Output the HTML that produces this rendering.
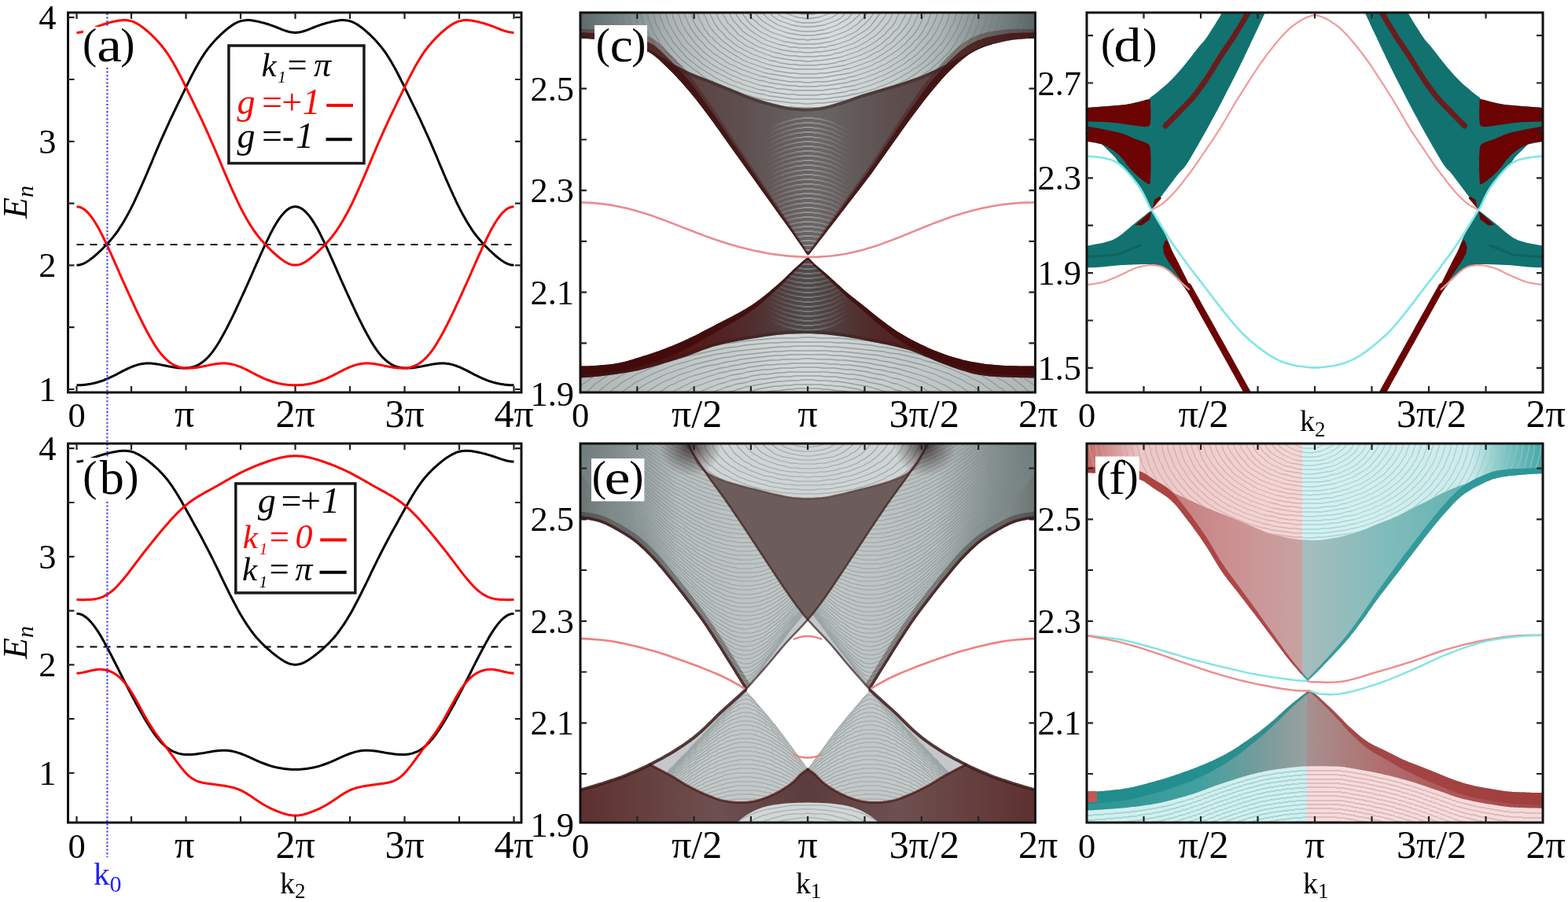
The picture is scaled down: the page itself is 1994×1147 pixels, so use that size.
<!DOCTYPE html>
<html><head><meta charset="utf-8"><title>Band structure figure</title>
<style>html,body{margin:0;padding:0;background:#fff;overflow:hidden}svg{display:block}text{font-family:'Liberation Serif','DejaVu Serif',serif}</style>
</head><body>
<svg width="1994" height="1147" viewBox="0 0 1994 1147"><clipPath id="clc"><rect x="738" y="16" width="578.5" height="483.3"/></clipPath>
<g clip-path="url(#clc)">
<linearGradient id="gcb" x1="738" x2="1316.5" y1="0" y2="0" gradientUnits="userSpaceOnUse"><stop offset="0" stop-color="#5e6a6a"/><stop offset="0.08" stop-color="#6e7878"/><stop offset="0.16" stop-color="#9aa2a2"/><stop offset="0.5" stop-color="#a8aeae"/><stop offset="0.84" stop-color="#9aa2a2"/><stop offset="0.93" stop-color="#707a7a"/><stop offset="1" stop-color="#566262"/></linearGradient>
<path d="M733 11l0 37.3 3 0.1 2.9 0.2 3 0.2 2.9 0.2 3 0.2 2.9 0.3 3 0.3 3 0.3 2.9 0.4 3 0.3 2.9 0.4 3 0.4 2.9 0.5 3 0.5 3 0.5 2.9 0.5 3 0.6 2.9 0.5 3 0.6 2.9 0.6 3 0.7 3 0.7 2.9 0.7 3 0.8 2.9 0.8 3 0.9 2.9 0.9 3 1 3 1 2.9 1.3 3 1.3 2.9 1.7 3 2 2.9 2.3 3 2.5 3 2.7 2.9 2.8 3 2.9 2.9 2.9 3 2.9 2.9 2.9 3 3 3 3.1 2.9 3.2 3 3.2 2.9 3.4 3 3.4 2.9 3.4 3 3.5 3 3.6 2.9 3.6 3 3.8 2.9 3.8 3 3.9 3 3.9 2.9 3.9 3 4 2.9 4 3 4 2.9 4.1 3 4.1 3 4.2 2.9 4.2 3 4.2 2.9 4.2 3 4.2 2.9 4.1 3 4.1 3 4.2 2.9 4.1 3 4.1 2.9 4.2 3 4.1 2.9 4.1 3 4.2 3 4.1 2.9 4.1 3 4.2 2.9 4.1 3 4.2 2.9 4.1 3 4.2 3 4.1 2.9 4.2 3 4.1 2.9 4.1 3 4.1 2.9 4.1 3 4.1 3 4.2 2.9 4.1 3 4.1 2.9 4.2 3 4.3 2.9 4.2 3 4.3 3 4.3 2.9 4.4 3 4.3 2.9 1 3-3.8 2.9-3.8 3-3.8 3-3.9 2.9-3.8 3-3.8 2.9-3.8 3-3.9 2.9-3.8 3-3.8 3-3.8 2.9-3.9 3-3.8 2.9-3.9 3-3.8 2.9-3.8 3-3.9 3-3.8 2.9-3.8 3-3.9 2.9-3.8 3-3.8 2.9-3.8 3-3.9 3-3.9 2.9-3.9 3-4 2.9-4.1 3-4.1 2.9-4.2 3-4.2 3-4.1 2.9-4.2 3-4.2 2.9-4.2 3-4.1 2.9-4.2 3-4.2 3-4.2 2.9-4.1 3-4.2 2.9-4.1 3-4.1 2.9-4 3-3.9 3-4 2.9-4 3-3.9 2.9-3.9 3-3.8 3-3.7 2.9-3.7 3-3.6 2.9-3.5 3-3.5 2.9-3.5 3-3.4 3-3.3 2.9-3.2 3-3.1 2.9-2.9 3-2.8 2.9-2.7 3-2.7 3-2.6 2.9-2.5 3-2.4 2.9-2.2 3-2.1 2.9-1.9 3-1.6 3-1.5 2.9-1.4 3-1.3 2.9-1.2 3-1.1 2.9-1 3-0.9 3-0.8 2.9-0.7 3-0.7 2.9-0.7 3-0.7 2.9-0.6 3-0.7 3-0.5 2.9-0.5 3-0.4 2.9-0.3 3-0.3 2.9-0.2 3-0.3 3-0.2 2.9-0.2 3-0.1 2.9-0.1 3-0.1 2.9 0 3 0.1 0-37.9z" fill="url(#gcb)" />
<linearGradient id="gcw" x1="812" x2="1262" y1="0" y2="0" gradientUnits="userSpaceOnUse"><stop offset="0" stop-color="#5a3434"/><stop offset="0.3" stop-color="#5e5050"/><stop offset="0.5" stop-color="#6a6666"/><stop offset="0.7" stop-color="#5e5050"/><stop offset="1" stop-color="#5a3434"/></linearGradient>
<path d="M812 61.1l2.8 0.9 2.9 1 2.8 1.1 2.8 1.3 2.9 1.4 2.8 1.8 2.8 2 2.8 2.3 2.9 2.4 2.8 2.7 2.8 2.7 2.9 2.8 2.8 2.8 2.8 2.7 2.9 2.8 2.8 2.9 2.8 2.9 2.8 3.1 2.9 3.1 2.8 3.2 2.8 3.2 2.9 3.3 2.8 3.3 2.8 3.4 2.9 3.5 2.8 3.5 2.8 3.7 2.8 3.6 2.9 3.8 2.8 3.8 2.8 3.7 2.9 3.9 2.8 3.8 2.8 3.8 2.9 4 2.8 3.9 2.8 4 2.8 4 2.9 4 2.8 4.1 2.8 4 2.9 3.9 2.8 4 2.8 3.9 2.9 4 2.8 4 2.8 3.9 2.8 4 2.9 3.9 2.8 4 2.8 3.9 2.9 4 2.8 3.9 2.8 4 2.9 4 2.8 4 2.8 3.9 2.9 4 2.8 4 2.8 3.9 2.8 4 2.9 3.9 2.8 4 2.8 3.9 2.9 3.9 2.8 3.9 2.8 4 2.9 4 2.8 4 2.8 4 2.8 4.1 2.9 4.1 2.8 4.1 2.8 4.1 2.9 4.2 2.8 4.2 2.8-2.5 2.9-3.7 2.8-3.6 2.8-3.7 2.8-3.6 2.9-3.7 2.8-3.7 2.8-3.6 2.9-3.7 2.8-3.6 2.8-3.7 2.9-3.7 2.8-3.7 2.8-3.6 2.8-3.7 2.9-3.7 2.8-3.7 2.8-3.6 2.9-3.7 2.8-3.7 2.8-3.6 2.9-3.7 2.8-3.6 2.8-3.7 2.8-3.6 2.9-3.7 2.8-3.8 2.8-3.8 2.9-3.8 2.8-3.9 2.8-4 2.9-4 2.8-4 2.8-4 2.9-4 2.8-4 2.8-4 2.8-4 2.9-4 2.8-4 2.8-4 2.9-3.9 2.8-4 2.8-4 2.9-3.9 2.8-3.9 2.8-3.8 2.8-3.8 2.9-3.8 2.8-3.7 2.8-3.8 2.9-3.7 2.8-3.6 2.8-3.6 2.9-3.5 2.8-3.4 2.8-3.4 2.8-3.3 2.9-3.4 2.8-3.2 2.8-3.2 2.9-3.1 2.8-3 2.8-2.8 2.9-2.8 2.8-2.6 2.8-2.6 2.8-2.5 2.9-2.4 2.8-2.4 2.8-2.2 2.9-2.1 2.8-1.9 2.8-1.7 2.9-1.6 2.8-1.4 2.8-1.3 2.8-1.2 2.9-1.2 2.8-1 2.8-0.9 2.9-0.9 2.8-0.8 0-2.2-2.8 1-2.9 1.1-2.8 1.2-2.8 1.1-2.9 1.2-2.8 1.3-2.8 1.3-2.8 1.4-2.9 1.4-2.8 1.5-2.8 1.5-2.9 1.4-2.8 1.5-2.8 1.4-2.9 1.4-2.8 1.5-2.8 1.4-2.8 1.4-2.9 1.4-2.8 1.4-2.8 1.4-2.9 1.4-2.8 1.3-2.8 1.4-2.9 1.3-2.8 1.3-2.8 1.4-2.8 1.3-2.9 1.2-2.8 1.3-2.8 1.1-2.9 1.2-2.8 1.1-2.8 1-2.9 1.1-2.8 1-2.8 1-2.8 0.9-2.9 1-2.8 0.9-2.8 0.9-2.9 0.9-2.8 0.9-2.8 0.9-2.9 0.8-2.8 0.8-2.8 0.9-2.8 0.8-2.9 0.8-2.8 0.8-2.8 0.9-2.9 0.8-2.8 0.8-2.8 0.9-2.9 0.8-2.8 0.8-2.8 0.9-2.9 0.8-2.8 0.9-2.8 0.9-2.8 1-2.9 1-2.8 1-2.8 1-2.9 1-2.8 1-2.8 1-2.9 0.9-2.8 0.9-2.8 0.8-2.8 0.9-2.9 0.8-2.8 0.8-2.8 0.8-2.9 0.7-2.8 0.6-2.8 0.5-2.9 0.4-2.8 0.3-2.8 0.3-2.8 0.2-2.9 0.1-2.8 0.1-2.8 0-2.9-0.1-2.8-0.1-2.8-0.2-2.9-0.1-2.8-0.2-2.8-0.3-2.8-0.3-2.9-0.5-2.8-0.5-2.8-0.6-2.9-0.6-2.8-0.7-2.8-0.7-2.9-0.7-2.8-0.7-2.8-0.7-2.8-0.8-2.9-0.8-2.8-0.8-2.8-0.9-2.9-0.9-2.8-0.9-2.8-0.9-2.9-1-2.8-1-2.8-1.1-2.9-1.1-2.8-1.2-2.8-1.1-2.8-1.2-2.9-1.2-2.8-1.2-2.8-1.1-2.9-1.2-2.8-1.1-2.8-1.2-2.9-1.1-2.8-1.1-2.8-1.2-2.8-1.1-2.9-1.1-2.8-1.2-2.8-1.1-2.9-1.1-2.8-1.1-2.8-1.1-2.9-1.1-2.8-1.1-2.8-1.1-2.8-1.1-2.9-1.2-2.8-1.3-2.8-1.3-2.9-1.3-2.8-1.4-2.8-1.4-2.9-1.5-2.8-1.4-2.8-1.5-2.8-1.5-2.9-1.6-2.8-1.5-2.8-1.7-2.9-1.7-2.8-1.7-2.8-1.7-2.9-1.7-2.8-1.7-2.8-1.7-2.8-1.6-2.9-1.6-2.8-1.6-2.8-1.6-2.9-1.5-2.8-1.5z" fill="url(#gcw)" />
<linearGradient id="gcwm" x1="975" x2="1080" y1="0" y2="0" gradientUnits="userSpaceOnUse"><stop offset="0" stop-color="#d8dede" stop-opacity="0"/><stop offset="0.5" stop-color="#d8dede" stop-opacity="0.8"/><stop offset="1" stop-color="#d8dede" stop-opacity="0"/></linearGradient>
<clipPath id="h1"><path d="M812 61.1l2.8 0.9 2.9 1 2.8 1.1 2.8 1.3 2.9 1.4 2.8 1.8 2.8 2 2.8 2.3 2.9 2.4 2.8 2.7 2.8 2.7 2.9 2.8 2.8 2.8 2.8 2.7 2.9 2.8 2.8 2.9 2.8 2.9 2.8 3.1 2.9 3.1 2.8 3.2 2.8 3.2 2.9 3.3 2.8 3.3 2.8 3.4 2.9 3.5 2.8 3.5 2.8 3.7 2.8 3.6 2.9 3.8 2.8 3.8 2.8 3.7 2.9 3.9 2.8 3.8 2.8 3.8 2.9 4 2.8 3.9 2.8 4 2.8 4 2.9 4 2.8 4.1 2.8 4 2.9 3.9 2.8 4 2.8 3.9 2.9 4 2.8 4 2.8 3.9 2.8 4 2.9 3.9 2.8 4 2.8 3.9 2.9 4 2.8 3.9 2.8 4 2.9 4 2.8 4 2.8 3.9 2.9 4 2.8 4 2.8 3.9 2.8 4 2.9 3.9 2.8 4 2.8 3.9 2.9 3.9 2.8 3.9 2.8 4 2.9 4 2.8 4 2.8 4 2.8 4.1 2.9 4.1 2.8 4.1 2.8 4.1 2.9 4.2 2.8 4.2 2.8-2.5 2.9-3.7 2.8-3.6 2.8-3.7 2.8-3.6 2.9-3.7 2.8-3.7 2.8-3.6 2.9-3.7 2.8-3.6 2.8-3.7 2.9-3.7 2.8-3.7 2.8-3.6 2.8-3.7 2.9-3.7 2.8-3.7 2.8-3.6 2.9-3.7 2.8-3.7 2.8-3.6 2.9-3.7 2.8-3.6 2.8-3.7 2.8-3.6 2.9-3.7 2.8-3.8 2.8-3.8 2.9-3.8 2.8-3.9 2.8-4 2.9-4 2.8-4 2.8-4 2.9-4 2.8-4 2.8-4 2.8-4 2.9-4 2.8-4 2.8-4 2.9-3.9 2.8-4 2.8-4 2.9-3.9 2.8-3.9 2.8-3.8 2.8-3.8 2.9-3.8 2.8-3.7 2.8-3.8 2.9-3.7 2.8-3.6 2.8-3.6 2.9-3.5 2.8-3.4 2.8-3.4 2.8-3.3 2.9-3.4 2.8-3.2 2.8-3.2 2.9-3.1 2.8-3 2.8-2.8 2.9-2.8 2.8-2.6 2.8-2.6 2.8-2.5 2.9-2.4 2.8-2.4 2.8-2.2 2.9-2.1 2.8-1.9 2.8-1.7 2.9-1.6 2.8-1.4 2.8-1.3 2.8-1.2 2.9-1.2 2.8-1 2.8-0.9 2.9-0.9 2.8-0.8 0-2.2-2.8 1-2.9 1.1-2.8 1.2-2.8 1.1-2.9 1.2-2.8 1.3-2.8 1.3-2.8 1.4-2.9 1.4-2.8 1.5-2.8 1.5-2.9 1.4-2.8 1.5-2.8 1.4-2.9 1.4-2.8 1.5-2.8 1.4-2.8 1.4-2.9 1.4-2.8 1.4-2.8 1.4-2.9 1.4-2.8 1.3-2.8 1.4-2.9 1.3-2.8 1.3-2.8 1.4-2.8 1.3-2.9 1.2-2.8 1.3-2.8 1.1-2.9 1.2-2.8 1.1-2.8 1-2.9 1.1-2.8 1-2.8 1-2.8 0.9-2.9 1-2.8 0.9-2.8 0.9-2.9 0.9-2.8 0.9-2.8 0.9-2.9 0.8-2.8 0.8-2.8 0.9-2.8 0.8-2.9 0.8-2.8 0.8-2.8 0.9-2.9 0.8-2.8 0.8-2.8 0.9-2.9 0.8-2.8 0.8-2.8 0.9-2.9 0.8-2.8 0.9-2.8 0.9-2.8 1-2.9 1-2.8 1-2.8 1-2.9 1-2.8 1-2.8 1-2.9 0.9-2.8 0.9-2.8 0.8-2.8 0.9-2.9 0.8-2.8 0.8-2.8 0.8-2.9 0.7-2.8 0.6-2.8 0.5-2.9 0.4-2.8 0.3-2.8 0.3-2.8 0.2-2.9 0.1-2.8 0.1-2.8 0-2.9-0.1-2.8-0.1-2.8-0.2-2.9-0.1-2.8-0.2-2.8-0.3-2.8-0.3-2.9-0.5-2.8-0.5-2.8-0.6-2.9-0.6-2.8-0.7-2.8-0.7-2.9-0.7-2.8-0.7-2.8-0.7-2.8-0.8-2.9-0.8-2.8-0.8-2.8-0.9-2.9-0.9-2.8-0.9-2.8-0.9-2.9-1-2.8-1-2.8-1.1-2.9-1.1-2.8-1.2-2.8-1.1-2.8-1.2-2.9-1.2-2.8-1.2-2.8-1.1-2.9-1.2-2.8-1.1-2.8-1.2-2.9-1.1-2.8-1.1-2.8-1.2-2.8-1.1-2.9-1.1-2.8-1.2-2.8-1.1-2.9-1.1-2.8-1.1-2.8-1.1-2.9-1.1-2.8-1.1-2.8-1.1-2.8-1.1-2.9-1.2-2.8-1.3-2.8-1.3-2.9-1.3-2.8-1.4-2.8-1.4-2.9-1.5-2.8-1.4-2.8-1.5-2.8-1.5-2.9-1.6-2.8-1.5-2.8-1.7-2.9-1.7-2.8-1.7-2.8-1.7-2.9-1.7-2.8-1.7-2.8-1.7-2.8-1.6-2.9-1.6-2.8-1.6-2.8-1.6-2.9-1.5-2.8-1.5z"/></clipPath>
<path d="M970 170l4-3 4-2 4-3 4-2 4-2 4-1 4-2 4-1 4-1 4-1 4-1 4 0 4-1 4 0 3 0 4 0 4 1 4 0 4 1 4 1 4 1 4 1 4 2 4 2 4 2 4 2 4 2 4 2 4 3M970 176l4-3 4-2 4-3 4-2 4-2 4-1 4-2 4-1 4-1 4-1 4-1 4 0 4-1 4 0 3 0 4 0 4 1 4 0 4 1 4 1 4 1 4 1 4 2 4 2 4 2 4 2 4 2 4 2 4 3M970 182l4-3 4-2 4-3 4-2 4-2 4-1 4-2 4-1 4-1 4-1 4-1 4 0 4-1 4 0 3 0 4 0 4 1 4 0 4 1 4 1 4 1 4 1 4 2 4 2 4 2 4 2 4 2 4 2 4 3M970 188l4-3 4-2 4-3 4-2 4-2 4-1 4-2 4-1 4-1 4-1 4-1 4 0 4-1 4 0 3 0 4 0 4 1 4 0 4 1 4 1 4 1 4 1 4 2 4 2 4 2 4 2 4 2 4 2 4 3M970 194l4-3 4-2 4-3 4-2 4-2 4-1 4-2 4-1 4-1 4-1 4-1 4 0 4-1 4 0 3 0 4 0 4 1 4 0 4 1 4 1 4 1 4 1 4 2 4 2 4 2 4 2 4 2 4 2 4 3M970 200l4-3 4-2 4-3 4-2 4-2 4-1 4-2 4-1 4-1 4-1 4-1 4 0 4-1 4 0 3 0 4 0 4 1 4 0 4 1 4 1 4 1 4 1 4 2 4 2 4 2 4 2 4 2 4 2 4 3M970 206l4-3 4-2 4-3 4-2 4-2 4-1 4-2 4-1 4-1 4-1 4-1 4 0 4-1 4 0 3 0 4 0 4 1 4 0 4 1 4 1 4 1 4 1 4 2 4 2 4 2 4 2 4 2 4 2 4 3M970 212l4-3 4-2 4-3 4-2 4-2 4-1 4-2 4-1 4-1 4-1 4-1 4 0 4-1 4 0 3 0 4 0 4 1 4 0 4 1 4 1 4 1 4 1 4 2 4 2 4 2 4 2 4 2 4 2 4 3M970 218l4-3 4-2 4-3 4-2 4-2 4-1 4-2 4-1 4-1 4-1 4-1 4 0 4-1 4 0 3 0 4 0 4 1 4 0 4 1 4 1 4 1 4 1 4 2 4 2 4 2 4 2 4 2 4 2 4 3M970 224l4-3 4-2 4-3 4-2 4-2 4-1 4-2 4-1 4-1 4-1 4-1 4 0 4-1 4 0 3 0 4 0 4 1 4 0 4 1 4 1 4 1 4 1 4 2 4 2 4 2 4 2 4 2 4 2 4 3M970 230l4-3 4-2 4-3 4-2 4-2 4-1 4-2 4-1 4-1 4-1 4-1 4 0 4-1 4 0 3 0 4 0 4 1 4 0 4 1 4 1 4 1 4 1 4 2 4 2 4 2 4 2 4 2 4 2 4 3M970 236l4-3 4-2 4-3 4-2 4-2 4-1 4-2 4-1 4-1 4-1 4-1 4 0 4-1 4 0 3 0 4 0 4 1 4 0 4 1 4 1 4 1 4 1 4 2 4 2 4 2 4 2 4 2 4 2 4 3M970 242l4-3 4-2 4-3 4-2 4-2 4-1 4-2 4-1 4-1 4-1 4-1 4 0 4-1 4 0 3 0 4 0 4 1 4 0 4 1 4 1 4 1 4 1 4 2 4 2 4 2 4 2 4 2 4 2 4 3M970 248l4-3 4-2 4-3 4-2 4-2 4-1 4-2 4-1 4-1 4-1 4-1 4 0 4-1 4 0 3 0 4 0 4 1 4 0 4 1 4 1 4 1 4 1 4 2 4 2 4 2 4 2 4 2 4 2 4 3M970 254l4-3 4-2 4-3 4-2 4-2 4-1 4-2 4-1 4-1 4-1 4-1 4 0 4-1 4 0 3 0 4 0 4 1 4 0 4 1 4 1 4 1 4 1 4 2 4 2 4 2 4 2 4 2 4 2 4 3M970 260l4-3 4-2 4-3 4-2 4-2 4-1 4-2 4-1 4-1 4-1 4-1 4 0 4-1 4 0 3 0 4 0 4 1 4 0 4 1 4 1 4 1 4 1 4 2 4 2 4 2 4 2 4 2 4 2 4 3M970 266l4-3 4-2 4-3 4-2 4-2 4-1 4-2 4-1 4-1 4-1 4-1 4 0 4-1 4 0 3 0 4 0 4 1 4 0 4 1 4 1 4 1 4 1 4 2 4 2 4 2 4 2 4 2 4 2 4 3M970 272l4-3 4-2 4-3 4-2 4-2 4-1 4-2 4-1 4-1 4-1 4-1 4 0 4-1 4 0 3 0 4 0 4 1 4 0 4 1 4 1 4 1 4 1 4 2 4 2 4 2 4 2 4 2 4 2 4 3M970 278l4-3 4-2 4-3 4-2 4-2 4-1 4-2 4-1 4-1 4-1 4-1 4 0 4-1 4 0 3 0 4 0 4 1 4 0 4 1 4 1 4 1 4 1 4 2 4 2 4 2 4 2 4 2 4 2 4 3M970 284l4-3 4-2 4-3 4-2 4-2 4-1 4-2 4-1 4-1 4-1 4-1 4 0 4-1 4 0 3 0 4 0 4 1 4 0 4 1 4 1 4 1 4 1 4 2 4 2 4 2 4 2 4 2 4 2 4 3M970 290l4-3 4-2 4-3 4-2 4-2 4-1 4-2 4-1 4-1 4-1 4-1 4 0 4-1 4 0 3 0 4 0 4 1 4 0 4 1 4 1 4 1 4 1 4 2 4 2 4 2 4 2 4 2 4 2 4 3M970 296l4-3 4-2 4-3 4-2 4-2 4-1 4-2 4-1 4-1 4-1 4-1 4 0 4-1 4 0 3 0 4 0 4 1 4 0 4 1 4 1 4 1 4 1 4 2 4 2 4 2 4 2 4 2 4 2 4 3M970 302l4-3 4-2 4-3 4-2 4-2 4-1 4-2 4-1 4-1 4-1 4-1 4 0 4-1 4 0 3 0 4 0 4 1 4 0 4 1 4 1 4 1 4 1 4 2 4 2 4 2 4 2 4 2 4 2 4 3M970 308l4-3 4-2 4-3 4-2 4-2 4-1 4-2 4-1 4-1 4-1 4-1 4 0 4-1 4 0 3 0 4 0 4 1 4 0 4 1 4 1 4 1 4 1 4 2 4 2 4 2 4 2 4 2 4 2 4 3M970 314l4-3 4-2 4-3 4-2 4-2 4-1 4-2 4-1 4-1 4-1 4-1 4 0 4-1 4 0 3 0 4 0 4 1 4 0 4 1 4 1 4 1 4 1 4 2 4 2 4 2 4 2 4 2 4 2 4 3M970 320l4-3 4-2 4-3 4-2 4-2 4-1 4-2 4-1 4-1 4-1 4-1 4 0 4-1 4 0 3 0 4 0 4 1 4 0 4 1 4 1 4 1 4 1 4 2 4 2 4 2 4 2 4 2 4 2 4 3M970 326l4-3 4-2 4-3 4-2 4-2 4-1 4-2 4-1 4-1 4-1 4-1 4 0 4-1 4 0 3 0 4 0 4 1 4 0 4 1 4 1 4 1 4 1 4 2 4 2 4 2 4 2 4 2 4 2 4 3M970 332l4-3 4-2 4-3 4-2 4-2 4-1 4-2 4-1 4-1 4-1 4-1 4 0 4-1 4 0 3 0 4 0 4 1 4 0 4 1 4 1 4 1 4 1 4 2 4 2 4 2 4 2 4 2 4 2 4 3M970 338l4-3 4-2 4-3 4-2 4-2 4-1 4-2 4-1 4-1 4-1 4-1 4 0 4-1 4 0 3 0 4 0 4 1 4 0 4 1 4 1 4 1 4 1 4 2 4 2 4 2 4 2 4 2 4 2 4 3" clip-path="url(#h1)" fill="none" stroke="url(#gcwm)" stroke-width="2.0" opacity="0.5" />
<linearGradient id="gcc" x1="738" x2="1316.5" y1="0" y2="0" gradientUnits="userSpaceOnUse"><stop offset="0" stop-color="#5e6a6a"/><stop offset="0.1" stop-color="#7c8888"/><stop offset="0.2" stop-color="#aeb4b4"/><stop offset="0.3" stop-color="#c4caca"/><stop offset="0.45" stop-color="#d6dada"/><stop offset="0.55" stop-color="#d8dcdc"/><stop offset="0.7" stop-color="#c4caca"/><stop offset="0.8" stop-color="#aab2b2"/><stop offset="0.9" stop-color="#7e8888"/><stop offset="1" stop-color="#5a6666"/></linearGradient>
<path d="M733 11l0 29.8 2 0 1.9 0.1 2 0.2 2 0.1 1.9 0.1 2 0.2 2 0.1 1.9 0.1 2 0.1 2 0.1 2 0.1 1.9 0 2 0.1 2 0.2 1.9 0.1 2 0.1 2 0.2 1.9 0.1 2 0.2 2 0.2 1.9 0.2 2 0.2 2 0.3 1.9 0.2 2 0.2 2 0.3 1.9 0.3 2 0.2 2 0.3 1.9 0.3 2 0.3 2 0.3 2 0.3 1.9 0.4 2 0.4 2 0.4 1.9 0.4 2 0.4 2 0.5 1.9 0.5 2 0.5 2 0.5 1.9 0.6 2 0.6 2 0.7 1.9 0.8 2 0.9 2 1 1.9 1.2 2 1.3 2 1.4 1.9 1.5 2 1.6 2 1.8 2 1.9 1.9 1.9 2 1.9 2 1.9 1.9 2 2 1.9 2 1.9 1.9 2 2 2 2 1.4 1.9 1 2 1 2 1 1.9 1 2 1 2 1 1.9 0.9 2 0.9 2 0.9 1.9 0.9 2 0.9 2 0.8 2 0.8 1.9 0.8 2 0.8 2 0.7 1.9 0.8 2 0.8 2 0.7 1.9 0.8 2 0.7 2 0.8 1.9 0.8 2 0.7 2 0.8 1.9 0.8 2 0.8 2 0.8 1.9 0.8 2 0.8 2 0.8 1.9 0.8 2 0.8 2 0.8 2 0.8 1.9 0.7 2 0.8 2 0.8 1.9 0.9 2 0.8 2 0.8 1.9 0.8 2 0.9 2 0.8 1.9 0.8 2 0.8 2 0.7 1.9 0.8 2 0.7 2 0.7 1.9 0.6 2 0.7 2 0.6 2 0.7 1.9 0.6 2 0.6 2 0.6 1.9 0.6 2 0.5 2 0.6 1.9 0.5 2 0.5 2 0.5 1.9 0.5 2 0.5 2 0.4 1.9 0.5 2 0.5 2 0.5 1.9 0.4 2 0.4 2 0.4 1.9 0.3 2 0.3 2 0.3 2 0.2 1.9 0.1 2 0.1 2 0.2 1.9 0.1 2 0.1 2 0.1 1.9 0 2 0.1 2 0 1.9 0 2-0.1 2-0.1 1.9-0.1 2-0.2 2-0.2 1.9-0.2 2-0.2 2-0.3 1.9-0.3 2-0.4 2-0.4 2-0.5 1.9-0.5 2-0.6 2-0.6 1.9-0.5 2-0.6 2-0.6 1.9-0.6 2-0.6 2-0.6 1.9-0.6 2-0.7 2-0.6 1.9-0.7 2-0.8 2-0.7 1.9-0.7 2-0.7 2-0.7 1.9-0.7 2-0.7 2-0.6 2-0.7 1.9-0.6 2-0.6 2-0.6 1.9-0.5 2-0.6 2-0.6 1.9-0.6 2-0.5 2-0.6 1.9-0.6 2-0.6 2-0.6 1.9-0.5 2-0.6 2-0.6 1.9-0.6 2-0.5 2-0.6 2-0.6 1.9-0.6 2-0.6 2-0.5 1.9-0.6 2-0.7 2-0.6 1.9-0.6 2-0.6 2-0.7 1.9-0.6 2-0.7 2-0.7 1.9-0.6 2-0.7 2-0.7 1.9-0.7 2-0.7 2-0.8 1.9-0.7 2-0.8 2-0.8 2-0.8 1.9-0.9 2-0.8 2-0.9 1.9-0.9 2-0.9 2-0.9 1.9-0.9 2-1 2-0.9 1.9-0.9 2-1 2-0.9 1.9-0.9 2-1.2 2-2.1 1.9-2 2-1.9 2-1.9 1.9-1.8 2-1.8 2-1.8 2-1.6 1.9-1.6 2-1.6 2-1.5 1.9-1.4 2-1.4 2-1.3 1.9-1.2 2-1.2 2-1 1.9-1 2-0.9 2-0.8 1.9-0.8 2-0.8 2-0.7 1.9-0.6 2-0.6 2-0.6 1.9-0.5 2-0.5 2-0.4 2-0.4 1.9-0.4 2-0.4 2-0.3 1.9-0.4 2-0.3 2-0.3 1.9-0.3 2-0.3 2-0.3 1.9-0.3 2-0.2 2-0.2 1.9-0.2 2-0.1 2 0 1.9-0.1 2-0.1 2 0 1.9-0.1 2 0 2 0 2 0 1.9-0.1 2 0 2-0.1 1.9-0.1 2 0 2 0 1.9 0 2 0.1 0-30.4z" fill="url(#gcc)" />
<clipPath id="h2"><path d="M733 11l0 29.8 2 0 1.9 0.1 2 0.2 2 0.1 1.9 0.1 2 0.2 2 0.1 1.9 0.1 2 0.1 2 0.1 2 0.1 1.9 0 2 0.1 2 0.2 1.9 0.1 2 0.1 2 0.2 1.9 0.1 2 0.2 2 0.2 1.9 0.2 2 0.2 2 0.3 1.9 0.2 2 0.2 2 0.3 1.9 0.3 2 0.2 2 0.3 1.9 0.3 2 0.3 2 0.3 2 0.3 1.9 0.4 2 0.4 2 0.4 1.9 0.4 2 0.4 2 0.5 1.9 0.5 2 0.5 2 0.5 1.9 0.6 2 0.6 2 0.7 1.9 0.8 2 0.9 2 1 1.9 1.2 2 1.3 2 1.4 1.9 1.5 2 1.6 2 1.8 2 1.9 1.9 1.9 2 1.9 2 1.9 1.9 2 2 1.9 2 1.9 1.9 2 2 2 2 1.4 1.9 1 2 1 2 1 1.9 1 2 1 2 1 1.9 0.9 2 0.9 2 0.9 1.9 0.9 2 0.9 2 0.8 2 0.8 1.9 0.8 2 0.8 2 0.7 1.9 0.8 2 0.8 2 0.7 1.9 0.8 2 0.7 2 0.8 1.9 0.8 2 0.7 2 0.8 1.9 0.8 2 0.8 2 0.8 1.9 0.8 2 0.8 2 0.8 1.9 0.8 2 0.8 2 0.8 2 0.8 1.9 0.7 2 0.8 2 0.8 1.9 0.9 2 0.8 2 0.8 1.9 0.8 2 0.9 2 0.8 1.9 0.8 2 0.8 2 0.7 1.9 0.8 2 0.7 2 0.7 1.9 0.6 2 0.7 2 0.6 2 0.7 1.9 0.6 2 0.6 2 0.6 1.9 0.6 2 0.5 2 0.6 1.9 0.5 2 0.5 2 0.5 1.9 0.5 2 0.5 2 0.4 1.9 0.5 2 0.5 2 0.5 1.9 0.4 2 0.4 2 0.4 1.9 0.3 2 0.3 2 0.3 2 0.2 1.9 0.1 2 0.1 2 0.2 1.9 0.1 2 0.1 2 0.1 1.9 0 2 0.1 2 0 1.9 0 2-0.1 2-0.1 1.9-0.1 2-0.2 2-0.2 1.9-0.2 2-0.2 2-0.3 1.9-0.3 2-0.4 2-0.4 2-0.5 1.9-0.5 2-0.6 2-0.6 1.9-0.5 2-0.6 2-0.6 1.9-0.6 2-0.6 2-0.6 1.9-0.6 2-0.7 2-0.6 1.9-0.7 2-0.8 2-0.7 1.9-0.7 2-0.7 2-0.7 1.9-0.7 2-0.7 2-0.6 2-0.7 1.9-0.6 2-0.6 2-0.6 1.9-0.5 2-0.6 2-0.6 1.9-0.6 2-0.5 2-0.6 1.9-0.6 2-0.6 2-0.6 1.9-0.5 2-0.6 2-0.6 1.9-0.6 2-0.5 2-0.6 2-0.6 1.9-0.6 2-0.6 2-0.5 1.9-0.6 2-0.7 2-0.6 1.9-0.6 2-0.6 2-0.7 1.9-0.6 2-0.7 2-0.7 1.9-0.6 2-0.7 2-0.7 1.9-0.7 2-0.7 2-0.8 1.9-0.7 2-0.8 2-0.8 2-0.8 1.9-0.9 2-0.8 2-0.9 1.9-0.9 2-0.9 2-0.9 1.9-0.9 2-1 2-0.9 1.9-0.9 2-1 2-0.9 1.9-0.9 2-1.2 2-2.1 1.9-2 2-1.9 2-1.9 1.9-1.8 2-1.8 2-1.8 2-1.6 1.9-1.6 2-1.6 2-1.5 1.9-1.4 2-1.4 2-1.3 1.9-1.2 2-1.2 2-1 1.9-1 2-0.9 2-0.8 1.9-0.8 2-0.8 2-0.7 1.9-0.6 2-0.6 2-0.6 1.9-0.5 2-0.5 2-0.4 2-0.4 1.9-0.4 2-0.4 2-0.3 1.9-0.4 2-0.3 2-0.3 1.9-0.3 2-0.3 2-0.3 1.9-0.3 2-0.2 2-0.2 1.9-0.2 2-0.1 2 0 1.9-0.1 2-0.1 2 0 1.9-0.1 2 0 2 0 2 0 1.9-0.1 2 0 2-0.1 1.9-0.1 2 0 2 0 1.9 0 2 0.1 0-30.4z"/></clipPath>
<path d="M1016-6l0 3 2 2 3 2 4 1 4 0 4-1 3-2 2-2 1-3M1008-6l1 5 3 4 6 3 6 1 7 0 6-1 5-3 4-4 1-5M1000-6l1 5 3 4 4 4 6 3 6 2 7 1 7-1 7-2 6-3 4-4 3-4 1-5M992-6l1 5 2 4 3 4 4 4 6 3 6 2 6 2 7 0 7 0 7-2 6-2 5-3 4-4 4-4 2-4 0-5M984-6l1 5 1 4 3 4 4 4 4 4 5 3 6 2 6 2 7 1 6 1 7-1 7-1 6-2 5-2 6-3 4-4 3-4 3-4 2-4 0-5M976-6l1 5 1 4 2 4 3 4 4 4 4 4 5 3 6 2 6 2 6 2 7 1 6 0 7 0 6-1 7-2 6-2 5-2 5-3 5-4 3-3 3-5 2-4 2-4 0-5M969-6l0 5 1 4 2 4 2 5 4 3 3 4 5 4 5 3 5 2 6 2 6 2 6 1 7 1 6 0 7 0 6-1 7-1 6-2 5-2 6-2 5-3 4-4 4-4 3-3 3-5 1-4 1-4 1-5M961-6l0 4 1 5 2 4 2 5 3 4 3 3 4 4 4 3 5 3 5 3 6 2 6 2 6 2 6 1 7 1 6 0 7 0 6-1 7-1 6-2 6-2 5-2 5-3 5-3 5-3 3-4 4-3 3-4 2-5 1-4 1-5 1-4M953-6l0 4 1 5 2 4 1 5 3 4 3 4 3 3 4 4 5 3 5 3 5 3 5 2 6 2 6 2 6 1 6 1 7 1 6 0 7 0 6-1 6-1 7-1 6-2 5-2 6-2 5-3 5-3 4-3 4-4 4-3 3-4 2-4 2-5 1-4 1-5 0-4M945-6l0 4 1 5 1 4 2 4 2 5 3 4 3 4 4 3 4 4 4 3 5 3 5 3 5 2 6 2 6 2 6 2 6 1 6 1 7 0 6 1 7-1 6 0 6-1 7-1 6-2 6-2 5-2 5-2 6-3 4-3 5-3 4-4 3-3 3-4 3-4 2-5 2-4 1-4 1-5 0-4M937-6l1 5 0 4 2 4 1 5 2 4 3 4 3 4 3 4 4 4 4 3 5 4 5 3 5 2 5 3 6 2 6 2 6 2 7 1 6 1 6 1 7 0 7 0 6 0 7-1 6-1 6-1 6-2 6-2 6-2 6-3 5-2 5-3 4-4 4-3 4-4 4-4 3-4 2-4 2-4 2-5 1-4 1-4 0-5M930-6l0 5 0 4 1 4 2 5 2 4 2 4 3 4 3 4 4 4 4 4 4 3 4 3 5 3 5 3 6 3 5 2 6 2 6 2 6 1 7 2 6 0 6 1 7 0 7 0 6 0 7-1 6 0 6-2 6-1 6-2 6-2 6-2 5-3 5-3 5-3 5-3 4-3 4-4 3-4 3-4 3-4 3-4 2-4 1-5 1-4 1-4 0-5M922-6l0 4 0 5 1 4 2 5 2 4 2 4 2 4 3 4 4 4 3 4 4 4 4 3 5 3 5 3 5 3 5 3 5 2 6 2 6 2 6 2 6 1 7 1 6 1 7 0 6 1 7 0 6-1 6 0 7-1 6-1 6-1 6-2 6-2 6-2 6-2 5-3 5-3 5-3 4-3 4-3 4-4 4-4 3-4 3-4 3-4 2-4 2-4 1-5 1-4 1-5 0-4M914-6l0 4 1 5 1 4 1 5 1 4 2 4 3 4 2 5 4 3 3 4 4 4 3 4 5 3 4 3 5 3 5 3 5 3 6 2 5 2 6 2 6 2 6 1 6 2 7 1 6 0 7 1 6 0 6 0 7 0 6-1 7 0 6-1 6-2 6-1 6-2 6-2 6-2 5-2 5-3 6-3 4-3 5-3 4-3 4-4 4-4 3-4 3-3 3-5 2-4 2-4 2-4 1-5 1-4 0-5 1-4M906-6l0 4 1 5 1 4 1 5 1 4 2 4 2 4 3 5 3 4 3 3 3 4 4 4 4 3 4 4 5 3 4 3 5 3 6 2 5 3 6 2 5 2 6 2 6 2 6 1 6 1 7 1 6 1 7 0 6 1 6 0 7-1 6 0 7-1 6-1 6-1 6-1 6-2 6-2 6-2 6-2 5-3 5-2 5-3 5-3 4-3 5-4 4-3 3-4 4-4 3-3 3-4 2-5 2-4 2-4 2-4 1-5 1-4 0-5 0-4M898-6l0 4 1 5 1 4 1 5 1 4 2 4 2 4 2 5 3 4 3 4 3 3 4 4 3 4 4 3 5 4 4 3 5 3 5 3 5 2 5 3 6 2 5 2 6 2 6 2 6 1 6 2 7 1 6 1 6 0 7 1 6 0 6 0 7 0 6-1 7 0 6-1 6-1 6-2 6-1 6-2 6-2 6-2 5-2 6-3 5-2 5-3 4-3 5-3 4-4 4-3 4-4 3-4 4-3 3-4 2-4 3-5 2-4 1-4 2-4 1-5 1-4 0-5 0-4M890-6l1 4 0 5 1 4 1 5 1 4 2 4 2 4 2 5 2 4 3 4 3 4 3 3 4 4 4 4 4 3 4 3 5 4 4 3 5 2 5 3 6 3 5 2 6 2 5 2 6 2 6 2 6 1 6 1 7 1 6 1 6 1 7 0 6 0 6 0 7 0 6 0 7-1 6-1 6-1 6-1 6-1 6-2 6-2 6-2 6-2 5-2 5-3 5-3 5-2 5-3 4-4 5-3 4-3 3-4 4-4 3-3 3-4 3-4 3-4 2-5 2-4 1-4 2-4 1-5 1-4 0-5 0-4M883-6l0 4 0 5 1 4 1 5 1 4 2 4 1 4 3 5 2 4 2 4 3 4 3 4 4 3 3 4 4 3 4 4 5 3 4 3 5 3 5 3 5 3 5 3 5 2 6 2 5 2 6 2 6 2 6 1 6 2 6 1 7 1 6 1 6 0 7 1 6 0 6 0 7 0 6-1 7 0 6-1 6-1 6-1 6-2 6-1 6-2 6-2 6-2 5-2 6-2 5-3 5-3 5-3 4-3 5-3 4-3 4-4 4-3 4-4 3-3 3-4 3-4 3-4 2-4 2-5 2-4 1-4 2-4 1-5 0-4 1-5 0-4M875-6l0 4 0 5 1 4 1 5 1 4 2 4 1 4 2 5 2 4 3 4 3 4 3 4 3 3 3 4 4 4 4 3 4 4 4 3 5 3 4 3 5 3 5 3 5 2 6 3 5 2 6 2 5 2 6 2 6 2 6 1 6 1 6 1 7 1 6 1 6 1 7 0 6 0 6 0 7 0 6 0 7-1 6-1 6-1 6-1 6-1 6-1 6-2 6-2 6-2 6-2 5-2 5-3 5-2 5-3 5-3 5-3 4-3 5-3 4-4 4-3 3-4 4-4 3-3 3-4 3-4 2-4 2-4 2-5 2-4 1-4 2-4 1-5 0-4 1-5 0-4M867-6l0 4 0 5 1 4 1 5 1 4 1 4 2 4 2 5 2 4 2 4 3 4 3 4 3 4 3 3 4 4 3 4 4 3 4 4 5 3 4 3 5 3 4 3 5 3 6 2 5 3 5 2 6 2 5 2 6 2 6 2 6 1 6 2 6 1 6 1 7 1 6 1 6 0 7 0 6 1 6 0 7-1 6 0 6 0 7-1 6-1 6-1 6-1 6-2 6-1 6-2 6-2 6-2 5-2 6-2 5-3 5-2 5-3 5-3 5-3 4-3 4-3 4-4 4-3 4-4 3-4 4-3 3-4 3-4 2-4 2-4 3-4 1-5 2-4 1-4 2-4 0-5 1-4 0-5 1-4M859-6l0 5 1 4 0 5 1 4 1 5 2 4 2 5 1 4 3 5 2 4 3 4 3 4 3 4 3 4 4 4 4 4 4 4 4 3 5 4 5 3 4 3 5 3 6 3 5 3 6 2 5 3 6 2 6 2 6 2 6 2 6 1 7 2 6 1 7 1 6 1 7 1 7 0 6 1 7 0 7 0 6 0 7-1 7 0 6-1 7-1 6-1 7-1 6-2 6-1 6-2 7-2 5-2 6-2 6-3 5-2 6-3 5-3 5-3 5-3 5-3 4-4 4-3 5-4 3-4 4-4 3-4 4-4 3-4 2-4 3-4 2-5 2-4 2-5 1-4 1-5 1-4 1-5 0-4 0-5M851-6l0 5 1 5 0 4 1 5 2 5 1 5 2 4 2 5 2 5 3 4 3 4 3 5 3 4 4 4 4 4 4 4 4 4 4 4 5 3 5 4 5 3 5 3 6 3 5 3 6 3 6 2 6 3 7 2 6 2 6 2 7 2 7 1 6 1 7 2 7 0 7 1 7 1 7 0 7 0 7 0 7 0 7 0 7-1 7-1 6 0 7-2 7-1 7-1 6-2 7-2 6-2 6-2 6-3 6-2 6-3 6-3 5-3 5-3 5-3 5-4 5-3 5-4 4-4 4-4 4-4 3-4 4-4 3-5 3-4 2-4 2-5 3-5 1-4 2-5 1-5 1-5 1-4 0-5 0-5M843-6l1 5 0 5 1 5 1 5 1 5 2 5 1 5 3 5 2 4 3 5 3 5 3 4 3 5 4 4 4 4 4 4 5 4 5 4 4 4 6 4 5 3 5 3 6 3 6 3 6 3 6 3 7 2 6 3 7 2 6 2 7 2 7 1 7 2 7 1 8 1 7 1 7 0 7 1 8 0 7 0 7 0 7-1 8 0 7-1 7-1 7-1 7-2 7-1 7-2 7-2 6-2 7-3 6-2 6-3 7-3 5-3 6-3 6-3 5-3 5-4 5-4 5-4 4-4 4-4 4-4 4-4 4-5 3-4 3-5 2-5 3-4 2-5 2-5 1-5 2-5 1-5 1-5 0-5 0-5M836-6l0 5 0 6 1 5 1 5 1 5 2 5 2 5 2 5 3 5 3 5 3 5 3 5 4 4 4 5 4 4 4 5 5 4 5 4 5 4 5 3 6 4 5 3 6 4 6 3 7 3 6 3 7 2 7 3 7 2 7 2 7 2 7 1 7 2 8 1 7 1 8 1 7 1 8 0 7 0 8 0 8 0 7 0 8-1 7-1 8-1 7-1 8-2 7-1 7-2 7-2 7-2 7-3 6-2 7-3 6-3 6-3 6-4 6-3 5-4 6-3 5-4 5-4 4-4 5-5 4-4 4-5 4-4 3-5 3-5 3-5 2-5 3-5 2-5 1-5 2-5 1-5 0-5 1-6 0-5M828-6l0 5 0 6 1 5 1 6 2 5 1 6 2 5 3 5 2 5 3 5 4 5 3 5 4 5 4 5 4 4 5 5 5 4 5 4 5 4 6 4 5 4 6 4 7 3 6 3 6 3 7 3 7 3 7 2 7 3 8 2 7 2 8 2 7 1 8 1 8 1 8 1 7 1 8 0 8 1 8 0 8-1 8 0 8-1 8-1 8-1 7-1 8-1 7-2 8-2 7-2 7-3 7-2 7-3 7-3 7-3 6-3 6-3 6-4 6-4 5-4 6-4 5-4 5-4 4-5 5-4 4-5 3-5 4-5 3-5 3-5 3-5 2-5 2-5 2-6 1-5 1-6 1-5 1-6 0-5M820-6l0 6 1 5 0 6 2 6 1 5 2 6 2 5 2 6 3 5 3 5 3 6 4 5 4 5 4 5 5 4 4 5 6 4 5 5 5 4 6 4 6 4 6 4 7 3 6 4 7 3 7 3 7 3 8 2 7 3 8 2 7 2 8 2 8 1 8 2 8 1 8 1 9 0 8 1 8 0 8 0 9 0 8-1 8 0 8-1 8-1 8-2 8-1 8-2 8-2 7-2 8-3 7-2 7-3 7-3 7-3 7-4 6-3 6-4 6-4 6-4 6-4 5-5 5-4 5-5 4-4 5-5 3-5 4-5 3-6 3-5 3-5 3-6 2-5 2-6 1-5 1-6 1-6 0-5 1-6M812-6l0 6 1 6 1 6 1 6 1 5 2 6 2 6 3 5 3 6 3 5 3 6 4 5 4 5 5 5 4 5 5 5 5 5 6 4 6 5 6 4 6 4 6 4 7 4 7 3 7 3 7 4 8 2 7 3 8 3 8 2 8 2 8 2 8 1 9 2 8 1 8 1 9 1 8 0 9 0 9 0 8 0 9 0 8-1 9-1 8-1 8-2 8-1 9-2 8-2 8-2 7-3 8-3 7-2 8-4 7-3 7-3 6-4 7-4 6-4 6-4 6-5 5-4 5-5 5-5 5-5 4-5 4-5 4-5 4-6 3-5 3-6 2-5 2-6 2-6 2-5 1-6 1-6 0-6 0-6M804-6l0 6 1 6 1 6 1 6 2 6 2 6 2 6 2 6 3 6 4 6 3 5 4 6 4 5 5 5 5 5 5 5 5 5 6 5 6 4 6 5 7 4 6 4 7 4 7 3 8 4 7 3 8 3 8 3 8 3 8 2 8 2 9 2 8 2 9 1 9 1 8 1 9 1 9 1 9 0 9 0 9 0 8-1 9-1 9-1 9-1 8-1 9-2 8-2 9-2 8-2 8-3 8-3 7-3 8-3 7-4 7-3 7-4 7-4 6-4 7-5 6-4 5-5 6-5 5-5 5-5 4-5 4-5 4-6 4-5 3-6 3-6 3-6 2-6 2-6 1-6 2-6 1-6 0-6 0-6M796-6l1 6 0 7 1 6 1 6 2 6 2 7 2 6 3 6 3 6 3 6 4 5 4 6 5 6 4 5 5 5 6 6 5 5 6 4 6 5 7 5 6 4 7 4 7 4 8 4 7 3 8 4 8 3 8 3 9 3 8 2 9 2 8 2 9 2 9 1 9 2 9 1 9 0 9 1 10 0 9 0 9 0 9-1 9 0 9-1 9-2 9-1 9-2 9-2 8-2 9-2 8-3 8-3 8-3 8-4 8-3 7-4 7-4 7-4 7-4 6-5 6-5 6-4 6-5 5-6 5-5 5-5 4-6 4-6 4-5 3-6 4-6 2-6 3-6 2-7 1-6 1-6 1-6 1-7 0-6M789-6l0 7 0 6 1 7 2 6 1 7 2 6 3 6 3 6 3 7 3 6 4 6 4 6 5 5 5 6 5 5 5 6 6 5 6 5 7 5 6 5 7 4 7 4 8 4 7 4 8 4 8 3 8 4 9 3 8 2 9 3 9 2 9 2 9 2 9 2 10 1 9 1 10 1 9 0 10 1 9 0 9-1 10 0 9-1 10-1 9-1 9-2 9-2 9-2 9-2 9-3 9-2 8-3 8-4 8-3 8-4 8-4 7-4 7-4 7-4 7-5 6-5 6-5 6-5 6-6 5-5 5-6 4-5 4-6 4-6 4-6 3-7 3-6 2-6 2-6 2-7 1-6 1-7 1-6 0-7M781-6l0 7 1 7 1 6 1 7 2 7 2 6 2 7 3 6 3 7 4 6 4 6 4 6 5 6 5 6 5 5 6 6 6 5 6 6 7 5 7 4 7 5 7 4 8 5 8 4 8 4 8 3 9 3 8 4 9 2 9 3 10 2 9 2 9 2 10 2 9 1 10 1 10 1 10 1 9 0 10 0 10 0 10-1 9-1 10-1 10-1 9-2 10-2 9-2 9-2 9-3 9-2 9-4 8-3 9-3 8-4 8-4 7-5 8-4 7-5 7-4 6-5 7-6 6-5 5-6 6-5 5-6 4-6 5-6 4-6 3-6 3-7 3-6 3-7 2-6 2-7 1-7 1-6 1-7 0-7M773-6l0 7 1 7 1 7 1 7 2 7 2 6 3 7 3 7 3 6 4 7 4 6 4 7 5 6 5 6 6 6 6 5 6 6 6 5 7 5 7 5 8 5 7 5 8 4 8 4 9 4 8 4 9 3 9 3 9 3 9 3 10 2 10 3 9 2 10 1 10 2 10 1 10 1 10 0 10 0 10 0 10 0 10 0 11-1 10-1 9-2 10-1 10-2 10-3 9-2 9-3 10-3 9-3 8-3 9-4 8-4 8-4 8-4 8-5 7-5 7-5 7-5 7-5 6-6 6-5 5-6 5-6 5-6 5-7 4-6 3-7 4-6 3-7 2-7 3-6 1-7 2-7 1-7 0-7 1-7M765-6l0 7 1 7 1 8 1 7 2 7 3 7 2 7 3 7 4 6 4 7 4 7 4 6 5 6 6 7 5 6 6 5 7 6 6 6 7 5 8 5 7 5 8 5 8 4 9 5 8 4 9 3 9 4 9 3 10 3 10 3 9 3 10 2 10 2 10 1 11 2 10 1 10 1 11 0 10 1 10 0 11-1 10 0 11-1 10-1 10-2 10-1 10-2 10-2 10-3 10-3 9-3 9-3 9-4 9-3 9-4 8-5 8-4 8-5 8-5 7-5 7-5 7-6 6-6 6-5 6-6 5-7 5-6 5-6 4-7 4-7 3-6 3-7 3-7 2-7 2-7 2-7 1-8 0-7 0-7M760 20l2 7 2 7 2 7 3 7 3 7 4 6 3 7 5 6 4 7 5 6 6 6 5 6 6 6 6 5 7 6 7 5 7 5 7 5 8 5 8 4 8 4 8 4 9 4 9 4 9 3 9 3 9 3 10 3 9 2 10 2 10 2 10 2 10 1 10 1 10 1 11 1 10 0 10 0 10 0 11-1 10 0 10-1 10-2 10-1 10-2 10-2 9-2 10-3 9-3 9-3 10-3 8-4 9-4 9-4 8-4 8-4 7-5 8-5 7-5 7-5 7-5 6-6 6-6 6-6 5-6 5-6 5-6 4-6 4-7 4-7 3-6 3-7 2-7 2-7 2-7 1-7 1-7 1-7 0-7M760 46l3 7 3 6 3 6 4 6 4 6 4 5 4 6 5 6 5 5 5 6 6 5 6 5 6 5 6 5 7 4 6 5 7 4 8 4 7 4 7 4 8 4 8 3 8 4 9 3 8 3 8 2 9 3 9 2 9 2 9 2 9 2 9 1 9 2 10 1 9 0 9 1 10 0 9 1 9 0 10-1 9 0 10-1 9-1 9-1 9-1 9-2 9-2 9-2 9-2 9-2 9-3 8-3 8-3 9-3 8-3 7-4 8-4 8-4 7-4 7-4 7-4 6-5 7-5 6-5 6-5 6-5 5-5 5-6 5-5 5-6 4-6 4-5 4-6 3-6 3-7 3-6 3-6 2-6 2-7M760 64l3 5 4 6 4 6 4 5 4 6 5 5 4 5 5 5 6 5 5 5 6 5 6 4 6 5 6 4 7 5 7 4 6 4 8 3 7 4 7 4 8 3 7 3 8 3 8 3 8 2 9 3 8 2 8 2 9 2 8 2 9 1 9 2 9 1 9 1 8 1 9 0 9 1 9 0 9 0 9 0 9-1 9 0 9-1 9-1 9-1 8-1 9-2 9-2 8-1 9-3 8-2 8-2 8-3 8-3 8-3 8-3 7-3 8-4 7-3 7-4 7-4 7-4 6-4 7-5 6-4 6-5 6-4 5-5 5-5 6-5 4-6 5-5 4-5 4-6 4-5 4-6 3-6 3-6 3-5M760 78l4 5 4 5 4 6 4 5 5 5 5 5 5 5 5 5 5 4 6 5 6 4 6 4 6 5 6 4 7 4 7 3 7 4 7 4 7 3 7 3 8 3 7 3 8 3 8 3 8 2 8 2 8 2 8 2 8 2 9 2 8 1 9 1 8 2 9 0 8 1 9 1 9 0 8 0 9 0 9 0 8 0 9-1 9 0 8-1 9-1 8-1 9-2 8-1 8-2 9-2 8-2 8-2 8-2 8-3 7-3 8-3 8-3 7-3 7-3 7-4 7-3 7-4 7-4 6-4 6-4 6-4 6-5 6-4 6-5 5-4 5-5 5-5 5-5 4-5 4-6 4-5 4-5 4-6 3-5M760 90l4 5 4 5 5 5 4 5 5 5 5 5 5 4 6 5 5 4 6 4 6 5 6 4 6 4 7 3 6 4 7 4 7 3 7 3 7 3 7 3 8 3 7 3 8 3 8 2 7 2 8 3 8 2 8 1 8 2 9 2 8 1 8 1 9 1 8 1 8 1 9 0 8 1 9 0 8 0 9 0 8-1 9 0 8-1 8 0 9-1 8-1 8-2 9-1 8-2 8-1 8-2 8-2 8-3 7-2 8-2 8-3 7-3 7-3 8-3 7-3 7-4 6-3 7-4 7-3 6-4 6-4 6-4 6-5 6-4 5-4 6-5 5-5 5-4 4-5 5-5 4-5 4-5 4-5 4-6M760 101l4 5 5 5 4 5 5 4 5 5 5 4 6 5 5 4 6 4 6 4 6 4 6 4 6 4 7 3 6 4 7 3 7 4 7 3 7 3 7 2 8 3 7 3 8 2 7 2 8 3 8 2 8 2 8 1 8 2 8 1 8 2 8 1 8 1 8 0 9 1 8 1 8 0 8 0 9 0 8 0 8 0 9-1 8 0 8-1 8-1 9-1 8-1 8-1 8-2 8-1 8-2 8-2 7-2 8-2 8-3 7-2 7-3 8-3 7-2 7-3 7-4 7-3 6-3 7-4 6-4 7-3 6-4 6-4 6-4 5-4 6-5 5-4 5-5 5-4 5-5 4-5 5-5 4-5 4-5M760 112l4 4 5 5 5 4 5 5 5 4 5 5 6 4 6 4 5 4 6 4 6 3 7 4 6 4 7 3 6 3 7 4 7 3 7 3 7 3 7 2 7 3 8 2 7 3 8 2 7 2 8 2 8 1 8 2 7 2 8 1 8 1 8 1 8 1 9 1 8 1 8 0 8 0 8 1 8 0 9 0 8-1 8 0 8-1 8 0 8-1 8-1 8-1 8-1 8-2 8-1 8-2 8-2 7-2 8-2 8-2 7-2 7-3 8-3 7-2 7-3 7-3 7-3 6-3 7-4 6-3 7-4 6-4 6-3 6-4 5-4 6-4 6-5 5-4 5-4 5-5 5-4 4-5 5-5 4-5M760 121l5 5 5 4 4 5 6 4 5 4 5 4 6 4 6 4 6 4 6 4 6 3 6 4 6 3 7 4 7 3 6 3 7 3 7 2 7 3 7 3 8 2 7 3 7 2 8 2 7 2 8 2 8 1 7 2 8 1 8 2 8 1 8 1 8 1 8 0 8 1 8 0 8 1 8 0 8 0 8 0 8 0 8-1 8 0 8-1 8-1 8 0 8-2 8-1 8-1 8-1 8-2 7-2 8-2 7-2 8-2 7-2 8-2 7-3 7-2 7-3 7-3 7-3 6-3 7-3 7-4 6-3 6-3 6-4 6-4 6-4 6-4 5-4 6-4 5-4 5-4 5-5 5-4 5-5 4-4M760 131l5 4 5 4 5 4 5 5 6 4 5 4 6 3 6 4 6 4 6 3 6 4 6 3 7 4 6 3 7 3 7 3 6 2 7 3 7 3 8 2 7 3 7 2 7 2 8 2 7 2 8 1 8 2 7 2 8 1 8 1 8 1 7 1 8 1 8 1 8 0 8 1 8 0 8 0 8 0 8 0 8 0 8 0 8-1 8 0 8-1 8-1 7-1 8-1 8-1 8-2 7-1 8-2 8-2 7-1 7-2 8-3 7-2 7-2 7-3 7-2 7-3 7-3 7-3 7-3 6-3 6-3 7-4 6-3 6-4 6-3 6-4 5-4 6-4 5-4 6-4 5-5 5-4 4-4 5-5" clip-path="url(#h2)" fill="none" stroke="#6f7f7f" stroke-width="1.3" opacity="0.6" />
<clipPath id="h3"><path d="M733,11 L733,48.3 L736,48.4 L738.9,48.6 L741.9,48.8 L744.8,49 L747.8,49.2 L750.7,49.5 L753.7,49.8 L756.7,50.1 L759.6,50.5 L762.6,50.8 L765.5,51.2 L768.5,51.6 L771.4,52.1 L774.4,52.6 L777.4,53.1 L780.3,53.6 L783.3,54.2 L786.2,54.7 L789.2,55.3 L792.1,55.9 L795.1,56.6 L798.1,57.3 L801,58 L804,58.8 L806.9,59.6 L809.9,60.5 L812.8,61.4 L815.8,62.4 L818.8,63.4 L821.7,64.7 L824.7,66 L827.6,67.7 L830.6,69.7 L833.5,72 L836.5,74.5 L839.5,77.2 L842.4,80 L845.4,82.9 L848.3,85.8 L851.3,88.7 L854.2,91.6 L857.2,94.6 L860.2,97.7 L863.1,100.9 L866.1,104.1 L869,107.5 L872,110.9 L874.9,114.3 L877.9,117.8 L880.9,121.4 L883.8,125 L886.8,128.8 L889.7,132.6 L892.7,136.5 L895.7,140.4 L898.6,144.3 L901.6,148.3 L904.5,152.3 L907.5,156.3 L910.4,160.4 L913.4,164.5 L916.4,168.7 L919.3,172.9 L922.3,177.1 L925.2,181.3 L928.2,185.5 L931.1,189.6 L934.1,193.7 L937.1,197.9 L940,202 L943,206.1 L945.9,210.3 L948.9,214.4 L951.8,218.5 L954.8,222.7 L957.8,226.8 L960.7,230.9 L963.7,235.1 L966.6,239.2 L969.6,243.4 L972.5,247.5 L975.5,251.7 L978.5,255.8 L981.4,260 L984.4,264.1 L987.3,268.2 L990.3,272.3 L993.2,276.4 L996.2,280.5 L999.2,284.7 L1002.1,288.8 L1005.1,292.9 L1008,297.1 L1011,301.4 L1013.9,305.6 L1016.9,309.9 L1019.9,314.2 L1022.8,318.6 L1025.8,322.9 L1028.7,323.9 L1031.7,320.1 L1034.6,316.3 L1037.6,312.5 L1040.6,308.6 L1043.5,304.8 L1046.5,301 L1049.4,297.2 L1052.4,293.3 L1055.3,289.5 L1058.3,285.7 L1061.3,281.9 L1064.2,278 L1067.2,274.2 L1070.1,270.3 L1073.1,266.5 L1076,262.7 L1079,258.8 L1082,255 L1084.9,251.2 L1087.9,247.3 L1090.8,243.5 L1093.8,239.7 L1096.7,235.9 L1099.7,232 L1102.7,228.1 L1105.6,224.2 L1108.6,220.2 L1111.5,216.1 L1114.5,212 L1117.4,207.8 L1120.4,203.6 L1123.4,199.5 L1126.3,195.3 L1129.3,191.1 L1132.2,186.9 L1135.2,182.8 L1138.1,178.6 L1141.1,174.4 L1144.1,170.2 L1147,166.1 L1150,161.9 L1152.9,157.8 L1155.9,153.7 L1158.8,149.7 L1161.8,145.8 L1164.8,141.8 L1167.7,137.8 L1170.7,133.9 L1173.6,130 L1176.6,126.2 L1179.6,122.5 L1182.5,118.8 L1185.5,115.2 L1188.4,111.7 L1191.4,108.2 L1194.3,104.7 L1197.3,101.3 L1200.3,98 L1203.2,94.8 L1206.2,91.7 L1209.1,88.8 L1212.1,86 L1215,83.3 L1218,80.6 L1221,78 L1223.9,75.5 L1226.9,73.1 L1229.8,70.9 L1232.8,68.8 L1235.7,66.9 L1238.7,65.3 L1241.7,63.8 L1244.6,62.4 L1247.6,61.1 L1250.5,59.9 L1253.5,58.8 L1256.4,57.8 L1259.4,56.9 L1262.4,56.1 L1265.3,55.4 L1268.3,54.7 L1271.2,54 L1274.2,53.3 L1277.1,52.7 L1280.1,52 L1283.1,51.5 L1286,51 L1289,50.6 L1291.9,50.3 L1294.9,50 L1297.8,49.8 L1300.8,49.5 L1303.8,49.3 L1306.7,49.1 L1309.7,49 L1312.6,48.9 L1315.6,48.8 L1318.5,48.8 L1321.5,48.9 L1321.5,11Z"/></clipPath>
<g clip-path="url(#h3)">
<path d="M733 49.3l2.5 0.1 2.4 0.1 2.5 0.2 2.4 0.1 2.5 0.2 2.5 0.2 2.4 0.3 2.5 0.2 2.5 0.3 2.4 0.2 2.5 0.3 2.4 0.3 2.5 0.3 2.5 0.4 2.4 0.4 2.5 0.3 2.5 0.5 2.4 0.4 2.5 0.4 2.4 0.5 2.5 0.4 2.5 0.5 2.4 0.5 2.5 0.5 2.5 0.6 2.4 0.5 2.5 0.6 2.4 0.6 2.5 0.7 2.5 0.7 2.4 0.7 2.5 0.8 2.5 0.7 2.4 0.9 2.5 0.9 2.4 1 2.5 1.2 2.5 1.3 2.4 1.5 2.5 1.8 2.5 1.9 2.4 2.1 2.5 2.2 2.4 2.3 2.5 2.4 2.5 2.5 2.4 2.4 2.5 2.4 2.5 2.4 2.4 2.5 2.5 2.5 2.4 2.6 2.5 2.7 2.5 2.7 2.4 2.8 2.5 2.8 2.5 2.8 2.4 2.9 2.5 3 2.4 2.9 2.5 3.1 2.5 3 2.4 3.2 2.5 3.2 2.5 3.2 2.4 3.3 2.5 3.3 2.4 3.3 2.5 3.3 2.5 3.3 2.4 3.4 2.5 3.4 2.5 3.4 2.4 3.5 2.5 3.5 2.4 3.5 2.5 3.5 2.5 3.5 2.4 3.4 2.5 3.5 2.4 3.4 2.5 3.5 2.5 3.4 2.4 3.5 2.5 3.4 2.5 3.4 2.4 3.5 2.5 3.4 2.4 3.5 2.5 3.4 2.5 3.4 2.4 3.5 2.5 3.4 2.5 3.5 2.4 3.5 2.5 3.4 2.4 3.5 2.5 3.4 2.5 3.5 2.4 3.4 2.5 3.5 2.5 3.4 2.4 3.5 2.5 3.4 2.4 3.4 2.5 3.4 2.5 3.4 2.4 3.4 2.5 3.5 2.5 3.4 2.4 3.5 2.5 3.5 2.4 3.5 2.5 3.6 2.5 3.5 2.4 3.6 2.5 3.6 2.5 3.7 2.4 3.6 2.5 0.9 2.4-3.1 2.5-3.2 2.5-3.2 2.4-3.2 2.5-3.2 2.5-3.1 2.4-3.2 2.5-3.2 2.4-3.2 2.5-3.2 2.5-3.2 2.4-3.2 2.5-3.2 2.5-3.1 2.4-3.2 2.5-3.2 2.4-3.2 2.5-3.2 2.5-3.2 2.4-3.2 2.5-3.2 2.5-3.2 2.4-3.2 2.5-3.2 2.4-3.1 2.5-3.2 2.5-3.2 2.4-3.2 2.5-3.2 2.5-3.3 2.4-3.2 2.5-3.4 2.4-3.3 2.5-3.4 2.5-3.5 2.4-3.4 2.5-3.5 2.5-3.5 2.4-3.5 2.5-3.5 2.4-3.5 2.5-3.4 2.5-3.5 2.4-3.4 2.5-3.5 2.4-3.5 2.5-3.5 2.5-3.4 2.4-3.5 2.5-3.4 2.5-3.4 2.4-3.4 2.5-3.3 2.4-3.4 2.5-3.3 2.5-3.3 2.4-3.2 2.5-3.3 2.5-3.2 2.4-3.2 2.5-3.1 2.4-3.1 2.5-3 2.5-3 2.4-2.9 2.5-2.9 2.5-2.9 2.4-2.9 2.5-2.8 2.4-2.7 2.5-2.7 2.5-2.6 2.4-2.5 2.5-2.3 2.5-2.3 2.4-2.3 2.5-2.2 2.4-2.2 2.5-2.1 2.5-2 2.4-1.9 2.5-1.8 2.5-1.7 2.4-1.6 2.5-1.4 2.4-1.3 2.5-1.2 2.5-1.2 2.4-1 2.5-1 2.5-1 2.4-0.8 2.5-0.8 2.4-0.7 2.5-0.7 2.5-0.6 2.4-0.6 2.5-0.6 2.5-0.5 2.4-0.6 2.5-0.5 2.4-0.6 2.5-0.4 2.5-0.5 2.4-0.3 2.5-0.3 2.5-0.3 2.4-0.2 2.5-0.3 2.4-0.2 2.5-0.2 2.5-0.1 2.4-0.2 2.5-0.1 2.5-0.1 2.4-0.1 2.5 0 2.4 0 2.5 0.1 0-8.5-2.5-0.1-2.4 0-2.5 0-2.4 0.1-2.5 0.1-2.5 0.1-2.4 0-2.5 0-2.5 0-2.4 0.1-2.5 0.1-2.4 0.1-2.5 0.1-2.5 0.1-2.4 0.2-2.5 0.3-2.5 0.3-2.4 0.4-2.5 0.4-2.4 0.4-2.5 0.4-2.5 0.4-2.4 0.5-2.5 0.5-2.5 0.5-2.4 0.6-2.5 0.6-2.4 0.7-2.5 0.8-2.5 0.8-2.4 0.9-2.5 1-2.5 1.1-2.4 1.1-2.5 1.3-2.4 1.4-2.5 1.6-2.5 1.6-2.4 1.8-2.5 1.9-2.5 2-2.4 2-2.5 2.1-2.4 2.3-2.5 2.3-2.5 2.3-2.4 2.5-2.5 2.6-2.5 2.7-2.4 2.7-2.5 2.8-2.4 2.9-2.5 2.9-2.5 2.9-2.4 2.9-2.5 3-2.5 3-2.4 3.1-2.5 3.2-2.4 3.3-2.5 3.4-2.5 3.4-2.4 3.5-2.5 3.4-2.5 3.5-2.4 3.5-2.5 3.5-2.4 3.5-2.5 3.6-2.5 3.6-2.4 3.6-2.5 3.6-2.5 3.7-2.4 3.6-2.5 3.7-2.4 3.6-2.5 3.6-2.5 3.6-2.4 3.7-2.5 3.6-2.4 3.7-2.5 3.7-2.5 3.6-2.4 3.6-2.5 3.6-2.5 3.6-2.4 3.5-2.5 3.5-2.4 3.4-2.5 3.4-2.5 3.4-2.4 3.4-2.5 3.3-2.5 3.4-2.4 3.3-2.5 3.3-2.4 3.4-2.5 3.3-2.5 3.4-2.4 3.4-2.5 3.3-2.5 3.4-2.4 3.4-2.5 3.3-2.4 3.4-2.5 3.3-2.5 3.4-2.4 3.3-2.5 3.4-2.5 3.3-2.4 3.4-2.5 3.3-2.4 3.4-2.5 3.3-2.5 3.4-2.4 3.3-2.5 3.4-2.5 3.3-2.4 3.4-2.5-1-2.4-3.8-2.5-3.8-2.5-3.7-2.4-3.8-2.5-3.7-2.5-3.7-2.4-3.7-2.5-3.7-2.4-3.6-2.5-3.6-2.5-3.6-2.4-3.6-2.5-3.6-2.5-3.6-2.4-3.6-2.5-3.6-2.4-3.6-2.5-3.6-2.5-3.6-2.4-3.6-2.5-3.6-2.5-3.6-2.4-3.7-2.5-3.6-2.4-3.6-2.5-3.6-2.5-3.6-2.4-3.6-2.5-3.6-2.5-3.7-2.4-3.6-2.5-3.6-2.4-3.6-2.5-3.6-2.5-3.6-2.4-3.6-2.5-3.6-2.5-3.6-2.4-3.6-2.5-3.6-2.4-3.7-2.5-3.6-2.5-3.7-2.4-3.6-2.5-3.7-2.4-3.6-2.5-3.6-2.5-3.6-2.4-3.5-2.5-3.5-2.5-3.5-2.4-3.4-2.5-3.5-2.4-3.4-2.5-3.4-2.5-3.4-2.4-3.3-2.5-3.3-2.5-3.1-2.4-3.2-2.5-3-2.4-2.9-2.5-2.8-2.5-2.8-2.4-2.8-2.5-2.7-2.5-2.7-2.4-2.6-2.5-2.5-2.4-2.5-2.5-2.4-2.5-2.4-2.4-2.4-2.5-2.5-2.5-2.4-2.4-2.3-2.5-2.1-2.4-2-2.5-1.8-2.5-1.6-2.4-1.4-2.5-1.1-2.5-1-2.4-0.9-2.5-0.8-2.4-0.7-2.5-0.6-2.5-0.6-2.4-0.6-2.5-0.5-2.5-0.5-2.4-0.5-2.5-0.4-2.4-0.4-2.5-0.4-2.5-0.4-2.4-0.3-2.5-0.3-2.5-0.4-2.4-0.3-2.5-0.3-2.4-0.2-2.5-0.3-2.5-0.2-2.4-0.3-2.5-0.2-2.5-0.1-2.4-0.2-2.5-0.1-2.4-0.1-2.5-0.1-2.5-0.1-2.4-0.1-2.5-0.2-2.5-0.2-2.4-0.1-2.5-0.2-2.4-0.1-2.5-0.1z" fill="#3e0a0a" opacity="0.8"/>
<path d="M733 41.3l2.5 0.1 2.4 0.1 2.5 0.2 2.4 0.1 2.5 0.2 2.5 0.2 2.4 0.1 2.5 0.1 2.5 0.1 2.4 0.1 2.5 0.1 2.4 0.2 2.5 0.1 2.5 0.2 2.4 0.3 2.5 0.2 2.5 0.3 2.4 0.2 2.5 0.3 2.4 0.3 2.5 0.4 2.5 0.3 2.4 0.3 2.5 0.4 2.5 0.4 2.4 0.4 2.5 0.4 2.4 0.5 2.5 0.5 2.5 0.5 2.4 0.6 2.5 0.6 2.5 0.6 2.4 0.7 2.5 0.8 2.4 0.9 2.5 1 2.5 1.1 2.4 1.4 2.5 1.6 2.5 1.8 2.4 2 2.5 2.1 2.4 2.3 2.5 2.4 2.5 2.5 2.4 2.4 2.5 2.4 2.5 2.4 2.4 2.5 2.5 2.5 2.4 2.6 2.5 2.7 2.5 2.7 2.4 2.8 2.5 2.8 2.5 2.8 2.4 2.9 2.5 3 2.4 3.2 2.5 3.1 2.5 3.3 2.4 3.3 2.5 3.4 2.5 3.4 2.4 3.4 2.5 3.5 2.4 3.4 2.5 3.5 2.5 3.5 2.4 3.5 2.5 3.6 2.5 3.6 2.4 3.6 2.5 3.7 2.4 3.6 2.5 3.7 2.5 3.6 2.4 3.7 2.5 3.6 2.4 3.6 2.5 3.6 2.5 3.6 2.4 3.6 2.5 3.6 2.5 3.6 2.4 3.6 2.5 3.6 2.4 3.6 2.5 3.7 2.5 3.6 2.4 3.6 2.5 3.6 2.5 3.6 2.4 3.6 2.5 3.6 2.4 3.7 2.5 3.6 2.5 3.6 2.4 3.6 2.5 3.6 2.5 3.6 2.4 3.6 2.5 3.6 2.4 3.6 2.5 3.6 2.5 3.6 2.4 3.6 2.5 3.6 2.5 3.6 2.4 3.6 2.5 3.7 2.4 3.7 2.5 3.7 2.5 3.7 2.4 3.8 2.5 3.7 2.5 3.8 2.4 3.8 2.5 1 2.4-3.4 2.5-3.3 2.5-3.4 2.4-3.3 2.5-3.4 2.5-3.3 2.4-3.4 2.5-3.3 2.4-3.4 2.5-3.3 2.5-3.4 2.4-3.3 2.5-3.4 2.5-3.3 2.4-3.4 2.5-3.3 2.4-3.4 2.5-3.4 2.5-3.3 2.4-3.4 2.5-3.4 2.5-3.3 2.4-3.4 2.5-3.3 2.4-3.3 2.5-3.4 2.5-3.3 2.4-3.4 2.5-3.4 2.5-3.4 2.4-3.4 2.5-3.5 2.4-3.5 2.5-3.6 2.5-3.6 2.4-3.6 2.5-3.6 2.5-3.7 2.4-3.7 2.5-3.6 2.4-3.7 2.5-3.6 2.5-3.6 2.4-3.6 2.5-3.7 2.4-3.6 2.5-3.7 2.5-3.6 2.4-3.6 2.5-3.6 2.5-3.6 2.4-3.5 2.5-3.5 2.4-3.5 2.5-3.5 2.5-3.4 2.4-3.5 2.5-3.4 2.5-3.4 2.4-3.3 2.5-3.2 2.4-3.1 2.5-3 2.5-3 2.4-2.9 2.5-2.9 2.5-2.9 2.4-2.9 2.5-2.8 2.4-2.7 2.5-2.7 2.5-2.6 2.4-2.5 2.5-2.3 2.5-2.3 2.4-2.3 2.5-2.1 2.4-2 2.5-2 2.5-1.9 2.4-1.8 2.5-1.6 2.5-1.6 2.4-1.4 2.5-1.3 2.4-1.1 2.5-1.1 2.5-1 2.4-0.9 2.5-0.8 2.5-0.8 2.4-0.7 2.5-0.6 2.4-0.6 2.5-0.5 2.5-0.5 2.4-0.5 2.5-0.4 2.5-0.4 2.4-0.4 2.5-0.4 2.4-0.4 2.5-0.3 2.5-0.3 2.4-0.2 2.5-0.1 2.5-0.1 2.4-0.1 2.5-0.1 2.4-0.1 2.5 0 2.5 0 2.4 0 2.5-0.1 2.5-0.1 2.4-0.1 2.5 0 2.4 0 2.5 0.1 0-5-2.5-0.1-2.4 0-2.5 0-2.4 0.1-2.5 0.1-2.5 0-2.4 0-2.5-0.1-2.5 0-2.4-0.1-2.5 0-2.4 0-2.5 0-2.5 0.1-2.4 0.1-2.5 0.2-2.5 0.2-2.4 0.3-2.5 0.3-2.4 0.3-2.5 0.3-2.5 0.4-2.4 0.3-2.5 0.4-2.5 0.5-2.4 0.4-2.5 0.6-2.4 0.6-2.5 0.7-2.5 0.7-2.4 0.8-2.5 0.9-2.5 1-2.4 1.1-2.5 1.2-2.4 1.3-2.5 1.4-2.5 1.6-2.4 1.7-2.5 1.8-2.5 1.9-2.4 1.9-2.5 2.1-2.4 2.3-2.5 2.3-2.5 2.3-2.4 2.5-2.5 2.6-2.5 2.7-2.4 2.7-2.5 2.8-2.4 2.9-2.5 2.9-2.5 2.9-2.4 2.9-2.5 3-2.5 3-2.4 3.1-2.5 3.2-2.4 3.5-2.5 3.4-2.5 3.5-2.4 3.6-2.5 3.6-2.5 3.5-2.4 3.6-2.5 3.6-2.4 3.6-2.5 3.7-2.5 3.7-2.4 3.7-2.5 3.7-2.5 3.8-2.4 3.7-2.5 3.8-2.4 3.7-2.5 3.7-2.5 3.7-2.4 3.8-2.5 3.7-2.4 3.8-2.5 3.8-2.5 3.7-2.4 3.7-2.5 3.7-2.5 3.7-2.4 3.6-2.5 3.6-2.4 3.5-2.5 3.5-2.5 3.5-2.4 3.5-2.5 3.4-2.5 3.5-2.4 3.4-2.5 3.4-2.4 3.5-2.5 3.4-2.5 3.5-2.4 3.5-2.5 3.4-2.5 3.5-2.4 3.4-2.5 3.5-2.4 3.4-2.5 3.5-2.5 3.5-2.4 3.4-2.5 3.5-2.5 3.4-2.4 3.5-2.5 3.4-2.4 3.5-2.5 3.4-2.5 3.4-2.4 3.5-2.5 3.4-2.5 3.5-2.4 3.4-2.5-0.9-2.4-3.9-2.5-3.9-2.5-3.9-2.4-3.8-2.5-3.9-2.5-3.8-2.4-3.8-2.5-3.7-2.4-3.8-2.5-3.7-2.5-3.7-2.4-3.7-2.5-3.6-2.5-3.7-2.4-3.7-2.5-3.7-2.4-3.7-2.5-3.7-2.5-3.7-2.4-3.7-2.5-3.7-2.5-3.7-2.4-3.8-2.5-3.7-2.4-3.7-2.5-3.7-2.5-3.7-2.4-3.7-2.5-3.8-2.5-3.7-2.4-3.7-2.5-3.7-2.4-3.7-2.5-3.7-2.5-3.7-2.4-3.7-2.5-3.7-2.5-3.7-2.4-3.7-2.5-3.7-2.4-3.7-2.5-3.8-2.5-3.8-2.4-3.7-2.5-3.8-2.4-3.7-2.5-3.7-2.5-3.6-2.4-3.7-2.5-3.6-2.5-3.5-2.4-3.6-2.5-3.6-2.4-3.5-2.5-3.5-2.5-3.4-2.4-3.5-2.5-3.3-2.5-3.3-2.4-3.2-2.5-3.1-2.4-2.9-2.5-2.8-2.5-2.8-2.4-2.8-2.5-2.7-2.5-2.7-2.4-2.6-2.5-2.5-2.4-2.5-2.5-2.4-2.5-2.4-2.4-2.4-2.5-2.5-2.5-2.4-2.4-2.3-2.5-2.1-2.4-1.9-2.5-1.7-2.5-1.5-2.4-1.3-2.5-1.1-2.5-0.9-2.4-0.7-2.5-0.7-2.4-0.6-2.5-0.6-2.5-0.5-2.4-0.5-2.5-0.4-2.5-0.4-2.4-0.4-2.5-0.3-2.4-0.4-2.5-0.3-2.5-0.2-2.4-0.3-2.5-0.2-2.5-0.2-2.4-0.3-2.5-0.2-2.4-0.1-2.5-0.2-2.5-0.2-2.4-0.1-2.5-0.1-2.5-0.1-2.4 0-2.5-0.1-2.4 0-2.5 0-2.5 0-2.4 0-2.5-0.2-2.5-0.2-2.4-0.1-2.5-0.2-2.4-0.1-2.5-0.1z" fill="#3e1414" opacity="0.35"/>
</g>
<clipPath id="h4"><path d="M812,61.1 L814.8,62 L817.7,63 L820.5,64.1 L823.3,65.4 L826.2,66.8 L829,68.6 L831.8,70.6 L834.6,72.9 L837.5,75.3 L840.3,78 L843.1,80.7 L846,83.5 L848.8,86.3 L851.6,89 L854.5,91.8 L857.3,94.7 L860.1,97.6 L862.9,100.7 L865.8,103.8 L868.6,107 L871.4,110.2 L874.3,113.5 L877.1,116.8 L879.9,120.2 L882.8,123.7 L885.6,127.2 L888.4,130.9 L891.2,134.5 L894.1,138.3 L896.9,142.1 L899.7,145.8 L902.6,149.7 L905.4,153.5 L908.2,157.3 L911.1,161.3 L913.9,165.2 L916.7,169.2 L919.5,173.2 L922.4,177.2 L925.2,181.3 L928,185.3 L930.9,189.2 L933.7,193.2 L936.5,197.1 L939.4,201.1 L942.2,205.1 L945,209 L947.8,213 L950.7,216.9 L953.5,220.9 L956.3,224.8 L959.2,228.8 L962,232.7 L964.8,236.7 L967.7,240.7 L970.5,244.7 L973.3,248.6 L976.2,252.6 L979,256.6 L981.8,260.5 L984.6,264.5 L987.5,268.4 L990.3,272.4 L993.1,276.3 L996,280.2 L998.8,284.1 L1001.6,288.1 L1004.5,292.1 L1007.3,296.1 L1010.1,300.1 L1012.9,304.2 L1015.8,308.3 L1018.6,312.4 L1021.4,316.5 L1024.3,320.7 L1027.1,324.9 L1029.9,322.4 L1032.8,318.7 L1035.6,315.1 L1038.4,311.4 L1041.2,307.8 L1044.1,304.1 L1046.9,300.4 L1049.7,296.8 L1052.6,293.1 L1055.4,289.5 L1058.2,285.8 L1061.1,282.1 L1063.9,278.4 L1066.7,274.8 L1069.5,271.1 L1072.4,267.4 L1075.2,263.7 L1078,260.1 L1080.9,256.4 L1083.7,252.7 L1086.5,249.1 L1089.4,245.4 L1092.2,241.8 L1095,238.1 L1097.8,234.5 L1100.7,230.8 L1103.5,227 L1106.3,223.2 L1109.2,219.4 L1112,215.5 L1114.8,211.5 L1117.7,207.5 L1120.5,203.5 L1123.3,199.5 L1126.2,195.5 L1129,191.5 L1131.8,187.5 L1134.6,183.5 L1137.5,179.5 L1140.3,175.5 L1143.1,171.5 L1146,167.6 L1148.8,163.6 L1151.6,159.6 L1154.5,155.7 L1157.3,151.8 L1160.1,148 L1162.9,144.2 L1165.8,140.4 L1168.6,136.7 L1171.4,132.9 L1174.3,129.2 L1177.1,125.6 L1179.9,122 L1182.8,118.5 L1185.6,115.1 L1188.4,111.7 L1191.2,108.4 L1194.1,105 L1196.9,101.8 L1199.7,98.6 L1202.6,95.5 L1205.4,92.5 L1208.2,89.7 L1211.1,86.9 L1213.9,84.3 L1216.7,81.7 L1219.5,79.2 L1222.4,76.8 L1225.2,74.4 L1228,72.2 L1230.9,70.1 L1233.7,68.2 L1236.5,66.5 L1239.4,64.9 L1242.2,63.5 L1245,62.2 L1247.8,61 L1250.7,59.8 L1253.5,58.8 L1256.3,57.9 L1259.2,57 L1262,56.2 L1262,54 L1259.2,55 L1256.3,56.1 L1253.5,57.3 L1250.7,58.4 L1247.8,59.6 L1245,60.9 L1242.2,62.2 L1239.4,63.6 L1236.5,65 L1233.7,66.5 L1230.9,68 L1228,69.4 L1225.2,70.9 L1222.4,72.3 L1219.5,73.7 L1216.7,75.2 L1213.9,76.6 L1211.1,78 L1208.2,79.4 L1205.4,80.8 L1202.6,82.2 L1199.7,83.6 L1196.9,84.9 L1194.1,86.3 L1191.2,87.6 L1188.4,88.9 L1185.6,90.3 L1182.8,91.6 L1179.9,92.8 L1177.1,94.1 L1174.3,95.2 L1171.4,96.4 L1168.6,97.5 L1165.8,98.5 L1162.9,99.6 L1160.1,100.6 L1157.3,101.6 L1154.5,102.5 L1151.6,103.5 L1148.8,104.4 L1146,105.3 L1143.1,106.2 L1140.3,107.1 L1137.5,108 L1134.6,108.8 L1131.8,109.6 L1129,110.5 L1126.2,111.3 L1123.3,112.1 L1120.5,112.9 L1117.7,113.8 L1114.8,114.6 L1112,115.4 L1109.2,116.3 L1106.3,117.1 L1103.5,117.9 L1100.7,118.8 L1097.8,119.6 L1095,120.5 L1092.2,121.4 L1089.4,122.4 L1086.5,123.4 L1083.7,124.4 L1080.9,125.4 L1078,126.4 L1075.2,127.4 L1072.4,128.4 L1069.5,129.3 L1066.7,130.2 L1063.9,131 L1061.1,131.9 L1058.2,132.7 L1055.4,133.5 L1052.6,134.3 L1049.7,135 L1046.9,135.6 L1044.1,136.1 L1041.2,136.5 L1038.4,136.8 L1035.6,137.1 L1032.8,137.3 L1029.9,137.4 L1027.1,137.5 L1024.3,137.5 L1021.4,137.4 L1018.6,137.3 L1015.8,137.1 L1012.9,137 L1010.1,136.8 L1007.3,136.5 L1004.5,136.2 L1001.6,135.7 L998.8,135.2 L996,134.6 L993.1,134 L990.3,133.3 L987.5,132.6 L984.6,131.9 L981.8,131.2 L979,130.5 L976.2,129.7 L973.3,128.9 L970.5,128.1 L967.7,127.2 L964.8,126.3 L962,125.4 L959.2,124.5 L956.3,123.5 L953.5,122.5 L950.7,121.4 L947.8,120.3 L945,119.1 L942.2,118 L939.4,116.8 L936.5,115.6 L933.7,114.4 L930.9,113.3 L928,112.1 L925.2,111 L922.4,109.8 L919.5,108.7 L916.7,107.6 L913.9,106.4 L911.1,105.3 L908.2,104.2 L905.4,103 L902.6,101.9 L899.7,100.8 L896.9,99.7 L894.1,98.6 L891.2,97.5 L888.4,96.4 L885.6,95.3 L882.8,94.2 L879.9,93 L877.1,91.7 L874.3,90.4 L871.4,89.1 L868.6,87.7 L865.8,86.3 L862.9,84.8 L860.1,83.4 L857.3,81.9 L854.5,80.4 L851.6,78.8 L848.8,77.3 L846,75.6 L843.1,73.9 L840.3,72.2 L837.5,70.5 L834.6,68.8 L831.8,67.1 L829,65.4 L826.2,63.8 L823.3,62.2 L820.5,60.6 L817.7,59 L814.8,57.5 L812,56Z"/></clipPath>
<g clip-path="url(#h4)">
<path d="M812 56l3 1.6 3 1.7 3.1 1.6 3 1.7 3 1.7 3 1.8 3 1.8 3.1 1.8 3 1.9 3 1.8 3 1.8 3 1.7 3.1 1.7 3 1.7 3 1.6 3 1.6 3 1.5 3.1 1.6 3 1.5 3 1.4 3 1.5 3 1.3 3.1 1.3 3 1.3 3 1.2 3 1.2 3 1.1 3.1 1.2 3 1.1 3 1.2 3 1.2 3 1.2 3.1 1.2 3 1.2 3 1.3 3 1.2 3 1.2 3.1 1.2 3 1.2 3 1.3 3 1.2 3 1.3 3.1 1.2 3 1.3 3 1.2 3 1.2 3 1.2 3.1 1 3 1 3 1 3 1 3 1 3.1 0.9 3 0.8 3 0.9 3 0.7 3 0.8 3.1 0.7 3 0.8 3 0.7 3 0.7 3 0.6 3.1 0.6 3 0.4 3 0.3 3 0.2 3 0.2 3.1 0.2 3 0.2 3 0.1 3 0 3 0 3.1-0.2 3-0.2 3-0.3 3-0.3 3.1-0.5 3-0.5 3-0.7 3-0.8 3-0.8 3.1-0.9 3-0.9 3-0.9 3-0.9 3-1 3.1-1 3-1.1 3-1.1 3-1.1 3-1.1 3.1-1 3-1 3-1 3-0.9 3-0.9 3.1-0.9 3-0.9 3-0.9 3-0.9 3-0.8 3.1-0.9 3-0.9 3-0.9 3-0.9 3-0.9 3.1-0.9 3-0.9 3-0.9 3-0.9 3-1 3.1-1 3-1 3-1 3-1 3-1.1 3.1-1.1 3-1.1 3-1.2 3-1.2 3-1.3 3.1-1.3 3-1.4 3-1.4 3-1.4 3-1.4 3.1-1.4 3-1.5 3-1.4 3-1.5 3-1.5 3.1-1.5 3-1.5 3-1.5 3-1.5 3-1.6 3.1-1.5 3-1.5 3-1.6 3-1.6 3-1.6 3.1-1.5 3-1.4 3-1.3 3-1.3 3-1.3 3.1-1.2 3-1.2 3-1.1" fill="none" stroke="#3a2020" stroke-width="8" stroke-linejoin="round" stroke-linecap="round" opacity="0.5"/>
</g>
<linearGradient id="gcl" x1="738" x2="1316.5" y1="0" y2="0" gradientUnits="userSpaceOnUse"><stop offset="0" stop-color="#520c0c"/><stop offset="0.2" stop-color="#541212"/><stop offset="0.36" stop-color="#522a2a"/><stop offset="0.5" stop-color="#4e4c4c"/><stop offset="0.64" stop-color="#522a2a"/><stop offset="0.8" stop-color="#541212"/><stop offset="1" stop-color="#520c0c"/></linearGradient>
<path d="M733 465.5l3 0.1 2.9 0 3 0 2.9-0.1 3-0.1 2.9-0.1 3-0.2 3-0.2 2.9-0.2 3-0.2 2.9-0.2 3-0.3 2.9-0.2 3-0.3 3-0.3 2.9-0.4 3-0.5 2.9-0.5 3-0.7 2.9-0.7 3-0.7 3-0.8 2.9-0.9 3-0.8 2.9-0.9 3-1 2.9-0.9 3-0.9 3-0.9 2.9-0.9 3-0.9 2.9-1 3-1 2.9-1 3-1 3-1.1 2.9-1.1 3-1.2 2.9-1.1 3-1.2 2.9-1.2 3-1.2 3-1.2 2.9-1.3 3-1.2 2.9-1.3 3-1.4 2.9-1.3 3-1.4 3-1.5 2.9-1.4 3-1.5 2.9-1.5 3-1.6 3-1.5 2.9-1.6 3-1.5 2.9-1.6 3-1.5 2.9-1.6 3-1.5 3-1.6 2.9-1.5 3-1.5 2.9-1.5 3-1.5 2.9-1.5 3-1.6 3-1.6 2.9-1.6 3-1.6 2.9-1.7 3-1.7 2.9-1.8 3-1.9 3-1.9 2.9-2.1 3-2.1 2.9-2.2 3-2.3 2.9-2.3 3-2.5 3-2.4 2.9-2.6 3-2.5 2.9-2.6 3-2.5 2.9-2.7 3-2.7 3-2.9 2.9-2.9 3-2.8 2.9-2.9 3-2.7 2.9-2.7 3-2.6 3-2.7 2.9-2.6 3-2.5 2.9 0.1 3 3.2 2.9 2.9 3 2.7 3 2.6 2.9 2.5 3 2.5 2.9 2.5 3 2.6 2.9 2.6 3 2.7 3 2.7 2.9 2.8 3 2.7 2.9 2.6 3 2.7 2.9 2.5 3 2.5 3 2.5 2.9 2.3 3 2.4 2.9 2.3 3 2.4 2.9 2.3 3 2.3 3 2.4 2.9 2.4 3 2.5 2.9 2.4 3 2.4 2.9 2.3 3 2.3 3 2.2 2.9 2.2 3 2.2 2.9 2.1 3 2.1 2.9 2.1 3 1.9 3 1.9 2.9 1.8 3 1.7 2.9 1.7 3 1.7 2.9 1.5 3 1.6 3 1.5 2.9 1.5 3 1.4 2.9 1.4 3 1.4 3 1.4 2.9 1.3 3 1.2 2.9 1.3 3 1.1 2.9 1.2 3 1.1 3 1.1 2.9 1 3 1.1 2.9 0.9 3 0.9 2.9 0.9 3 0.8 3 0.8 2.9 0.8 3 0.8 2.9 0.6 3 0.7 2.9 0.6 3 0.5 3 0.5 2.9 0.5 3 0.5 2.9 0.4 3 0.4 2.9 0.3 3 0.3 3 0.3 2.9 0.3 3 0.2 2.9 0.2 3 0.2 2.9 0.2 3 0.1 3 0.1 2.9 0 3 0.1 2.9 0.1 3 0.1 2.9 0 3 0.1 3 0 2.9 0 3 0.1 2.9 0 3 0 2.9 0 3 0 0 38.7-588.5 0z" fill="url(#gcl)" />
<clipPath id="h5"><path d="M900 418.3l2.1-1.1 2.1-1.1 2.1-1.1 2.1-1.1 2.1-1.1 2.1-1.1 2.1-1.1 2.1-1.1 2.1-1.1 2.1-1 2.1-1.1 2.1-1.1 2.1-1.1 2.1-1 2.1-1.1 2.1-1.1 2.1-1.1 2.1-1.2 2.1-1.1 2.1-1.2 2.1-1.2 2.1-1.2 2.1-1.2 2.1-1.3 2.1-1.3 2.1-1.3 2.1-1.3 2.1-1.5 2.1-1.4 2.1-1.5 2.1-1.6 2.1-1.6 2.1-1.6 2.1-1.7 2.1-1.7 2.1-1.7 2.1-1.7 2.1-1.8 2.1-1.8 2.1-1.8 2.1-1.8 2.1-1.9 2.1-1.8 2.1-1.9 2.1-1.9 2.1-2 2.1-2 2.1-2 2.1-2.1 2.1-2 2.1-2 2.1-2 2.1-1.9 2.1-1.9 2.1-1.9 2.1-1.9 2.1-1.9 2.1-1.8 2.1-1.8 2.2-1.9 2.1-0.3 2.1 2.4 2.1 2.1 2.1 2.1 2.1 2 2.1 1.9 2.1 1.8 2.1 1.8 2.1 1.8 2.1 1.7 2.1 1.8 2.1 1.8 2.1 1.8 2.1 1.9 2.1 1.9 2.1 2 2.1 1.9 2.1 1.9 2.1 2 2.1 1.9 2.1 1.9 2.1 1.9 2.1 1.8 2.1 1.8 2.1 1.8 2.1 1.7 2.1 1.7 2.1 1.7 2.1 1.7 2.1 1.6 2.1 1.7 2.1 1.6 2.1 1.7 2.1 1.7 2.1 1.6 2.1 1.7 2.1 1.7 2.1 1.8 2.1 1.7 2.1 1.7 2.1 1.7 2.1 1.7 2.1 1.7 2.1 1.6 2.1 1.6 2.1 1.6 2.1 1.6 2.1 1.5 2.1 1.6 2.1 1.5 2.1 1.5 2.1 1.5 2.1 1.4 2.1 1.5 2.1 1.3 2.1 1.4 2.1 1.3 2.1 1.2 2.1 1.3 0 16.6-2.1-0.6-2.1-0.5-2.1-0.5-2.1-0.5-2.1-0.5-2.1-0.5-2.1-0.5-2.1-0.4-2.1-0.5-2.1-0.4-2.1-0.5-2.1-0.4-2.1-0.4-2.1-0.4-2.1-0.4-2.1-0.4-2.1-0.4-2.1-0.4-2.1-0.4-2.1-0.4-2.1-0.5-2.1-0.4-2.1-0.4-2.1-0.5-2.1-0.4-2.1-0.4-2.1-0.4-2.1-0.4-2.1-0.4-2.1-0.4-2.1-0.3-2.1-0.4-2.1-0.4-2.1-0.3-2.1-0.3-2.1-0.4-2.1-0.3-2.1-0.3-2.1-0.3-2.1-0.2-2.1-0.3-2.1-0.2-2.1-0.3-2.1-0.2-2.1-0.2-2.1-0.2-2.1-0.2-2.1-0.2-2.1-0.2-2.1-0.1-2.1-0.2-2.1-0.1-2.1-0.2-2.1-0.1-2.1-0.2-2.1-0.1-2.1 0-2.1-0.1-2.1 0-2.2 0-2.1 0-2.1 0.1-2.1 0-2.1 0.1-2.1 0.1-2.1 0.1-2.1 0.1-2.1 0.1-2.1 0.1-2.1 0.1-2.1 0.1-2.1 0.1-2.1 0.1-2.1 0.2-2.1 0.2-2.1 0.2-2.1 0.2-2.1 0.3-2.1 0.2-2.1 0.3-2.1 0.3-2.1 0.3-2.1 0.3-2.1 0.3-2.1 0.3-2.1 0.3-2.1 0.4-2.1 0.3-2.1 0.3-2.1 0.4-2.1 0.3-2.1 0.3-2.1 0.3-2.1 0.4-2.1 0.3-2.1 0.4-2.1 0.3-2.1 0.4-2.1 0.4-2.1 0.3-2.1 0.4-2.1 0.4-2.1 0.4-2.1 0.5-2.1 0.4-2.1 0.4-2.1 0.5-2.1 0.4-2.1 0.5-2.1 0.5-2.1 0.5-2.1 0.5-2.1 0.5-2.1 0.5-2.1 0.6-2.1 0.6-2.1 0.7-2.1 0.7-2.1 0.7z"/></clipPath>
<path d="M970 316l4 3 4 2 4 3 4 2 4 2 4 1 4 2 4 1 4 1 4 1 4 1 4 0 4 1 4 0 3 0 4 0 4-1 4 0 4-1 4-1 4-1 4-1 4-2 4-2 4-2 4-2 4-2 4-2 4-3M970 322l4 3 4 2 4 3 4 2 4 2 4 1 4 2 4 1 4 1 4 1 4 1 4 0 4 1 4 0 3 0 4 0 4-1 4 0 4-1 4-1 4-1 4-1 4-2 4-2 4-2 4-2 4-2 4-2 4-3M970 328l4 3 4 2 4 3 4 2 4 2 4 1 4 2 4 1 4 1 4 1 4 1 4 0 4 1 4 0 3 0 4 0 4-1 4 0 4-1 4-1 4-1 4-1 4-2 4-2 4-2 4-2 4-2 4-2 4-3M970 334l4 3 4 2 4 3 4 2 4 2 4 1 4 2 4 1 4 1 4 1 4 1 4 0 4 1 4 0 3 0 4 0 4-1 4 0 4-1 4-1 4-1 4-1 4-2 4-2 4-2 4-2 4-2 4-2 4-3M970 340l4 3 4 2 4 3 4 2 4 2 4 1 4 2 4 1 4 1 4 1 4 1 4 0 4 1 4 0 3 0 4 0 4-1 4 0 4-1 4-1 4-1 4-1 4-2 4-2 4-2 4-2 4-2 4-2 4-3M970 346l4 3 4 2 4 3 4 2 4 2 4 1 4 2 4 1 4 1 4 1 4 1 4 0 4 1 4 0 3 0 4 0 4-1 4 0 4-1 4-1 4-1 4-1 4-2 4-2 4-2 4-2 4-2 4-2 4-3M970 352l4 3 4 2 4 3 4 2 4 2 4 1 4 2 4 1 4 1 4 1 4 1 4 0 4 1 4 0 3 0 4 0 4-1 4 0 4-1 4-1 4-1 4-1 4-2 4-2 4-2 4-2 4-2 4-2 4-3M970 358l4 3 4 2 4 3 4 2 4 2 4 1 4 2 4 1 4 1 4 1 4 1 4 0 4 1 4 0 3 0 4 0 4-1 4 0 4-1 4-1 4-1 4-1 4-2 4-2 4-2 4-2 4-2 4-2 4-3M970 364l4 3 4 2 4 3 4 2 4 2 4 1 4 2 4 1 4 1 4 1 4 1 4 0 4 1 4 0 3 0 4 0 4-1 4 0 4-1 4-1 4-1 4-1 4-2 4-2 4-2 4-2 4-2 4-2 4-3M970 370l4 3 4 2 4 3 4 2 4 2 4 1 4 2 4 1 4 1 4 1 4 1 4 0 4 1 4 0 3 0 4 0 4-1 4 0 4-1 4-1 4-1 4-1 4-2 4-2 4-2 4-2 4-2 4-2 4-3M970 376l4 3 4 2 4 3 4 2 4 2 4 1 4 2 4 1 4 1 4 1 4 1 4 0 4 1 4 0 3 0 4 0 4-1 4 0 4-1 4-1 4-1 4-1 4-2 4-2 4-2 4-2 4-2 4-2 4-3M970 382l4 3 4 2 4 3 4 2 4 2 4 1 4 2 4 1 4 1 4 1 4 1 4 0 4 1 4 0 3 0 4 0 4-1 4 0 4-1 4-1 4-1 4-1 4-2 4-2 4-2 4-2 4-2 4-2 4-3M970 388l4 3 4 2 4 3 4 2 4 2 4 1 4 2 4 1 4 1 4 1 4 1 4 0 4 1 4 0 3 0 4 0 4-1 4 0 4-1 4-1 4-1 4-1 4-2 4-2 4-2 4-2 4-2 4-2 4-3M970 394l4 3 4 2 4 3 4 2 4 2 4 1 4 2 4 1 4 1 4 1 4 1 4 0 4 1 4 0 3 0 4 0 4-1 4 0 4-1 4-1 4-1 4-1 4-2 4-2 4-2 4-2 4-2 4-2 4-3M970 400l4 3 4 2 4 3 4 2 4 2 4 1 4 2 4 1 4 1 4 1 4 1 4 0 4 1 4 0 3 0 4 0 4-1 4 0 4-1 4-1 4-1 4-1 4-2 4-2 4-2 4-2 4-2 4-2 4-3" clip-path="url(#h5)" fill="none" stroke="url(#gcwm)" stroke-width="2.0" opacity="0.4" />
<linearGradient id="gcbc" x1="738" x2="1316.5" y1="0" y2="0" gradientUnits="userSpaceOnUse"><stop offset="0" stop-color="#b0b6b6"/><stop offset="0.3" stop-color="#c6cbcb"/><stop offset="0.5" stop-color="#d4d8d8"/><stop offset="0.7" stop-color="#c6cbcb"/><stop offset="1" stop-color="#b0b6b6"/></linearGradient>
<path d="M733 480.6l3.9-0.2 4-0.1 3.9-0.3 4-0.2 3.9-0.3 4-0.4 3.9-0.4 4-0.4 3.9-0.5 4-0.5 3.9-0.5 4-0.5 3.9-0.6 4-0.6 3.9-0.6 4-0.6 3.9-0.7 4-0.7 3.9-0.7 4-0.9 3.9-0.9 4-1 3.9-1 4-1.1 3.9-1.1 4-1.1 3.9-1.2 4-1.2 3.9-1.2 4-1.2 3.9-1.2 4-1.3 3.9-1.2 4-1.2 3.9-1.3 4-1.4 3.9-1.5 4-1.5 3.9-1.5 4-1.5 3.9-1.5 4-1.4 3.9-1.4 4-1.2 3.9-1.1 4-1 3.9-1 4-0.9 3.9-0.8 4-0.8 3.9-0.8 4-0.8 3.9-0.7 4-0.7 3.9-0.7 4-0.6 3.9-0.6 4-0.6 3.9-0.6 4-0.7 3.9-0.6 4-0.5 3.9-0.6 4-0.5 3.9-0.4 4-0.4 3.9-0.3 4-0.3 3.9-0.2 4-0.1 3.9-0.2 4-0.1 3.9-0.1 4-0.1 3.9 0 4 0.2 3.9 0.2 4 0.3 3.9 0.3 4 0.3 3.9 0.3 4 0.4 3.9 0.5 4 0.4 3.9 0.5 4 0.6 3.9 0.6 4 0.6 3.9 0.7 4 0.7 3.9 0.7 4 0.8 3.9 0.8 4 0.8 3.9 0.8 4 0.8 3.9 0.8 4 0.7 3.9 0.8 4 0.7 3.9 0.9 4 0.8 3.9 0.9 4 1 3.9 1 4 1 3.9 1.2 4 1.3 3.9 1.5 4 1.6 3.9 1.7 4 1.7 3.9 1.6 4 1.6 3.9 1.7 4 1.6 3.9 1.6 4 1.5 3.9 1.5 4 1.5 3.9 1.4 4 1.4 3.9 1.4 4 1.2 3.9 1.2 4 1.2 3.9 1.1 4 1 3.9 0.9 4 0.7 3.9 0.5 4 0.5 3.9 0.4 4 0.4 3.9 0.2 4 0.2 3.9 0.2 4 0.2 3.9 0.1 4 0.1 3.9 0.2 4 0.1 3.9 0.1 4 0.1 3.9 0 4 0.1 3.9 0 4 0 3.9 0 0 23.9-588.5 0z" fill="url(#gcbc)" />
<clipPath id="h6"><path d="M733 480.6l3.9-0.2 4-0.1 3.9-0.3 4-0.2 3.9-0.3 4-0.4 3.9-0.4 4-0.4 3.9-0.5 4-0.5 3.9-0.5 4-0.5 3.9-0.6 4-0.6 3.9-0.6 4-0.6 3.9-0.7 4-0.7 3.9-0.7 4-0.9 3.9-0.9 4-1 3.9-1 4-1.1 3.9-1.1 4-1.1 3.9-1.2 4-1.2 3.9-1.2 4-1.2 3.9-1.2 4-1.3 3.9-1.2 4-1.2 3.9-1.3 4-1.4 3.9-1.5 4-1.5 3.9-1.5 4-1.5 3.9-1.5 4-1.4 3.9-1.4 4-1.2 3.9-1.1 4-1 3.9-1 4-0.9 3.9-0.8 4-0.8 3.9-0.8 4-0.8 3.9-0.7 4-0.7 3.9-0.7 4-0.6 3.9-0.6 4-0.6 3.9-0.6 4-0.7 3.9-0.6 4-0.5 3.9-0.6 4-0.5 3.9-0.4 4-0.4 3.9-0.3 4-0.3 3.9-0.2 4-0.1 3.9-0.2 4-0.1 3.9-0.1 4-0.1 3.9 0 4 0.2 3.9 0.2 4 0.3 3.9 0.3 4 0.3 3.9 0.3 4 0.4 3.9 0.5 4 0.4 3.9 0.5 4 0.6 3.9 0.6 4 0.6 3.9 0.7 4 0.7 3.9 0.7 4 0.8 3.9 0.8 4 0.8 3.9 0.8 4 0.8 3.9 0.8 4 0.7 3.9 0.8 4 0.7 3.9 0.9 4 0.8 3.9 0.9 4 1 3.9 1 4 1 3.9 1.2 4 1.3 3.9 1.5 4 1.6 3.9 1.7 4 1.7 3.9 1.6 4 1.6 3.9 1.7 4 1.6 3.9 1.6 4 1.5 3.9 1.5 4 1.5 3.9 1.4 4 1.4 3.9 1.4 4 1.2 3.9 1.2 4 1.2 3.9 1.1 4 1 3.9 0.9 4 0.7 3.9 0.5 4 0.5 3.9 0.4 4 0.4 3.9 0.2 4 0.2 3.9 0.2 4 0.2 3.9 0.1 4 0.1 3.9 0.2 4 0.1 3.9 0.1 4 0.1 3.9 0 4 0.1 3.9 0 4 0 3.9 0 0 23.9-588.5 0z"/></clipPath>
<path d="M1006 540l2-3 3-2 6-2 7-1 7 0 7 1 5 2 4 2 1 3M992 540l1-3 2-2 3-2 5-2 5-2 6-1 6-1 7 0 7 0 7 1 6 1 5 2 4 2 3 2 2 2 1 3M978 540l1-3 1-2 2-2 3-3 4-2 5-2 5-1 6-2 6-1 6 0 7-1 7 0 6 1 7 0 6 1 5 2 6 1 4 2 4 2 3 3 2 2 2 2 0 3M964 540l1-3 1-2 1-2 3-3 3-2 3-2 4-2 5-2 5-2 6-1 6-1 6-1 6-1 7 0 6 0 7 0 6 0 7 1 6 1 6 1 5 1 5 2 5 2 4 2 4 2 3 2 2 3 2 2 1 2 0 3M950 540l1-3 0-2 2-2 2-3 2-2 3-2 3-3 4-2 5-1 4-2 5-2 6-1 6-1 6-1 6-1 6-1 6 0 7-1 7 0 6 1 6 0 7 1 6 1 6 1 6 1 5 1 5 2 5 2 4 1 4 2 3 3 3 2 3 2 2 3 1 2 1 2 0 3M936 540l0-2 1-3 1-2 2-3 2-2 2-3 3-2 4-2 3-2 4-2 5-2 5-1 5-2 5-1 6-2 5-1 6-1 7-1 6 0 6-1 7 0 6 0 7 0 6 0 7 1 6 0 6 1 6 1 6 1 5 2 6 1 5 2 5 1 4 2 4 2 4 2 3 2 3 2 3 3 2 2 1 3 1 2 1 3 0 2M922 540l0-2 1-3 1-2 1-3 2-2 2-3 3-2 3-2 3-2 4-2 3-2 5-2 4-2 5-2 5-1 5-2 6-1 5-1 6-1 6-1 7-1 6 0 6-1 7 0 6 0 6 0 7 0 6 0 7 1 6 0 6 1 6 1 6 1 6 1 5 1 6 2 5 1 4 2 5 2 4 2 4 2 4 2 3 2 3 2 2 2 2 3 2 2 2 3 0 2 1 3 0 2M908 540l0-2 1-3 1-2 1-3 2-2 1-3 3-2 2-2 3-2 3-3 4-2 3-2 4-2 5-1 4-2 5-2 5-1 5-2 6-1 5-1 6-2 6-1 6 0 6-1 7-1 6 0 6-1 7 0 6 0 7 0 6 0 7 1 6 0 6 1 6 1 6 0 6 1 6 2 6 1 5 1 5 2 5 1 5 2 5 2 4 1 4 2 4 2 3 2 3 3 3 2 3 2 2 2 2 3 2 2 1 3 1 2 0 3 0 2M894 540l0-2 1-3 1-2 1-3 1-2 2-3 2-2 2-2 3-3 2-2 4-2 3-2 4-2 3-2 5-2 4-2 5-1 4-2 5-2 6-1 5-1 6-2 5-1 6-1 6-1 6-1 6 0 7-1 6 0 6-1 7 0 6 0 6 0 7 0 6 0 7 1 6 0 6 1 6 0 6 1 6 1 6 1 6 1 5 2 6 1 5 1 5 2 5 2 5 1 4 2 4 2 4 2 4 2 3 2 3 2 3 2 3 3 2 2 2 2 2 3 1 2 1 3 1 2 0 3 0 2M880 540l0-2 1-3 0-2 1-3 2-2 1-3 2-2 2-2 2-3 3-2 3-2 3-2 3-2 4-2 4-2 4-2 4-2 4-2 5-2 5-1 5-2 5-1 5-2 6-1 5-1 6-1 6-1 6-1 6-1 6-1 6 0 7-1 6 0 6 0 7-1 6 0 7 0 6 1 6 0 7 0 6 1 6 0 7 1 6 1 6 1 5 1 6 1 6 1 5 1 6 2 5 1 5 2 5 1 4 2 5 2 4 2 4 2 4 2 3 2 4 2 3 2 3 2 2 2 3 3 2 2 1 2 2 3 1 2 1 3 1 2 0 3 0 2M866 540l0-2 1-3 0-2 1-3 1-2 2-3 1-2 2-2 2-3 3-2 2-2 3-2 3-3 3-2 4-2 4-2 4-2 4-2 4-2 4-1 5-2 5-2 5-1 5-2 5-1 6-1 5-1 6-2 6-1 6-1 6 0 6-1 6-1 6-1 7 0 6 0 6-1 7 0 6 0 6 0 7 0 6 0 7 1 6 0 6 0 6 1 7 1 6 1 6 0 6 1 5 1 6 2 6 1 5 1 5 1 6 2 5 1 4 2 5 2 5 1 4 2 4 2 4 2 4 2 3 2 3 2 3 3 3 2 3 2 2 2 2 3 2 2 2 2 1 3 1 2 1 3 1 2 0 3 0 2M852 540l0-3 1-2 0-3 1-3 1-2 2-3 2-3 2-2 2-3 3-2 3-3 3-2 3-2 3-3 4-2 4-2 5-2 4-2 5-2 5-2 5-2 5-2 5-1 6-2 6-2 6-1 6-1 6-1 6-2 7-1 6-1 7 0 6-1 7-1 7 0 7-1 7 0 7 0 7 0 7 0 7 0 7 0 7 0 6 1 7 0 7 1 7 1 6 0 7 1 6 1 7 2 6 1 6 1 6 1 6 2 5 2 6 1 5 2 5 2 5 2 4 2 5 2 4 2 4 2 4 2 4 3 3 2 3 2 3 3 2 2 3 3 2 2 2 3 1 3 1 2 1 3 1 3 0 2 0 3M838 540l0-3 1-3 0-3 1-3 2-2 1-3 2-3 2-3 3-3 3-2 3-3 3-2 4-3 4-2 4-3 4-2 5-3 4-2 5-2 6-2 5-2 6-2 6-2 6-1 6-2 6-2 7-1 7-1 6-2 7-1 7-1 8-1 7 0 7-1 8-1 7 0 7 0 8-1 7 0 8 0 8 0 7 1 8 0 7 0 7 1 8 1 7 0 7 1 7 1 7 1 7 2 7 1 6 1 6 2 7 2 6 1 6 2 5 2 6 2 5 2 5 2 5 2 4 3 5 2 4 3 4 2 3 3 4 2 3 3 3 2 2 3 2 3 2 3 2 3 1 2 1 3 1 3 0 3 1 3M824 540l0-3 1-3 0-3 1-3 2-3 2-3 2-3 2-3 3-3 3-3 3-3 4-3 3-3 5-2 4-3 5-2 5-3 5-2 5-3 6-2 6-2 6-2 6-2 7-2 6-2 7-1 7-2 7-1 8-1 7-2 8-1 8-1 7-1 8 0 8-1 8 0 8-1 8 0 8 0 8 0 8 0 8 0 8 1 8 0 8 1 8 0 8 1 8 1 7 1 8 2 7 1 7 1 7 2 7 1 7 2 6 2 7 2 6 2 6 2 5 2 6 3 5 2 5 3 4 2 5 3 4 2 4 3 3 3 4 3 3 3 2 3 3 3 2 3 2 3 1 3 1 3 1 3 0 3 1 3M810 540l0-3 1-4 0-3 2-3 1-4 2-3 2-3 3-3 3-3 3-3 3-3 4-3 4-3 5-3 4-3 5-3 6-2 5-3 6-2 6-3 6-2 7-2 7-2 7-2 7-2 7-2 8-1 7-2 8-1 8-2 8-1 8-1 9-1 8-1 9 0 8-1 9 0 8 0 9-1 9 0 8 1 9 0 8 0 9 1 8 0 9 1 8 1 8 1 8 1 8 2 8 1 8 2 7 1 8 2 7 2 7 2 7 2 6 2 6 2 6 3 6 2 6 3 5 2 5 3 5 3 4 3 4 3 4 3 4 3 3 3 3 3 2 3 2 3 2 3 2 4 1 3 1 3 0 4 1 3M796 540l0-4 1-3 0-4 2-3 1-4 2-3 3-3 2-4 4-3 3-3 4-4 4-3 4-3 5-3 5-3 5-3 6-3 6-2 6-3 6-3 7-2 7-2 7-3 7-2 8-2 8-1 8-2 8-2 8-1 9-2 9-1 8-1 9-1 9-1 9-1 9 0 9-1 9 0 10 0 9 0 9 0 9 0 9 1 9 0 9 1 9 1 9 1 9 1 9 1 8 2 8 1 9 2 8 2 7 1 8 2 7 2 8 3 7 2 6 2 7 3 6 3 6 2 5 3 6 3 5 3 4 3 5 3 4 3 4 4 3 3 3 3 3 4 2 3 2 3 2 4 1 3 1 4 0 3 1 4M782 540l0-4 1-4 1-3 1-4 2-4 2-3 2-4 3-4 3-3 4-4 4-3 4-3 5-4 5-3 5-3 6-3 6-3 6-3 7-3 6-2 8-3 7-2 8-3 7-2 8-2 9-2 8-2 9-2 9-1 9-2 9-1 9-1 10-1 9-1 10-1 9 0 10-1 10 0 9 0 10 0 10 0 10 0 9 1 10 0 10 1 9 1 9 1 10 1 9 1 9 2 9 1 8 2 9 2 8 2 8 2 8 2 8 3 7 2 7 3 7 2 6 3 7 3 6 3 5 3 6 3 5 3 4 4 5 3 4 3 3 4 3 3 3 4 3 4 2 3 2 4 1 4 1 3 0 4 1 4M768 540l0-4 1-4 1-4 1-4 2-4 2-4 3-3 3-4 3-4 4-4 4-3 5-4 5-3 5-4 6-3 6-3 6-3 6-3 7-3 8-3 7-3 8-3 8-2 8-2 9-3 9-2 9-2 9-2 9-1 10-2 9-1 10-1 10-1 10-1 10-1 10-1 10 0 11-1 10 0 10 0 11 0 10 1 10 0 10 1 11 1 10 1 9 1 10 1 10 1 9 2 10 1 9 2 9 2 9 2 8 3 9 2 8 2 7 3 8 3 7 3 7 3 7 3 6 3 6 3 6 3 5 4 5 3 4 4 4 3 4 4 4 4 3 4 2 3 3 4 1 4 2 4 1 4 1 4 0 4M754 540l0-4 1-4 1-5 1-4 2-4 2-4 3-4 3-4 4-4 4-4 4-4 5-3 5-4 6-4 6-3 6-4 7-3 7-3 7-3 8-3 8-3 8-3 8-2 9-3 9-2 9-2 10-2 9-2 10-2 10-2 11-1 10-2 10-1 11-1 11-1 10 0 11-1 11 0 11 0 11 0 11 0 10 0 11 1 11 0 11 1 10 1 11 1 10 2 10 1 10 2 10 2 10 2 9 2 9 2 9 2 9 3 9 2 8 3 8 3 7 3 8 3 7 3 6 3 7 4 5 3 6 4 5 4 5 3 4 4 4 4 4 4 3 4 3 4 2 4 2 4 2 4 1 5 1 4 0 4M740 540l0-4 1-5 1-4 1-5 2-4 3-4 3-4 3-5 4-4 4-4 5-4 5-4 5-4 6-3 6-4 7-4 7-3 7-4 8-3 8-3 8-3 9-3 9-3 9-2 9-3 10-2 10-2 10-2 11-2 10-2 11-1 11-2 11-1 11-1 11-1 11-1 12 0 11 0 12-1 11 0 11 1 12 0 11 0 11 1 12 1 11 1 11 1 11 2 10 1 11 2 10 2 10 2 10 2 10 2 9 3 10 2 9 3 8 3 9 3 8 3 7 3 8 4 7 3 6 4 6 4 6 3 6 4 5 4 4 4 5 4 3 4 4 5 3 4 2 4 2 4 2 5 1 4 1 5 0 4M733 515l2-4 3-4 3-4 4-4 4-3 4-4 4-4 5-3 5-4 5-3 6-3 6-3 6-4 6-3 7-3 7-3 8-2 7-3 8-3 8-2 8-3 8-2 9-2 9-2 9-2 9-2 9-2 10-1 9-2 10-1 10-1 10-1 10-1 10-1 10-1 10 0 11-1 10 0 10 0 10 0 11 0 10 0 10 1 10 0 11 1 10 1 10 1 10 1 9 1 10 1 10 2 9 1 9 2 10 2 9 2 8 2 9 2 8 2 9 3 8 2 7 3 8 3 7 2 7 3 7 3 7 3 6 4 6 3 5 3 6 3 5 4 4 3 5 4 4 4 4 3 3 4 3 4 3 4 3 4M733 496l4-3 3-4 5-3 4-3 5-4 5-3 5-3 5-3 6-3 6-3 6-3 6-2 7-3 6-3 7-2 7-3 8-2 7-2 8-3 8-2 8-2 8-2 9-1 8-2 9-2 8-1 9-2 9-1 9-1 9-1 10-1 9-1 9-1 10-1 9 0 10-1 9 0 10 0 9 0 10 0 10 0 9 0 10 0 9 1 10 0 9 1 10 1 9 1 9 1 9 1 9 1 9 1 9 2 9 1 9 2 8 2 8 1 9 2 8 2 7 2 8 3 8 2 7 2 7 3 7 2 7 3 6 3 7 2 6 3 6 3 5 3 6 3 5 3 5 3 4 4 5 3 4 3 4 4 4 3M733 483l4-3 5-3 4-3 5-3 6-3 5-3 5-3 6-3 6-3 6-2 7-3 6-2 7-3 7-2 7-2 7-2 7-3 8-2 8-2 7-1 8-2 8-2 9-2 8-1 8-2 9-1 9-1 8-1 9-1 9-1 9-1 9-1 9-1 9 0 9-1 9 0 9 0 9-1 10 0 9 0 9 0 9 1 9 0 10 0 9 1 9 0 9 1 9 1 9 1 9 1 8 1 9 1 9 1 8 1 9 2 8 1 8 2 8 2 8 2 8 1 7 2 8 2 7 3 8 2 7 2 7 2 6 3 7 2 6 3 6 2 6 3 6 3 6 3 5 3 5 3 5 3 5 3 4 3 5 3M733 472l5-3 5-3 5-3 5-3 6-2 5-3 6-3 6-2 6-3 7-2 6-2 7-3 7-2 7-2 7-2 7-2 7-2 8-2 8-2 7-2 8-1 8-2 8-1 8-2 9-1 8-1 8-1 9-1 9-1 8-1 9-1 9-1 8 0 9-1 9 0 9-1 9 0 9 0 9 0 9 0 9 0 9 0 9 0 8 1 9 0 9 1 9 0 9 1 8 1 9 1 9 1 8 1 9 1 8 1 8 1 8 2 8 1 8 2 8 1 8 2 8 2 7 2 8 2 7 2 7 2 7 2 7 2 6 3 7 2 6 2 6 3 6 2 6 3 6 3 5 2 6 3 5 3 5 3 5 3M733 462l5-3 5-3 6-2 5-3 6-2 6-3 6-2 6-3 7-2 6-2 7-3 6-2 7-2 7-2 8-2 7-2 7-1 8-2 7-2 8-1 8-2 8-1 8-2 8-1 8-1 8-1 9-1 8-1 8-1 9-1 8-1 9 0 9-1 8 0 9-1 9 0 8 0 9-1 9 0 9 0 8 0 9 1 9 0 9 0 8 1 9 0 8 1 9 0 9 1 8 1 9 1 8 1 8 1 8 1 9 1 8 1 8 2 8 1 7 2 8 1 8 2 7 2 8 1 7 2 7 2 7 2 7 2 7 2 6 3 7 2 6 2 7 3 6 2 5 3 6 2 6 3 5 2 5 3 6 3M733 453l5-3 6-3 5-2 6-2 6-3 6-2 6-3 7-2 6-2 7-2 7-2 6-2 7-2 8-2 7-2 7-1 7-2 8-2 8-1 7-2 8-1 8-1 8-2 8-1 8-1 8-1 8-1 9-1 8-1 8-1 9 0 8-1 9 0 8-1 9 0 8-1 9 0 8 0 9 0 9 0 8 0 9 0 8 0 9 1 8 0 9 1 8 0 9 1 8 0 9 1 8 1 8 1 8 1 9 1 8 1 8 1 8 2 7 1 8 1 8 2 8 1 7 2 7 2 8 1 7 2 7 2 7 2 7 2 7 2 6 2 7 2 6 2 6 3 6 2 6 3 6 2 6 2 5 3 6 3M733 444l6-2 5-3 6-2 6-3 6-2 6-2 7-2 6-2 7-2 6-2 7-2 7-2 7-2 7-2 8-1 7-2 7-2 8-1 7-2 8-1 8-1 8-2 7-1 8-1 8-1 9-1 8-1 8-1 8 0 8-1 9-1 8 0 8-1 9 0 8-1 9 0 8 0 9 0 8 0 8 0 9 0 8 0 9 0 8 0 9 1 8 0 9 1 8 0 8 1 8 1 9 0 8 1 8 1 8 1 8 1 8 1 8 1 8 2 7 1 8 1 8 2 7 1 8 2 7 2 7 1 7 2 7 2 7 2 7 2 7 2 6 2 7 2 6 2 6 2 6 2 6 3 6 2 6 3 6 2M733 436l6-2 6-3 6-2 6-2 6-2 6-3 7-2 6-2 7-1 7-2 7-2 7-2 7-2 7-1 7-2 7-2 8-1 7-1 8-2 8-1 7-1 8-2 8-1 8-1 8-1 8-1 8-1 8 0 8-1 8-1 8 0 9-1 8 0 8-1 9 0 8 0 8-1 9 0 8 0 8 0 9 0 8 0 9 1 8 0 8 0 8 1 9 0 8 1 8 0 8 1 9 1 8 0 8 1 8 1 8 1 8 1 7 1 8 2 8 1 8 1 7 2 8 1 7 1 7 2 8 2 7 1 7 2 7 2 7 2 7 2 6 1 7 2 6 2 7 3 6 2 6 2 6 2 6 3 6 2M733 428l6-2 6-2 6-3 6-2 7-2 6-2 7-2 6-2 7-1 7-2 7-2 7-2 7-1 7-2 7-1 8-2 7-1 8-2 7-1 8-1 7-1 8-2 8-1 8-1 8-1 8 0 8-1 8-1 8-1 8 0 8-1 8 0 9-1 8 0 8-1 8 0 9 0 8 0 8 0 8 0 9 0 8 0 8 0 8 0 9 1 8 0 8 1 8 0 8 1 9 0 8 1 8 1 8 1 8 0 8 1 8 1 7 1 8 2 8 1 7 1 8 1 7 2 8 1 7 2 7 1 8 2 7 1 7 2 7 2 7 2 6 1 7 2 6 2 7 2 6 2 6 2 7 3 6 2 6 2M733 420l6-2 6-2 6-2 7-2 6-2 7-2 6-2 7-1 7-2 7-2 7-2 7-1 7-2 7-1 7-2 8-1 7-1 8-2 7-1 8-1 7-1 8-1 8-1 8-1 8-1 8-1 8-1 8-1 8 0 8-1 8 0 8-1 8 0 8-1 8 0 9 0 8 0 8-1 8 0 8 0 9 0 8 1 8 0 8 0 8 0 9 1 8 0 8 1 8 0 8 1 8 0 8 1 8 1 8 1 8 1 8 1 7 1 8 1 8 1 7 1 8 1 7 2 8 1 7 1 7 2 8 1 7 2 7 1 7 2 7 2 7 2 6 1 7 2 6 2 7 2 6 2 6 2 6 2 7 2M733 413l6-2 6-2 7-2 6-2 7-2 6-2 7-1 7-2 7-2 6-1 7-2 8-2 7-1 7-2 7-1 8-1 7-2 8-1 7-1 8-1 7-1 8-1 8-1 8-1 7-1 8-1 8-1 8 0 8-1 8 0 8-1 8 0 8-1 8 0 9 0 8-1 8 0 8 0 8 0 8 0 8 0 9 0 8 0 8 1 8 0 8 0 8 1 8 0 8 1 8 0 8 1 8 0 8 1 8 1 8 1 8 1 7 1 8 1 8 1 7 1 8 1 7 1 8 2 7 1 8 1 7 2 7 1 7 2 7 2 7 1 7 2 7 2 6 1 7 2 6 2 7 2 6 2 6 2 7 2M733 406l6-2 7-2 6-2 6-2 7-2 7-1 6-2 7-2 7-1 7-2 7-1 7-2 8-1 7-2 7-1 7-1 8-2 7-1 8-1 7-1 8-1 8-1 8-1 7-1 8-1 8 0 8-1 8-1 8 0 8-1 8 0 8-1 8 0 8-1 8 0 8 0 8 0 8 0 8 0 8 0 8 0 8 0 9 0 8 0 8 0 8 1 8 0 8 1 8 0 8 1 8 0 8 1 8 1 7 0 8 1 8 1 8 1 7 1 8 1 8 1 7 1 8 1 7 2 7 1 8 1 7 2 7 1 7 2 7 1 7 2 7 1 7 2 7 2 6 1 7 2 7 2 6 2 6 2 7 2M733 399l6-2 7-2 6-2 7-1 6-2 7-2 7-2 7-1 7-2 7-1 7-2 7-1 7-2 7-1 8-1 7-1 8-2 7-1 8-1 7-1 8-1 7-1 8-1 8 0 8-1 8-1 7-1 8 0 8-1 8 0 8-1 8 0 8-1 8 0 8 0 8 0 8-1 8 0 8 0 8 0 8 0 8 0 8 1 8 0 8 0 8 0 8 1 8 0 8 1 8 0 8 1 8 0 8 1 8 1 8 1 7 0 8 1 8 1 7 1 8 1 7 1 8 1 7 2 8 1 7 1 7 1 8 2 7 1 7 2 7 1 7 2 7 1 6 2 7 2 7 2 6 1 7 2 6 2 7 2M733 392l6-2 7-2 6-1 7-2 7-2 7-1 6-2 7-1 7-2 7-1 7-2 8-1 7-2 7-1 7-1 8-1 7-1 8-2 7-1 8-1 7-1 8 0 8-1 7-1 8-1 8-1 8 0 8-1 8 0 7-1 8 0 8-1 8 0 8 0 8-1 8 0 8 0 8 0 8 0 8 0 8 0 8 0 8 0 8 0 8 1 8 0 8 0 8 1 8 0 8 1 8 0 8 1 7 0 8 1 8 1 8 1 7 1 8 0 8 1 7 1 8 1 7 2 8 1 7 1 7 1 8 1 7 2 7 1 7 2 7 1 7 2 7 1 7 2 7 1 6 2 7 2 7 1 6 2 7 2M733 385l6-1 7-2 7-2 6-2 7-1 7-2 7-1 7-2 7-1 7-2 7-1 7-1 7-2 8-1 7-1 7-1 8-1 7-1 8-1 7-1 8-1 8-1 7-1 8-1 8 0 7-1 8-1 8 0 8-1 8 0 8-1 8 0 8-1 7 0 8 0 8 0 8 0 8-1 8 0 8 0 8 0 8 1 8 0 8 0 8 0 8 0 8 1 8 0 8 1 8 0 7 1 8 0 8 1 8 1 8 0 7 1 8 1 8 1 7 1 8 1 7 1 8 1 7 1 8 1 7 1 7 1 7 2 8 1 7 1 7 2 7 1 7 2 7 1 6 2 7 1 7 2 6 2 7 2 7 1M733 379l7-2 6-2 7-1 7-2 6-2 7-1 7-2 7-1 7-1 7-2 7-1 8-1 7-2 7-1 7-1 8-1 7-1 8-1 7-1 8-1 7-1 8-1 8-1 7 0 8-1 8-1 8 0 7-1 8 0 8-1 8 0 8-1 8 0 8 0 8-1 7 0 8 0 8 0 8 0 8 0 8 0 8 0 8 0 8 0 8 1 8 0 8 0 8 1 7 0 8 1 8 0 8 1 8 0 7 1 8 1 8 0 7 1 8 1 8 1 7 1 8 1 7 1 8 1 7 1 7 1 8 1 7 2 7 1 7 1 7 2 7 1 7 1 7 2 7 1 7 2 7 2 6 1 7 2 7 2" clip-path="url(#h6)" fill="none" stroke="#6f7f7f" stroke-width="1.3" opacity="0.6" />
<clipPath id="h7"><path d="M733,465.5 L736,465.6 L738.9,465.6 L741.9,465.6 L744.8,465.5 L747.8,465.4 L750.7,465.3 L753.7,465.1 L756.7,464.9 L759.6,464.7 L762.6,464.5 L765.5,464.3 L768.5,464 L771.4,463.8 L774.4,463.5 L777.4,463.2 L780.3,462.8 L783.3,462.3 L786.2,461.8 L789.2,461.1 L792.1,460.4 L795.1,459.7 L798.1,458.9 L801,458 L804,457.2 L806.9,456.3 L809.9,455.3 L812.8,454.4 L815.8,453.5 L818.8,452.6 L821.7,451.7 L824.7,450.8 L827.6,449.8 L830.6,448.8 L833.5,447.8 L836.5,446.8 L839.5,445.7 L842.4,444.6 L845.4,443.4 L848.3,442.3 L851.3,441.1 L854.2,439.9 L857.2,438.7 L860.2,437.5 L863.1,436.2 L866.1,435 L869,433.7 L872,432.3 L874.9,431 L877.9,429.6 L880.9,428.1 L883.8,426.7 L886.8,425.2 L889.7,423.7 L892.7,422.1 L895.7,420.6 L898.6,419 L901.6,417.5 L904.5,415.9 L907.5,414.4 L910.4,412.8 L913.4,411.3 L916.4,409.7 L919.3,408.2 L922.3,406.7 L925.2,405.2 L928.2,403.7 L931.1,402.2 L934.1,400.6 L937.1,399 L940,397.4 L943,395.8 L945.9,394.1 L948.9,392.4 L951.8,390.6 L954.8,388.7 L957.8,386.8 L960.7,384.7 L963.7,382.6 L966.6,380.4 L969.6,378.1 L972.5,375.8 L975.5,373.3 L978.5,370.9 L981.4,368.3 L984.4,365.8 L987.3,363.2 L990.3,360.7 L993.2,358 L996.2,355.3 L999.2,352.4 L1002.1,349.5 L1005.1,346.7 L1008,343.8 L1011,341.1 L1013.9,338.4 L1016.9,335.8 L1019.9,333.1 L1022.8,330.5 L1025.8,328 L1028.7,328.1 L1031.7,331.3 L1034.6,334.2 L1037.6,336.9 L1040.6,339.5 L1043.5,342 L1046.5,344.5 L1049.4,347 L1052.4,349.6 L1055.3,352.2 L1058.3,354.9 L1061.3,357.6 L1064.2,360.4 L1067.2,363.1 L1070.1,365.7 L1073.1,368.4 L1076,370.9 L1079,373.4 L1082,375.9 L1084.9,378.2 L1087.9,380.6 L1090.8,382.9 L1093.8,385.3 L1096.7,387.6 L1099.7,389.9 L1102.7,392.3 L1105.6,394.7 L1108.6,397.2 L1111.5,399.6 L1114.5,402 L1117.4,404.3 L1120.4,406.6 L1123.4,408.8 L1126.3,411 L1129.3,413.2 L1132.2,415.3 L1135.2,417.4 L1138.1,419.5 L1141.1,421.4 L1144.1,423.3 L1147,425.1 L1150,426.8 L1152.9,428.5 L1155.9,430.2 L1158.8,431.7 L1161.8,433.3 L1164.8,434.8 L1167.7,436.3 L1170.7,437.7 L1173.6,439.1 L1176.6,440.5 L1179.6,441.9 L1182.5,443.2 L1185.5,444.4 L1188.4,445.7 L1191.4,446.8 L1194.3,448 L1197.3,449.1 L1200.3,450.2 L1203.2,451.2 L1206.2,452.3 L1209.1,453.2 L1212.1,454.1 L1215,455 L1218,455.8 L1221,456.6 L1223.9,457.4 L1226.9,458.2 L1229.8,458.8 L1232.8,459.5 L1235.7,460.1 L1238.7,460.6 L1241.7,461.1 L1244.6,461.6 L1247.6,462.1 L1250.5,462.5 L1253.5,462.9 L1256.4,463.2 L1259.4,463.5 L1262.4,463.8 L1265.3,464.1 L1268.3,464.3 L1271.2,464.5 L1274.2,464.7 L1277.1,464.9 L1280.1,465 L1283.1,465.1 L1286,465.1 L1289,465.2 L1291.9,465.3 L1294.9,465.4 L1297.8,465.4 L1300.8,465.5 L1303.8,465.5 L1306.7,465.5 L1309.7,465.6 L1312.6,465.6 L1315.6,465.6 L1318.5,465.6 L1321.5,465.6 L1321.5,504.3 L733,504.3Z"/></clipPath>
<g clip-path="url(#h7)">
<path d="M733 464.5l2.5 0.1 2.4 0 2.5 0 2.4-0.1 2.5 0 2.5-0.1 2.4-0.1 2.5-0.1 2.5-0.2 2.4-0.1 2.5-0.2 2.4-0.2 2.5-0.2 2.5-0.2 2.4-0.2 2.5-0.2 2.5-0.2 2.4-0.3 2.5-0.3 2.4-0.4 2.5-0.4 2.5-0.5 2.4-0.6 2.5-0.6 2.5-0.6 2.4-0.6 2.5-0.7 2.4-0.7 2.5-0.8 2.5-0.7 2.4-0.8 2.5-0.8 2.5-0.7 2.4-0.8 2.5-0.7 2.4-0.8 2.5-0.8 2.5-0.7 2.4-0.8 2.5-0.9 2.5-0.8 2.4-0.9 2.5-0.9 2.4-0.9 2.5-1 2.5-0.9 2.4-1 2.5-0.9 2.5-1 2.4-1 2.5-1.1 2.4-1 2.5-1 2.5-1.1 2.4-1.1 2.5-1.1 2.5-1.1 2.4-1.1 2.5-1.2 2.4-1.2 2.5-1.2 2.5-1.3 2.4-1.2 2.5-1.3 2.5-1.3 2.4-1.2 2.5-1.3 2.4-1.3 2.5-1.3 2.5-1.3 2.4-1.3 2.5-1.3 2.5-1.3 2.4-1.3 2.5-1.2 2.4-1.3 2.5-1.3 2.5-1.2 2.4-1.3 2.5-1.2 2.4-1.3 2.5-1.3 2.5-1.3 2.4-1.4 2.5-1.3 2.5-1.4 2.4-1.5 2.5-1.4 2.4-1.5 2.5-1.6 2.5-1.6 2.4-1.6 2.5-1.8 2.5-1.8 2.4-1.8 2.5-1.9 2.4-2 2.5-2 2.5-2 2.4-2.1 2.5-2.1 2.5-2.1 2.4-2.2 2.5-2.1 2.4-2.2 2.5-2.2 2.5-2.3 2.4-2.4 2.5-2.4 2.5-2.4 2.4-2.3 2.5-2.4 2.4-2.2 2.5-2.3 2.5-2.2 2.4-2.2 2.5-2.1 2.5-2.2 2.4-2.1 2.5 0 2.4 2.7 2.5 2.5 2.5 2.4 2.4 2.2 2.5 2.1 2.5 2.1 2.4 2.1 2.5 2.1 2.4 2 2.5 2.2 2.5 2.2 2.4 2.3 2.5 2.2 2.5 2.3 2.4 2.3 2.5 2.2 2.4 2.2 2.5 2.2 2.5 2.2 2.4 2.1 2.5 2 2.5 2 2.4 2 2.5 2 2.4 1.9 2.5 1.9 2.5 2 2.4 1.9 2.5 2 2.5 2 2.4 2 2.5 2 2.4 2 2.5 2 2.5 2 2.4 2 2.5 1.9 2.5 1.8 2.4 1.9 2.5 1.8 2.4 1.8 2.5 1.8 2.5 1.7 2.4 1.8 2.5 1.6 2.4 1.6 2.5 1.6 2.5 1.5 2.4 1.5 2.5 1.4 2.5 1.3 2.4 1.4 2.5 1.3 2.4 1.3 2.5 1.3 2.5 1.2 2.4 1.2 2.5 1.2 2.5 1.2 2.4 1.1 2.5 1.2 2.4 1.1 2.5 1.1 2.5 1 2.4 1 2.5 1 2.5 1 2.4 0.9 2.5 0.9 2.4 0.9 2.5 0.9 2.5 0.8 2.4 0.8 2.5 0.8 2.5 0.7 2.4 0.7 2.5 0.7 2.4 0.7 2.5 0.7 2.5 0.6 2.4 0.6 2.5 0.6 2.5 0.5 2.4 0.5 2.5 0.4 2.4 0.5 2.5 0.4 2.5 0.4 2.4 0.4 2.5 0.4 2.5 0.3 2.4 0.3 2.5 0.2 2.4 0.3 2.5 0.2 2.5 0.2 2.4 0.2 2.5 0.2 2.5 0.2 2.4 0.1 2.5 0.2 2.4 0.1 2.5 0 2.5 0.1 2.4 0.1 2.5 0 2.5 0.1 2.4 0 2.5 0.1 2.4 0 2.5 0.1 2.5 0 2.4 0 2.5 0.1 2.5 0 2.4 0 2.5 0 2.4 0 2.5 0 0 13-2.5 0-2.4 0-2.5 0-2.4 0-2.5 0-2.5-0.1-2.4 0-2.5 0-2.5-0.1-2.4 0-2.5-0.1-2.4 0-2.5-0.1-2.5 0-2.4-0.1-2.5-0.1-2.5 0-2.4-0.1-2.5-0.2-2.4-0.1-2.5-0.2-2.5-0.2-2.4-0.2-2.5-0.2-2.5-0.2-2.4-0.3-2.5-0.2-2.4-0.3-2.5-0.3-2.5-0.4-2.4-0.4-2.5-0.4-2.5-0.4-2.4-0.5-2.5-0.4-2.4-0.5-2.5-0.5-2.5-0.6-2.4-0.6-2.5-0.6-2.5-0.7-2.4-0.7-2.5-0.7-2.4-0.7-2.5-0.7-2.5-0.8-2.4-0.8-2.5-0.8-2.5-0.9-2.4-0.9-2.5-0.9-2.4-0.9-2.5-1-2.5-1-2.4-1.1-2.5-1.2-2.5-1.2-2.4-1.2-2.5-1.3-2.4-1.3-2.5-1.3-2.5-1.3-2.4-1.4-2.5-1.4-2.5-1.4-2.4-1.4-2.5-1.4-2.4-1.5-2.5-1.5-2.5-1.6-2.4-1.6-2.5-1.6-2.5-1.7-2.4-1.8-2.5-1.8-2.4-1.8-2.5-1.9-2.5-1.9-2.4-2-2.5-2-2.4-1.9-2.5-2-2.5-2.1-2.4-2.1-2.5-2.1-2.5-2.1-2.4-2.2-2.5-2.1-2.4-2.2-2.5-2.1-2.5-2.1-2.4-2.1-2.5-2.1-2.5-2.1-2.4-2-2.5-2.1-2.4-2.2-2.5-2.1-2.5-2.2-2.4-2.2-2.5-2.3-2.5-2.3-2.4-2.4-2.5-2.4-2.4-2.4-2.5-2.4-2.5-2.4-2.4-2.4-2.5-2.3-2.5-2.3-2.4-2.3-2.5-2.2-2.4-2.2-2.5-2.2-2.5-2.3-2.4-2.4-2.5-2.5-2.5-2.6-2.4-2.9-2.5 0-2.4 2.3-2.5 2.3-2.5 2.3-2.4 2.3-2.5 2.4-2.5 2.4-2.4 2.4-2.5 2.4-2.4 2.5-2.5 2.6-2.5 2.5-2.4 2.5-2.5 2.5-2.5 2.4-2.4 2.2-2.5 2.3-2.4 2.3-2.5 2.3-2.5 2.2-2.4 2.2-2.5 2.2-2.5 2.1-2.4 2.1-2.5 2.1-2.4 2-2.5 1.9-2.5 1.9-2.4 1.8-2.5 1.7-2.5 1.7-2.4 1.6-2.5 1.6-2.4 1.6-2.5 1.5-2.5 1.5-2.4 1.5-2.5 1.5-2.5 1.4-2.4 1.4-2.5 1.4-2.4 1.4-2.5 1.4-2.5 1.4-2.4 1.4-2.5 1.4-2.4 1.4-2.5 1.5-2.5 1.4-2.4 1.4-2.5 1.5-2.5 1.4-2.4 1.4-2.5 1.5-2.4 1.4-2.5 1.4-2.5 1.4-2.4 1.4-2.5 1.4-2.5 1.3-2.4 1.4-2.5 1.3-2.4 1.3-2.5 1.2-2.5 1.3-2.4 1.1-2.5 1.1-2.5 1-2.4 1-2.5 1.1-2.4 1-2.5 1-2.5 0.9-2.4 1-2.5 0.9-2.5 1-2.4 0.9-2.5 0.9-2.4 0.9-2.5 0.8-2.5 0.9-2.4 0.8-2.5 0.7-2.5 0.8-2.4 0.8-2.5 0.7-2.4 0.8-2.5 0.7-2.5 0.8-2.4 0.8-2.5 0.7-2.5 0.8-2.4 0.7-2.5 0.7-2.4 0.6-2.5 0.6-2.5 0.6-2.4 0.6-2.5 0.5-2.5 0.4-2.4 0.4-2.5 0.3-2.4 0.3-2.5 0.2-2.5 0.2-2.4 0.2-2.5 0.2-2.5 0.2-2.4 0.2-2.5 0.2-2.4 0.1-2.5 0.2-2.5 0.1-2.4 0.1-2.5 0.1-2.5 0-2.4 0.1-2.5 0-2.4 0-2.5-0.1z" fill="#3e0a0a" opacity="0.8"/>
</g>
<clipPath id="h8"><path d="M733,465.5 L736,465.6 L738.9,465.6 L741.9,465.6 L744.8,465.5 L747.8,465.4 L750.7,465.3 L753.7,465.1 L756.7,464.9 L759.6,464.7 L762.6,464.5 L765.5,464.3 L768.5,464 L771.4,463.8 L774.4,463.5 L777.4,463.2 L780.3,462.8 L783.3,462.3 L786.2,461.8 L789.2,461.1 L792.1,460.4 L795.1,459.7 L798.1,458.9 L801,458 L804,457.2 L806.9,456.3 L809.9,455.3 L812.8,454.4 L815.8,453.5 L818.8,452.6 L821.7,451.7 L824.7,450.8 L827.6,449.8 L830.6,448.8 L833.5,447.8 L836.5,446.8 L839.5,445.7 L842.4,444.6 L845.4,443.4 L848.3,442.3 L851.3,441.1 L854.2,439.9 L857.2,438.7 L860.2,437.5 L863.1,436.2 L866.1,435 L869,433.7 L872,432.3 L874.9,431 L877.9,429.6 L880.9,428.1 L883.8,426.7 L886.8,425.2 L889.7,423.7 L892.7,422.1 L895.7,420.6 L898.6,419 L901.6,417.5 L904.5,415.9 L907.5,414.4 L910.4,412.8 L913.4,411.3 L916.4,409.7 L919.3,408.2 L922.3,406.7 L925.2,405.2 L928.2,403.7 L931.1,402.2 L934.1,400.6 L937.1,399 L940,397.4 L943,395.8 L945.9,394.1 L948.9,392.4 L951.8,390.6 L954.8,388.7 L957.8,386.8 L960.7,384.7 L963.7,382.6 L966.6,380.4 L969.6,378.1 L972.5,375.8 L975.5,373.3 L978.5,370.9 L981.4,368.3 L984.4,365.8 L987.3,363.2 L990.3,360.7 L993.2,358 L996.2,355.3 L999.2,352.4 L1002.1,349.5 L1005.1,346.7 L1008,343.8 L1011,341.1 L1013.9,338.4 L1016.9,335.8 L1019.9,333.1 L1022.8,330.5 L1025.8,328 L1028.7,328.1 L1031.7,331.3 L1034.6,334.2 L1037.6,336.9 L1040.6,339.5 L1043.5,342 L1046.5,344.5 L1049.4,347 L1052.4,349.6 L1055.3,352.2 L1058.3,354.9 L1061.3,357.6 L1064.2,360.4 L1067.2,363.1 L1070.1,365.7 L1073.1,368.4 L1076,370.9 L1079,373.4 L1082,375.9 L1084.9,378.2 L1087.9,380.6 L1090.8,382.9 L1093.8,385.3 L1096.7,387.6 L1099.7,389.9 L1102.7,392.3 L1105.6,394.7 L1108.6,397.2 L1111.5,399.6 L1114.5,402 L1117.4,404.3 L1120.4,406.6 L1123.4,408.8 L1126.3,411 L1129.3,413.2 L1132.2,415.3 L1135.2,417.4 L1138.1,419.5 L1141.1,421.4 L1144.1,423.3 L1147,425.1 L1150,426.8 L1152.9,428.5 L1155.9,430.2 L1158.8,431.7 L1161.8,433.3 L1164.8,434.8 L1167.7,436.3 L1170.7,437.7 L1173.6,439.1 L1176.6,440.5 L1179.6,441.9 L1182.5,443.2 L1185.5,444.4 L1188.4,445.7 L1191.4,446.8 L1194.3,448 L1197.3,449.1 L1200.3,450.2 L1203.2,451.2 L1206.2,452.3 L1209.1,453.2 L1212.1,454.1 L1215,455 L1218,455.8 L1221,456.6 L1223.9,457.4 L1226.9,458.2 L1229.8,458.8 L1232.8,459.5 L1235.7,460.1 L1238.7,460.6 L1241.7,461.1 L1244.6,461.6 L1247.6,462.1 L1250.5,462.5 L1253.5,462.9 L1256.4,463.2 L1259.4,463.5 L1262.4,463.8 L1265.3,464.1 L1268.3,464.3 L1271.2,464.5 L1274.2,464.7 L1277.1,464.9 L1280.1,465 L1283.1,465.1 L1286,465.1 L1289,465.2 L1291.9,465.3 L1294.9,465.4 L1297.8,465.4 L1300.8,465.5 L1303.8,465.5 L1306.7,465.5 L1309.7,465.6 L1312.6,465.6 L1315.6,465.6 L1318.5,465.6 L1321.5,465.6 L1321.5,480.4 L1318.5,480.4 L1315.6,480.4 L1312.6,480.4 L1309.7,480.4 L1306.7,480.3 L1303.8,480.3 L1300.8,480.2 L1297.8,480.2 L1294.9,480.1 L1291.9,480 L1289,479.9 L1286,479.8 L1283.1,479.7 L1280.1,479.6 L1277.1,479.5 L1274.2,479.4 L1271.2,479.3 L1268.3,479.1 L1265.3,479 L1262.4,478.8 L1259.4,478.5 L1256.4,478.2 L1253.5,477.9 L1250.5,477.5 L1247.6,477.1 L1244.6,476.7 L1241.7,476.1 L1238.7,475.4 L1235.7,474.7 L1232.8,473.9 L1229.8,473 L1226.9,472.1 L1223.9,471.3 L1221,470.4 L1218,469.4 L1215,468.4 L1212.1,467.4 L1209.1,466.3 L1206.2,465.2 L1203.2,464.1 L1200.3,463 L1197.3,461.8 L1194.3,460.7 L1191.4,459.5 L1188.4,458.3 L1185.5,457.1 L1182.5,455.8 L1179.6,454.6 L1176.6,453.4 L1173.6,452.2 L1170.7,450.9 L1167.7,449.6 L1164.8,448.4 L1161.8,447.2 L1158.8,446.1 L1155.9,445.2 L1152.9,444.3 L1150,443.5 L1147,442.7 L1144.1,441.9 L1141.1,441.2 L1138.1,440.6 L1135.2,439.9 L1132.2,439.2 L1129.3,438.6 L1126.3,438 L1123.4,437.4 L1120.4,436.9 L1117.4,436.3 L1114.5,435.7 L1111.5,435.2 L1108.6,434.6 L1105.6,434 L1102.7,433.4 L1099.7,432.8 L1096.7,432.2 L1093.8,431.6 L1090.8,431 L1087.9,430.5 L1084.9,430 L1082,429.5 L1079,429 L1076,428.5 L1073.1,428 L1070.1,427.6 L1067.2,427.2 L1064.2,426.9 L1061.3,426.5 L1058.3,426.2 L1055.3,425.9 L1052.4,425.6 L1049.4,425.3 L1046.5,425.1 L1043.5,424.9 L1040.6,424.7 L1037.6,424.4 L1034.6,424.3 L1031.7,424.1 L1028.7,424 L1025.8,424 L1022.8,424 L1019.9,424.1 L1016.9,424.2 L1013.9,424.3 L1011,424.4 L1008,424.5 L1005.1,424.7 L1002.1,424.8 L999.2,425 L996.2,425.2 L993.2,425.4 L990.3,425.7 L987.3,426 L984.4,426.4 L981.4,426.8 L978.5,427.2 L975.5,427.6 L972.5,428 L969.6,428.5 L966.6,429 L963.7,429.4 L960.7,429.9 L957.8,430.4 L954.8,430.8 L951.8,431.3 L948.9,431.8 L945.9,432.3 L943,432.8 L940,433.3 L937.1,433.9 L934.1,434.4 L931.1,435 L928.2,435.6 L925.2,436.3 L922.3,436.9 L919.3,437.6 L916.4,438.3 L913.4,439 L910.4,439.7 L907.5,440.6 L904.5,441.5 L901.6,442.4 L898.6,443.5 L895.7,444.5 L892.7,445.6 L889.7,446.8 L886.8,447.9 L883.8,449 L880.9,450.2 L877.9,451.3 L874.9,452.4 L872,453.4 L869,454.4 L866.1,455.4 L863.1,456.3 L860.2,457.2 L857.2,458.1 L854.2,459 L851.3,460 L848.3,460.9 L845.4,461.8 L842.4,462.7 L839.5,463.6 L836.5,464.5 L833.5,465.3 L830.6,466.2 L827.6,467 L824.7,467.8 L821.7,468.6 L818.8,469.3 L815.8,470 L812.8,470.7 L809.9,471.4 L806.9,472 L804,472.6 L801,473.1 L798.1,473.6 L795.1,474.1 L792.1,474.5 L789.2,475 L786.2,475.4 L783.3,475.8 L780.3,476.3 L777.4,476.7 L774.4,477.1 L771.4,477.5 L768.5,477.8 L765.5,478.2 L762.6,478.5 L759.6,478.8 L756.7,479.1 L753.7,479.4 L750.7,479.6 L747.8,479.8 L744.8,480 L741.9,480.2 L738.9,480.4 L736,480.5 L733,480.6Z"/></clipPath>
<g clip-path="url(#h8)">
<path d="M733 480.6l3-0.1 3-0.1 3.1-0.2 3-0.2 3-0.2 3-0.2 3-0.3 3-0.2 3.1-0.3 3-0.4 3-0.3 3-0.4 3-0.3 3.1-0.4 3-0.5 3-0.4 3-0.4 3-0.5 3-0.4 3.1-0.5 3-0.4 3-0.5 3-0.5 3-0.6 3-0.6 3.1-0.7 3-0.7 3-0.7 3-0.7 3-0.8 3.1-0.8 3-0.9 3-0.8 3-0.9 3-0.9 3-0.9 3.1-0.9 3-0.9 3-1 3-0.9 3-0.9 3.1-1 3-0.9 3-0.9 3-1 3-1 3-1.1 3.1-1.1 3-1.1 3-1.2 3-1.2 3-1.1 3.1-1.2 3-1.1 3-1.1 3-1 3-1 3-0.9 3.1-0.8 3-0.8 3-0.7 3-0.7 3-0.7 3-0.6 3.1-0.7 3-0.6 3-0.6 3-0.5 3-0.6 3.1-0.5 3-0.6 3-0.5 3-0.5 3-0.4 3-0.5 3.1-0.5 3-0.4 3-0.5 3-0.5 3-0.4 3.1-0.5 3-0.4 3-0.4 3-0.4 3-0.3 3-0.3 3.1-0.3 3-0.2 3-0.2 3-0.1 3-0.2 3.1-0.1 3-0.1 3-0.1 3-0.1 3-0.1 3 0 3.1 0 3 0.1 3 0.2 3 0.2 3 0.2 3 0.2 3.1 0.2 3 0.3 3 0.2 3 0.3 3 0.4 3.1 0.3 3 0.3 3 0.4 3 0.4 3 0.5 3 0.5 3.1 0.4 3 0.6 3 0.5 3 0.5 3 0.6 3.1 0.5 3 0.6 3 0.7 3 0.6 3 0.6 3 0.6 3.1 0.6 3 0.6 3 0.6 3 0.5 3 0.6 3.1 0.6 3 0.7 3 0.6 3 0.7 3 0.7 3 0.7 3.1 0.7 3 0.8 3 0.9 3 0.9 3 0.9 3 1.1 3.1 1.2 3 1.3 3 1.3 3 1.3 3 1.3 3.1 1.2 3 1.2 3 1.2 3 1.3 3 1.2 3 1.2 3.1 1.2 3 1.2 3 1.1 3 1.1 3 1.1 3.1 1.1 3 1.1 3 1 3 1 3 0.9 3 0.9 3.1 0.8 3 0.9 3 0.8 3 0.7 3 0.7 3.1 0.5 3 0.4 3 0.4 3 0.4 3 0.3 3 0.3 3.1 0.2 3 0.2 3 0.1 3 0.2 3 0.1 3 0.1 3.1 0.1 3 0.1 3 0.1 3 0.1 3 0.1 3.1 0.1 3 0 3 0.1 3 0 3 0.1 3 0 3.1 0 3 0 3 0" fill="none" stroke="#3a1a1a" stroke-width="8" stroke-linejoin="round" stroke-linecap="round" opacity="0.5"/>
</g>
<path d="M738 257.5l3 0 3.1 0.1 3 0.1 3 0.2 3 0.2 3.1 0.2 3 0.3 3 0.3 3.1 0.3 3 0.4 3 0.4 3 0.4 3.1 0.5 3 0.5 3 0.6 3.1 0.6 3 0.6 3 0.7 3 0.7 3.1 0.7 3 0.8 3 0.8 3.1 0.8 3 0.9 3 0.9 3 0.9 3.1 0.9 3 1 3 1 3.1 1 3 1.1 3 1.1 3.1 1.1 3 1.1 3 1.1 3 1.1 3.1 1.2 3 1.1 3 1.2 3.1 1.2 3 1.2 3 1.1 3 1.2 3.1 1.2 3 1.2 3 1.2 3.1 1.1 3 1.2 3 1.2 3 1.1 3.1 1.2 3 1.1 3 1.1 3.1 1.1 3 1.1 3 1 3 1.1 3.1 1 3 1 3 1 3.1 1 3 0.9 3 0.9 3 0.9 3.1 0.9 3 0.8 3 0.8 3.1 0.8 3 0.8 3 0.8 3 0.7 3.1 0.7 3 0.7 3 0.6 3.1 0.6 3 0.6 3 0.6 3 0.6 3.1 0.5 3 0.5 3 0.4 3.1 0.5 3 0.4 3 0.4 3 0.3 3.1 0.4 3 0.3 3 0.3 3.1 0.2 3 0.2 3 0.2 3 0.2 3.1 0.1 3 0.1 3 0.1 3.1 0 3 0 3 0 3.1-0.1 3-0.1 3-0.2 3-0.1 3.1-0.3 3-0.2 3-0.3 3.1-0.3 3-0.4 3-0.4 3-0.4 3.1-0.5 3-0.5 3-0.6 3.1-0.6 3-0.7 3-0.6 3-0.7 3.1-0.8 3-0.8 3-0.8 3.1-0.9 3-0.9 3-0.9 3-0.9 3.1-1 3-1 3-1.1 3.1-1.1 3-1.1 3-1.1 3-1.1 3.1-1.2 3-1.1 3-1.2 3.1-1.2 3-1.2 3-1.3 3-1.2 3.1-1.2 3-1.3 3-1.2 3.1-1.3 3-1.2 3-1.2 3-1.3 3.1-1.2 3-1.2 3-1.2 3.1-1.2 3-1.1 3-1.2 3-1.1 3.1-1.1 3-1.1 3-1.1 3.1-1.1 3-1 3-1 3-1 3.1-0.9 3-1 3-0.9 3.1-0.8 3-0.9 3-0.8 3.1-0.8 3-0.8 3-0.7 3-0.7 3.1-0.7 3-0.6 3-0.6 3.1-0.6 3-0.6 3-0.5 3-0.5 3.1-0.5 3-0.4 3-0.4 3.1-0.4 3-0.3 3-0.3 3-0.3 3.1-0.3 3-0.2 3-0.2 3.1-0.1 3-0.2 3 0 3-0.1 3.1 0 3 0" fill="none" stroke="#ec8a8e" stroke-width="2.6" stroke-linejoin="round" stroke-linecap="round" />
</g>
<clipPath id="cld"><rect x="1382" y="15.5" width="580" height="483.5"/></clipPath>
<g clip-path="url(#cld)">
<path d="M1378 137.3l52-4.1 17.4-3.5 14-3.4 0.9-1.8 1.2-0.9 1.5-1.1 1.9-1.4 2.1-1.6 2.2-1.7 2.4-2 2.5-2.2 2.8-2.4 3-2.5 3.1-2.8 3-2.8 3-3 2.9-3.1 3-3.3 3-3.4 2.9-3.4 2.9-3.5 2.8-3.4 2.8-3.4 2.8-3.5 2.7-3.5 2.6-3.5 2.5-3.2 2.3-2.9 2-2.4 1.7-1.9 1.5-1.7 1.6-1.8 1.8-2.2 2.1-2.9 2.7-4 3.1-5 3.4-5.3 3.2-5.3 2.9-4.7 2.1-3.6 1.3-2.5 0.8-1.7 0.3-1.1 0.1-0.8 0.1-0.6 0.1-0.5 55 0-0.1 0.4 0 0.3-0.1 0.4-0.2 0.8-0.6 1.4-0.9 2.2-1.4 3-1.7 3.8-2 4.3-2.3 4.8-2.3 5-2.5 5.2-2.6 5.5-2.8 6-3 6.3-3 6.4-3 6.4-3 6.1-2.9 5.9-2.9 5.9-2.9 5.8-3 5.8-2.9 5.7-2.9 5.7-2.9 5.6-2.9 5.7-2.9 5.5-2.9 5.5-2.9 5.5-2.9 5.4-2.9 5.3-2.9 5.3-2.9 5.3-2.9 5.2-2.9 5.1-2.9 5.1-3 5.3-3.1 5.4-3.1 5.4-3 5.1-2.8 4.6-2.5 3.9-2.1 2.9-1.6 2-1.5 1.5-1.5 1.4-1.6 1.6-1.9 2.3-2.4 3-2.6 3.5-2.8 3.8-2.8 3.8-2.7 3.5-2.4 3.2-2.1 2.7-1.9 2.6-1.8 2.3-1.7 2.1-1.6 2-1.4 2-1.3 1.9-1.3 1.8-1.1 1.7-1 1.6-0.9 1.3-0.7 1.1-0.5 0.8-0.4 0.5-0.2 0.3-0.2 0.2-0.1 0.2-0.1 0.1-0.2-0.3-0.2-0.2-0.3-0.3-0.4-0.6-0.7-1.1-0.9-1.7-1.2-2.5-1.5-3.3-1.7-3.7-1.9-3.9-2-3.9-2.1-3.7-2.4-3.6-2.6-3.7-2.8-3.7-2.8-3.5-2.7-3.3-2.4-3-2.3-2.6-2.3-2.5-2.2-2.2-2-1.9-1.7-1.6-1.2-1.2-6-9-16.6-16.6-23.4-4.3z" fill="#117270" />
<path d="M1378 137.3l14.8-1.1 20.5-1.5 16.7-1.5 8.5-1.2 4.6-1.2 4.3-1.1 5.4-1.5 5-1.4 3.6-0.5 1.5 0.6 0.1 1.6 0 3.5 0.3 7 0.1 9-0.4 7-0.6 3.5-1.1 1.7-2.3 0.8-3.5 0.2-4.6-0.5-6.6-0.9-9.4-1.3-11.4-1.7-11.5-1.3-12.5-0.6-12.6-0.3-8.9-0.1z" fill="#6b0303" />
<path d="M1378 159.8l12.5 2.2 17.5 3.2 14.9 3.2 9.2 3 6.5 3 5.7 2.6 5.5 1.8 4.6 1.4 3.6 1.8 2.5 1.3 1.5 1.7 1 5 0.5 11.6 0 15-0.5 11.4-0.4 5-0.8 1.4-2.5-0.9-5.4-3.5-7.1-5.9-6.8-6.4-5.7-6.8-5.5-7.3-5.9-6.6-6.8-5.4-7.2-4.6-7.5-3.6-8.5-2.3-8.8-1.2-6.1-0.8z" fill="#6b0303" />
<path d="M1378 313.2l6.4-1 9-1.6 8.4-1.7 6.4-1.6 5.7-1.8 6.1-3 7-5 7.2-6.1 6.7-5.6 5.9-4.8 5.3-4.3 4.5-3.5 3.3-2.7 2.5-1.8 2.1-0.7 1.7 0.6 1.3 1.7 1.7 2.9 2.5 4.5 3 5.7 2.8 5.6 2.6 5.2 2.5 5.2 2.3 5.2 2.1 5.2 2 5.3 2 4.9 2 4 2 3.6 2.7 5.2 3.9 7.7 4.6 9.3 4.6 9.2 4.7 9.5 4.8 9.4 3.6 7.3 2.2 4.4 1.2 2.2-0.3 0.2-2.2-2.2-3.5-4.1-4-4.9-4-5.3-4.4-6.1-4.6-6-4.9-6.1-5.1-6.1-5.3-5.2-5.7-3.9-6-2.9-5.7-2-4.6-1-4.4-0.2-6.3 0.1-10 0.2-12 0.4-10.7 0.5-8 0.7-6.8 0.8-7 0.7-8.7 0.5-8.9 0.4-6.2 0.2z" fill="#117270" />
<path d="M1378 327l42-3 30-12" fill="none" stroke="#0f5a57" stroke-width="3" stroke-linejoin="round" stroke-linecap="round" opacity="0.6"/>
<path d="M1464.5 268l-2.5 11-10 7.5-8-0.5 8-7z" fill="#6b0303" />
<path d="M1466 265l2-11 7-4.5 2 2.5-6 7z" fill="#6b0303" />
<path d="M1479 314l0.9-3.1 1.4-4.2 1.7-1.7 2.1 2.6 2.4 5.1 2.5 5.3 2.3 4.4 2.4 4.6 3 5.8 4.1 8.2 4.8 9.5 4.2 8.5 3.6 7.4 3.1 6.5 1.5 4.1-0.7 1.3-2.2-1.1-3.1-3.2-4.1-6-5-8.2-4.9-7.8-4.7-6.9-4.5-6.5-3.8-5.6-2.7-4.7-2-3.7-1.3-2.6z" fill="#6b0303" />
<path d="M1482 160l1.9-2 2.7-2.6 3.2-3.2 3.4-3.5 3.4-3.5 3.1-3.2 2.9-3 3-2.9 2.9-3 2.9-3 3-3.2 2.9-3.4 2.9-3.6 3-3.9 2.9-4 2.9-4.1 3-4.2 2.9-4.3 2.9-4.5 2.9-4.6 2.9-4.7 2.9-4.8 2.9-4.7 2.9-4.6 2.9-4.5 3-4.3 2.9-4.4 2.9-4.3 2.9-4.3 2.8-4.3 2.8-4.6 3-4.8 2.9-4.8 2.7-4.5 2.3-4.1 2-3.4 1.5-2.6 1-2.1 0.8-1.5 0.5-1.2 0.4-1 0.4-0.8" fill="none" stroke="#6a1c1c" stroke-width="7" stroke-linejoin="round" stroke-linecap="round" />
<path d="M1511 364l2.3 4.2 3.3 5.8 3.8 6.8 4.2 7.5 4.1 7.4 3.9 6.9 3.6 6.5 3.7 6.5 3.6 6.6 3.6 6.5 3.7 6.6 3.6 6.5 3.7 6.7 3.9 6.9 3.8 6.9 3.7 6.7 3.5 6.3 3.2 5.7 2.9 5.3 2.8 5 2.6 4.7 2.2 4 1.9 3.4 1.4 2.6" fill="none" stroke="#6b0303" stroke-width="8.5" stroke-linejoin="round" stroke-linecap="round" />
<path d="M1378 362.5l2.6-0.3 3.6-0.4 4.3-0.5 4.6-0.6 4.6-0.8 4.1-0.9 3.7-1.1 3.7-1.4 3.6-1.5 3.6-1.5 3.6-1.6 3.6-1.6 3.7-1.6 3.6-1.8 3.7-1.8 3.7-1.8 3.6-1.5 3.5-1.3 3.4-1 3.4-0.9 3.3-0.6 3.2-0.5 3.2-0.3 3.1 0 3 0.1 2.9 0.3 2.9 0.5 2.8 0.8 2.9 1.1 3 1.6 3.2 2.2 3.5 2.9 3.5 3.3 3.4 3.3 3.2 3.1 2.7 2.6 2.3 2.1 2.1 1.9 1.8 1.6 1.6 1.4 1.2 1.1 1 0.9" fill="none" stroke="#f29a9a" stroke-width="2.2" stroke-linejoin="round" stroke-linecap="round" />
<path d="M1466 266l1.3-0.7 1.7-0.8 2.1-1.1 2.2-1.2 2.2-1.3 2-1.3 1.8-1.4 1.8-1.4 1.7-1.6 1.7-1.6 1.8-1.7 1.7-1.7 1.8-1.8 1.7-1.8 1.7-1.9 1.8-1.9 1.8-2 1.7-2.1 1.8-2.2 1.8-2.3 1.8-2.3 1.8-2.4 1.7-2.3 1.6-2.1 1.4-1.8 1.2-1.5 1.2-1.5 1.2-1.6 1.5-2 1.9-2.7 2.4-3.4 2.8-4 3-4.5 3.1-4.6 3.2-4.6 3-4.5 2.9-4.3 2.9-4.3 2.9-4.2 2.9-4.4 2.9-4.4 2.9-4.6 2.9-4.8 2.9-4.9 2.9-5 2.9-5 2.9-5 2.9-4.9 2.9-4.8 2.9-4.7 3-4.7 2.9-4.6 2.9-4.6 2.9-4.5 2.9-4.5 2.9-4.5 2.9-4.4 2.9-4.4 2.9-4.3 2.9-4.1 2.9-4 2.9-4 2.9-3.8 2.9-3.7 2.9-3.7 2.9-3.5 2.9-3.5 2.9-3.4 2.9-3.3 3-3.2 2.9-3 2.9-2.7 2.9-2.5 3-2.3 2.9-2.1 3-2 2.8-1.7 2.8-1.6 2.9-1.4 2.9-1.3 3-1 2.6-0.9 2.3-0.7 1.6-0.6" fill="none" stroke="#f29a9a" stroke-width="2.2" stroke-linejoin="round" stroke-linecap="round" />
<path d="M1378 198.2l2.6 0.2 3.6 0.3 4.3 0.3 4.6 0.5 4.4 0.5 3.9 0.6 3.4 0.7 3.3 0.6 3.1 0.8 3 0.9 2.9 1.2 2.9 1.5 2.8 1.9 2.6 2.1 2.6 2.4 2.6 2.6 2.5 2.8 2.6 2.9 2.7 3.1 2.7 3.4 2.8 3.5 2.7 3.6 2.5 3.7 2.3 3.5 2.1 3.7 2 3.9 1.9 3.9 1.7 3.7 1.5 3.3 1.2 2.5 0.9 1.7 0.7 1.1 0.4 0.6 0.3 0.3 0.2 0.2 0.2 0.3" fill="none" stroke="#7fe6e6" stroke-width="2.6" stroke-linejoin="round" stroke-linecap="round" />
<path d="M1464.5 267l1.2 2 1.7 2.9 2 3.3 2.2 3.6 2.3 3.7 2.1 3.5 2 3.2 1.9 3.2 2 3.2 2.1 3.4 2.3 3.7 2.7 4 3.1 4.5 3.5 5 3.8 5.3 3.8 5.3 3.9 5.3 3.7 5.1 3.6 4.8 3.7 4.8 3.6 4.7 3.6 4.6 3.7 4.7 3.6 4.7 3.6 4.8 3.7 4.7 3.6 4.8 3.6 4.8 3.7 4.7 3.6 4.6 3.6 4.6 3.7 4.5 3.6 4.5 3.6 4.4 3.7 4.1 3.6 4 3.6 3.7 3.7 3.5 3.6 3.3 3.6 3.2 3.7 3 3.6 3 3.6 2.9 3.7 2.8 3.6 2.6 3.6 2.6 3.7 2.3 3.6 2.1 3.6 1.9 3.7 1.7 3.6 1.4 3.6 1.4 3.7 1.1 3.6 1.1 3.8 0.9 3.9 0.7 4 0.6 3.8 0.5 3.4 0.4 2.9 0.3 2.3 0.2 1.9 0.2 1.6 0 1.2 0 1 0 0.8 0" fill="none" stroke="#7fe6e6" stroke-width="2.6" stroke-linejoin="round" stroke-linecap="round" />
<path d="M1966.5 137.3l-52-4.1-17.4-3.5-14-3.4-0.9-1.8-1.2-0.9-1.5-1.1-1.9-1.4-2.1-1.6-2.2-1.7-2.4-2-2.5-2.2-2.8-2.4-3-2.5-3.1-2.8-3-2.8-3-3-2.9-3.1-3-3.3-3-3.4-2.9-3.4-2.9-3.5-2.8-3.4-2.8-3.4-2.8-3.5-2.7-3.5-2.6-3.5-2.5-3.2-2.3-2.9-2-2.4-1.7-1.9-1.5-1.7-1.6-1.8-1.8-2.2-2.1-2.9-2.7-4-3.1-5-3.4-5.3-3.2-5.3-2.9-4.7-2.1-3.6-1.3-2.5-0.8-1.7-0.3-1.1-0.1-0.8-0.1-0.6-0.1-0.5-55 0 0.1 0.4 0 0.3 0.1 0.4 0.2 0.8 0.6 1.4 0.9 2.2 1.4 3 1.7 3.8 2 4.3 2.3 4.8 2.3 5 2.5 5.2 2.6 5.5 2.8 6 3 6.3 3 6.4 3 6.4 3 6.1 2.9 5.9 2.9 5.9 2.9 5.8 3 5.8 2.9 5.7 2.9 5.7 2.9 5.6 2.9 5.7 2.9 5.5 2.9 5.5 2.9 5.5 2.9 5.4 2.9 5.3 2.9 5.3 2.9 5.3 2.9 5.2 2.9 5.1 2.9 5.1 3 5.3 3.1 5.4 3.1 5.4 3 5.1 2.8 4.6 2.5 3.9 2.1 2.9 1.6 2 1.5 1.5 1.5 1.4 1.6 1.6 1.9 2.3 2.4 3 2.6 3.5 2.8 3.8 2.8 3.8 2.7 3.5 2.4 3.2 2.1 2.7 1.9 2.6 1.8 2.3 1.7 2.1 1.6 2 1.4 2 1.3 1.9 1.3 1.8 1.1 1.7 1 1.6 0.9 1.3 0.7 1.1 0.5 0.8 0.4 0.5 0.2 0.3 0.2 0.2 0.1 0.2 0.1 0.1 0.2-0.3 0.2-0.2 0.3-0.3 0.4-0.6 0.7-1.1 0.9-1.7 1.2-2.5 1.5-3.3 1.7-3.7 1.9-3.9 2-3.9 2.1-3.7 2.4-3.6 2.6-3.7 2.8-3.7 2.8-3.5 2.7-3.3 2.4-3 2.3-2.6 2.3-2.5 2.2-2.2 2-1.9 1.7-1.6 1.2-1.2 6-9 16.6-16.6 23.4-4.3z" fill="#117270" />
<path d="M1966.5 137.3l-14.8-1.1-20.5-1.5-16.7-1.5-8.5-1.2-4.6-1.2-4.3-1.1-5.4-1.5-5-1.4-3.6-0.5-1.5 0.6-0.1 1.6 0 3.5-0.3 7-0.1 9 0.4 7 0.6 3.5 1.1 1.7 2.3 0.8 3.5 0.2 4.6-0.5 6.6-0.9 9.4-1.3 11.4-1.7 11.5-1.3 12.5-0.6 12.6-0.3 8.9-0.1z" fill="#6b0303" />
<path d="M1966.5 159.8l-12.5 2.2-17.5 3.2-14.9 3.2-9.2 3-6.5 3-5.7 2.6-5.5 1.8-4.6 1.4-3.6 1.8-2.5 1.3-1.5 1.7-1 5-0.5 11.6 0 15 0.5 11.4 0.4 5 0.8 1.4 2.5-0.9 5.4-3.5 7.1-5.9 6.8-6.4 5.7-6.8 5.5-7.3 5.9-6.6 6.8-5.4 7.2-4.6 7.5-3.6 8.5-2.3 8.8-1.2 6.1-0.8z" fill="#6b0303" />
<path d="M1966.5 313.2l-6.4-1-9-1.6-8.4-1.7-6.4-1.6-5.7-1.8-6.1-3-7-5-7.2-6.1-6.7-5.6-5.9-4.8-5.3-4.3-4.5-3.5-3.3-2.7-2.5-1.8-2.1-0.7-1.7 0.6-1.3 1.7-1.7 2.9-2.5 4.5-3 5.7-2.8 5.6-2.6 5.2-2.5 5.2-2.3 5.2-2.1 5.2-2 5.3-2 4.9-2 4-2 3.6-2.7 5.2-3.9 7.7-4.6 9.3-4.6 9.2-4.7 9.5-4.8 9.4-3.6 7.3-2.2 4.4-1.2 2.2 0.3 0.2 2.2-2.2 3.5-4.1 4-4.9 4-5.3 4.4-6.1 4.6-6 4.9-6.1 5.1-6.1 5.3-5.2 5.7-3.9 6-2.9 5.7-2 4.6-1 4.4-0.2 6.3 0.1 10 0.2 12 0.4 10.7 0.5 8 0.7 6.8 0.8 7 0.7 8.7 0.5 8.9 0.4 6.2 0.2z" fill="#117270" />
<path d="M1966.5 327l-42-3-30-12" fill="none" stroke="#0f5a57" stroke-width="3" stroke-linejoin="round" stroke-linecap="round" opacity="0.6"/>
<path d="M1880 268l2.5 11 10 7.5 8-0.5-8-7z" fill="#6b0303" />
<path d="M1878.5 265l-2-11-7-4.5-2 2.5 6 7z" fill="#6b0303" />
<path d="M1865.5 314l-0.9-3.1-1.4-4.2-1.7-1.7-2.1 2.6-2.4 5.1-2.5 5.3-2.3 4.4-2.4 4.6-3 5.8-4.1 8.2-4.8 9.5-4.2 8.5-3.6 7.4-3.1 6.5-1.5 4.1 0.7 1.3 2.2-1.1 3.1-3.2 4.1-6 5-8.2 4.9-7.8 4.7-6.9 4.5-6.5 3.8-5.6 2.7-4.7 2-3.7 1.3-2.6z" fill="#6b0303" />
<path d="M1862.5 160l-1.9-2-2.7-2.6-3.1-3.2-3.5-3.5-3.4-3.5-3.1-3.2-2.9-3-3-2.9-2.9-3-2.9-3-3-3.2-2.9-3.4-2.9-3.6-3-3.9-2.9-4-2.9-4.1-3-4.2-2.9-4.3-2.9-4.5-2.9-4.6-2.9-4.7-2.9-4.8-2.9-4.7-2.9-4.6-2.9-4.5-3-4.3-2.9-4.4-2.9-4.3-2.9-4.3-2.8-4.3-2.8-4.6-3-4.8-2.8-4.8-2.8-4.5-2.3-4.1-2-3.4-1.5-2.6-1-2.1-0.8-1.5-0.5-1.2-0.4-1-0.4-0.8" fill="none" stroke="#6a1c1c" stroke-width="7" stroke-linejoin="round" stroke-linecap="round" />
<path d="M1833.5 364l-2.3 4.2-3.3 5.8-3.8 6.8-4.2 7.5-4.1 7.4-3.9 6.9-3.6 6.5-3.7 6.5-3.6 6.6-3.6 6.5-3.7 6.6-3.6 6.5-3.7 6.7-3.9 6.9-3.8 6.9-3.7 6.7-3.5 6.3-3.2 5.7-2.9 5.3-2.8 5-2.6 4.7-2.2 4-1.9 3.4-1.4 2.6" fill="none" stroke="#6b0303" stroke-width="8.5" stroke-linejoin="round" stroke-linecap="round" />
<path d="M1966.5 362.5l-2.6-0.3-3.6-0.4-4.3-0.5-4.6-0.6-4.6-0.8-4.1-0.9-3.7-1.1-3.7-1.4-3.6-1.5-3.6-1.5-3.6-1.6-3.6-1.6-3.7-1.6-3.6-1.8-3.7-1.8-3.7-1.8-3.6-1.5-3.5-1.3-3.4-1-3.4-0.9-3.3-0.6-3.2-0.5-3.2-0.3-3.1 0-3 0.1-2.9 0.3-2.9 0.5-2.8 0.8-2.9 1.1-3 1.6-3.2 2.2-3.5 2.9-3.5 3.3-3.4 3.3-3.2 3.1-2.7 2.6-2.3 2.1-2.1 1.9-1.8 1.6-1.6 1.4-1.2 1.1-1 0.9" fill="none" stroke="#f29a9a" stroke-width="2.2" stroke-linejoin="round" stroke-linecap="round" />
<path d="M1878.5 266l-1.3-0.7-1.7-0.8-2.1-1.1-2.2-1.2-2.2-1.3-2-1.3-1.8-1.4-1.8-1.4-1.7-1.6-1.7-1.6-1.8-1.7-1.7-1.7-1.7-1.8-1.8-1.8-1.8-1.9-1.7-1.9-1.7-2-1.8-2.1-1.8-2.2-1.8-2.3-1.8-2.3-1.8-2.4-1.7-2.3-1.6-2.1-1.4-1.8-1.2-1.5-1.2-1.5-1.2-1.6-1.5-2-1.9-2.7-2.4-3.4-2.8-4-3-4.5-3.1-4.6-3.2-4.6-3-4.5-2.9-4.3-2.9-4.3-2.9-4.2-2.9-4.4-2.9-4.4-2.9-4.6-2.9-4.8-2.9-4.9-2.9-5-2.9-5-2.9-5-2.9-4.9-2.9-4.8-2.9-4.7-3-4.7-2.9-4.6-2.9-4.6-2.9-4.5-2.9-4.5-2.9-4.5-2.9-4.4-2.9-4.4-2.9-4.3-2.9-4.1-2.9-4-2.9-4-2.9-3.8-2.9-3.7-2.9-3.7-2.9-3.5-2.9-3.5-2.9-3.4-2.9-3.3-3-3.2-2.9-3-2.9-2.7-2.9-2.5-3-2.3-2.9-2.1-3-2-2.8-1.7-2.8-1.6-2.9-1.4-2.9-1.3-3-1-2.6-0.9-2.3-0.7-1.7-0.6" fill="none" stroke="#f29a9a" stroke-width="2.2" stroke-linejoin="round" stroke-linecap="round" />
<path d="M1966.5 198.2l-2.6 0.2-3.6 0.3-4.3 0.3-4.6 0.5-4.4 0.5-3.9 0.6-3.4 0.7-3.3 0.6-3.1 0.8-3 0.9-2.9 1.2-2.9 1.5-2.8 1.9-2.6 2.1-2.6 2.4-2.6 2.6-2.5 2.8-2.6 2.9-2.7 3.1-2.7 3.4-2.8 3.5-2.7 3.6-2.5 3.7-2.3 3.5-2.1 3.7-2 3.9-1.9 3.9-1.7 3.7-1.5 3.3-1.2 2.5-0.9 1.7-0.7 1.1-0.4 0.6-0.3 0.3-0.2 0.2-0.2 0.3" fill="none" stroke="#7fe6e6" stroke-width="2.6" stroke-linejoin="round" stroke-linecap="round" />
<path d="M1880 267l-1.2 2-1.7 2.9-2 3.3-2.2 3.6-2.3 3.7-2.1 3.5-2 3.2-1.9 3.2-2 3.2-2.1 3.4-2.3 3.7-2.7 4-3.1 4.5-3.5 5-3.7 5.3-3.9 5.3-3.9 5.3-3.7 5.1-3.6 4.8-3.7 4.8-3.6 4.7-3.6 4.6-3.7 4.7-3.6 4.7-3.6 4.8-3.7 4.7-3.6 4.8-3.6 4.8-3.7 4.7-3.6 4.6-3.6 4.6-3.7 4.5-3.6 4.5-3.6 4.4-3.7 4.1-3.6 4-3.6 3.7-3.7 3.5-3.6 3.3-3.6 3.2-3.7 3-3.6 3-3.6 2.9-3.7 2.8-3.6 2.6-3.6 2.6-3.7 2.3-3.6 2.1-3.6 1.9-3.7 1.7-3.6 1.4-3.6 1.4-3.7 1.1-3.6 1.1-3.8 0.9-3.9 0.7-4 0.6-3.8 0.5-3.4 0.4-2.9 0.3-2.3 0.2-1.9 0.2-1.6 0-1.2 0-1 0-0.9 0" fill="none" stroke="#7fe6e6" stroke-width="2.6" stroke-linejoin="round" stroke-linecap="round" />
</g>
<clipPath id="cle"><rect x="738" y="564" width="578.5" height="482"/></clipPath>
<g clip-path="url(#cle)">
<linearGradient id="geu" x1="738" x2="1316.5" y1="0" y2="0" gradientUnits="userSpaceOnUse"><stop offset="0" stop-color="#6c7474"/><stop offset="0.1" stop-color="#8c9494"/><stop offset="0.22" stop-color="#b8bebe"/><stop offset="0.5" stop-color="#c4c8c8"/><stop offset="0.78" stop-color="#b8bebe"/><stop offset="0.9" stop-color="#8c9494"/><stop offset="1" stop-color="#6c7474"/></linearGradient>
<path d="M736 560l0 99 2.9 0.5 4 0.6 4.7 0.7 5 0.9 4.9 1.1 4.5 1.2 4 1.4 3.9 1.7 3.8 1.8 3.7 1.9 3.8 2.1 3.8 2.1 3.8 2.2 3.9 2.3 3.9 2.4 3.8 2.5 3.8 2.7 3.8 2.9 3.7 3.1 3.7 3.3 3.7 3.4 3.6 3.6 3.6 3.7 3.7 3.9 3.7 4 3.6 4.2 3.7 4.4 3.7 4.4 3.6 4.5 3.7 4.5 3.7 4.5 3.6 4.6 3.7 4.7 3.7 4.6 3.6 4.8 3.7 4.8 3.6 4.8 3.6 4.7 3.6 4.8 3.6 5 3.8 5.2 3.8 5.5 4 5.9 4 6.3 4.2 6.5 4.2 6.6 4.3 6.8 4.3 6.9 4.7 7.5 5.2 8.3 5.2 8.4 4.8 7.9 4.1 6.6 3 4.8 3-3.5 4.3-4.8 5-5.7 5.4-6.1 5.2-6 4.7-5.4 4.1-4.8 3.9-4.7 3.8-4.6 3.8-4.5 3.9-4.7 4.1-4.7 4.7-5.2 5.4-5.8 5.4-5.8 5.1-5.3 4.3-4.6 3.1-3.3 3.2 3.3 4.3 4.6 5.1 5.3 5.4 5.8 5.4 5.8 4.7 5.2 4.1 4.7 3.9 4.7 3.8 4.5 3.8 4.6 3.9 4.7 4.1 4.8 4.7 5.4 5.2 6 5.4 6.1 5 5.7 4.3 4.8 3 3.5 3-4.8 4.1-6.6 4.8-7.9 5.2-8.4 5.2-8.3 4.7-7.5 4.3-6.9 4.3-6.8 4.2-6.6 4.2-6.5 4-6.3 4-5.9 3.8-5.5 3.8-5.2 3.6-5 3.6-4.8 3.6-4.7 3.6-4.8 3.7-4.8 3.6-4.8 3.7-4.6 3.7-4.7 3.6-4.6 3.7-4.5 3.7-4.5 3.6-4.5 3.7-4.4 3.7-4.4 3.6-4.2 3.7-4 3.7-3.9 3.6-3.7 3.6-3.6 3.7-3.4 3.7-3.3 3.7-3.1 3.8-2.9 3.8-2.7 3.8-2.5 3.9-2.4 3.9-2.3 3.8-2.2 3.8-2.1 3.8-2.1 3.7-1.9 3.8-1.8 3.9-1.7 4-1.4 4.5-1.2 4.9-1.1 5-0.9 4.7-0.7 4-0.6 2.9-0.5 0.5-99z" fill="url(#geu)" />
<clipPath id="h9"><path d="M736 556l0 103 2.9 0.5 4 0.6 4.7 0.7 5 0.9 4.9 1.1 4.5 1.2 4 1.4 3.9 1.7 3.8 1.8 3.7 1.9 3.8 2.1 3.8 2.1 3.8 2.2 3.9 2.3 3.9 2.4 3.8 2.5 3.8 2.7 3.8 2.9 3.7 3.1 3.7 3.3 3.7 3.4 3.6 3.6 3.6 3.7 3.7 3.9 3.7 4 3.6 4.2 3.7 4.4 3.7 4.4 3.6 4.5 3.7 4.5 3.7 4.5 3.6 4.6 3.7 4.7 3.7 4.6 3.6 4.8 3.7 4.8 3.6 4.8 3.6 4.7 3.6 4.8 3.6 5 3.8 5.2 3.8 5.5 4 5.9 4 6.3 4.2 6.5 4.2 6.6 4.3 6.8 4.3 6.9 4.7 7.5 5.2 8.3 5.2 8.4 4.8 7.9 4.1 6.6 3 4.8 3-3.5 4.3-4.8 5-5.7 5.4-6.1 5.2-6 4.7-5.4 4.1-4.8 3.9-4.7 3.8-4.6 3.8-4.5 3.9-4.7 4.1-4.7 4.5-4.9 4.8-5.1 5-5.2 4.9-5.1 4.6-5 4.2-4.7 3.8-4.4 3.3-4 3.1-4 3-3.9 3.1-4.2 3.3-4.5 3.5-4.9 3.6-5.2 3.7-5.4 3.6-5.5 3.7-5.5 3.7-5.5 3.6-5.4 3.7-5.5 3.6-5.5 3.6-5.6 3.7-5.5 3.6-5.5 3.6-5.5 3.7-5.5 3.6-5.6 3.6-5.5 3.7-5.5 3.6-5.4 3.6-5.4 3.7-5.4 3.6-5.4 3.6-5.3 3.7-5.3 3.6-5.2 3.7-5.1 3.6-5 3.7-5 3.7-5 3.6-4.9 3.5-5 3.5-5.2 3.6-5.4 3.5-5.3 3.4-5.2 3-4.8 2.6-4.1 2.2-3.5 1.8-3.2 1.5-2.7 1.3-2.3 1-1.8 0.8-1.5 6-2z"/></clipPath>
<path d="M736 598l5 6 5 7 5 7 5 7 6 6 5 7 5 7 5 6 5 7 5 7 5 7 5 6 5 7 5 7 6 7 5 6 5 7 5 7 5 6 5 7 5 7 5 7 5 6 5 7 6 7 5 7 5 6 5 7 5 7 5 6 5 7 5 7 5 7 5 6 6 7 5 7 5 6 5 7 5 6 5 6 5 5 5 1 5-5 5-6 6-6 5-7 5-7 5-6 5-7 5-7 5-6 5-7 5-7 5-6 6-7 5-7 5-7 5-6 5-7 5-7 5-7 5-6 5-7 5-7 6-6 5-7 5-7 5-7 5-6 5-7 5-7 5-7 5-6 5-7 6-7 5-6 5-7 5-7 5-7 5-6 5-7 5-7 5-7 5-6 6-7 5-7 5-7 5-6 5-7M736 597l5 7 5 7 5 7 5 6 6 7 5 7 5 7 5 6 5 7 5 7 5 6 5 7 5 7 5 7 6 6 5 7 5 7 5 6 5 7 5 7 5 7 5 6 5 7 5 7 6 6 5 7 5 7 5 6 5 7 5 7 5 6 5 7 5 7 5 6 6 7 5 6 5 7 5 6 5 6 5 5 5 3 5 1 5-4 5-5 6-5 5-7 5-6 5-6 5-7 5-6 5-7 5-7 5-6 5-7 6-7 5-6 5-7 5-7 5-6 5-7 5-7 5-7 5-6 5-7 6-7 5-6 5-7 5-7 5-7 5-6 5-7 5-7 5-7 5-6 6-7 5-7 5-6 5-7 5-7 5-7 5-6 5-7 5-7 5-7 6-6 5-7 5-7 5-6 5-7M736 597l5 7 5 7 5 6 5 7 6 7 5 6 5 7 5 7 5 7 5 6 5 7 5 7 5 6 5 7 6 7 5 7 5 6 5 7 5 7 5 6 5 7 5 7 5 6 5 7 6 7 5 6 5 7 5 7 5 6 5 7 5 6 5 7 5 6 5 7 6 6 5 6 5 6 5 6 5 5 5 5 5 2 5 0 5-2 5-4 6-5 5-6 5-6 5-6 5-6 5-7 5-6 5-7 5-6 5-7 6-7 5-6 5-7 5-6 5-7 5-7 5-7 5-6 5-7 5-7 6-6 5-7 5-7 5-6 5-7 5-7 5-6 5-7 5-7 5-7 6-6 5-7 5-7 5-6 5-7 5-7 5-7 5-6 5-7 5-7 6-6 5-7 5-7 5-7 5-6M736 597l5 6 5 7 5 7 5 7 6 6 5 7 5 7 5 6 5 7 5 7 5 7 5 6 5 7 5 7 6 6 5 7 5 7 5 6 5 7 5 7 5 6 5 7 5 7 5 6 6 7 5 6 5 7 5 6 5 7 5 6 5 7 5 6 5 7 5 6 6 6 5 6 5 5 5 6 5 4 5 4 5 2 5 0 5-2 5-3 6-5 5-5 5-5 5-6 5-6 5-7 5-6 5-6 5-7 5-6 6-7 5-6 5-7 5-6 5-7 5-7 5-6 5-7 5-7 5-6 6-7 5-7 5-6 5-7 5-7 5-6 5-7 5-7 5-6 5-7 6-7 5-6 5-7 5-7 5-7 5-6 5-7 5-7 5-6 5-7 6-7 5-7 5-6 5-7 5-7M736 596l5 7 5 7 5 6 5 7 6 7 5 6 5 7 5 7 5 6 5 7 5 7 5 7 5 6 5 7 6 6 5 7 5 7 5 6 5 7 5 7 5 6 5 7 5 6 5 7 6 7 5 6 5 7 5 6 5 6 5 7 5 6 5 6 5 6 5 6 6 6 5 6 5 5 5 5 5 4 5 3 5 1 5 0 5-1 5-3 6-4 5-4 5-6 5-5 5-6 5-6 5-6 5-6 5-6 5-7 6-6 5-7 5-6 5-7 5-6 5-7 5-6 5-7 5-7 5-6 6-7 5-6 5-7 5-7 5-6 5-7 5-7 5-6 5-7 5-7 6-6 5-7 5-7 5-6 5-7 5-7 5-7 5-6 5-7 5-7 6-6 5-7 5-7 5-6 5-7M736 596l5 6 5 7 5 7 5 6 6 7 5 7 5 6 5 7 5 7 5 6 5 7 5 7 5 6 5 7 6 7 5 6 5 7 5 6 5 7 5 7 5 6 5 7 5 6 5 7 6 6 5 7 5 6 5 6 5 7 5 6 5 6 5 6 5 6 5 6 6 5 5 5 5 5 5 4 5 4 5 2 5 2 5 0 5-1 5-3 6-3 5-4 5-5 5-5 5-6 5-5 5-6 5-6 5-7 5-6 6-6 5-6 5-7 5-6 5-7 5-6 5-7 5-6 5-7 5-6 6-7 5-6 5-7 5-7 5-6 5-7 5-7 5-6 5-7 5-6 6-7 5-7 5-6 5-7 5-7 5-6 5-7 5-7 5-7 5-6 6-7 5-7 5-6 5-7 5-7M736 595l5 7 5 6 5 7 5 7 6 6 5 7 5 7 5 6 5 7 5 6 5 7 5 7 5 6 5 7 6 6 5 7 5 7 5 6 5 7 5 6 5 7 5 6 5 7 5 6 6 6 5 7 5 6 5 6 5 6 5 6 5 6 5 6 5 6 5 5 6 6 5 4 5 5 5 4 5 3 5 2 5 1 5 0 5-1 5-2 6-3 5-4 5-4 5-5 5-5 5-5 5-6 5-6 5-6 5-6 6-6 5-6 5-7 5-6 5-6 5-7 5-6 5-7 5-6 5-7 6-6 5-7 5-6 5-7 5-6 5-7 5-7 5-6 5-7 5-6 6-7 5-7 5-6 5-7 5-7 5-6 5-7 5-7 5-6 5-7 6-7 5-6 5-7 5-7 5-6M736 594l5 7 5 6 5 7 5 7 6 6 5 7 5 7 5 6 5 7 5 6 5 7 5 7 5 6 5 7 6 6 5 7 5 6 5 7 5 6 5 7 5 6 5 6 5 7 5 6 6 6 5 7 5 6 5 6 5 6 5 6 5 6 5 5 5 6 5 5 6 5 5 4 5 4 5 4 5 3 5 2 5 1 5 0 5-1 5-2 6-3 5-3 5-4 5-5 5-5 5-5 5-5 5-6 5-5 5-6 6-6 5-6 5-7 5-6 5-6 5-6 5-7 5-6 5-7 5-6 6-6 5-7 5-6 5-7 5-7 5-6 5-7 5-6 5-7 5-6 6-7 5-7 5-6 5-7 5-7 5-6 5-7 5-6 5-7 5-7 6-6 5-7 5-7 5-6 5-7M736 593l5 7 5 6 5 7 5 7 6 6 5 7 5 6 5 7 5 7 5 6 5 7 5 6 5 7 5 6 6 7 5 6 5 7 5 6 5 7 5 6 5 6 5 7 5 6 5 6 6 6 5 6 5 6 5 6 5 6 5 6 5 6 5 5 5 5 5 5 6 5 5 4 5 4 5 3 5 3 5 1 5 1 5 0 5 0 5-2 6-3 5-3 5-3 5-5 5-4 5-5 5-5 5-6 5-5 5-6 6-6 5-6 5-6 5-6 5-6 5-6 5-7 5-6 5-6 5-7 6-6 5-6 5-7 5-6 5-7 5-6 5-7 5-6 5-7 5-7 6-6 5-7 5-6 5-7 5-7 5-6 5-7 5-6 5-7 5-7 6-6 5-7 5-7 5-6 5-7M736 592l5 7 5 6 5 7 5 7 6 6 5 7 5 6 5 7 5 6 5 7 5 6 5 7 5 6 5 7 6 6 5 7 5 6 5 6 5 7 5 6 5 6 5 7 5 6 5 6 6 6 5 6 5 6 5 6 5 5 5 6 5 5 5 6 5 4 5 5 6 5 5 4 5 3 5 3 5 2 5 2 5 1 5 0 5-1 5-1 6-3 5-3 5-3 5-4 5-4 5-5 5-5 5-5 5-5 5-6 6-6 5-5 5-6 5-6 5-6 5-7 5-6 5-6 5-6 5-6 6-7 5-6 5-7 5-6 5-6 5-7 5-6 5-7 5-6 5-7 6-6 5-7 5-7 5-6 5-7 5-6 5-7 5-6 5-7 5-7 6-6 5-7 5-6 5-7 5-7M736 591l5 7 5 6 5 7 5 6 6 7 5 6 5 7 5 6 5 7 5 6 5 7 5 6 5 7 5 6 6 7 5 6 5 6 5 7 5 6 5 6 5 6 5 6 5 6 5 6 6 6 5 6 5 6 5 6 5 5 5 6 5 5 5 5 5 5 5 4 6 4 5 4 5 3 5 3 5 2 5 2 5 0 5 0 5 0 5-2 6-2 5-2 5-4 5-3 5-4 5-5 5-5 5-5 5-5 5-5 6-6 5-5 5-6 5-6 5-6 5-6 5-6 5-6 5-6 5-6 6-7 5-6 5-6 5-7 5-6 5-6 5-7 5-6 5-7 5-6 6-7 5-6 5-7 5-6 5-7 5-6 5-7 5-7 5-6 5-7 6-6 5-7 5-6 5-7 5-7M736 590l5 6 5 7 5 6 5 7 6 7 5 6 5 6 5 7 5 6 5 7 5 6 5 7 5 6 5 6 6 7 5 6 5 6 5 6 5 7 5 6 5 6 5 6 5 6 5 6 6 6 5 5 5 6 5 6 5 5 5 5 5 5 5 5 5 4 5 5 6 4 5 3 5 3 5 3 5 2 5 1 5 1 5 0 5-1 5-1 6-2 5-2 5-3 5-4 5-4 5-4 5-4 5-5 5-5 5-5 6-6 5-5 5-6 5-6 5-5 5-6 5-6 5-6 5-6 5-7 6-6 5-6 5-6 5-7 5-6 5-6 5-7 5-6 5-6 5-7 6-6 5-7 5-6 5-7 5-6 5-7 5-6 5-7 5-6 5-7 6-6 5-7 5-7 5-6 5-7M736 589l5 6 5 7 5 6 5 7 6 6 5 6 5 7 5 6 5 7 5 6 5 6 5 7 5 6 5 6 6 7 5 6 5 6 5 6 5 6 5 6 5 6 5 6 5 6 5 6 6 6 5 5 5 6 5 5 5 5 5 5 5 5 5 5 5 4 5 4 6 4 5 3 5 3 5 3 5 1 5 2 5 0 5 0 5 0 5-1 6-2 5-2 5-3 5-4 5-3 5-4 5-5 5-4 5-5 5-5 6-5 5-5 5-6 5-6 5-5 5-6 5-6 5-6 5-6 5-6 6-6 5-6 5-6 5-7 5-6 5-6 5-6 5-7 5-6 5-6 6-7 5-6 5-7 5-6 5-7 5-6 5-7 5-6 5-7 5-6 6-7 5-6 5-7 5-6 5-7M736 587l5 7 5 6 5 7 5 6 6 6 5 7 5 6 5 7 5 6 5 6 5 7 5 6 5 6 5 6 6 7 5 6 5 6 5 6 5 6 5 6 5 6 5 6 5 5 5 6 6 6 5 5 5 6 5 5 5 5 5 5 5 4 5 5 5 4 5 4 6 3 5 3 5 3 5 2 5 2 5 1 5 1 5 0 5-1 5-1 6-1 5-3 5-2 5-3 5-4 5-4 5-4 5-4 5-5 5-5 6-5 5-5 5-5 5-6 5-5 5-6 5-6 5-5 5-6 5-6 6-6 5-6 5-7 5-6 5-6 5-6 5-6 5-7 5-6 5-6 6-7 5-6 5-6 5-7 5-6 5-7 5-6 5-7 5-6 5-7 6-6 5-7 5-6 5-7 5-6M736 586l5 6 5 6 5 7 5 6 6 7 5 6 5 6 5 7 5 6 5 6 5 7 5 6 5 6 5 6 6 6 5 6 5 6 5 6 5 6 5 6 5 6 5 6 5 5 5 6 6 5 5 6 5 5 5 5 5 5 5 5 5 4 5 4 5 4 5 4 6 3 5 3 5 3 5 2 5 2 5 1 5 0 5 0 5 0 5-1 6-2 5-2 5-2 5-3 5-3 5-4 5-4 5-4 5-5 5-4 6-5 5-5 5-6 5-5 5-5 5-6 5-5 5-6 5-6 5-6 6-6 5-6 5-6 5-6 5-6 5-6 5-6 5-7 5-6 5-6 6-6 5-7 5-6 5-7 5-6 5-6 5-7 5-6 5-7 5-6 6-7 5-6 5-7 5-6 5-7M736 584l5 6 5 7 5 6 5 7 6 6 5 6 5 7 5 6 5 6 5 6 5 7 5 6 5 6 5 6 6 6 5 6 5 6 5 6 5 6 5 5 5 6 5 6 5 5 5 6 6 5 5 5 5 5 5 5 5 5 5 5 5 4 5 4 5 4 5 3 6 4 5 2 5 3 5 2 5 1 5 1 5 1 5 0 5-1 5-1 6-1 5-2 5-2 5-3 5-3 5-4 5-3 5-5 5-4 5-4 6-5 5-5 5-5 5-5 5-6 5-5 5-6 5-5 5-6 5-6 6-5 5-6 5-6 5-6 5-6 5-6 5-7 5-6 5-6 5-6 6-6 5-7 5-6 5-6 5-7 5-6 5-6 5-7 5-6 5-7 6-6 5-7 5-6 5-6 5-7M736 582l5 7 5 6 5 6 5 7 6 6 5 6 5 7 5 6 5 6 5 6 5 6 5 6 5 6 5 6 6 6 5 6 5 6 5 6 5 6 5 6 5 5 5 6 5 5 5 5 6 6 5 5 5 5 5 4 5 5 5 4 5 5 5 4 5 3 5 4 6 3 5 2 5 3 5 1 5 2 5 1 5 0 5 0 5 0 5-1 6-1 5-2 5-2 5-3 5-3 5-3 5-4 5-4 5-4 5-4 6-5 5-5 5-5 5-5 5-5 5-5 5-6 5-5 5-6 5-5 6-6 5-6 5-6 5-6 5-6 5-6 5-6 5-6 5-6 5-6 6-7 5-6 5-6 5-6 5-7 5-6 5-6 5-7 5-6 5-6 6-7 5-6 5-7 5-6 5-6M736 580l5 7 5 6 5 6 5 7 6 6 5 6 5 6 5 7 5 6 5 6 5 6 5 6 5 6 5 6 6 6 5 6 5 6 5 5 5 6 5 6 5 5 5 5 5 6 5 5 6 5 5 5 5 5 5 4 5 5 5 4 5 4 5 4 5 4 5 3 6 3 5 2 5 2 5 2 5 2 5 0 5 1 5 0 5 0 5-1 6-2 5-1 5-3 5-2 5-3 5-3 5-4 5-3 5-4 5-5 6-4 5-5 5-4 5-5 5-5 5-6 5-5 5-5 5-6 5-5 6-6 5-6 5-6 5-5 5-6 5-6 5-6 5-6 5-6 5-7 6-6 5-6 5-6 5-6 5-7 5-6 5-6 5-6 5-7 5-6 6-6 5-7 5-6 5-7 5-6M736 579l5 6 5 6 5 6 5 7 6 6 5 6 5 6 5 6 5 6 5 6 5 6 5 6 5 6 5 6 6 6 5 6 5 6 5 5 5 6 5 5 5 6 5 5 5 5 5 5 6 5 5 5 5 5 5 4 5 5 5 4 5 4 5 3 5 4 5 3 6 3 5 2 5 2 5 2 5 1 5 1 5 0 5 0 5 0 5-1 6-1 5-2 5-2 5-2 5-3 5-3 5-3 5-4 5-4 5-4 6-4 5-5 5-4 5-5 5-5 5-5 5-5 5-6 5-5 5-6 6-5 5-6 5-5 5-6 5-6 5-6 5-6 5-6 5-6 5-6 6-6 5-6 5-6 5-6 5-7 5-6 5-6 5-6 5-7 5-6 6-6 5-7 5-6 5-6 5-7M736 577l5 6 5 6 5 6 5 7 6 6 5 6 5 6 5 6 5 6 5 6 5 6 5 6 5 6 5 6 6 5 5 6 5 6 5 5 5 6 5 5 5 5 5 6 5 5 5 5 6 5 5 4 5 5 5 4 5 4 5 4 5 4 5 4 5 3 5 3 6 2 5 3 5 2 5 1 5 2 5 1 5 0 5 0 5 0 5-1 6-1 5-2 5-2 5-2 5-3 5-3 5-3 5-3 5-4 5-4 6-4 5-5 5-4 5-5 5-5 5-5 5-5 5-5 5-5 5-6 6-5 5-6 5-5 5-6 5-6 5-6 5-5 5-6 5-6 5-6 6-6 5-6 5-6 5-7 5-6 5-6 5-6 5-6 5-7 5-6 6-6 5-6 5-7 5-6 5-7M736 575l5 6 5 6 5 6 5 6 6 6 5 6 5 6 5 6 5 6 5 6 5 6 5 6 5 6 5 6 6 5 5 6 5 6 5 5 5 5 5 6 5 5 5 5 5 5 5 5 6 5 5 4 5 5 5 4 5 4 5 4 5 3 5 4 5 3 5 3 6 2 5 3 5 2 5 1 5 1 5 1 5 0 5 0 5 0 5-1 6-1 5-1 5-2 5-2 5-3 5-3 5-3 5-3 5-4 5-4 6-4 5-4 5-4 5-5 5-5 5-4 5-5 5-5 5-6 5-5 6-5 5-6 5-5 5-6 5-6 5-5 5-6 5-6 5-6 5-6 6-6 5-6 5-6 5-6 5-6 5-6 5-6 5-6 5-7 5-6 6-6 5-6 5-7 5-6 5-6M736 572l5 7 5 6 5 6 5 6 6 6 5 6 5 6 5 6 5 6 5 6 5 6 5 5 5 6 5 6 6 5 5 6 5 5 5 6 5 5 5 5 5 5 5 5 5 5 5 5 6 5 5 4 5 4 5 5 5 3 5 4 5 4 5 3 5 3 5 3 6 2 5 2 5 2 5 2 5 1 5 1 5 0 5 0 5 0 5-1 6-1 5-2 5-1 5-3 5-2 5-3 5-3 5-3 5-3 5-4 6-4 5-4 5-4 5-5 5-4 5-5 5-5 5-5 5-5 5-5 6-6 5-5 5-6 5-5 5-6 5-5 5-6 5-6 5-6 5-5 6-6 5-6 5-6 5-6 5-6 5-6 5-7 5-6 5-6 5-6 6-6 5-6 5-7 5-6 5-6M736 570l5 6 5 6 5 6 5 6 6 6 5 6 5 6 5 6 5 6 5 6 5 6 5 5 5 6 5 6 6 5 5 6 5 5 5 5 5 6 5 5 5 5 5 5 5 4 5 5 6 4 5 5 5 4 5 4 5 4 5 4 5 3 5 3 5 3 5 3 6 2 5 2 5 2 5 1 5 1 5 1 5 0 5 0 5 0 5-1 6-1 5-1 5-2 5-2 5-2 5-3 5-3 5-3 5-3 5-4 6-3 5-4 5-5 5-4 5-4 5-5 5-5 5-5 5-5 5-5 6-5 5-5 5-6 5-5 5-6 5-5 5-6 5-6 5-5 5-6 6-6 5-6 5-6 5-6 5-6 5-6 5-6 5-6 5-6 5-6 6-6 5-7 5-6 5-6 5-6M736 568l5 6 5 6 5 6 5 6 6 6 5 6 5 6 5 6 5 5 5 6 5 6 5 5 5 6 5 5 6 6 5 5 5 6 5 5 5 5 5 5 5 5 5 5 5 4 5 5 6 4 5 5 5 4 5 4 5 3 5 4 5 3 5 3 5 3 5 3 6 2 5 2 5 1 5 2 5 1 5 1 5 0 5 0 5 0 5-1 6-1 5-1 5-2 5-2 5-2 5-3 5-2 5-3 5-4 5-3 6-4 5-4 5-4 5-4 5-5 5-4 5-5 5-5 5-4 5-5 6-6 5-5 5-5 5-5 5-6 5-5 5-6 5-6 5-5 5-6 6-6 5-6 5-5 5-6 5-6 5-6 5-6 5-6 5-6 5-6 6-7 5-6 5-6 5-6 5-6M736 565l5 7 5 6 5 5 5 6 6 6 5 6 5 6 5 6 5 5 5 6 5 6 5 5 5 6 5 5 6 6 5 5 5 5 5 5 5 5 5 5 5 5 5 5 5 4 5 5 6 4 5 4 5 4 5 4 5 4 5 3 5 3 5 3 5 3 5 2 6 3 5 2 5 1 5 1 5 1 5 1 5 0 5 0 5 0 5 0 6-1 5-2 5-1 5-2 5-2 5-3 5-2 5-3 5-4 5-3 6-4 5-3 5-4 5-4 5-5 5-4 5-5 5-4 5-5 5-5 6-5 5-5 5-5 5-6 5-5 5-6 5-5 5-6 5-5 5-6 6-6 5-5 5-6 5-6 5-6 5-6 5-6 5-6 5-6 5-6 6-6 5-6 5-6 5-6 5-6M736 563l5 6 5 6 5 6 5 6 6 6 5 5 5 6 5 6 5 5 5 6 5 6 5 5 5 6 5 5 6 5 5 5 5 6 5 5 5 5 5 4 5 5 5 5 5 4 5 5 6 4 5 4 5 4 5 3 5 4 5 3 5 3 5 3 5 3 5 2 6 2 5 2 5 2 5 1 5 1 5 1 5 0 5 0 5 0 5-1 6-1 5-1 5-2 5-1 5-2 5-3 5-2 5-3 5-3 5-4 6-3 5-4 5-4 5-4 5-4 5-4 5-5 5-4 5-5 5-5 6-5 5-5 5-5 5-5 5-5 5-6 5-5 5-6 5-5 5-6 6-6 5-5 5-6 5-6 5-6 5-5 5-6 5-6 5-6 5-6 6-6 5-6 5-6 5-7 5-6M736 560l5 6 5 6 5 6 5 6 6 6 5 5 5 6 5 6 5 5 5 6 5 5 5 6 5 5 5 6 6 5 5 5 5 5 5 5 5 5 5 4 5 5 5 5 5 4 5 4 6 4 5 4 5 4 5 4 5 3 5 3 5 3 5 3 5 3 5 2 6 2 5 2 5 1 5 2 5 1 5 0 5 0 5 0 5 0 5 0 6-1 5-1 5-2 5-2 5-2 5-2 5-2 5-3 5-3 5-3 6-4 5-3 5-4 5-4 5-4 5-4 5-5 5-4 5-5 5-5 6-5 5-5 5-5 5-5 5-5 5-5 5-5 5-6 5-5 5-6 6-6 5-5 5-6 5-6 5-5 5-6 5-6 5-6 5-6 5-6 6-6 5-6 5-6 5-6 5-6M736 558l5 6 5 6 5 5 5 6 6 6 5 6 5 5 5 6 5 5 5 6 5 5 5 6 5 5 5 5 6 5 5 5 5 5 5 5 5 5 5 4 5 5 5 4 5 5 5 4 6 4 5 4 5 4 5 3 5 3 5 4 5 2 5 3 5 3 5 2 6 2 5 2 5 1 5 1 5 1 5 1 5 0 5 0 5 0 5-1 6-1 5-1 5-1 5-2 5-2 5-2 5-3 5-2 5-3 5-3 6-4 5-3 5-4 5-4 5-4 5-4 5-4 5-4 5-5 5-5 6-4 5-5 5-5 5-5 5-5 5-6 5-5 5-5 5-6 5-5 6-6 5-5 5-6 5-5 5-6 5-6 5-6 5-6 5-5 5-6 6-6 5-6 5-6 5-6 5-6M736 555l5 6 5 6 5 6 5 5 6 6 5 6 5 5 5 6 5 5 5 5 5 6 5 5 5 5 5 5 6 6 5 5 5 4 5 5 5 5 5 4 5 5 5 4 5 4 5 5 6 3 5 4 5 4 5 3 5 4 5 3 5 2 5 3 5 2 5 3 6 2 5 1 5 2 5 1 5 1 5 0 5 0 5 0 5 0 5 0 6-1 5-1 5-2 5-1 5-2 5-2 5-3 5-2 5-3 5-3 6-3 5-4 5-3 5-4 5-4 5-4 5-4 5-5 5-4 5-5 6-4 5-5 5-5 5-5 5-5 5-5 5-5 5-6 5-5 5-5 6-6 5-5 5-6 5-5 5-6 5-6 5-6 5-5 5-6 5-6 6-6 5-6 5-6 5-6 5-6M736 552l5 6 5 6 5 6 5 5 6 6 5 5 5 6 5 5 5 6 5 5 5 5 5 6 5 5 5 5 6 5 5 5 5 5 5 4 5 5 5 4 5 5 5 4 5 4 5 4 6 4 5 4 5 3 5 3 5 4 5 3 5 2 5 3 5 2 5 2 6 2 5 2 5 1 5 1 5 1 5 1 5 0 5 0 5 0 5-1 6-1 5-1 5-1 5-2 5-1 5-2 5-3 5-2 5-3 5-3 6-3 5-3 5-4 5-4 5-3 5-4 5-5 5-4 5-4 5-5 6-4 5-5 5-5 5-5 5-5 5-5 5-5 5-5 5-5 5-6 6-5 5-5 5-6 5-5 5-6 5-6 5-5 5-6 5-6 5-6 6-6 5-5 5-6 5-6 5-6M736 550l5 5 5 6 5 6 5 5 6 6 5 5 5 6 5 5 5 5 5 6 5 5 5 5 5 5 5 5 6 5 5 5 5 5 5 4 5 5 5 4 5 4 5 5 5 4 5 4 6 3 5 4 5 3 5 4 5 3 5 3 5 2 5 3 5 2 5 2 6 2 5 1 5 2 5 1 5 1 5 0 5 0 5 0 5 0 5 0 6-1 5-1 5-1 5-2 5-2 5-2 5-2 5-2 5-3 5-3 6-3 5-3 5-4 5-3 5-4 5-4 5-4 5-4 5-4 5-5 6-4 5-5 5-5 5-4 5-5 5-5 5-5 5-5 5-6 5-5 6-5 5-6 5-5 5-6 5-5 5-6 5-5 5-6 5-6 5-6 6-5 5-6 5-6 5-6 5-6M736 547l5 5 5 6 5 6 5 5 6 6 5 5 5 5 5 6 5 5 5 5 5 5 5 5 5 5 5 5 6 5 5 5 5 5 5 4 5 5 5 4 5 4 5 4 5 4 5 4 6 4 5 3 5 4 5 3 5 3 5 3 5 2 5 3 5 2 5 2 6 2 5 1 5 1 5 1 5 1 5 1 5 0 5 0 5 0 5-1 6-1 5-1 5-1 5-1 5-2 5-2 5-2 5-2 5-3 5-3 6-3 5-3 5-3 5-4 5-3 5-4 5-4 5-4 5-5 5-4 6-4 5-5 5-4 5-5 5-5 5-5 5-5 5-5 5-5 5-5 6-6 5-5 5-5 5-6 5-5 5-6 5-5 5-6 5-6 5-5 6-6 5-6 5-6 5-6 5-5M736 544l5 5 5 6 5 5 5 6 6 5 5 6 5 5 5 5 5 6 5 5 5 5 5 5 5 5 5 5 6 4 5 5 5 5 5 4 5 4 5 5 5 4 5 4 5 4 5 3 6 4 5 3 5 4 5 3 5 3 5 3 5 2 5 2 5 3 5 2 6 1 5 2 5 1 5 1 5 1 5 0 5 0 5 0 5 0 5 0 6-1 5-1 5-1 5-2 5-1 5-2 5-2 5-3 5-2 5-3 6-3 5-3 5-3 5-4 5-3 5-4 5-4 5-4 5-4 5-4 6-4 5-5 5-4 5-5 5-5 5-5 5-5 5-5 5-5 5-5 6-5 5-5 5-6 5-5 5-5 5-6 5-5 5-6 5-6 5-5 6-6 5-6 5-6 5-5 5-6M736 541l5 5 5 6 5 5 5 6 6 5 5 5 5 6 5 5 5 5 5 5 5 5 5 5 5 5 5 5 6 4 5 5 5 4 5 5 5 4 5 4 5 4 5 4 5 4 5 4 6 3 5 4 5 3 5 3 5 3 5 2 5 3 5 2 5 2 5 2 6 2 5 1 5 2 5 0 5 1 5 1 5 0 5 0 5 0 5-1 6 0 5-1 5-2 5-1 5-2 5-1 5-2 5-3 5-2 5-3 6-3 5-3 5-3 5-3 5-4 5-3 5-4 5-4 5-4 5-4 6-5 5-4 5-4 5-5 5-5 5-5 5-4 5-5 5-5 5-5 6-6 5-5 5-5 5-5 5-6 5-5 5-6 5-5 5-6 5-5 6-6 5-6 5-5 5-6 5-6M736 538l5 5 5 6 5 5 5 5 6 6 5 5 5 5 5 5 5 5 5 5 5 5 5 5 5 5 5 5 6 4 5 5 5 4 5 5 5 4 5 4 5 4 5 4 5 4 5 3 6 4 5 3 5 3 5 3 5 3 5 2 5 3 5 2 5 2 5 2 6 2 5 1 5 1 5 1 5 1 5 0 5 0 5 0 5 0 5 0 6-1 5-1 5-1 5-1 5-2 5-2 5-2 5-2 5-2 5-3 6-3 5-3 5-3 5-3 5-3 5-4 5-4 5-4 5-4 5-4 6-4 5-4 5-5 5-4 5-5 5-4 5-5 5-5 5-5 5-5 6-5 5-5 5-5 5-6 5-5 5-5 5-6 5-5 5-6 5-5 6-6 5-6 5-5 5-6 5-6M736 534l5 6 5 5 5 6 5 5 6 5 5 5 5 6 5 5 5 5 5 5 5 5 5 4 5 5 5 5 6 4 5 5 5 4 5 4 5 5 5 4 5 3 5 4 5 4 5 3 6 4 5 3 5 3 5 3 5 3 5 2 5 3 5 2 5 2 5 2 6 1 5 2 5 1 5 1 5 0 5 1 5 0 5 0 5 0 5-1 6 0 5-1 5-1 5-2 5-1 5-2 5-2 5-2 5-2 5-3 6-3 5-3 5-3 5-3 5-3 5-4 5-3 5-4 5-4 5-4 6-4 5-4 5-5 5-4 5-5 5-4 5-5 5-5 5-5 5-5 6-5 5-5 5-5 5-5 5-5 5-6 5-5 5-5 5-6 5-5 6-6 5-6 5-5 5-6 5-6M736 531l5 6 5 5 5 5 5 6 6 5 5 5 5 5 5 5 5 5 5 5 5 5 5 4 5 5 5 5 6 4 5 5 5 4 5 4 5 4 5 4 5 4 5 4 5 3 5 4 6 3 5 3 5 3 5 3 5 3 5 2 5 2 5 3 5 2 5 1 6 2 5 1 5 1 5 1 5 1 5 0 5 0 5 0 5 0 5 0 6-1 5-1 5-1 5-1 5-2 5-1 5-2 5-2 5-3 5-2 6-3 5-2 5-3 5-4 5-3 5-3 5-4 5-4 5-3 5-4 6-4 5-5 5-4 5-4 5-5 5-4 5-5 5-5 5-4 5-5 6-5 5-5 5-5 5-6 5-5 5-5 5-5 5-6 5-5 5-6 6-5 5-6 5-5 5-6 5-6M736 528l5 5 5 6 5 5 5 5 6 5 5 5 5 5 5 5 5 5 5 5 5 5 5 5 5 4 5 5 6 4 5 4 5 5 5 4 5 4 5 4 5 3 5 4 5 4 5 3 6 3 5 3 5 3 5 3 5 3 5 2 5 2 5 2 5 2 5 2 6 1 5 2 5 1 5 1 5 0 5 1 5 0 5 0 5 0 5-1 6 0 5-1 5-1 5-1 5-2 5-2 5-1 5-2 5-3 5-2 6-3 5-2 5-3 5-3 5-4 5-3 5-4 5-3 5-4 5-4 6-4 5-4 5-4 5-4 5-5 5-4 5-5 5-5 5-4 5-5 6-5 5-5 5-5 5-5 5-5 5-5 5-6 5-5 5-5 5-6 6-5 5-6 5-5 5-6 5-6M736 525l5 5 5 5 5 5 5 6 6 5 5 5 5 5 5 5 5 4 5 5 5 5 5 5 5 4 5 4 6 5 5 4 5 4 5 4 5 4 5 4 5 4 5 3 5 4 5 3 6 3 5 3 5 3 5 3 5 2 5 3 5 2 5 2 5 2 5 2 6 1 5 1 5 1 5 1 5 1 5 0 5 0 5 0 5 0 5 0 6-1 5-1 5-1 5-1 5-1 5-2 5-2 5-2 5-2 5-2 6-3 5-2 5-3 5-3 5-3 5-4 5-3 5-4 5-3 5-4 6-4 5-4 5-4 5-5 5-4 5-4 5-5 5-5 5-4 5-5 6-5 5-5 5-5 5-5 5-5 5-5 5-5 5-5 5-6 5-5 6-6 5-5 5-5 5-6 5-6M736 521l5 5 5 6 5 5 5 5 6 5 5 5 5 5 5 5 5 5 5 4 5 5 5 4 5 5 5 4 6 5 5 4 5 4 5 4 5 4 5 4 5 3 5 4 5 3 5 3 6 3 5 3 5 3 5 3 5 2 5 3 5 2 5 2 5 2 5 1 6 2 5 1 5 1 5 1 5 0 5 1 5 0 5 0 5 0 5-1 6 0 5-1 5-1 5-1 5-2 5-1 5-2 5-2 5-2 5-2 6-3 5-2 5-3 5-3 5-3 5-4 5-3 5-3 5-4 5-4 6-4 5-4 5-4 5-4 5-4 5-5 5-4 5-5 5-4 5-5 6-5 5-5 5-4 5-5 5-5 5-6 5-5 5-5 5-5 5-5 6-6 5-5 5-6 5-5 5-6M736 518l5 5 5 5 5 5 5 5 6 5 5 5 5 5 5 5 5 5 5 4 5 5 5 4 5 5 5 4 6 4 5 4 5 4 5 4 5 4 5 4 5 3 5 4 5 3 5 3 6 3 5 3 5 3 5 3 5 2 5 2 5 3 5 2 5 1 5 2 6 1 5 1 5 1 5 1 5 1 5 0 5 0 5 0 5 0 5 0 6-1 5 0 5-1 5-2 5-1 5-2 5-1 5-2 5-2 5-3 6-2 5-3 5-2 5-3 5-3 5-3 5-4 5-3 5-4 5-3 6-4 5-4 5-4 5-4 5-4 5-5 5-4 5-5 5-4 5-5 6-5 5-4 5-5 5-5 5-5 5-5 5-5 5-5 5-6 5-5 6-5 5-5 5-6 5-5 5-6M736 514l5 5 5 6 5 5 5 5 6 5 5 4 5 5 5 5 5 5 5 4 5 5 5 4 5 5 5 4 6 4 5 4 5 4 5 4 5 4 5 3 5 4 5 3 5 3 5 4 6 3 5 2 5 3 5 3 5 2 5 2 5 2 5 2 5 2 5 1 6 2 5 1 5 1 5 1 5 0 5 1 5 0 5 0 5 0 5-1 6 0 5-1 5-1 5-1 5-1 5-2 5-2 5-1 5-2 5-3 6-2 5-3 5-2 5-3 5-3 5-3 5-3 5-4 5-3 5-4 6-4 5-4 5-3 5-5 5-4 5-4 5-4 5-5 5-4 5-5 6-4 5-5 5-5 5-5 5-5 5-5 5-5 5-5 5-5 5-5 6-6 5-5 5-5 5-6 5-5M736 511l5 5 5 5 5 5 5 5 6 5 5 5 5 4 5 5 5 5 5 4 5 5 5 4 5 4 5 4 6 5 5 4 5 4 5 3 5 4 5 4 5 3 5 3 5 4 5 3 6 3 5 2 5 3 5 3 5 2 5 2 5 2 5 2 5 2 5 1 6 1 5 2 5 1 5 0 5 1 5 0 5 0 5 0 5 0 5 0 6-1 5 0 5-1 5-1 5-2 5-1 5-2 5-2 5-2 5-2 6-2 5-3 5-2 5-3 5-3 5-3 5-3 5-4 5-3 5-4 6-3 5-4 5-4 5-4 5-4 5-4 5-4 5-5 5-4 5-5 6-4 5-5 5-5 5-5 5-5 5-4 5-5 5-5 5-6 5-5 6-5 5-5 5-6 5-5 5-5M736 507l5 5 5 5 5 5 5 5 6 5 5 5 5 4 5 5 5 5 5 4 5 4 5 5 5 4 5 4 6 4 5 4 5 4 5 4 5 3 5 4 5 3 5 4 5 3 5 3 6 3 5 2 5 3 5 2 5 3 5 2 5 2 5 2 5 1 5 2 6 1 5 1 5 1 5 1 5 0 5 1 5 0 5 0 5 0 5-1 6 0 5-1 5-1 5-1 5-1 5-2 5-1 5-2 5-2 5-2 6-2 5-3 5-2 5-3 5-3 5-3 5-3 5-3 5-4 5-3 6-4 5-4 5-3 5-4 5-4 5-4 5-5 5-4 5-4 5-5 6-4 5-5 5-5 5-4 5-5 5-5 5-5 5-5 5-5 5-5 6-5 5-6 5-5 5-5 5-6M736 504l5 5 5 5 5 4 5 5 6 5 5 5 5 4 5 5 5 4 5 5 5 4 5 5 5 4 5 4 6 4 5 4 5 3 5 4 5 4 5 3 5 3 5 4 5 3 5 3 6 3 5 2 5 3 5 2 5 2 5 3 5 2 5 1 5 2 5 1 6 2 5 1 5 1 5 0 5 1 5 0 5 0 5 0 5 0 5 0 6-1 5 0 5-1 5-1 5-2 5-1 5-2 5-1 5-2 5-2 6-2 5-3 5-2 5-3 5-3 5-3 5-3 5-3 5-3 5-4 6-3 5-4 5-4 5-4 5-4 5-4 5-4 5-4 5-5 5-4 6-4 5-5 5-5 5-4 5-5 5-5 5-5 5-5 5-5 5-5 6-5 5-5 5-5 5-6 5-5M736 500l5 5 5 5 5 5 5 4 6 5 5 5 5 4 5 5 5 4 5 5 5 4 5 4 5 4 5 4 6 4 5 4 5 4 5 3 5 4 5 3 5 4 5 3 5 3 5 3 6 3 5 2 5 3 5 2 5 2 5 2 5 2 5 2 5 2 5 1 6 1 5 1 5 1 5 1 5 0 5 1 5 0 5 0 5 0 5-1 6 0 5-1 5-1 5-1 5-1 5-1 5-2 5-2 5-1 5-2 6-3 5-2 5-2 5-3 5-3 5-3 5-3 5-3 5-3 5-4 6-3 5-4 5-3 5-4 5-4 5-4 5-4 5-4 5-5 5-4 6-5 5-4 5-5 5-4 5-5 5-5 5-5 5-5 5-4 5-6 6-5 5-5 5-5 5-5 5-5M736 496l5 5 5 5 5 5 5 5 6 4 5 5 5 4 5 5 5 4 5 4 5 5 5 4 5 4 5 4 6 4 5 4 5 3 5 4 5 3 5 4 5 3 5 3 5 3 5 3 6 3 5 2 5 3 5 2 5 2 5 2 5 2 5 2 5 1 5 2 6 1 5 1 5 1 5 0 5 1 5 0 5 0 5 0 5 0 5 0 6-1 5 0 5-1 5-1 5-1 5-2 5-1 5-2 5-2 5-2 6-2 5-2 5-3 5-2 5-3 5-3 5-3 5-3 5-3 5-3 6-4 5-3 5-4 5-4 5-4 5-4 5-4 5-4 5-4 5-4 6-5 5-4 5-5 5-4 5-5 5-5 5-4 5-5 5-5 5-5 6-5 5-5 5-5 5-6 5-5M736 492l5 5 5 5 5 5 5 5 6 4 5 5 5 4 5 5 5 4 5 4 5 4 5 4 5 4 5 4 6 4 5 4 5 4 5 3 5 3 5 4 5 3 5 3 5 3 5 3 6 2 5 3 5 2 5 3 5 2 5 2 5 2 5 1 5 2 5 1 6 1 5 1 5 1 5 1 5 0 5 1 5 0 5 0 5 0 5-1 6 0 5-1 5-1 5-1 5-1 5-1 5-2 5-1 5-2 5-2 6-2 5-2 5-3 5-2 5-3 5-3 5-3 5-3 5-3 5-3 6-4 5-3 5-4 5-3 5-4 5-4 5-4 5-4 5-4 5-5 6-4 5-4 5-5 5-4 5-5 5-5 5-4 5-5 5-5 5-5 6-5 5-5 5-5 5-5 5-5M736 489l5 4 5 5 5 5 5 5 6 4 5 5 5 4 5 4 5 5 5 4 5 4 5 4 5 4 5 4 6 4 5 3 5 4 5 3 5 4 5 3 5 3 5 3 5 3 5 3 6 2 5 3 5 2 5 2 5 3 5 2 5 1 5 2 5 1 5 2 6 1 5 1 5 1 5 0 5 1 5 0 5 0 5 0 5 0 5 0 6 0 5-1 5-1 5-1 5-1 5-1 5-2 5-2 5-1 5-2 6-2 5-2 5-3 5-2 5-3 5-3 5-3 5-3 5-3 5-3 6-3 5-4 5-3 5-4 5-4 5-4 5-3 5-4 5-5 5-4 6-4 5-4 5-5 5-4 5-5 5-5 5-4 5-5 5-5 5-5 6-5 5-5 5-5 5-5 5-5M736 485l5 5 5 4 5 5 5 5 6 4 5 4 5 5 5 4 5 4 5 5 5 4 5 4 5 4 5 3 6 4 5 4 5 3 5 4 5 3 5 3 5 3 5 3 5 3 5 3 6 2 5 3 5 2 5 2 5 2 5 2 5 2 5 2 5 1 5 1 6 1 5 1 5 1 5 1 5 0 5 1 5 0 5 0 5 0 5 0 6-1 5-1 5 0 5-1 5-2 5-1 5-1 5-2 5-2 5-1 6-2 5-3 5-2 5-2 5-3 5-3 5-3 5-2 5-4 5-3 6-3 5-3 5-4 5-4 5-3 5-4 5-4 5-4 5-4 5-4 6-4 5-5 5-4 5-4 5-5 5-5 5-4 5-5 5-5 5-4 6-5 5-5 5-5 5-5 5-5M736 481l5 5 5 4 5 5 5 4 6 5 5 4 5 5 5 4 5 4 5 4 5 4 5 4 5 4 5 4 6 3 5 4 5 3 5 4 5 3 5 3 5 3 5 3 5 3 5 3 6 2 5 3 5 2 5 2 5 2 5 2 5 2 5 1 5 2 5 1 6 1 5 1 5 1 5 0 5 1 5 0 5 0 5 0 5 0 5 0 6 0 5-1 5-1 5-1 5-1 5-1 5-2 5-1 5-2 5-2 6-2 5-2 5-2 5-3 5-2 5-3 5-2 5-3 5-3 5-4 6-3 5-3 5-4 5-3 5-4 5-4 5-3 5-4 5-4 5-4 6-5 5-4 5-4 5-5 5-4 5-5 5-4 5-5 5-5 5-4 6-5 5-5 5-5 5-5 5-5M736 477l5 5 5 4 5 5 5 4 6 5 5 4 5 4 5 5 5 4 5 4 5 4 5 4 5 3 5 4 6 4 5 3 5 4 5 3 5 3 5 3 5 3 5 3 5 3 5 3 6 2 5 2 5 3 5 2 5 2 5 2 5 1 5 2 5 1 5 2 6 1 5 1 5 0 5 1 5 0 5 1 5 0 5 0 5 0 5 0 6-1 5-1 5 0 5-1 5-1 5-2 5-1 5-1 5-2 5-2 6-2 5-2 5-2 5-3 5-2 5-3 5-2 5-3 5-3 5-3 6-4 5-3 5-3 5-4 5-3 5-4 5-4 5-4 5-4 5-4 6-4 5-4 5-4 5-5 5-4 5-5 5-4 5-5 5-4 5-5 6-5 5-5 5-5 5-5 5-5M736 473l5 5 5 4 5 5 5 4 6 5 5 4 5 4 5 4 5 4 5 4 5 4 5 4 5 4 5 4 6 3 5 4 5 3 5 3 5 3 5 3 5 3 5 3 5 3 5 2 6 3 5 2 5 2 5 3 5 2 5 1 5 2 5 1 5 2 5 1 6 1 5 1 5 1 5 1 5 0 5 0 5 0 5 0 5 0 5 0 6 0 5-1 5-1 5-1 5-1 5-1 5-1 5-2 5-1 5-2 6-2 5-2 5-2 5-3 5-2 5-3 5-2 5-3 5-3 5-3 6-3 5-4 5-3 5-3 5-4 5-4 5-3 5-4 5-4 5-4 6-4 5-4 5-5 5-4 5-4 5-5 5-4 5-5 5-4 5-5 6-5 5-5 5-4 5-5 5-5M736 469l5 5 5 4 5 5 5 4 6 4 5 5 5 4 5 4 5 4 5 4 5 4 5 4 5 3 5 4 6 3 5 4 5 3 5 3 5 3 5 3 5 3 5 3 5 3 5 2 6 3 5 2 5 2 5 2 5 2 5 2 5 2 5 1 5 1 5 2 6 1 5 1 5 0 5 1 5 1 5 0 5 0 5 0 5 0 5 0 6-1 5 0 5-1 5-1 5-1 5-1 5-2 5-1 5-2 5-2 6-1 5-2 5-3 5-2 5-2 5-3 5-3 5-2 5-3 5-3 6-3 5-3 5-4 5-3 5-4 5-3 5-4 5-4 5-4 5-4 6-4 5-4 5-4 5-4 5-4 5-5 5-4 5-5 5-4 5-5 6-5 5-4 5-5 5-5 5-5M736 465l5 5 5 4 5 4 5 5 6 4 5 4 5 4 5 5 5 4 5 3 5 4 5 4 5 4 5 3 6 4 5 3 5 3 5 3 5 4 5 3 5 2 5 3 5 3 5 2 6 3 5 2 5 2 5 2 5 2 5 2 5 1 5 2 5 1 5 1 6 1 5 1 5 1 5 1 5 0 5 0 5 0 5 0 5 0 5 0 6 0 5-1 5-1 5-1 5-1 5-1 5-1 5-2 5-1 5-2 6-2 5-2 5-2 5-2 5-2 5-3 5-3 5-2 5-3 5-3 6-3 5-3 5-4 5-3 5-3 5-4 5-4 5-3 5-4 5-4 6-4 5-4 5-4 5-4 5-5 5-4 5-4 5-5 5-4 5-5 6-5 5-4 5-5 5-5 5-5M736 461l5 4 5 5 5 4 5 5 6 4 5 4 5 4 5 4 5 4 5 4 5 4 5 3 5 4 5 3 6 4 5 3 5 3 5 4 5 3 5 3 5 2 5 3 5 3 5 2 6 2 5 3 5 2 5 2 5 2 5 1 5 2 5 1 5 2 5 1 6 1 5 1 5 0 5 1 5 1 5 0 5 0 5 0 5 0 5 0 6-1 5 0 5-1 5-1 5-1 5-1 5-1 5-2 5-1 5-2 6-2 5-2 5-2 5-2 5-3 5-2 5-3 5-2 5-3 5-3 6-3 5-3 5-3 5-4 5-3 5-4 5-3 5-4 5-4 5-4 6-3 5-4 5-5 5-4 5-4 5-4 5-5 5-4 5-4 5-5 6-5 5-4 5-5 5-5 5-5M736 457l5 4 5 5 5 4 5 4 6 5 5 4 5 4 5 4 5 4 5 3 5 4 5 4 5 3 5 4 6 3 5 3 5 4 5 3 5 3 5 3 5 2 5 3 5 3 5 2 6 2 5 2 5 3 5 1 5 2 5 2 5 2 5 1 5 1 5 1 6 1 5 1 5 1 5 1 5 0 5 0 5 0 5 0 5 0 5 0 6 0 5-1 5-1 5 0 5-1 5-2 5-1 5-1 5-2 5-1 6-2 5-2 5-2 5-2 5-3 5-2 5-3 5-2 5-3 5-3 6-3 5-3 5-3 5-3 5-4 5-3 5-4 5-3 5-4 5-4 6-4 5-4 5-4 5-4 5-4 5-4 5-5 5-4 5-5 5-4 6-5 5-4 5-5 5-5 5-4M736 453l5 4 5 5 5 4 5 4 6 4 5 4 5 4 5 4 5 4 5 4 5 3 5 4 5 4 5 3 6 3 5 4 5 3 5 3 5 3 5 3 5 2 5 3 5 2 5 3 6 2 5 2 5 2 5 2 5 2 5 2 5 1 5 2 5 1 5 1 6 1 5 1 5 1 5 0 5 1 5 0 5 0 5 0 5 0 5 0 6-1 5 0 5-1 5-1 5-1 5-1 5-1 5-2 5-1 5-2 6-2 5-1 5-2 5-3 5-2 5-2 5-3 5-2 5-3 5-3 6-3 5-3 5-3 5-3 5-4 5-3 5-4 5-3 5-4 5-4 6-3 5-4 5-4 5-4 5-4 5-5 5-4 5-4 5-5 5-4 6-5 5-4 5-5 5-5 5-4M736 449l5 4 5 4 5 5 5 4 6 4 5 4 5 4 5 4 5 3 5 4 5 4 5 3 5 4 5 3 6 4 5 3 5 3 5 3 5 3 5 3 5 2 5 3 5 2 5 3 6 2 5 2 5 2 5 2 5 2 5 1 5 2 5 1 5 1 5 2 6 1 5 0 5 1 5 1 5 0 5 0 5 0 5 0 5 0 5 0 6 0 5-1 5-1 5 0 5-1 5-1 5-2 5-1 5-2 5-1 6-2 5-2 5-2 5-2 5-2 5-2 5-3 5-2 5-3 5-3 6-3 5-3 5-3 5-3 5-3 5-4 5-3 5-4 5-3 5-4 6-4 5-4 5-4 5-4 5-4 5-4 5-4 5-4 5-5 5-4 6-5 5-4 5-5 5-5 5-4" clip-path="url(#h9)" fill="none" stroke="#7a8a8a" stroke-width="1.2" opacity="0.55" />
<clipPath id="h10"><path d="M1318.5 556l0 103-2.9 0.5-4 0.6-4.7 0.7-5 0.9-4.9 1.1-4.5 1.2-4 1.4-3.9 1.7-3.8 1.8-3.7 1.9-3.8 2.1-3.8 2.1-3.8 2.2-3.9 2.3-3.9 2.4-3.8 2.5-3.8 2.7-3.8 2.9-3.7 3.1-3.7 3.3-3.7 3.4-3.6 3.6-3.6 3.7-3.7 3.9-3.7 4-3.6 4.2-3.7 4.4-3.7 4.4-3.6 4.5-3.7 4.5-3.7 4.5-3.6 4.6-3.7 4.7-3.7 4.6-3.6 4.8-3.7 4.8-3.6 4.8-3.6 4.7-3.6 4.8-3.6 5-3.8 5.2-3.8 5.5-4 5.9-4 6.3-4.2 6.5-4.2 6.6-4.3 6.8-4.3 6.9-4.7 7.5-5.2 8.3-5.2 8.4-4.8 7.9-4.1 6.6-3 4.8-3-3.5-4.3-4.8-5-5.7-5.4-6.1-5.2-6-4.7-5.4-4.1-4.8-3.9-4.7-3.8-4.6-3.8-4.5-3.9-4.7-4.1-4.7-4.5-4.9-4.8-5.1-5-5.2-4.9-5.1-4.6-5-4.3-4.7-3.7-4.4-3.3-4-3.1-4-3-3.9-3.1-4.2-3.3-4.5-3.5-4.9-3.6-5.2-3.7-5.4-3.7-5.5-3.6-5.5-3.7-5.5-3.6-5.4-3.7-5.5-3.6-5.5-3.6-5.6-3.7-5.5-3.6-5.5-3.6-5.5-3.7-5.5-3.6-5.6-3.6-5.5-3.7-5.5-3.6-5.4-3.6-5.4-3.7-5.4-3.6-5.4-3.6-5.3-3.7-5.3-3.6-5.2-3.7-5.1-3.6-5-3.7-5-3.7-5-3.6-4.9-3.5-5-3.5-5.2-3.6-5.4-3.5-5.3-3.4-5.2-3-4.8-2.6-4.1-2.2-3.5-1.8-3.2-1.5-2.7-1.3-2.3-1-1.8-0.8-1.5-6-2z"/></clipPath>
<path d="M864 557l5 7 5 7 5 7 5 6 6 7 5 7 5 7 5 6 5 7 5 7 5 7 5 6 5 7 6 7 5 7 5 6 5 7 5 7 5 7 5 6 5 7 5 7 6 7 5 6 5 7 5 7 5 6 5 7 5 7 5 7 5 6 6 7 5 7 5 7 5 6 5 7 5 7 5 7 5 6 5 7 6 7 5 6 5 7 5 7 5 6 5 6 5 5 5-1 6-5 5-6 5-6 5-7 5-7 5-6 5-7 5-7 5-6 6-7 5-7 5-7 5-6 5-7 5-7 5-6 5-7 5-7 6-7 5-6 5-7 5-7 5-7 5-6 5-7 5-7 5-7 6-6 5-7 5-7 5-7 5-6 5-7 5-7 5-7 5-6 6-7 5-7 5-7 5-6 5-7M864 557l5 7 5 7 5 6 5 7 6 7 5 7 5 6 5 7 5 7 5 7 5 6 5 7 5 7 6 7 5 6 5 7 5 7 5 7 5 6 5 7 5 7 5 6 6 7 5 7 5 7 5 6 5 7 5 7 5 7 5 6 5 7 6 7 5 6 5 7 5 7 5 6 5 7 5 7 5 6 5 7 6 7 5 6 5 6 5 7 5 5 5 5 5 4 5-1 6-3 5-5 5-6 5-6 5-7 5-6 5-7 5-6 5-7 6-7 5-6 5-7 5-7 5-6 5-7 5-7 5-7 5-6 6-7 5-7 5-6 5-7 5-7 5-7 5-6 5-7 5-7 6-7 5-6 5-7 5-7 5-7 5-6 5-7 5-7 5-7 6-6 5-7 5-7 5-6 5-7M864 557l5 7 5 6 5 7 5 7 6 7 5 6 5 7 5 7 5 7 5 6 5 7 5 7 5 7 6 6 5 7 5 7 5 6 5 7 5 7 5 7 5 6 5 7 6 7 5 6 5 7 5 7 5 7 5 6 5 7 5 7 5 6 6 7 5 7 5 6 5 7 5 6 5 7 5 7 5 6 5 7 6 6 5 6 5 6 5 6 5 5 5 4 5 2 5 0 6-3 5-4 5-5 5-6 5-6 5-6 5-6 5-7 5-6 6-7 5-6 5-7 5-7 5-6 5-7 5-7 5-6 5-7 6-7 5-6 5-7 5-7 5-6 5-7 5-7 5-7 5-6 6-7 5-7 5-6 5-7 5-7 5-7 5-6 5-7 5-7 6-7 5-6 5-7 5-7 5-7M864 557l5 6 5 7 5 7 5 7 6 6 5 7 5 7 5 6 5 7 5 7 5 7 5 6 5 7 6 7 5 6 5 7 5 7 5 7 5 6 5 7 5 7 5 6 6 7 5 7 5 6 5 7 5 7 5 6 5 7 5 7 5 6 6 7 5 7 5 6 5 7 5 6 5 7 5 6 5 6 5 7 6 6 5 5 5 6 5 5 5 5 5 3 5 2 5 0 6-2 5-4 5-4 5-6 5-5 5-6 5-6 5-7 5-6 6-6 5-7 5-6 5-7 5-6 5-7 5-7 5-6 5-7 6-6 5-7 5-7 5-6 5-7 5-7 5-6 5-7 5-7 6-7 5-6 5-7 5-7 5-6 5-7 5-7 5-7 5-6 6-7 5-7 5-6 5-7 5-7M864 556l5 7 5 7 5 6 5 7 6 7 5 6 5 7 5 7 5 7 5 6 5 7 5 7 5 6 6 7 5 7 5 7 5 6 5 7 5 7 5 6 5 7 5 7 6 6 5 7 5 7 5 6 5 7 5 6 5 7 5 7 5 6 6 7 5 6 5 7 5 6 5 6 5 7 5 6 5 6 5 6 6 6 5 5 5 6 5 4 5 4 5 3 5 1 5 0 6-1 5-3 5-4 5-5 5-5 5-6 5-6 5-6 5-6 6-6 5-6 5-7 5-6 5-7 5-6 5-7 5-6 5-7 6-6 5-7 5-7 5-6 5-7 5-7 5-6 5-7 5-7 6-6 5-7 5-7 5-6 5-7 5-7 5-6 5-7 5-7 6-7 5-6 5-7 5-7 5-6M864 556l5 6 5 7 5 7 5 6 6 7 5 7 5 7 5 6 5 7 5 7 5 6 5 7 5 7 6 6 5 7 5 7 5 6 5 7 5 7 5 6 5 7 5 7 6 6 5 7 5 6 5 7 5 7 5 6 5 7 5 6 5 7 6 6 5 6 5 7 5 6 5 6 5 7 5 6 5 5 5 6 6 6 5 5 5 5 5 4 5 3 5 3 5 1 5 0 6-2 5-2 5-4 5-4 5-5 5-5 5-6 5-5 5-6 6-6 5-6 5-7 5-6 5-6 5-7 5-6 5-7 5-6 6-7 5-6 5-7 5-6 5-7 5-7 5-6 5-7 5-7 6-6 5-7 5-6 5-7 5-7 5-6 5-7 5-7 5-7 6-6 5-7 5-7 5-6 5-7M864 555l5 7 5 6 5 7 5 7 6 6 5 7 5 7 5 7 5 6 5 7 5 7 5 6 5 7 6 7 5 6 5 7 5 6 5 7 5 7 5 6 5 7 5 6 6 7 5 7 5 6 5 7 5 6 5 7 5 6 5 7 5 6 6 6 5 7 5 6 5 6 5 6 5 6 5 6 5 6 5 5 6 5 5 5 5 4 5 4 5 3 5 2 5 1 5 0 6-1 5-2 5-3 5-4 5-5 5-5 5-5 5-5 5-6 6-6 5-6 5-6 5-6 5-6 5-7 5-6 5-6 5-7 6-6 5-7 5-6 5-7 5-6 5-7 5-6 5-7 5-7 6-6 5-7 5-6 5-7 5-7 5-6 5-7 5-7 5-6 6-7 5-7 5-6 5-7 5-7M864 554l5 7 5 7 5 6 5 7 6 7 5 6 5 7 5 7 5 6 5 7 5 7 5 6 5 7 6 7 5 6 5 7 5 6 5 7 5 7 5 6 5 7 5 6 6 7 5 6 5 7 5 6 5 7 5 6 5 6 5 7 5 6 6 6 5 6 5 7 5 6 5 5 5 6 5 6 5 5 5 5 6 5 5 5 5 4 5 3 5 3 5 2 5 1 5 0 6-1 5-2 5-3 5-4 5-4 5-4 5-5 5-5 5-6 6-6 5-5 5-6 5-6 5-6 5-7 5-6 5-6 5-6 6-7 5-6 5-7 5-6 5-7 5-6 5-7 5-6 5-7 6-6 5-7 5-7 5-6 5-7 5-6 5-7 5-7 5-6 6-7 5-7 5-6 5-7 5-7M864 554l5 6 5 7 5 7 5 6 6 7 5 6 5 7 5 7 5 6 5 7 5 7 5 6 5 7 6 6 5 7 5 7 5 6 5 7 5 6 5 7 5 6 5 7 6 6 5 7 5 6 5 6 5 7 5 6 5 6 5 7 5 6 6 6 5 6 5 6 5 6 5 6 5 5 5 6 5 5 5 5 6 4 5 4 5 4 5 3 5 3 5 2 5 0 5 0 6-1 5-1 5-3 5-3 5-4 5-4 5-5 5-5 5-5 6-6 5-5 5-6 5-6 5-6 5-6 5-6 5-6 5-6 6-7 5-6 5-6 5-7 5-6 5-7 5-6 5-7 5-6 6-7 5-6 5-7 5-6 5-7 5-6 5-7 5-7 5-6 6-7 5-7 5-6 5-7 5-6M864 553l5 6 5 7 5 7 5 6 6 7 5 6 5 7 5 7 5 6 5 7 5 6 5 7 5 7 6 6 5 7 5 6 5 7 5 6 5 7 5 6 5 7 5 6 6 7 5 6 5 6 5 7 5 6 5 6 5 6 5 6 5 6 6 6 5 6 5 6 5 6 5 5 5 6 5 5 5 5 5 5 6 4 5 4 5 3 5 3 5 3 5 1 5 1 5 0 6-1 5-2 5-2 5-3 5-4 5-4 5-4 5-5 5-5 6-5 5-5 5-6 5-6 5-5 5-6 5-6 5-6 5-7 6-6 5-6 5-6 5-7 5-6 5-6 5-7 5-6 5-7 6-6 5-7 5-6 5-7 5-6 5-7 5-6 5-7 5-6 6-7 5-7 5-6 5-7 5-6M864 552l5 6 5 7 5 7 5 6 6 7 5 6 5 7 5 6 5 7 5 7 5 6 5 7 5 6 6 7 5 6 5 7 5 6 5 7 5 6 5 7 5 6 5 6 6 7 5 6 5 6 5 7 5 6 5 6 5 6 5 6 5 6 6 6 5 6 5 5 5 6 5 5 5 5 5 5 5 5 5 5 6 4 5 3 5 4 5 2 5 2 5 2 5 0 5 0 6 0 5-2 5-2 5-3 5-3 5-4 5-4 5-5 5-4 6-5 5-6 5-5 5-6 5-5 5-6 5-6 5-6 5-6 6-6 5-6 5-6 5-7 5-6 5-6 5-6 5-7 5-6 6-7 5-6 5-7 5-6 5-7 5-6 5-7 5-6 5-7 6-6 5-7 5-6 5-7 5-7M864 551l5 6 5 7 5 6 5 7 6 7 5 6 5 7 5 6 5 7 5 6 5 7 5 6 5 7 6 6 5 7 5 6 5 7 5 6 5 6 5 7 5 6 5 6 6 7 5 6 5 6 5 6 5 6 5 6 5 6 5 6 5 6 6 6 5 6 5 5 5 5 5 6 5 5 5 4 5 5 5 4 6 4 5 4 5 3 5 2 5 2 5 1 5 1 5 0 6-1 5-1 5-2 5-3 5-3 5-3 5-4 5-5 5-4 6-5 5-5 5-5 5-6 5-5 5-6 5-6 5-5 5-6 6-6 5-6 5-7 5-6 5-6 5-6 5-6 5-7 5-6 6-6 5-7 5-6 5-7 5-6 5-7 5-6 5-7 5-6 6-7 5-6 5-7 5-6 5-7M864 549l5 7 5 7 5 6 5 7 6 6 5 7 5 6 5 7 5 6 5 7 5 6 5 7 5 6 6 7 5 6 5 6 5 7 5 6 5 7 5 6 5 6 5 6 6 7 5 6 5 6 5 6 5 6 5 6 5 6 5 6 5 5 6 6 5 5 5 6 5 5 5 5 5 5 5 4 5 5 5 4 6 3 5 4 5 3 5 2 5 2 5 1 5 0 5 0 6 0 5-2 5-1 5-3 5-3 5-3 5-4 5-4 5-4 6-5 5-5 5-5 5-5 5-5 5-6 5-5 5-6 5-6 6-6 5-6 5-6 5-6 5-6 5-6 5-6 5-7 5-6 6-6 5-7 5-6 5-6 5-7 5-6 5-7 5-6 5-7 6-6 5-7 5-6 5-7 5-6M864 548l5 7 5 6 5 7 5 6 6 7 5 6 5 7 5 6 5 7 5 6 5 7 5 6 5 7 6 6 5 6 5 7 5 6 5 6 5 7 5 6 5 6 5 6 6 6 5 6 5 6 5 6 5 6 5 6 5 6 5 6 5 5 6 6 5 5 5 5 5 5 5 5 5 5 5 4 5 4 5 4 6 4 5 3 5 2 5 3 5 1 5 1 5 1 5 0 6-1 5-1 5-2 5-2 5-3 5-3 5-3 5-4 5-4 6-5 5-4 5-5 5-5 5-6 5-5 5-6 5-5 5-6 6-6 5-5 5-6 5-6 5-6 5-6 5-7 5-6 5-6 6-6 5-7 5-6 5-6 5-7 5-6 5-6 5-7 5-6 6-7 5-6 5-7 5-6 5-7M864 547l5 6 5 7 5 6 5 7 6 6 5 7 5 6 5 7 5 6 5 7 5 6 5 6 5 7 6 6 5 6 5 7 5 6 5 6 5 6 5 7 5 6 5 6 6 6 5 6 5 6 5 6 5 6 5 5 5 6 5 6 5 5 6 5 5 6 5 5 5 4 5 5 5 5 5 4 5 4 5 4 6 3 5 3 5 2 5 2 5 2 5 1 5 0 5 0 6 0 5-1 5-2 5-2 5-3 5-3 5-3 5-4 5-4 6-4 5-4 5-5 5-5 5-5 5-5 5-6 5-5 5-6 6-5 5-6 5-6 5-6 5-6 5-6 5-6 5-6 5-6 6-6 5-7 5-6 5-6 5-6 5-7 5-6 5-6 5-7 6-6 5-7 5-6 5-7 5-6M864 545l5 7 5 6 5 7 5 6 6 7 5 6 5 7 5 6 5 6 5 7 5 6 5 7 5 6 6 6 5 6 5 7 5 6 5 6 5 6 5 6 5 6 5 6 6 6 5 6 5 6 5 6 5 6 5 5 5 6 5 5 5 6 6 5 5 5 5 5 5 5 5 4 5 4 5 4 5 4 5 4 6 3 5 3 5 2 5 2 5 1 5 1 5 1 5 0 6-1 5-1 5-1 5-2 5-3 5-2 5-4 5-3 5-4 6-4 5-5 5-4 5-5 5-5 5-5 5-5 5-5 5-6 6-5 5-6 5-6 5-6 5-5 5-6 5-6 5-6 5-7 6-6 5-6 5-6 5-6 5-6 5-7 5-6 5-6 5-7 6-6 5-6 5-7 5-6 5-7M864 544l5 6 5 7 5 6 5 7 6 6 5 7 5 6 5 6 5 7 5 6 5 6 5 7 5 6 6 6 5 6 5 6 5 7 5 6 5 6 5 6 5 6 5 6 6 6 5 6 5 5 5 6 5 6 5 5 5 6 5 5 5 5 6 5 5 5 5 5 5 4 5 5 5 4 5 4 5 4 5 3 6 3 5 3 5 2 5 2 5 1 5 1 5 0 5 0 6 0 5-1 5-2 5-1 5-3 5-2 5-3 5-4 5-4 6-3 5-5 5-4 5-5 5-5 5-4 5-6 5-5 5-5 6-6 5-5 5-6 5-5 5-6 5-6 5-6 5-6 5-6 6-6 5-6 5-6 5-6 5-7 5-6 5-6 5-6 5-7 6-6 5-6 5-7 5-6 5-6M864 542l5 7 5 6 5 7 5 6 6 6 5 7 5 6 5 6 5 7 5 6 5 6 5 7 5 6 6 6 5 6 5 6 5 6 5 6 5 6 5 6 5 6 5 6 6 6 5 6 5 5 5 6 5 5 5 6 5 5 5 5 5 6 6 4 5 5 5 5 5 4 5 5 5 4 5 3 5 4 5 3 6 3 5 2 5 3 5 1 5 2 5 1 5 0 5 0 6-1 5 0 5-2 5-2 5-2 5-2 5-3 5-4 5-3 6-4 5-4 5-4 5-5 5-4 5-5 5-5 5-5 5-5 6-6 5-5 5-6 5-5 5-6 5-6 5-6 5-6 5-5 6-6 5-6 5-7 5-6 5-6 5-6 5-6 5-6 5-7 6-6 5-6 5-6 5-7 5-6M864 541l5 6 5 6 5 7 5 6 6 6 5 7 5 6 5 6 5 7 5 6 5 6 5 6 5 7 6 6 5 6 5 6 5 6 5 6 5 6 5 6 5 6 5 5 6 6 5 6 5 5 5 6 5 5 5 5 5 6 5 5 5 5 6 5 5 4 5 5 5 4 5 4 5 4 5 4 5 3 5 3 6 3 5 2 5 2 5 2 5 1 5 1 5 0 5 0 6 0 5-1 5-1 5-2 5-2 5-2 5-3 5-3 5-4 6-3 5-4 5-4 5-5 5-4 5-5 5-5 5-5 5-5 6-5 5-6 5-5 5-5 5-6 5-6 5-5 5-6 5-6 6-6 5-6 5-6 5-6 5-6 5-6 5-6 5-6 5-7 6-6 5-6 5-6 5-7 5-6M864 539l5 6 5 7 5 6 5 6 6 7 5 6 5 6 5 6 5 7 5 6 5 6 5 6 5 6 6 6 5 6 5 6 5 6 5 6 5 6 5 6 5 6 5 5 6 6 5 6 5 5 5 5 5 6 5 5 5 5 5 5 5 5 6 5 5 4 5 5 5 4 5 4 5 3 5 4 5 3 5 3 6 3 5 2 5 2 5 2 5 1 5 1 5 0 5 0 6-1 5 0 5-2 5-1 5-2 5-3 5-2 5-3 5-3 6-4 5-4 5-4 5-4 5-4 5-5 5-5 5-5 5-5 6-5 5-5 5-5 5-6 5-5 5-6 5-5 5-6 5-6 6-6 5-6 5-6 5-5 5-6 5-7 5-6 5-6 5-6 6-6 5-6 5-6 5-7 5-6M864 537l5 6 5 7 5 6 5 6 6 7 5 6 5 6 5 6 5 6 5 7 5 6 5 6 5 6 6 6 5 6 5 6 5 6 5 5 5 6 5 6 5 6 5 5 6 6 5 5 5 6 5 5 5 5 5 5 5 5 5 5 5 5 6 5 5 4 5 4 5 4 5 4 5 4 5 3 5 3 5 3 6 3 5 2 5 2 5 1 5 1 5 1 5 0 5 0 6 0 5-1 5-1 5-2 5-1 5-3 5-2 5-3 5-3 6-4 5-3 5-4 5-4 5-5 5-4 5-5 5-4 5-5 6-5 5-5 5-6 5-5 5-5 5-6 5-5 5-6 5-6 6-5 5-6 5-6 5-6 5-6 5-6 5-6 5-6 5-6 6-6 5-6 5-7 5-6 5-6M864 535l5 6 5 7 5 6 5 6 6 6 5 7 5 6 5 6 5 6 5 6 5 6 5 6 5 6 6 6 5 6 5 6 5 6 5 6 5 5 5 6 5 6 5 5 6 6 5 5 5 5 5 6 5 5 5 5 5 5 5 4 5 5 6 4 5 5 5 4 5 4 5 4 5 3 5 3 5 3 5 3 6 2 5 3 5 1 5 2 5 1 5 1 5 0 5 0 6 0 5-1 5-1 5-2 5-2 5-2 5-2 5-3 5-3 6-3 5-4 5-4 5-4 5-4 5-4 5-5 5-4 5-5 6-5 5-5 5-5 5-5 5-6 5-5 5-6 5-5 5-6 6-5 5-6 5-6 5-6 5-6 5-6 5-6 5-6 5-6 6-6 5-6 5-6 5-6 5-6M864 533l5 6 5 7 5 6 5 6 6 6 5 6 5 7 5 6 5 6 5 6 5 6 5 6 5 6 6 6 5 5 5 6 5 6 5 6 5 5 5 6 5 6 5 5 6 5 5 6 5 5 5 5 5 5 5 5 5 5 5 4 5 5 6 4 5 4 5 4 5 4 5 4 5 3 5 3 5 3 5 3 6 2 5 2 5 2 5 1 5 1 5 1 5 0 5 0 6 0 5-1 5-1 5-1 5-2 5-2 5-2 5-3 5-3 6-3 5-4 5-3 5-4 5-4 5-4 5-5 5-4 5-5 6-5 5-5 5-5 5-5 5-5 5-5 5-6 5-5 5-6 6-5 5-6 5-6 5-6 5-5 5-6 5-6 5-6 5-6 6-6 5-6 5-6 5-6 5-6M864 531l5 6 5 6 5 7 5 6 6 6 5 6 5 6 5 6 5 6 5 6 5 6 5 6 5 6 6 6 5 6 5 5 5 6 5 6 5 5 5 6 5 5 5 6 6 5 5 5 5 5 5 5 5 5 5 5 5 5 5 4 5 5 6 4 5 4 5 4 5 4 5 3 5 3 5 3 5 3 5 3 6 2 5 2 5 2 5 1 5 1 5 1 5 0 5 0 6 0 5-1 5-1 5-2 5-1 5-2 5-2 5-3 5-3 6-3 5-3 5-4 5-4 5-3 5-5 5-4 5-4 5-5 6-5 5-4 5-5 5-5 5-5 5-6 5-5 5-5 5-6 6-5 5-6 5-6 5-5 5-6 5-6 5-6 5-6 5-6 6-6 5-6 5-6 5-6 5-6M864 529l5 6 5 6 5 6 5 7 6 6 5 6 5 6 5 6 5 6 5 6 5 6 5 5 5 6 6 6 5 6 5 5 5 6 5 6 5 5 5 6 5 5 5 5 6 5 5 6 5 5 5 5 5 4 5 5 5 5 5 4 5 4 6 5 5 4 5 3 5 4 5 3 5 4 5 3 5 2 5 3 6 2 5 2 5 1 5 2 5 1 5 0 5 0 5 0 6 0 5-1 5-1 5-1 5-2 5-1 5-3 5-2 5-3 6-3 5-3 5-3 5-4 5-4 5-4 5-4 5-4 5-5 6-4 5-5 5-5 5-5 5-5 5-5 5-5 5-6 5-5 6-6 5-5 5-6 5-5 5-6 5-6 5-6 5-5 5-6 6-6 5-6 5-6 5-6 5-6M864 527l5 6 5 6 5 6 5 6 6 6 5 6 5 6 5 6 5 6 5 6 5 6 5 6 5 5 6 6 5 6 5 5 5 6 5 5 5 6 5 5 5 6 5 5 6 5 5 5 5 5 5 5 5 4 5 5 5 5 5 4 5 4 6 4 5 4 5 4 5 3 5 4 5 3 5 3 5 2 5 2 6 3 5 1 5 2 5 1 5 1 5 1 5 0 5 0 6 0 5-1 5-1 5-1 5-2 5-2 5-2 5-2 5-3 6-3 5-3 5-3 5-4 5-3 5-4 5-4 5-5 5-4 6-5 5-4 5-5 5-5 5-5 5-5 5-5 5-5 5-5 6-6 5-5 5-6 5-5 5-6 5-6 5-5 5-6 5-6 6-6 5-6 5-6 5-6 5-6M864 524l5 7 5 6 5 6 5 6 6 6 5 6 5 6 5 6 5 5 5 6 5 6 5 6 5 5 6 6 5 6 5 5 5 6 5 5 5 6 5 5 5 5 5 5 6 5 5 5 5 5 5 5 5 4 5 5 5 4 5 5 5 4 6 4 5 3 5 4 5 3 5 4 5 3 5 2 5 3 5 2 6 2 5 2 5 2 5 1 5 1 5 0 5 0 5 0 6 0 5-1 5 0 5-2 5-1 5-2 5-2 5-2 5-3 6-3 5-3 5-3 5-3 5-4 5-4 5-4 5-4 5-4 6-5 5-4 5-5 5-5 5-4 5-5 5-5 5-6 5-5 6-5 5-6 5-5 5-5 5-6 5-6 5-5 5-6 5-6 6-6 5-5 5-6 5-6 5-6M864 522l5 6 5 6 5 6 5 6 6 6 5 6 5 6 5 6 5 6 5 5 5 6 5 6 5 5 6 6 5 6 5 5 5 5 5 6 5 5 5 5 5 6 5 5 6 5 5 4 5 5 5 5 5 4 5 5 5 4 5 4 5 4 6 4 5 4 5 3 5 4 5 3 5 3 5 2 5 3 5 2 6 2 5 2 5 1 5 1 5 1 5 1 5 0 5 0 6 0 5-1 5-1 5-1 5-2 5-1 5-2 5-2 5-3 6-3 5-3 5-3 5-3 5-4 5-3 5-4 5-4 5-4 6-5 5-4 5-5 5-4 5-5 5-5 5-5 5-5 5-5 6-6 5-5 5-5 5-6 5-5 5-6 5-5 5-6 5-6 6-5 5-6 5-6 5-6 5-6M864 520l5 6 5 6 5 6 5 6 6 5 5 6 5 6 5 6 5 6 5 5 5 6 5 6 5 5 6 6 5 5 5 6 5 5 5 5 5 6 5 5 5 5 5 5 6 5 5 5 5 4 5 5 5 4 5 5 5 4 5 4 5 4 6 4 5 3 5 4 5 3 5 3 5 3 5 2 5 3 5 2 6 2 5 1 5 2 5 1 5 1 5 0 5 0 5 0 6 0 5 0 5-1 5-1 5-2 5-2 5-1 5-3 5-2 6-3 5-3 5-3 5-3 5-3 5-4 5-4 5-4 5-4 6-4 5-4 5-5 5-4 5-5 5-5 5-5 5-5 5-5 6-5 5-5 5-6 5-5 5-5 5-6 5-5 5-6 5-6 6-5 5-6 5-6 5-6 5-5M864 517l5 6 5 6 5 6 5 6 6 6 5 6 5 5 5 6 5 6 5 5 5 6 5 6 5 5 6 6 5 5 5 5 5 6 5 5 5 5 5 5 5 5 5 5 6 5 5 5 5 4 5 5 5 4 5 4 5 4 5 4 5 4 6 4 5 3 5 4 5 3 5 3 5 3 5 2 5 2 5 3 6 1 5 2 5 1 5 1 5 1 5 1 5 0 5 0 6 0 5-1 5-1 5-1 5-1 5-2 5-2 5-2 5-2 6-3 5-2 5-3 5-4 5-3 5-4 5-3 5-4 5-4 6-4 5-4 5-5 5-4 5-5 5-5 5-5 5-4 5-5 6-6 5-5 5-5 5-5 5-6 5-5 5-6 5-5 5-6 6-5 5-6 5-6 5-5 5-6M864 515l5 6 5 5 5 6 5 6 6 6 5 6 5 5 5 6 5 6 5 5 5 6 5 6 5 5 6 5 5 6 5 5 5 5 5 5 5 5 5 5 5 5 5 5 6 5 5 5 5 4 5 5 5 4 5 4 5 4 5 4 5 4 6 3 5 4 5 3 5 3 5 3 5 3 5 2 5 2 5 2 6 2 5 2 5 1 5 1 5 1 5 0 5 0 5 0 6 0 5 0 5-1 5-1 5-2 5-1 5-2 5-2 5-2 6-3 5-2 5-3 5-3 5-4 5-3 5-4 5-4 5-3 6-5 5-4 5-4 5-4 5-5 5-5 5-4 5-5 5-5 6-5 5-5 5-5 5-6 5-5 5-5 5-6 5-5 5-6 6-5 5-6 5-6 5-5 5-6M864 512l5 6 5 6 5 6 5 5 6 6 5 6 5 6 5 5 5 6 5 5 5 6 5 5 5 6 6 5 5 5 5 6 5 5 5 5 5 5 5 5 5 5 5 4 6 5 5 5 5 4 5 4 5 5 5 4 5 4 5 3 5 4 6 4 5 3 5 3 5 3 5 3 5 2 5 3 5 2 5 2 6 2 5 1 5 1 5 1 5 1 5 1 5 0 5 0 6 0 5-1 5-1 5-1 5-1 5-1 5-2 5-2 5-2 6-3 5-2 5-3 5-3 5-4 5-3 5-3 5-4 5-4 6-4 5-4 5-4 5-5 5-4 5-5 5-4 5-5 5-5 6-5 5-5 5-5 5-5 5-5 5-6 5-5 5-5 5-6 6-5 5-6 5-6 5-5 5-6M864 509l5 6 5 6 5 6 5 5 6 6 5 6 5 6 5 5 5 6 5 5 5 6 5 5 5 5 6 6 5 5 5 5 5 5 5 5 5 5 5 5 5 5 5 4 6 5 5 4 5 5 5 4 5 4 5 4 5 4 5 4 5 3 6 4 5 3 5 3 5 3 5 3 5 2 5 3 5 2 5 2 6 1 5 2 5 1 5 1 5 1 5 0 5 0 5 0 6 0 5 0 5-1 5-1 5-1 5-2 5-2 5-1 5-3 6-2 5-3 5-2 5-3 5-3 5-4 5-3 5-4 5-3 6-4 5-4 5-5 5-4 5-4 5-5 5-4 5-5 5-5 6-5 5-5 5-5 5-5 5-5 5-5 5-5 5-6 5-5 6-6 5-5 5-6 5-5 5-6M864 507l5 5 5 6 5 6 5 6 6 5 5 6 5 5 5 6 5 5 5 6 5 5 5 6 5 5 6 5 5 5 5 5 5 5 5 5 5 5 5 5 5 5 5 4 6 5 5 4 5 5 5 4 5 4 5 4 5 3 5 4 5 4 6 3 5 3 5 3 5 3 5 3 5 2 5 2 5 3 5 1 6 2 5 1 5 2 5 1 5 0 5 1 5 0 5 0 6 0 5-1 5-1 5-1 5-1 5-1 5-2 5-2 5-2 6-2 5-3 5-2 5-3 5-3 5-3 5-4 5-3 5-4 6-4 5-4 5-4 5-4 5-4 5-5 5-4 5-5 5-5 6-4 5-5 5-5 5-5 5-5 5-6 5-5 5-5 5-5 6-6 5-5 5-6 5-5 5-6M864 504l5 5 5 6 5 6 5 6 6 5 5 6 5 5 5 6 5 5 5 6 5 5 5 5 5 5 6 6 5 5 5 5 5 5 5 5 5 4 5 5 5 5 5 4 6 5 5 4 5 4 5 4 5 4 5 4 5 4 5 3 5 4 6 3 5 3 5 3 5 3 5 3 5 2 5 2 5 2 5 2 6 2 5 1 5 1 5 1 5 1 5 0 5 0 5 0 6 0 5 0 5-1 5-1 5-1 5-2 5-1 5-2 5-2 6-2 5-3 5-2 5-3 5-3 5-3 5-4 5-3 5-4 6-3 5-4 5-4 5-4 5-5 5-4 5-4 5-5 5-5 6-4 5-5 5-5 5-5 5-5 5-5 5-5 5-5 5-6 6-5 5-6 5-5 5-5 5-6M864 501l5 6 5 5 5 6 5 6 6 5 5 6 5 5 5 6 5 5 5 5 5 6 5 5 5 5 6 5 5 5 5 5 5 5 5 5 5 4 5 5 5 5 5 4 6 4 5 5 5 4 5 4 5 4 5 4 5 3 5 4 5 3 6 3 5 3 5 3 5 3 5 3 5 2 5 2 5 2 5 2 6 1 5 2 5 1 5 1 5 0 5 1 5 0 5 0 6 0 5-1 5 0 5-1 5-2 5-1 5-1 5-2 5-2 6-2 5-3 5-2 5-3 5-3 5-3 5-3 5-4 5-3 6-4 5-4 5-4 5-4 5-4 5-4 5-4 5-5 5-5 6-4 5-5 5-5 5-5 5-5 5-5 5-5 5-5 5-5 6-5 5-6 5-5 5-6 5-5M864 498l5 6 5 5 5 6 5 5 6 6 5 5 5 6 5 5 5 6 5 5 5 5 5 5 5 5 6 5 5 5 5 5 5 5 5 5 5 4 5 5 5 5 5 4 6 4 5 4 5 4 5 4 5 4 5 4 5 4 5 3 5 3 6 3 5 3 5 3 5 3 5 2 5 3 5 2 5 2 5 1 6 2 5 1 5 1 5 1 5 1 5 0 5 0 5 0 6 0 5 0 5-1 5-1 5-1 5-1 5-2 5-2 5-1 6-3 5-2 5-2 5-3 5-3 5-3 5-3 5-3 5-4 6-4 5-3 5-4 5-4 5-4 5-4 5-5 5-4 5-5 6-4 5-5 5-5 5-4 5-5 5-5 5-5 5-5 5-6 6-5 5-5 5-6 5-5 5-5M864 495l5 6 5 5 5 6 5 5 6 6 5 5 5 5 5 6 5 5 5 5 5 5 5 6 5 5 6 5 5 5 5 4 5 5 5 5 5 4 5 5 5 4 5 5 6 4 5 4 5 4 5 4 5 4 5 3 5 4 5 3 5 3 6 4 5 2 5 3 5 3 5 2 5 2 5 3 5 1 5 2 6 2 5 1 5 1 5 1 5 0 5 1 5 0 5 0 6 0 5-1 5 0 5-1 5-1 5-2 5-1 5-2 5-2 6-2 5-2 5-3 5-2 5-3 5-3 5-3 5-3 5-4 6-3 5-4 5-4 5-3 5-5 5-4 5-4 5-4 5-5 6-4 5-5 5-5 5-4 5-5 5-5 5-5 5-5 5-5 6-5 5-6 5-5 5-5 5-6M864 492l5 5 5 6 5 6 5 5 6 5 5 6 5 5 5 5 5 6 5 5 5 5 5 5 5 5 6 5 5 5 5 4 5 5 5 5 5 4 5 5 5 4 5 4 6 5 5 4 5 4 5 3 5 4 5 4 5 3 5 3 5 4 6 3 5 2 5 3 5 3 5 2 5 2 5 2 5 2 5 2 6 1 5 1 5 1 5 1 5 1 5 0 5 0 5 0 6 0 5 0 5-1 5-1 5-1 5-1 5-1 5-2 5-2 6-2 5-2 5-3 5-2 5-3 5-3 5-3 5-3 5-3 6-4 5-3 5-4 5-4 5-4 5-4 5-4 5-4 5-5 6-4 5-5 5-4 5-5 5-5 5-5 5-5 5-5 5-5 6-5 5-5 5-5 5-6 5-5M864 489l5 5 5 6 5 5 5 6 6 5 5 5 5 6 5 5 5 5 5 5 5 5 5 5 5 5 6 5 5 5 5 5 5 4 5 5 5 4 5 5 5 4 5 4 6 4 5 4 5 4 5 4 5 3 5 4 5 3 5 4 5 3 6 3 5 2 5 3 5 3 5 2 5 2 5 2 5 2 5 1 6 2 5 1 5 1 5 1 5 0 5 1 5 0 5 0 6 0 5-1 5 0 5-1 5-1 5-1 5-2 5-1 5-2 6-2 5-2 5-3 5-2 5-3 5-3 5-3 5-3 5-3 6-4 5-3 5-4 5-3 5-4 5-4 5-4 5-5 5-4 6-4 5-5 5-4 5-5 5-5 5-5 5-4 5-5 5-5 6-5 5-6 5-5 5-5 5-5M864 486l5 5 5 6 5 5 5 5 6 6 5 5 5 5 5 5 5 5 5 6 5 5 5 4 5 5 6 5 5 5 5 5 5 4 5 5 5 4 5 4 5 5 5 4 6 4 5 4 5 3 5 4 5 4 5 3 5 4 5 3 5 3 6 3 5 2 5 3 5 2 5 3 5 2 5 2 5 1 5 2 6 1 5 2 5 1 5 0 5 1 5 0 5 0 5 0 6 0 5 0 5-1 5-1 5-1 5-1 5-1 5-2 5-2 6-1 5-3 5-2 5-2 5-3 5-3 5-3 5-3 5-3 6-3 5-4 5-3 5-4 5-4 5-4 5-4 5-4 5-4 6-5 5-4 5-4 5-5 5-5 5-4 5-5 5-5 5-5 6-5 5-5 5-5 5-5 5-6M864 482l5 6 5 5 5 6 5 5 6 5 5 5 5 6 5 5 5 5 5 5 5 5 5 5 5 4 6 5 5 5 5 5 5 4 5 4 5 5 5 4 5 4 5 4 6 4 5 4 5 4 5 4 5 3 5 3 5 4 5 3 5 3 6 3 5 2 5 3 5 2 5 2 5 3 5 1 5 2 5 2 6 1 5 1 5 1 5 1 5 0 5 1 5 0 5 0 6 0 5-1 5 0 5-1 5-1 5-1 5-2 5-1 5-2 6-2 5-2 5-2 5-2 5-3 5-3 5-3 5-3 5-3 6-3 5-3 5-4 5-4 5-3 5-4 5-4 5-4 5-4 6-5 5-4 5-5 5-4 5-5 5-4 5-5 5-5 5-5 6-5 5-5 5-5 5-5 5-5M864 479l5 6 5 5 5 5 5 6 6 5 5 5 5 5 5 5 5 5 5 5 5 5 5 5 5 5 6 4 5 5 5 4 5 5 5 4 5 5 5 4 5 4 5 4 6 4 5 4 5 3 5 4 5 3 5 4 5 3 5 3 5 3 6 3 5 2 5 3 5 2 5 2 5 2 5 2 5 2 5 1 6 2 5 1 5 1 5 0 5 1 5 0 5 0 5 0 6 0 5 0 5-1 5 0 5-1 5-2 5-1 5-1 5-2 6-2 5-2 5-2 5-3 5-2 5-3 5-3 5-2 5-4 6-3 5-3 5-4 5-3 5-4 5-4 5-4 5-4 5-4 6-4 5-4 5-5 5-4 5-5 5-4 5-5 5-5 5-5 6-5 5-4 5-6 5-5 5-5M864 476l5 5 5 6 5 5 5 5 6 5 5 5 5 5 5 5 5 5 5 5 5 5 5 5 5 5 6 4 5 5 5 4 5 5 5 4 5 4 5 4 5 4 5 4 6 4 5 4 5 4 5 3 5 4 5 3 5 3 5 3 5 3 6 3 5 2 5 3 5 2 5 2 5 2 5 2 5 1 5 2 6 1 5 1 5 1 5 1 5 0 5 1 5 0 5 0 6 0 5-1 5 0 5-1 5-1 5-1 5-1 5-2 5-1 6-2 5-2 5-2 5-3 5-2 5-3 5-3 5-2 5-3 6-4 5-3 5-3 5-4 5-3 5-4 5-4 5-4 5-4 6-4 5-5 5-4 5-4 5-5 5-4 5-5 5-5 5-4 6-5 5-5 5-5 5-5 5-5M864 473l5 5 5 5 5 5 5 6 6 5 5 5 5 5 5 5 5 5 5 4 5 5 5 5 5 5 6 4 5 5 5 4 5 4 5 5 5 4 5 4 5 4 5 4 6 4 5 3 5 4 5 3 5 4 5 3 5 3 5 3 5 3 6 3 5 2 5 2 5 3 5 2 5 2 5 1 5 2 5 1 6 2 5 1 5 1 5 0 5 1 5 0 5 0 5 0 6 0 5 0 5-1 5 0 5-1 5-1 5-2 5-1 5-2 6-2 5-1 5-3 5-2 5-2 5-3 5-3 5-2 5-3 6-3 5-4 5-3 5-4 5-3 5-4 5-4 5-4 5-4 6-4 5-4 5-4 5-4 5-5 5-4 5-5 5-5 5-4 6-5 5-5 5-5 5-5 5-5M864 469l5 5 5 6 5 5 5 5 6 5 5 5 5 5 5 5 5 5 5 5 5 4 5 5 5 5 6 4 5 5 5 4 5 4 5 4 5 5 5 4 5 4 5 3 6 4 5 4 5 3 5 4 5 3 5 3 5 3 5 3 5 3 6 2 5 3 5 2 5 2 5 3 5 1 5 2 5 2 5 1 6 1 5 1 5 1 5 1 5 0 5 1 5 0 5 0 6 0 5-1 5 0 5-1 5-1 5-1 5-1 5-2 5-1 6-2 5-2 5-2 5-2 5-2 5-3 5-3 5-2 5-3 6-3 5-4 5-3 5-3 5-4 5-3 5-4 5-4 5-4 6-4 5-4 5-4 5-5 5-4 5-4 5-5 5-5 5-4 6-5 5-5 5-5 5-5 5-5M864 466l5 5 5 5 5 5 5 5 6 5 5 5 5 5 5 5 5 5 5 5 5 4 5 5 5 5 6 4 5 4 5 5 5 4 5 4 5 4 5 4 5 4 5 4 6 3 5 4 5 3 5 4 5 3 5 3 5 3 5 3 5 3 6 2 5 3 5 2 5 2 5 2 5 2 5 2 5 1 5 2 6 1 5 1 5 1 5 0 5 1 5 0 5 0 5 0 6 0 5 0 5-1 5 0 5-1 5-1 5-1 5-2 5-1 6-2 5-2 5-2 5-2 5-3 5-2 5-3 5-2 5-3 6-3 5-3 5-4 5-3 5-3 5-4 5-4 5-3 5-4 6-4 5-4 5-5 5-4 5-4 5-5 5-4 5-5 5-4 6-5 5-5 5-4 5-5 5-5M864 462l5 5 5 6 5 5 5 5 6 5 5 5 5 4 5 5 5 5 5 5 5 4 5 5 5 4 6 5 5 4 5 4 5 5 5 4 5 4 5 4 5 3 5 4 6 4 5 3 5 4 5 3 5 3 5 3 5 3 5 3 5 3 6 2 5 3 5 2 5 2 5 2 5 2 5 1 5 2 5 1 6 1 5 1 5 1 5 1 5 0 5 1 5 0 5 0 6 0 5-1 5 0 5-1 5-1 5-1 5-1 5-1 5-2 6-1 5-2 5-2 5-2 5-3 5-2 5-3 5-2 5-3 6-3 5-3 5-3 5-4 5-3 5-4 5-3 5-4 5-4 6-4 5-4 5-4 5-4 5-4 5-5 5-4 5-5 5-4 6-5 5-5 5-4 5-5 5-5M864 459l5 5 5 5 5 5 5 5 6 5 5 5 5 5 5 4 5 5 5 5 5 4 5 5 5 4 6 5 5 4 5 4 5 4 5 4 5 4 5 4 5 4 5 4 6 3 5 4 5 3 5 3 5 3 5 3 5 3 5 3 5 3 6 2 5 2 5 3 5 2 5 2 5 1 5 2 5 2 5 1 6 1 5 1 5 1 5 1 5 0 5 0 5 0 5 0 6 0 5 0 5-1 5 0 5-1 5-1 5-1 5-2 5-1 6-2 5-2 5-2 5-2 5-2 5-2 5-3 5-2 5-3 6-3 5-3 5-3 5-3 5-4 5-3 5-4 5-4 5-3 6-4 5-4 5-4 5-4 5-5 5-4 5-4 5-5 5-4 6-5 5-5 5-4 5-5 5-5M864 455l5 5 5 5 5 5 5 5 6 5 5 5 5 5 5 4 5 5 5 5 5 4 5 5 5 4 6 4 5 5 5 4 5 4 5 4 5 4 5 4 5 3 5 4 6 3 5 4 5 3 5 3 5 3 5 3 5 3 5 3 5 3 6 2 5 2 5 2 5 3 5 1 5 2 5 2 5 1 5 1 6 2 5 1 5 0 5 1 5 1 5 0 5 0 5 0 6 0 5-1 5 0 5-1 5-1 5-1 5-1 5-1 5-1 6-2 5-2 5-2 5-2 5-2 5-2 5-3 5-2 5-3 6-3 5-3 5-3 5-3 5-4 5-3 5-4 5-3 5-4 6-4 5-4 5-4 5-4 5-4 5-4 5-4 5-5 5-4 6-5 5-4 5-5 5-5 5-5M864 452l5 5 5 5 5 5 5 4 6 5 5 5 5 5 5 4 5 5 5 5 5 4 5 5 5 4 6 4 5 4 5 4 5 4 5 4 5 4 5 4 5 4 5 3 6 4 5 3 5 3 5 3 5 3 5 3 5 3 5 3 5 2 6 3 5 2 5 2 5 2 5 2 5 2 5 1 5 2 5 1 6 1 5 1 5 1 5 1 5 0 5 0 5 0 5 0 6 0 5 0 5-1 5 0 5-1 5-1 5-1 5-1 5-2 6-1 5-2 5-2 5-2 5-2 5-2 5-3 5-2 5-3 6-3 5-3 5-3 5-3 5-3 5-4 5-3 5-4 5-3 6-4 5-4 5-4 5-4 5-4 5-4 5-5 5-4 5-4 6-5 5-5 5-4 5-5 5-5M864 448l5 5 5 5 5 5 5 5 6 4 5 5 5 5 5 4 5 5 5 5 5 4 5 4 5 5 6 4 5 4 5 4 5 4 5 4 5 4 5 3 5 4 5 4 6 3 5 3 5 3 5 4 5 3 5 2 5 3 5 3 5 2 6 3 5 2 5 2 5 2 5 2 5 1 5 2 5 1 5 2 6 1 5 1 5 0 5 1 5 1 5 0 5 0 5 0 6 0 5-1 5 0 5-1 5 0 5-1 5-2 5-1 5-1 6-2 5-1 5-2 5-2 5-2 5-3 5-2 5-3 5-2 6-3 5-3 5-3 5-3 5-3 5-4 5-3 5-3 5-4 6-4 5-4 5-4 5-4 5-4 5-4 5-4 5-4 5-5 6-4 5-5 5-4 5-5 5-4M864 444l5 5 5 5 5 5 5 5 6 5 5 4 5 5 5 4 5 5 5 4 5 5 5 4 5 4 6 4 5 5 5 4 5 4 5 3 5 4 5 4 5 3 5 4 6 3 5 3 5 4 5 3 5 3 5 2 5 3 5 3 5 2 6 2 5 3 5 2 5 2 5 1 5 2 5 2 5 1 5 1 6 1 5 1 5 1 5 1 5 0 5 0 5 0 5 0 6 0 5 0 5 0 5-1 5-1 5-1 5-1 5-1 5-2 6-1 5-2 5-2 5-2 5-2 5-2 5-2 5-3 5-2 6-3 5-3 5-3 5-3 5-3 5-3 5-4 5-3 5-4 6-3 5-4 5-4 5-4 5-4 5-4 5-4 5-4 5-5 6-4 5-5 5-4 5-5 5-4M864 440l5 5 5 5 5 5 5 5 6 5 5 4 5 5 5 4 5 5 5 4 5 5 5 4 5 4 6 4 5 4 5 4 5 4 5 4 5 3 5 4 5 4 5 3 6 3 5 4 5 3 5 3 5 3 5 2 5 3 5 3 5 2 6 2 5 2 5 2 5 2 5 2 5 2 5 1 5 2 5 1 6 1 5 1 5 0 5 1 5 1 5 0 5 0 5 0 6 0 5-1 5 0 5-1 5 0 5-1 5-1 5-2 5-1 6-1 5-2 5-2 5-2 5-2 5-2 5-2 5-3 5-2 6-3 5-3 5-3 5-3 5-3 5-3 5-3 5-4 5-3 6-4 5-4 5-4 5-3 5-4 5-4 5-5 5-4 5-4 6-4 5-5 5-4 5-5 5-4M864 437l5 5 5 4 5 5 5 5 6 5 5 4 5 5 5 4 5 5 5 4 5 4 5 5 5 4 6 4 5 4 5 4 5 3 5 4 5 4 5 3 5 4 5 3 6 4 5 3 5 3 5 3 5 3 5 2 5 3 5 2 5 3 6 2 5 2 5 2 5 2 5 2 5 1 5 2 5 1 5 1 6 1 5 1 5 1 5 1 5 0 5 0 5 0 5 0 6 0 5 0 5 0 5-1 5-1 5-1 5-1 5-1 5-1 6-2 5-1 5-2 5-2 5-2 5-2 5-2 5-3 5-2 6-3 5-3 5-3 5-3 5-3 5-3 5-3 5-4 5-3 6-4 5-3 5-4 5-4 5-4 5-4 5-4 5-4 5-4 6-5 5-4 5-4 5-5 5-4M864 433l5 5 5 5 5 4 5 5 6 5 5 4 5 5 5 4 5 4 5 5 5 4 5 4 5 4 6 4 5 4 5 4 5 4 5 4 5 3 5 4 5 3 5 3 6 4 5 3 5 3 5 3 5 3 5 2 5 3 5 2 5 3 6 2 5 2 5 2 5 2 5 1 5 2 5 1 5 2 5 1 6 1 5 1 5 1 5 0 5 1 5 0 5 0 5 0 6 0 5 0 5-1 5-1 5 0 5-1 5-1 5-1 5-2 6-1 5-2 5-1 5-2 5-2 5-2 5-3 5-2 5-2 6-3 5-3 5-3 5-3 5-3 5-3 5-3 5-3 5-4 6-3 5-4 5-4 5-3 5-4 5-4 5-4 5-4 5-5 6-4 5-4 5-4 5-5 5-4M864 429l5 5 5 5 5 4 5 5 6 5 5 4 5 5 5 4 5 4 5 4 5 5 5 4 5 4 6 4 5 4 5 4 5 3 5 4 5 4 5 3 5 3 5 4 6 3 5 3 5 3 5 3 5 3 5 2 5 3 5 2 5 2 6 3 5 2 5 2 5 1 5 2 5 2 5 1 5 1 5 2 6 1 5 0 5 1 5 1 5 0 5 0 5 0 5 0 6 0 5 0 5 0 5-1 5-1 5-1 5-1 5-1 5-1 6-1 5-2 5-2 5-2 5-2 5-2 5-2 5-2 5-3 6-2 5-3 5-3 5-2 5-3 5-4 5-3 5-3 5-3 6-4 5-4 5-3 5-4 5-4 5-4 5-4 5-4 5-4 6-4 5-4 5-5 5-4 5-5M864 425l5 5 5 5 5 4 5 5 6 4 5 5 5 4 5 5 5 4 5 4 5 4 5 4 5 4 6 4 5 4 5 4 5 4 5 3 5 4 5 3 5 4 5 3 6 3 5 3 5 3 5 3 5 3 5 2 5 3 5 2 5 2 6 2 5 2 5 2 5 2 5 2 5 1 5 2 5 1 5 1 6 1 5 1 5 1 5 0 5 1 5 0 5 0 5 0 6 0 5 0 5-1 5 0 5-1 5-1 5-1 5-1 5-1 6-2 5-1 5-2 5-2 5-2 5-2 5-2 5-2 5-3 6-2 5-3 5-3 5-2 5-3 5-3 5-4 5-3 5-3 6-4 5-3 5-4 5-4 5-3 5-4 5-4 5-4 5-4 6-4 5-5 5-4 5-4 5-5M864 421l5 5 5 5 5 4 5 5 6 4 5 5 5 4 5 4 5 5 5 4 5 4 5 4 5 4 6 4 5 4 5 3 5 4 5 4 5 3 5 3 5 4 5 3 6 3 5 3 5 3 5 3 5 2 5 3 5 3 5 2 5 2 6 2 5 2 5 2 5 2 5 1 5 2 5 1 5 2 5 1 6 1 5 0 5 1 5 1 5 0 5 0 5 0 5 0 6 0 5 0 5 0 5-1 5-1 5-1 5 0 5-2 5-1 6-1 5-2 5-1 5-2 5-2 5-2 5-2 5-2 5-3 6-2 5-3 5-3 5-2 5-3 5-3 5-3 5-4 5-3 6-3 5-4 5-3 5-4 5-4 5-4 5-4 5-4 5-4 6-4 5-4 5-4 5-4 5-5" clip-path="url(#h10)" fill="none" stroke="#7a8a8a" stroke-width="1.2" opacity="0.55" />
<path d="M870.5 558l0.8 1.5 1 1.8 1.3 2.3 1.5 2.7 1.8 3.2 2.2 3.5 2.6 4.1 3 4.8 3.4 5.2 3.5 5.3 3.6 5.4 3.5 5.2 3.5 5 3.6 4.9 3.7 5 3.7 5 3.6 5 3.7 5.1 3.6 5.2 3.7 5.3 3.6 5.3 3.6 5.4 3.7 5.4 3.6 5.4 3.6 5.4 3.7 5.5 3.6 5.5 3.6 5.6 3.7 5.5 3.6 5.5 3.6 5.5 3.7 5.5 3.6 5.6 3.6 5.5 3.7 5.5 3.6 5.4 3.7 5.5 3.6 5.5 3.7 5.5 3.7 5.4 3.6 5.2 3.5 4.9 3.6 4.9 3.8 4.9 3.7 4.7 3.5 4.3 2.8 3.6 2.1 2.6 2.2-2.6 2.8-3.6 3.5-4.3 3.7-4.7 3.8-4.9 3.6-4.9 3.5-4.9 3.6-5.2 3.7-5.4 3.6-5.5 3.7-5.5 3.7-5.5 3.6-5.4 3.7-5.5 3.6-5.5 3.6-5.6 3.7-5.5 3.6-5.5 3.6-5.5 3.7-5.5 3.6-5.6 3.6-5.5 3.7-5.5 3.6-5.4 3.6-5.4 3.7-5.4 3.6-5.4 3.6-5.3 3.7-5.3 3.6-5.2 3.7-5.1 3.6-5 3.7-5 3.7-5 3.6-4.9 3.5-5 3.5-5.2 3.6-5.4 3.5-5.3 3.4-5.2 3-4.8 2.6-4.1 2.2-3.5 1.8-3.2 1.5-2.7 1.3-2.3 1-1.8 0.8-1.5z" fill="#6c5c5c" />
<path d="M874.5 558l0.2 0.9 0.3 1.2 0.4 1.5 0.5 1.6 0.5 1.6 0.5 1.7 0.6 1.6 0.6 1.7 0.6 1.7 0.7 1.9 0.9 1.9 1 2.1 1.2 2.3 1.2 2.6 1.4 2.8 1.5 2.7 1.6 2.6 1.8 2.3 1.9 2.1 2 2 2.1 1.8 2.3 1.8 2.3 1.6 2.5 1.6 2.6 1.5 2.7 1.3 2.9 1.3 2.9 1.2 3.1 1.1 3.2 1.2 3.4 1.2 3.5 1.1 3.7 1.1 3.8 1.1 3.7 1.1 3.7 1 3.6 1 3.7 0.9 3.6 0.9 3.6 0.8 3.7 0.9 3.6 0.9 3.6 0.9 3.7 1 3.6 0.9 3.6 1 3.7 0.9 3.6 0.8 3.7 0.8 3.6 0.8 3.7 0.8 3.7 0.8 3.6 0.6 3.5 0.5 3.6 0.4 3.8 0.2 3.7 0.2 3.5 0.1 2.8 0 2.1 0.1 2.2-0.1 2.8 0 3.5-0.1 3.7-0.2 3.8-0.2 3.6-0.4 3.5-0.5 3.6-0.6 3.7-0.8 3.6-0.8 3.7-0.8 3.7-0.8 3.6-0.8 3.7-0.9 3.6-1 3.6-0.9 3.7-1 3.6-0.9 3.6-0.9 3.7-0.9 3.6-0.8 3.6-0.9 3.7-0.9 3.6-1 3.7-1 3.7-1.1 3.8-1.1 3.7-1.1 3.5-1.1 3.4-1.2 3.2-1.2 3.1-1.1 2.9-1.2 2.9-1.3 2.7-1.3 2.6-1.5 2.5-1.6 2.3-1.6 2.3-1.8 2.1-1.8 2-2 1.9-2.1 1.8-2.3 1.6-2.6 1.5-2.7 1.4-2.8 1.2-2.6 1.2-2.3 1-2.1 0.9-1.9 0.7-1.9 0.6-1.7 0.6-1.7 0.6-1.6 0.5-1.7 0.5-1.6 0.5-1.6 0.4-1.5 0.3-1.2 0.2-0.9z" fill="#d0d4d4" />
<clipPath id="h11"><path d="M874.5 558l0.2 0.9 0.3 1.2 0.4 1.5 0.5 1.6 0.5 1.6 0.5 1.7 0.6 1.6 0.6 1.7 0.6 1.7 0.7 1.9 0.9 1.9 1 2.1 1.2 2.3 1.2 2.6 1.4 2.8 1.5 2.7 1.6 2.6 1.8 2.3 1.9 2.1 2 2 2.1 1.8 2.3 1.8 2.3 1.6 2.5 1.6 2.6 1.5 2.7 1.3 2.9 1.3 2.9 1.2 3.1 1.1 3.2 1.2 3.4 1.2 3.5 1.1 3.7 1.1 3.8 1.1 3.7 1.1 3.7 1 3.6 1 3.7 0.9 3.6 0.9 3.6 0.8 3.7 0.9 3.6 0.9 3.6 0.9 3.7 1 3.6 0.9 3.6 1 3.7 0.9 3.6 0.8 3.7 0.8 3.6 0.8 3.7 0.8 3.7 0.8 3.6 0.6 3.5 0.5 3.6 0.4 3.8 0.2 3.7 0.2 3.5 0.1 2.8 0 2.1 0.1 2.2-0.1 2.8 0 3.5-0.1 3.7-0.2 3.8-0.2 3.6-0.4 3.5-0.5 3.6-0.6 3.7-0.8 3.6-0.8 3.7-0.8 3.7-0.8 3.6-0.8 3.7-0.9 3.6-1 3.6-0.9 3.7-1 3.6-0.9 3.6-0.9 3.7-0.9 3.6-0.8 3.6-0.9 3.7-0.9 3.6-1 3.7-1 3.7-1.1 3.8-1.1 3.7-1.1 3.5-1.1 3.4-1.2 3.2-1.2 3.1-1.1 2.9-1.2 2.9-1.3 2.7-1.3 2.6-1.5 2.5-1.6 2.3-1.6 2.3-1.8 2.1-1.8 2-2 1.9-2.1 1.8-2.3 1.6-2.6 1.5-2.7 1.4-2.8 1.2-2.6 1.2-2.3 1-2.1 0.9-1.9 0.7-1.9 0.6-1.7 0.6-1.7 0.6-1.6 0.5-1.7 0.5-1.6 0.5-1.6 0.4-1.5 0.3-1.2 0.2-0.9z"/></clipPath>
<path d="M1016 552l1 2 2 2 3 1 3 1 4 0 4-1 3-1 2-2 1-2M1006 552l1 4 4 3 5 3 7 1 8 0 7-1 6-3 4-3 1-4M995 552l1 4 2 3 4 3 5 3 6 2 7 1 7 1 7-1 7-1 6-2 5-3 4-3 2-3 1-4M985 552l1 3 1 4 3 3 3 3 4 3 5 2 6 2 6 1 7 1 6 0 7 0 6-1 6-1 6-2 5-2 4-3 4-3 2-3 2-4 0-3M975 552l0 3 1 4 2 3 3 3 4 3 4 3 5 2 5 2 6 2 6 1 6 1 7 1 7 0 6-1 6-1 7-1 5-2 6-2 4-2 5-3 3-3 3-3 2-3 1-4 1-3M965 552l0 3 1 4 2 3 2 3 3 3 4 3 4 3 4 3 5 2 6 2 6 1 6 1 6 1 7 1 6 0 7 0 6-1 7-1 6-1 6-1 5-2 5-2 5-3 4-3 4-3 3-3 2-3 2-3 1-4 0-3M954 552l1 3 0 4 2 3 2 3 3 4 3 3 3 3 4 2 5 3 5 2 5 2 6 2 6 1 6 2 6 0 6 1 7 0 7 0 6 0 6-1 7 0 6-2 6-1 5-2 6-2 5-2 4-3 4-2 4-3 3-3 3-4 2-3 1-3 1-4 0-3M944 552l0 3 1 4 1 3 2 4 2 3 3 3 3 3 4 3 4 2 4 3 5 2 5 2 6 2 5 2 6 1 7 2 6 1 6 0 7 1 6 0 7 0 6-1 7 0 6-1 6-2 6-1 6-2 5-2 5-2 5-2 5-3 4-2 3-3 3-3 3-3 2-3 2-4 1-3 1-4 0-3M934 552l0 3 1 4 1 3 1 4 2 3 3 3 3 3 3 3 4 3 4 3 4 2 5 3 5 2 5 2 6 2 5 1 6 2 6 1 7 1 6 0 6 1 7 0 7 0 6 0 6-1 7 0 6-1 6-1 6-2 6-1 6-2 5-2 5-2 4-3 5-2 4-3 4-3 3-3 3-3 2-3 2-3 2-4 1-3 1-4 0-3M924 552l0 3 0 4 1 3 2 4 2 3 2 3 2 3 3 3 4 3 3 3 4 3 5 2 4 3 5 2 5 2 6 2 5 2 6 1 6 2 6 1 6 1 7 1 6 0 7 0 6 1 7-1 6 0 7 0 6-1 6-1 6-1 6-2 6-1 6-2 5-2 5-2 5-2 5-3 4-2 4-3 4-3 3-3 3-3 3-3 2-3 2-3 1-4 1-3 1-4 0-3M913 552l0 3 1 4 1 3 1 3 2 4 2 3 2 3 3 3 2 3 4 3 3 3 4 2 4 3 5 2 4 3 5 2 5 2 6 2 5 2 6 1 6 1 6 2 6 1 6 0 6 1 6 1 7 0 6 0 7 0 6 0 6-1 7-1 6 0 6-1 6-2 6-1 5-1 6-2 5-2 5-2 5-2 5-3 4-2 4-3 4-2 4-3 3-3 3-3 3-3 2-3 2-3 1-4 2-3 1-3 0-4 0-3M903 552l0 3 1 4 0 3 2 3 1 4 2 3 2 3 2 3 3 3 3 3 3 3 4 3 4 3 4 2 4 3 5 2 5 2 5 2 5 2 5 2 6 2 6 1 5 2 6 1 7 1 6 1 6 0 6 1 7 0 6 0 6 0 7 0 6 0 7-1 6 0 6-1 6-1 6-1 6-2 6-1 5-2 6-2 5-2 5-2 5-2 4-2 5-3 4-2 4-3 3-3 3-3 3-3 3-3 3-3 2-3 1-3 2-4 1-3 1-3 0-4 1-3M893 552l0 3 0 4 1 3 1 3 2 4 1 3 2 3 2 3 3 3 3 3 3 3 3 3 4 3 4 3 4 2 4 3 4 2 5 3 5 2 5 2 6 2 5 1 6 2 5 1 6 2 6 1 6 1 7 1 6 1 6 0 6 0 7 1 6 0 7 0 6-1 6 0 7 0 6-1 6-1 6-1 6-1 6-2 6-1 6-2 5-1 5-2 5-2 5-2 5-3 5-2 4-3 4-2 4-3 3-3 4-3 3-3 3-3 2-3 2-3 2-3 2-3 1-4 1-3 1-3 1-4 0-3M882 552l1 3 0 4 1 3 1 3 1 4 2 3 1 3 2 3 3 4 2 3 3 3 3 3 4 2 3 3 4 3 4 3 5 2 4 2 5 3 5 2 5 2 5 2 5 2 6 2 5 1 6 2 6 1 6 1 6 1 6 1 7 1 6 0 6 1 7 0 6 0 6 0 7 0 6 0 7-1 6 0 6-1 6-1 6-1 6-1 6-1 6-2 6-1 5-2 6-2 5-2 5-2 5-2 4-3 5-2 4-2 4-3 4-3 4-3 3-2 3-3 3-3 3-3 2-4 2-3 2-3 2-3 1-4 1-3 0-3 1-4 0-3M872 552l0 3 1 4 0 3 1 3 2 4 1 3 2 3 2 3 2 4 2 3 3 3 3 3 3 3 3 3 4 2 4 3 4 3 4 2 5 3 4 2 5 2 5 2 5 2 5 2 6 2 5 2 6 1 6 2 6 1 6 1 6 1 6 1 6 1 7 0 6 1 6 0 7 1 6 0 7 0 6-1 6 0 7-1 6 0 6-1 6-1 7-1 6-1 6-1 5-2 6-1 6-2 5-2 5-2 5-2 5-2 5-2 5-2 4-3 5-2 4-3 3-3 4-2 3-3 4-3 3-3 2-3 3-3 2-4 2-3 2-3 1-3 1-4 1-3 1-3 0-4 0-3M862 552l0 3 0 4 1 3 1 4 1 3 2 4 1 3 2 3 2 3 3 4 3 3 2 3 4 3 3 3 3 3 4 3 4 2 5 3 4 3 5 2 4 2 5 3 5 2 6 2 5 2 6 2 5 1 6 2 6 2 6 1 6 1 7 1 6 1 6 1 7 1 6 0 7 1 6 0 7 0 7 0 6 0 7 0 6-1 7 0 6-1 7-1 6-1 6-1 6-1 6-1 6-2 6-2 6-1 5-2 6-2 5-2 5-2 5-3 5-2 5-2 4-3 4-3 4-2 4-3 4-3 3-3 3-3 3-3 3-3 2-4 2-3 2-3 2-3 1-4 1-3 1-4 1-3 0-4 1-3M860 580l2 3 2 3 2 2 2 3 3 3 2 2 3 3 3 3 3 2 3 2 4 3 3 2 4 2 4 3 4 2 4 2 4 2 4 2 5 1 4 2 5 2 5 1 4 2 5 1 5 2 5 1 6 1 5 1 5 1 5 1 6 1 5 1 6 0 5 1 6 1 5 0 6 0 6 0 5 0 6 0 6 0 5 0 6 0 5-1 6 0 5-1 6 0 5-1 6-1 5-1 5-1 6-1 5-1 5-2 5-1 5-1 4-2 5-2 5-1 4-2 5-2 4-2 4-2 4-2 4-2 4-2 3-3 4-2 3-2 3-3 3-2 3-3 3-2 3-3 2-3 2-2 2-3 2-3 2-3M860 595l2 2 3 3 3 2 2 2 3 3 3 2 3 2 4 2 3 3 3 2 4 2 4 2 4 2 3 1 4 2 5 2 4 2 4 1 4 2 5 1 4 2 5 1 5 1 5 2 4 1 5 1 5 1 5 1 5 1 5 0 5 1 5 1 6 0 5 1 5 0 5 0 6 1 5 0 5 0 5 0 6 0 5 0 5-1 6 0 5 0 5-1 5 0 5-1 5-1 5-1 5 0 5-1 5-1 5-2 5-1 5-1 4-1 5-2 5-1 4-2 4-1 5-2 4-1 4-2 4-2 4-2 4-2 3-2 4-2 3-2 4-2 3-2 3-3 3-2 3-2 3-3 2-2 3-2 2-3M860 606l3 2 3 2 2 3 3 2 4 2 3 2 3 2 4 2 3 2 4 2 4 1 3 2 4 2 4 2 4 1 4 2 5 1 4 2 4 1 5 1 4 2 5 1 4 1 5 1 5 1 4 1 5 1 5 1 5 0 5 1 5 1 5 0 5 1 5 0 5 1 5 0 5 0 5 0 5 0 5 0 5 0 5 0 5 0 6-1 5 0 5 0 5-1 5 0 5-1 4-1 5 0 5-1 5-1 5-1 4-1 5-1 5-1 4-2 5-1 4-1 4-2 5-1 4-2 4-1 4-2 4-1 4-2 4-2 3-2 4-2 3-2 4-2 3-2 3-2 4-2 3-2 3-2 2-2 3-3M860 616l3 2 3 2 3 2 3 2 4 2 3 2 4 1 3 2 4 2 3 2 4 1 4 2 4 2 4 1 4 2 4 1 5 1 4 2 4 1 5 1 4 1 5 1 4 1 5 1 4 1 5 1 5 1 4 1 5 0 5 1 5 0 5 1 5 0 5 1 4 0 5 0 5 0 5 1 5 0 5 0 5 0 5-1 5 0 5 0 5 0 5-1 5 0 4-1 5 0 5-1 5-1 5 0 4-1 5-1 5-1 4-1 5-1 4-1 5-1 4-1 4-2 5-1 4-1 4-2 4-1 4-2 4-1 4-2 4-2 3-1 4-2 4-2 3-2 3-2 4-2 3-2 3-2 3-2 3-2M860 624l3 2 3 2 4 2 3 2 3 2 4 2 4 1 3 2 4 2 4 1 4 2 4 1 4 2 4 1 4 1 4 2 4 1 4 1 5 1 4 1 4 1 5 1 4 1 5 1 5 1 4 1 5 1 4 0 5 1 5 0 5 1 4 0 5 1 5 0 5 0 5 1 5 0 4 0 5 0 5 0 5 0 5 0 5 0 4-1 5 0 5 0 5-1 5 0 4-1 5 0 5-1 4 0 5-1 5-1 4-1 5-1 4-1 5-1 4-1 5-1 4-1 4-1 4-2 4-1 5-1 4-2 4-1 4-2 3-1 4-2 4-1 4-2 3-2 4-1 3-2 3-2 4-2 3-2 3-2M860 633l3 2 4 1 3 2 3 2 4 1 4 2 3 2 4 1 4 2 4 1 4 2 4 1 4 1 4 2 4 1 4 1 4 1 4 1 5 2 4 1 5 1 4 0 4 1 5 1 4 1 5 1 5 0 4 1 5 1 5 0 4 1 5 0 5 0 4 1 5 0 5 0 5 0 4 0 5 0 5 0 5 0 5 0 4 0 5 0 5 0 5-1 4 0 5-1 5 0 4-1 5 0 5-1 4 0 5-1 4-1 5-1 4-1 5-1 4-1 4-1 5-1 4-1 4-1 4-1 4-1 5-2 4-1 4-2 3-1 4-1 4-2 4-2 3-1 4-2 4-1 3-2 3-2 4-2 3-2M860 640l3 2 4 2 3 2 4 1 3 2 4 1 4 2 4 1 4 2 3 1 4 1 4 2 4 1 5 1 4 1 4 2 4 1 4 1 5 1 4 1 4 1 5 0 4 1 5 1 4 1 5 0 4 1 5 1 5 0 4 1 5 0 4 0 5 1 5 0 4 0 5 1 5 0 5 0 4 0 5 0 5 0 4 0 5-1 5 0 4 0 5 0 5-1 4 0 5 0 5-1 4 0 5-1 4-1 5 0 4-1 5-1 4-1 5-1 4-1 4 0 5-1 4-2 4-1 4-1 5-1 4-1 4-1 4-2 4-1 4-2 3-1 4-1 4-2 4-1 3-2 4-2 3-1 4-2 3-2M860 648l3 2 4 1 4 2 3 1 4 2 4 1 3 2 4 1 4 1 4 2 4 1 4 1 4 1 4 2 4 1 5 1 4 1 4 1 4 1 5 1 4 0 5 1 4 1 4 1 5 0 4 1 5 1 4 0 5 1 5 0 4 1 5 0 4 0 5 1 5 0 4 0 5 0 5 0 4 0 5 0 5 0 4 0 5 0 5 0 4-1 5 0 4 0 5 0 5-1 4 0 5-1 4 0 5-1 4-1 5 0 4-1 5-1 4-1 4-1 5 0 4-1 4-1 4-1 5-1 4-2 4-1 4-1 4-1 4-1 4-2 4-1 4-2 3-1 4-1 4-2 3-1 4-2 4-2 3-1M860 655l4 2 3 1 4 2 3 1 4 2 4 1 4 1 4 2 4 1 4 1 4 1 4 2 4 1 4 1 4 1 4 1 4 1 5 1 4 1 4 0 5 1 4 1 4 1 5 0 4 1 5 1 4 0 5 1 4 0 5 1 4 0 5 0 5 1 4 0 5 0 4 0 5 0 5 1 4 0 5 0 5 0 4-1 5 0 4 0 5 0 5 0 4-1 5 0 4 0 5-1 4 0 5-1 4 0 5-1 4-1 5 0 4-1 4-1 5-1 4-1 4 0 5-1 4-1 4-1 4-1 4-1 4-2 4-1 4-1 4-1 4-2 4-1 4-1 4-2 4-1 3-1 4-2 3-2 4-1M860 662l4 2 3 1 4 2 4 1 3 1 4 2 4 1 4 1 4 1 4 2 4 1 4 1 4 1 4 1 5 1 4 1 4 1 4 1 5 0 4 1 4 1 5 1 4 0 4 1 5 1 4 0 5 1 4 0 5 1 4 0 5 1 4 0 5 0 4 0 5 1 5 0 4 0 5 0 4 0 5 0 4 0 5 0 5 0 4 0 5-1 4 0 5 0 4-1 5 0 4 0 5-1 4 0 5-1 4 0 5-1 4-1 5 0 4-1 4-1 5-1 4 0 4-1 4-1 5-1 4-1 4-1 4-1 4-1 4-2 4-1 4-1 4-1 4-2 4-1 3-1 4-2 4-1 3-2 4-1M860 669l4 1 3 2 4 1 4 1 4 2 4 1 3 1 4 1 4 2 4 1 4 1 5 1 4 1 4 1 4 1 4 1 4 1 5 0 4 1 4 1 5 1 4 0 4 1 5 1 4 0 5 1 4 0 5 1 4 0 5 1 4 0 5 0 4 1 5 0 4 0 5 0 4 0 5 0 4 0 5 0 4 0 5 0 4 0 5 0 5 0 4 0 5-1 4 0 5 0 4-1 5 0 4-1 4 0 5-1 4 0 5-1 4-1 4 0 5-1 4-1 4-1 5 0 4-1 4-1 4-1 4-1 4-1 5-1 4-1 4-2 4-1 4-1 3-1 4-1 4-2 4-1 4-1 3-2 4-1M860 676l4 1 3 1 4 2 4 1 4 1 4 1 4 2 4 1 4 1 4 1 4 1 4 1 4 1 4 1 4 1 5 1 4 0 4 1 4 1 5 1 4 0 4 1 5 1 4 0 5 1 4 0 4 1 5 0 4 1 5 0 4 0 5 1 4 0 5 0 4 0 5 1 4 0 5 0 4 0 5 0 4 0 5 0 4 0 5-1 4 0 5 0 4 0 5-1 4 0 5 0 4-1 5 0 4-1 5 0 4-1 4 0 5-1 4-1 4 0 5-1 4-1 4-1 4 0 5-1 4-1 4-1 4-1 4-1 4-1 4-1 4-1 4-2 4-1 4-1 4-1 4-1 4-2 3-1 4-2M860 682l4 2 4 1 3 1 4 1 4 2 4 1 4 1 4 1 4 1 4 1 4 1 4 1 4 1 5 1 4 1 4 0 4 1 4 1 5 1 4 1 4 0 5 1 4 0 4 1 5 0 4 1 5 0 4 1 4 0 5 1 4 0 5 0 4 0 5 1 4 0 5 0 4 0 5 0 4 0 5 0 4 0 5 0 4 0 5 0 4 0 5-1 4 0 5 0 4 0 5-1 4 0 4-1 5 0 4-1 5 0 4-1 4 0 5-1 4-1 4 0 5-1 4-1 4-1 4 0 5-1 4-1 4-1 4-1 4-1 4-1 4-1 4-1 4-1 4-2 4-1 4-1 3-1 4-2 4-1" clip-path="url(#h11)" fill="none" stroke="#7a8a8a" stroke-width="1.2" opacity="0.6" />
<path d="M874.5 558l0.2 0.9 0.3 1.2 0.4 1.5 0.5 1.6 0.5 1.6 0.5 1.7 0.6 1.6 0.6 1.7 0.6 1.7 0.7 1.9 0.9 1.9 1 2.1 1.2 2.3 1.2 2.6 1.4 2.8 1.5 2.7 1.6 2.6 1.8 2.3 1.9 2.1 2 2 2.1 1.8 2.3 1.8 2.3 1.6 2.5 1.6 2.6 1.5 2.7 1.3 2.9 1.3 2.9 1.2 3.1 1.1 3.2 1.2 3.4 1.2 3.5 1.1 3.7 1.1 3.8 1.1 3.7 1.1 3.7 1 3.6 1 3.7 0.9 3.6 0.9 3.6 0.8 3.7 0.9 3.6 0.9 3.6 0.9 3.7 1 3.6 0.9 3.6 1 3.7 0.9 3.6 0.8 3.7 0.8 3.6 0.8 3.7 0.8 3.7 0.8 3.6 0.6 3.5 0.5 3.6 0.4 3.8 0.2 3.7 0.2 3.5 0.1 2.8 0 2.1 0.1 2.2-0.1 2.8 0 3.5-0.1 3.7-0.2 3.8-0.2 3.6-0.4 3.5-0.5 3.6-0.6 3.7-0.8 3.6-0.8 3.7-0.8 3.7-0.8 3.6-0.8 3.7-0.9 3.6-1 3.6-0.9 3.7-1 3.6-0.9 3.6-0.9 3.7-0.9 3.6-0.8 3.6-0.9 3.7-0.9 3.6-1 3.7-1 3.7-1.1 3.8-1.1 3.7-1.1 3.5-1.1 3.4-1.2 3.2-1.2 3.1-1.1 2.9-1.2 2.9-1.3 2.7-1.3 2.6-1.5 2.5-1.6 2.3-1.6 2.3-1.8 2.1-1.8 2-2 1.9-2.1 1.8-2.3 1.6-2.6 1.5-2.7 1.4-2.8 1.2-2.6 1.2-2.3 1-2.1 0.9-1.9 0.7-1.9 0.6-1.7 0.6-1.7 0.6-1.6 0.5-1.7 0.5-1.6 0.5-1.6 0.4-1.5 0.3-1.2 0.2-0.9" fill="none" stroke="#503030" stroke-width="2.5" stroke-linejoin="round" stroke-linecap="round" opacity="0.6"/>
<clipPath id="h12"><path d="M736,556 L736,659 L738.9,659.5 L742.9,660.1 L747.6,660.8 L752.6,661.7 L757.5,662.8 L762,664 L766,665.4 L769.9,667.1 L773.7,668.9 L777.4,670.8 L781.2,672.9 L785,675 L788.8,677.2 L792.7,679.5 L796.6,681.9 L800.4,684.4 L804.2,687.1 L808,690 L811.7,693.1 L815.4,696.4 L819.1,699.8 L822.7,703.4 L826.3,707.1 L830,711 L833.7,715 L837.3,719.2 L841,723.6 L844.7,728 L848.3,732.5 L852,737 L855.7,741.5 L859.3,746.1 L863,750.8 L866.7,755.4 L870.3,760.2 L874,765 L877.6,769.8 L881.2,774.5 L884.8,779.3 L888.4,784.3 L892.2,789.5 L896,795 L900,800.9 L904,807.2 L908.2,813.7 L912.4,820.3 L916.7,827.1 L921,834 L925.7,841.5 L930.9,849.8 L936.1,858.2 L940.9,866.1 L945,872.7 L948,877.5 L951,874 L955.3,869.2 L960.3,863.5 L965.7,857.4 L970.9,851.4 L975.6,846 L979.7,841.2 L983.6,836.5 L987.4,831.9 L991.2,827.4 L995.1,822.7 L999.2,818 L1003.9,812.8 L1009.3,807 L1014.7,801.2 L1019.8,795.9 L1024.1,791.3 L1027.2,788 L1030.4,791.3 L1034.7,795.9 L1039.8,801.2 L1045.2,807 L1050.6,812.8 L1055.3,818 L1059.4,822.7 L1063.3,827.4 L1067.1,831.9 L1070.9,836.5 L1074.8,841.2 L1078.9,846 L1083.6,851.4 L1088.8,857.4 L1094.2,863.5 L1099.2,869.2 L1103.5,874 L1106.5,877.5 L1109.5,872.7 L1113.6,866.1 L1118.4,858.2 L1123.6,849.8 L1128.8,841.5 L1133.5,834 L1137.8,827.1 L1142.1,820.3 L1146.3,813.7 L1150.5,807.2 L1154.5,800.9 L1158.5,795 L1162.3,789.5 L1166.1,784.3 L1169.7,779.3 L1173.3,774.5 L1176.9,769.8 L1180.5,765 L1184.2,760.2 L1187.8,755.4 L1191.5,750.8 L1195.2,746.1 L1198.8,741.5 L1202.5,737 L1206.2,732.5 L1209.8,728 L1213.5,723.6 L1217.2,719.2 L1220.8,715 L1224.5,711 L1228.2,707.1 L1231.8,703.4 L1235.4,699.8 L1239.1,696.4 L1242.8,693.1 L1246.5,690 L1250.3,687.1 L1254.1,684.4 L1257.9,681.9 L1261.8,679.5 L1265.7,677.2 L1269.5,675 L1273.3,672.9 L1277.1,670.8 L1280.8,668.9 L1284.6,667.1 L1288.5,665.4 L1292.5,664 L1297,662.8 L1301.9,661.7 L1306.9,660.8 L1311.6,660.1 L1315.6,659.5 L1318.5,659 L1319,556Z"/></clipPath>
<g clip-path="url(#h12)">
<path d="M736 659l2.9 0.5 4 0.6 4.7 0.7 5 0.9 4.9 1.1 4.5 1.2 4 1.4 3.9 1.7 3.8 1.8 3.7 1.9 3.8 2.1 3.8 2.1 3.8 2.2 3.9 2.3 3.9 2.4 3.8 2.5 3.8 2.7 3.8 2.9 3.7 3.1 3.7 3.3 3.7 3.4 3.6 3.6 3.6 3.7 3.7 3.9 3.7 4 3.6 4.2 3.7 4.4 3.7 4.4 3.6 4.5 3.7 4.5 3.7 4.5 3.6 4.6 3.7 4.7 3.7 4.6 3.6 4.8 3.7 4.8 3.6 4.8 3.6 4.7 3.6 4.8 3.6 5 3.8 5.2 3.8 5.5 4 5.9 4 6.3 4.2 6.5 4.2 6.6 4.3 6.8 4.3 6.9 4.7 7.5 5.2 8.3 5.2 8.4 4.8 7.9 4.1 6.6 3 4.8" fill="none" stroke="#2a1a1a" stroke-width="18" stroke-linejoin="round" stroke-linecap="round" opacity="0.35"/>
<path d="M1318.5 659l-2.9 0.5-4 0.6-4.7 0.7-5 0.9-4.9 1.1-4.5 1.2-4 1.4-3.9 1.7-3.8 1.8-3.7 1.9-3.8 2.1-3.8 2.1-3.8 2.2-3.9 2.3-3.9 2.4-3.8 2.5-3.8 2.7-3.8 2.9-3.7 3.1-3.7 3.3-3.7 3.4-3.6 3.6-3.6 3.7-3.7 3.9-3.7 4-3.6 4.2-3.7 4.4-3.7 4.4-3.6 4.5-3.7 4.5-3.7 4.5-3.6 4.6-3.7 4.7-3.7 4.6-3.6 4.8-3.7 4.8-3.6 4.8-3.6 4.7-3.6 4.8-3.6 5-3.8 5.2-3.8 5.5-4 5.9-4 6.3-4.2 6.5-4.2 6.6-4.3 6.8-4.3 6.9-4.7 7.5-5.2 8.3-5.2 8.4-4.8 7.9-4.1 6.6-3 4.8" fill="none" stroke="#2a1a1a" stroke-width="18" stroke-linejoin="round" stroke-linecap="round" opacity="0.35"/>
<path d="M736 659l2.9 0.5 4 0.6 4.7 0.7 5 0.9 4.9 1.1 4.5 1.2 4 1.4 3.9 1.7 3.8 1.8 3.7 1.9 3.8 2.1 3.8 2.1 3.8 2.2 3.9 2.3 3.9 2.4 3.8 2.5 3.8 2.7 3.8 2.9 3.7 3.1 3.7 3.3 3.7 3.4 3.6 3.6 3.6 3.7 3.7 3.9 3.7 4 3.6 4.2 3.7 4.4 3.7 4.4 3.6 4.5 3.7 4.5 3.7 4.5 3.6 4.6 3.7 4.7 3.7 4.6 3.6 4.8 3.7 4.8 3.6 4.8 3.6 4.7 3.6 4.8 3.6 5 3.8 5.2 3.8 5.5 4 5.9 4 6.3 4.2 6.5 4.2 6.6 4.3 6.8 4.3 6.9 4.7 7.5 5.2 8.3 5.2 8.4 4.8 7.9 4.1 6.6 3 4.8" fill="none" stroke="#3a1010" stroke-width="7" stroke-linejoin="round" stroke-linecap="round" opacity="0.7"/>
<path d="M1318.5 659l-2.9 0.5-4 0.6-4.7 0.7-5 0.9-4.9 1.1-4.5 1.2-4 1.4-3.9 1.7-3.8 1.8-3.7 1.9-3.8 2.1-3.8 2.1-3.8 2.2-3.9 2.3-3.9 2.4-3.8 2.5-3.8 2.7-3.8 2.9-3.7 3.1-3.7 3.3-3.7 3.4-3.6 3.6-3.6 3.7-3.7 3.9-3.7 4-3.6 4.2-3.7 4.4-3.7 4.4-3.6 4.5-3.7 4.5-3.7 4.5-3.6 4.6-3.7 4.7-3.7 4.6-3.6 4.8-3.7 4.8-3.6 4.8-3.6 4.7-3.6 4.8-3.6 5-3.8 5.2-3.8 5.5-4 5.9-4 6.3-4.2 6.5-4.2 6.6-4.3 6.8-4.3 6.9-4.7 7.5-5.2 8.3-5.2 8.4-4.8 7.9-4.1 6.6-3 4.8" fill="none" stroke="#3a1010" stroke-width="7" stroke-linejoin="round" stroke-linecap="round" opacity="0.7"/>
<radialGradient id="gec1" cx="878" cy="566" r="40" gradientUnits="userSpaceOnUse"><stop offset="0" stop-color="#2a1a1a" stop-opacity="0.8"/><stop offset="1" stop-color="#2a1a1a" stop-opacity="0"/></radialGradient>
<radialGradient id="gec2" cx="1176.5" cy="566" r="40" gradientUnits="userSpaceOnUse"><stop offset="0" stop-color="#2a1a1a" stop-opacity="0.8"/><stop offset="1" stop-color="#2a1a1a" stop-opacity="0"/></radialGradient>
<rect x="830" y="560" width="100" height="60" fill="url(#gec1)"/>
<rect x="1126" y="560" width="100" height="60" fill="url(#gec2)"/>
</g>
<path d="M948 877.5l3-3.5 4.3-4.8 5-5.7 5.4-6.1 5.2-6 4.7-5.4 4.1-4.8 3.9-4.7 3.8-4.6 3.8-4.5 3.9-4.7 4.1-4.7 4.5-4.9 4.8-5.1 5-5.2 4.9-5.1 4.6-5 4.2-4.7 3.8-4.4 3.3-4 3.1-4 3-3.9 3.1-4.2 3.3-4.5 3.5-4.9 3.6-5.2 3.7-5.4 3.6-5.5 3.7-5.5 3.7-5.5 3.6-5.4 3.7-5.5 3.6-5.5 3.6-5.6 3.7-5.5 3.6-5.5 3.6-5.5 3.7-5.5 3.6-5.6 3.6-5.5 3.7-5.5 3.6-5.4 3.6-5.4 3.7-5.4 3.6-5.4 3.6-5.3 3.7-5.3 3.6-5.2 3.7-5.1 3.6-5 3.7-5 3.7-5 3.6-4.9 3.5-5 3.5-5.2 3.6-5.4 3.5-5.3 3.4-5.2 3-4.8 2.6-4.1 2.2-3.5 1.8-3.2 1.5-2.7 1.3-2.3 1-1.8 0.8-1.5" fill="none" stroke="#3a1a1a" stroke-width="2.5" stroke-linejoin="round" stroke-linecap="round" opacity="0.7"/>
<path d="M1106.5 877.5l-3-3.5-4.3-4.8-5-5.7-5.4-6.1-5.2-6-4.7-5.4-4.1-4.8-3.9-4.7-3.8-4.6-3.8-4.5-3.9-4.7-4.1-4.7-4.5-4.9-4.8-5.1-5-5.2-4.9-5.1-4.6-5-4.3-4.7-3.7-4.4-3.3-4-3.1-4-3-3.9-3.1-4.2-3.3-4.5-3.5-4.9-3.6-5.2-3.7-5.4-3.7-5.5-3.6-5.5-3.7-5.5-3.6-5.4-3.7-5.5-3.6-5.5-3.6-5.6-3.7-5.5-3.6-5.5-3.6-5.5-3.7-5.5-3.6-5.6-3.6-5.5-3.7-5.5-3.6-5.4-3.6-5.4-3.7-5.4-3.6-5.4-3.6-5.3-3.7-5.3-3.6-5.2-3.7-5.1-3.6-5-3.7-5-3.7-5-3.6-4.9-3.5-5-3.5-5.2-3.6-5.4-3.5-5.3-3.4-5.2-3-4.8-2.6-4.1-2.2-3.5-1.8-3.2-1.5-2.7-1.3-2.3-1-1.8-0.8-1.5" fill="none" stroke="#3a1a1a" stroke-width="2.5" stroke-linejoin="round" stroke-linecap="round" opacity="0.7"/>
<linearGradient id="gel" x1="738" x2="1316.5" y1="0" y2="0" gradientUnits="userSpaceOnUse"><stop offset="0" stop-color="#5e3030"/><stop offset="0.3" stop-color="#6e5050"/><stop offset="0.5" stop-color="#5a3c3c"/><stop offset="0.7" stop-color="#6e5050"/><stop offset="1" stop-color="#5e3030"/></linearGradient>
<path d="M736 1050l0-45 3.3-0.9 4.5-1.3 5.3-1.5 5.8-1.6 5.7-1.7 5.4-1.7 5-1.6 5.1-1.7 5-1.6 5-1.8 5.1-1.8 5-2 5-2.1 5-2.1 5.1-2.2 5-2.3 5-2.4 5-2.5 5-2.5 5-2.6 5.1-2.7 5-2.8 5-2.9 5-3 5-3.2 5-3.2 5-3.4 5-3.5 5-3.8 5-4 5-4.3 5-4.7 5-4.8 5-5 5-5 5.1-4.8 5.5-5.1 6.1-5.5 6-5.4 5.7-5.1 4.8-4.3 3.4-3.1 1.8 2.1 2.5 2.8 3 3.4 3.3 3.8 3.4 4 3.5 4.1 3.6 4.2 3.8 4.5 4 4.7 4 4.9 4.1 5 4 5 4 5.3 4.2 5.5 4.2 5.7 4 5.6 3.8 5.2 3.4 4.7 3.1 4.3 3 4 2.7 3.7 2.4 3.3 2 2.7 1.4 2 1.5-2 2-2.7 2.4-3.3 2.7-3.7 3-4 3.1-4.3 3.4-4.7 3.8-5.2 4-5.6 4.2-5.7 4.2-5.5 4-5.3 4-5 4.1-5 4-4.9 4-4.7 3.8-4.5 3.6-4.2 3.5-4.1 3.4-4 3.3-3.8 3-3.4 2.5-2.8 1.8-2.1 3.4 3.1 4.8 4.3 5.7 5.1 6 5.4 6.1 5.5 5.5 5.1 5.1 4.8 5 5 5 5 5 4.8 5 4.7 5 4.3 5 4 5 3.8 5 3.5 5 3.4 5 3.2 5 3.2 5 3 5 2.9 5 2.8 5.1 2.7 5 2.6 5 2.5 5 2.5 5 2.4 5 2.3 5.1 2.2 5 2.1 5 2.1 5 2 5.1 1.8 5 1.8 5 1.6 5.1 1.7 5 1.6 5.4 1.7 5.7 1.7 5.8 1.6 5.3 1.5 4.5 1.3 3.3 0.9 0.5 45z" fill="url(#gel)" />
<path d="M826.3 972.2l3.3-1.7 4.5-2.4 5.4-2.8 5.8-3.1 5.7-3.3 5.4-3.2 5-3.2 5-3.2 5-3.4 5-3.5 5-3.8 5-4 5-4.3 5-4.7 5-4.8 5-5 5-5 5.1-4.8 5.5-5.1 6.1-5.5 6-5.4 5.7-5.1 4.8-4.3 3.4-3.1 1.8 2.1 2.5 2.8 3 3.4 3.3 3.8 3.4 4 3.5 4.1 3.6 4.2 3.8 4.5 4 4.7 4 4.9 4.1 5 4 5 4 5.3 4.2 5.5 4.2 5.7 4 5.6 3.8 5.2 3.4 4.7 3.1 4.3 3 4 2.7 3.7 2.4 3.3 2 2.7 1.4 2-0.8 0.6-1.2 0.8-1.4 1-1.6 1.1-1.7 1.3-1.7 1.4-1.8 1.7-1.8 1.9-2 2.1-2 2.1-2.2 2.1-2.2 1.9-2.3 1.8-2.5 1.8-2.5 1.7-2.6 1.6-2.6 1.6-2.5 1.5-2.5 1.4-2.5 1.3-2.6 1.3-2.5 1.1-2.5 1.1-2.5 1.1-2.5 1-2.5 0.9-2.5 0.9-2.5 0.8-2.5 0.8-2.5 0.6-2.5 0.6-2.5 0.4-2.5 0.4-2.6 0.4-2.5 0.2-2.5 0.2-2.5 0.1-2.5 0-2.5 0-2.5-0.2-2.5-0.2-2.5-0.2-2.5-0.3-2.5-0.3-2.5-0.4-2.6-0.4-2.5-0.6-2.5-0.6-2.5-0.7-2.5-0.8-2.6-0.9-2.5-1-2.5-1-2.5-1-2.5-1-2.5-1.1-2.5-1.1-2.5-1.1-2.5-1.2-2.5-1.2-2.5-1.2-2.5-1.3-2.5-1.2-2.5-1.4-2.5-1.3-2.5-1.4-2.5-1.5-2.5-1.5-2.5-1.6-2.5-1.5-2.5-1.6-2.5-1.5-2.5-1.4-2.5-1.5-2.6-1.3-2.5-1.4-2.5-1.4-2.5-1.3-2.7-1.4-2.9-1.5-2.8-1.5-2.7-1.4-2.3-1.2-1.6-0.8z" fill="#c4c8c8" />
<path d="M1228.2 972.2l-3.3-1.7-4.5-2.4-5.4-2.8-5.8-3.1-5.7-3.3-5.4-3.2-5-3.2-5-3.2-5-3.4-5-3.5-5-3.8-5-4-5-4.3-5-4.7-5-4.8-5-5-5-5-5.1-4.8-5.5-5.1-6.1-5.5-6-5.4-5.7-5.1-4.8-4.3-3.4-3.1-1.8 2.1-2.5 2.8-3 3.4-3.3 3.8-3.4 4-3.5 4.1-3.6 4.2-3.8 4.5-4 4.7-4 4.9-4.1 5-4 5-4 5.3-4.2 5.5-4.2 5.7-4 5.6-3.8 5.2-3.4 4.7-3.1 4.3-3 4-2.7 3.7-2.4 3.3-2 2.7-1.5 2 0.9 0.6 1.2 0.8 1.4 1 1.6 1.1 1.7 1.3 1.7 1.4 1.8 1.7 1.8 1.9 2 2.1 2 2.1 2.2 2.1 2.2 1.9 2.3 1.8 2.5 1.8 2.5 1.7 2.6 1.6 2.6 1.6 2.5 1.5 2.5 1.4 2.5 1.3 2.5 1.3 2.6 1.1 2.5 1.1 2.5 1.1 2.5 1 2.5 0.9 2.5 0.9 2.5 0.8 2.5 0.8 2.5 0.6 2.5 0.6 2.5 0.4 2.6 0.4 2.5 0.4 2.5 0.2 2.5 0.2 2.5 0.1 2.5 0 2.5 0 2.5-0.2 2.5-0.2 2.5-0.2 2.5-0.3 2.5-0.3 2.5-0.4 2.6-0.4 2.5-0.6 2.5-0.6 2.5-0.7 2.5-0.8 2.6-0.9 2.5-1 2.5-1 2.5-1 2.5-1 2.5-1.1 2.5-1.1 2.5-1.1 2.5-1.2 2.5-1.2 2.5-1.2 2.5-1.3 2.5-1.2 2.5-1.4 2.5-1.3 2.5-1.4 2.5-1.5 2.5-1.5 2.5-1.6 2.5-1.5 2.5-1.6 2.5-1.5 2.5-1.4 2.5-1.5 2.5-1.3 2.6-1.4 2.5-1.4 2.5-1.3 2.7-1.4 2.9-1.5 2.8-1.5 2.7-1.4 2.3-1.2 1.6-0.8z" fill="#c4c8c8" />
<clipPath id="h13"><path d="M826.3 972.2l3.3-1.7 4.5-2.4 5.4-2.8 5.8-3.1 5.7-3.3 5.4-3.2 5-3.2 5-3.2 5-3.4 5-3.5 5-3.8 5-4 5-4.3 5-4.7 5-4.8 5-5 5-5 5.1-4.8 5.5-5.1 6.1-5.5 6-5.4 5.7-5.1 4.8-4.3 3.4-3.1 1.8 2.1 2.5 2.8 3 3.4 3.3 3.8 3.4 4 3.5 4.1 3.6 4.2 3.8 4.5 4 4.7 4 4.9 4.1 5 4 5 4 5.3 4.2 5.5 4.2 5.7 4 5.6 3.8 5.2 3.4 4.7 3.1 4.3 3 4 2.7 3.7 2.4 3.3 2 2.7 1.4 2-0.8 0.6-1.2 0.8-1.4 1-1.6 1.1-1.7 1.3-1.7 1.4-1.8 1.7-1.8 1.9-2 2.1-2 2.1-2.2 2.1-2.2 1.9-2.3 1.8-2.5 1.8-2.5 1.7-2.6 1.6-2.6 1.6-2.5 1.5-2.5 1.4-2.5 1.3-2.6 1.3-2.5 1.1-2.5 1.1-2.5 1.1-2.5 1-2.5 0.9-2.5 0.9-2.5 0.8-2.5 0.8-2.5 0.6-2.5 0.6-2.5 0.4-2.5 0.4-2.6 0.4-2.5 0.2-2.5 0.2-2.5 0.1-2.5 0-2.5 0-2.5-0.2-2.5-0.2-2.5-0.2-2.5-0.3-2.5-0.3-2.5-0.4-2.6-0.4-2.5-0.6-2.5-0.6-2.5-0.7-2.5-0.8-2.6-0.9-2.5-1-2.5-1-2.5-1-2.5-1-2.5-1.1-2.5-1.1-2.5-1.1-2.5-1.2-2.5-1.2-2.5-1.2-2.5-1.3-2.5-1.2-2.5-1.4-2.5-1.3-2.5-1.4-2.5-1.5-2.5-1.5-2.5-1.6-2.5-1.5-2.5-1.6-2.5-1.5-2.5-1.4-2.5-1.5-2.6-1.3-2.5-1.4-2.5-1.4-2.5-1.3-2.7-1.4-2.9-1.5-2.8-1.5-2.7-1.4-2.3-1.2-1.6-0.8z"/></clipPath>
<path d="M800 1033l3-3 2-3 3-2 3-3 2-3 3-3 3-3 3-3 2-2 3-3 3-3 2-3 3-3 3-3 2-2 3-3 3-3 3-3 2-3 3-3 3-2 2-3 3-3 3-3 2-3 3-2 3-3 3-3 2-3 3-3 3-3 2-2 3-3 3-3 2-3 3-3 3-3 2-2 3-3 3-3 3-3 2-3 3-2 3-3 2-3 3-3 3-2 2-3 3-3 3-2 3-3 2-2 3-2 3-2 2 0 3 0 3 2 2 2 3 3 3 2 2 3 3 3 3 2 3 3 2 3 3 3 3 2 2 3 3 3 3 3 2 3 3 2 3 3 3 3 2 3 3 3 3 2 2 3 3 3 3 3 2 3 3 3 3 2 3 3 2 3 3 3 3 3 2 2 3 3M800 1033l3-2 2-3 3-3 3-3 2-3 3-3 3-2 3-3 2-3 3-3 3-3 2-3 3-2 3-3 2-3 3-3 3-3 3-2 2-3 3-3 3-3 2-3 3-2 3-3 2-3 3-3 3-3 3-3 2-2 3-3 3-3 2-3 3-2 3-3 2-3 3-3 3-3 2-2 3-3 3-3 3-3 2-2 3-3 3-3 2-2 3-3 3-2 2-3 3-2 3-3 3-2 2-1 3-2 3-1 2 0 3 0 3 1 2 2 3 2 3 2 2 2 3 3 3 2 3 3 2 2 3 3 3 3 2 2 3 3 3 3 2 3 3 2 3 3 3 3 2 3 3 2 3 3 2 3 3 3 3 3 2 2 3 3 3 3 3 3 2 3 3 2 3 3 2 3 3 3M800 1034l3-3 2-3 3-3 3-2 2-3 3-3 3-3 3-3 2-2 3-3 3-3 2-3 3-3 3-2 2-3 3-3 3-3 3-3 2-2 3-3 3-3 2-3 3-3 3-2 2-3 3-3 3-3 3-3 2-2 3-3 3-3 2-3 3-2 3-3 2-3 3-2 3-3 2-3 3-2 3-3 3-3 2-2 3-3 3-2 2-3 3-2 3-2 2-3 3-2 3-2 3-1 2-2 3-1 3 0 2 0 3 0 3 1 2 1 3 1 3 2 2 2 3 2 3 2 3 2 2 3 3 2 3 3 2 2 3 3 3 3 2 2 3 3 3 3 3 2 2 3 3 3 3 2 2 3 3 3 3 3 2 2 3 3 3 3 3 3 2 2 3 3 3 3 2 3 3 3M800 1035l3-3 2-3 3-3 3-3 2-2 3-3 3-3 3-3 2-3 3-2 3-3 2-3 3-3 3-3 2-2 3-3 3-3 3-3 2-2 3-3 3-3 2-3 3-2 3-3 2-3 3-3 3-2 3-3 2-3 3-3 3-2 2-3 3-3 3-2 2-3 3-2 3-3 2-3 3-2 3-3 3-2 2-3 3-2 3-2 2-3 3-2 3-2 2-2 3-2 3-1 3-1 2-2 3 0 3-1 2 0 3 0 3 1 2 1 3 1 3 1 2 2 3 2 3 2 3 2 2 2 3 2 3 3 2 2 3 2 3 3 2 2 3 3 3 3 3 2 2 3 3 2 3 3 2 3 3 2 3 3 2 3 3 3 3 2 3 3 2 3 3 2 3 3 2 3 3 3M800 1035l3-2 2-3 3-3 3-3 2-3 3-2 3-3 3-3 2-3 3-2 3-3 2-3 3-3 3-2 2-3 3-3 3-3 3-2 2-3 3-3 3-3 2-2 3-3 3-3 2-2 3-3 3-3 3-2 2-3 3-3 3-2 2-3 3-3 3-2 2-3 3-2 3-3 2-2 3-3 3-2 3-2 2-3 3-2 3-2 2-2 3-2 3-2 2-1 3-2 3-1 3-1 2-1 3-1 3 0 2 0 3 0 3 0 2 1 3 1 3 1 2 1 3 2 3 2 3 2 2 2 3 2 3 2 2 2 3 2 3 3 2 2 3 2 3 3 3 2 2 3 3 3 3 2 2 3 3 2 3 3 2 3 3 2 3 3 3 3 2 2 3 3 3 3 2 2 3 3M800 1036l3-2 2-3 3-3 3-3 2-2 3-3 3-3 3-3 2-2 3-3 3-3 2-3 3-2 3-3 2-3 3-2 3-3 3-3 2-3 3-2 3-3 2-3 3-2 3-3 2-2 3-3 3-3 3-2 2-3 3-2 3-3 2-3 3-2 3-3 2-2 3-2 3-3 2-2 3-2 3-3 3-2 2-2 3-2 3-2 2-2 3-2 3-1 2-2 3-1 3-1 3-1 2-1 3-1 3 0 2 0 3 0 3 1 2 0 3 1 3 1 2 1 3 2 3 1 3 2 2 2 3 1 3 2 2 3 3 2 3 2 2 2 3 2 3 3 3 2 2 3 3 2 3 3 2 2 3 3 3 2 2 3 3 2 3 3 3 2 2 3 3 3 3 2 2 3 3 3M800 1038l3-3 2-3 3-3 3-2 2-3 3-3 3-2 3-3 2-3 3-3 3-2 2-3 3-3 3-2 2-3 3-3 3-2 3-3 2-3 3-2 3-3 2-3 3-2 3-3 2-2 3-3 3-2 3-3 2-2 3-3 3-2 2-3 3-2 3-3 2-2 3-2 3-3 2-2 3-2 3-2 3-2 2-2 3-2 3-2 2-1 3-2 3-2 2-1 3-1 3-1 3-1 2-1 3 0 3 0 2 0 3 0 3 0 2 0 3 1 3 1 2 1 3 1 3 2 3 1 2 2 3 2 3 1 2 2 3 2 3 2 2 3 3 2 3 2 3 2 2 3 3 2 3 2 2 3 3 2 3 3 2 2 3 3 3 2 3 3 2 2 3 3 3 2 2 3 3 3M800 1039l3-3 2-2 3-3 3-3 2-2 3-3 3-3 3-2 2-3 3-3 3-3 2-2 3-3 3-2 2-3 3-3 3-2 3-3 2-3 3-2 3-3 2-2 3-3 3-2 2-3 3-2 3-3 3-2 2-3 3-2 3-3 2-2 3-2 3-2 2-3 3-2 3-2 2-2 3-2 3-2 3-2 2-2 3-2 3-1 2-2 3-1 3-2 2-1 3-1 3-1 3-1 2 0 3-1 3 0 2 0 3 0 3 0 2 1 3 1 3 0 2 1 3 1 3 2 3 1 2 1 3 2 3 2 2 1 3 2 3 2 2 2 3 2 3 2 3 3 2 2 3 2 3 2 2 3 3 2 3 2 2 3 3 2 3 3 3 2 2 3 3 2 3 3 2 2 3 3M800 1041l3-3 2-3 3-2 3-3 2-3 3-2 3-3 3-3 2-2 3-3 3-3 2-2 3-3 3-2 2-3 3-3 3-2 3-3 2-2 3-3 3-2 2-3 3-2 3-3 2-2 3-3 3-2 3-2 2-3 3-2 3-2 2-3 3-2 3-2 2-2 3-2 3-2 2-2 3-2 3-2 3-2 2-2 3-1 3-2 2-1 3-2 3-1 2-1 3-1 3-1 3 0 2-1 3 0 3 0 2 0 3 0 3 0 2 0 3 1 3 1 2 0 3 1 3 2 3 1 2 1 3 2 3 1 2 2 3 2 3 1 2 2 3 2 3 2 3 2 2 2 3 2 3 3 2 2 3 2 3 2 2 3 3 2 3 3 3 2 2 2 3 3 3 2 2 3 3 2M800 1043l3-3 2-3 3-2 3-3 2-3 3-2 3-3 3-3 2-2 3-3 3-2 2-3 3-3 3-2 2-3 3-2 3-3 3-2 2-3 3-2 3-3 2-2 3-3 3-2 2-2 3-3 3-2 3-2 2-3 3-2 3-2 2-2 3-2 3-2 2-2 3-2 3-2 2-2 3-2 3-2 3-1 2-2 3-2 3-1 2-1 3-2 3-1 2-1 3-1 3 0 3-1 2 0 3-1 3 0 2 0 3 0 3 0 2 1 3 0 3 1 2 1 3 1 3 1 3 1 2 1 3 1 3 2 2 1 3 2 3 2 2 1 3 2 3 2 3 2 2 2 3 2 3 2 2 2 3 2 3 3 2 2 3 2 3 3 3 2 2 2 3 3 3 2 2 2 3 3M800 1044l3-2 2-3 3-2 3-3 2-3 3-2 3-3 3-2 2-3 3-3 3-2 2-3 3-2 3-3 2-2 3-3 3-2 3-3 2-2 3-2 3-3 2-2 3-3 3-2 2-2 3-2 3-3 3-2 2-2 3-2 3-2 2-3 3-2 3-2 2-1 3-2 3-2 2-2 3-2 3-1 3-2 2-1 3-2 3-1 2-1 3-2 3-1 2 0 3-1 3-1 3-1 2 0 3 0 3 0 2 0 3 0 3 0 2 0 3 1 3 0 2 1 3 1 3 1 3 1 2 1 3 1 3 1 2 2 3 1 3 2 2 2 3 1 3 2 3 2 2 2 3 2 3 2 2 2 3 2 3 2 2 2 3 3 3 2 3 2 2 2 3 3 3 2 2 2 3 3M800 1047l3-3 2-3 3-2 3-3 2-2 3-3 3-2 3-3 2-3 3-2 3-3 2-2 3-3 3-2 2-2 3-3 3-2 3-3 2-2 3-2 3-3 2-2 3-2 3-3 2-2 3-2 3-2 3-2 2-3 3-2 3-2 2-2 3-2 3-2 2-1 3-2 3-2 2-2 3-1 3-2 3-1 2-2 3-1 3-1 2-1 3-1 3-1 2-1 3-1 3-1 3 0 2-1 3 0 3 0 2 0 3 0 3 0 2 1 3 0 3 1 2 0 3 1 3 1 3 1 2 1 3 1 3 1 2 2 3 1 3 2 2 1 3 2 3 1 3 2 2 2 3 2 3 2 2 2 3 2 3 2 2 2 3 2 3 2 3 2 2 3 3 2 3 2 2 2 3 3M800 1049l3-3 2-2 3-3 3-2 2-3 3-2 3-3 3-2 2-3 3-2 3-3 2-2 3-3 3-2 2-3 3-2 3-2 3-3 2-2 3-2 3-3 2-2 3-2 3-2 2-2 3-3 3-2 3-2 2-2 3-2 3-2 2-2 3-2 3-1 2-2 3-2 3-1 2-2 3-2 3-1 3-1 2-2 3-1 3-1 2-1 3-1 3-1 2-1 3-1 3 0 3-1 2 0 3 0 3 0 2 0 3 0 3 0 2 0 3 0 3 1 2 1 3 0 3 1 3 1 2 1 3 1 3 1 2 2 3 1 3 1 2 2 3 1 3 2 3 2 2 1 3 2 3 2 2 2 3 2 3 2 2 2 3 2 3 2 3 2 2 2 3 2 3 2 2 3 3 2M800 1051l3-2 2-3 3-2 3-3 2-2 3-3 3-2 3-3 2-2 3-3 3-2 2-2 3-3 3-2 2-3 3-2 3-2 3-2 2-3 3-2 3-2 2-2 3-3 3-2 2-2 3-2 3-2 3-2 2-2 3-2 3-2 2-1 3-2 3-2 2-2 3-1 3-2 2-1 3-2 3-1 3-2 2-1 3-1 3-1 2-1 3-1 3-1 2-1 3 0 3-1 3 0 2-1 3 0 3 0 2 0 3 0 3 0 2 1 3 0 3 0 2 1 3 1 3 0 3 1 2 1 3 1 3 1 2 1 3 2 3 1 2 1 3 2 3 1 3 2 2 2 3 1 3 2 2 2 3 2 3 2 2 2 3 2 3 2 3 2 2 2 3 2 3 2 2 2 3 2M800 1054l3-3 2-2 3-3 3-2 2-3 3-2 3-3 3-2 2-2 3-3 3-2 2-2 3-3 3-2 2-2 3-3 3-2 3-2 2-2 3-2 3-3 2-2 3-2 3-2 2-2 3-2 3-2 3-2 2-2 3-2 3-1 2-2 3-2 3-2 2-1 3-2 3-1 2-2 3-1 3-1 3-2 2-1 3-1 3-1 2-1 3-1 3-1 2 0 3-1 3 0 3-1 2 0 3 0 3 0 2 0 3 0 3 0 2 0 3 0 3 1 2 0 3 1 3 1 3 0 2 1 3 1 3 1 2 1 3 2 3 1 2 1 3 2 3 1 3 2 2 1 3 2 3 1 2 2 3 2 3 2 2 2 3 2 3 2 3 1 2 2 3 3 3 2 2 2 3 2M800 1056l3-2 2-3 3-2 3-2 2-3 3-2 3-3 3-2 2-2 3-3 3-2 2-2 3-3 3-2 2-2 3-2 3-2 3-3 2-2 3-2 3-2 2-2 3-2 3-2 2-2 3-2 3-2 3-2 2-2 3-1 3-2 2-2 3-1 3-2 2-2 3-1 3-2 2-1 3-1 3-1 3-2 2-1 3-1 3-1 2-1 3 0 3-1 2-1 3 0 3-1 3 0 2-1 3 0 3 0 2 0 3 0 3 0 2 0 3 1 3 0 2 1 3 0 3 1 3 1 2 1 3 0 3 1 2 1 3 2 3 1 2 1 3 1 3 2 3 1 2 2 3 1 3 2 2 2 3 1 3 2 2 2 3 2 3 2 3 1 2 2 3 2 3 2 2 2 3 3M800 1059l3-2 2-3 3-2 3-2 2-3 3-2 3-3 3-2 2-2 3-2 3-3 2-2 3-2 3-2 2-3 3-2 3-2 3-2 2-2 3-2 3-2 2-2 3-2 3-2 2-2 3-2 3-2 3-2 2-1 3-2 3-2 2-1 3-2 3-1 2-2 3-1 3-2 2-1 3-1 3-1 3-2 2-1 3-1 3-1 2 0 3-1 3-1 2-1 3 0 3 0 3-1 2 0 3 0 3 0 2 0 3 0 3 0 2 0 3 0 3 1 2 0 3 1 3 0 3 1 2 1 3 1 3 1 2 1 3 1 3 1 2 1 3 1 3 2 3 1 2 1 3 2 3 1 2 2 3 2 3 1 2 2 3 2 3 2 3 2 2 1 3 2 3 2 2 2 3 2M800 1062l3-2 2-3 3-2 3-2 2-3 3-2 3-2 3-3 2-2 3-2 3-2 2-3 3-2 3-2 2-2 3-2 3-2 3-2 2-2 3-2 3-2 2-2 3-2 3-2 2-2 3-2 3-1 3-2 2-2 3-2 3-1 2-2 3-1 3-2 2-1 3-2 3-1 2-1 3-1 3-1 3-2 2-1 3 0 3-1 2-1 3-1 3-1 2 0 3-1 3 0 3 0 2-1 3 0 3 0 2 0 3 0 3 0 2 0 3 1 3 0 2 0 3 1 3 1 3 0 2 1 3 1 3 1 2 1 3 1 3 1 2 1 3 1 3 1 3 2 2 1 3 2 3 1 2 2 3 1 3 2 2 1 3 2 3 2 3 2 2 2 3 1 3 2 2 2 3 2M800 1065l3-2 2-3 3-2 3-2 2-3 3-2 3-2 3-2 2-2 3-3 3-2 2-2 3-2 3-2 2-2 3-2 3-2 3-2 2-2 3-2 3-2 2-2 3-2 3-2 2-2 3-1 3-2 3-2 2-1 3-2 3-2 2-1 3-2 3-1 2-1 3-2 3-1 2-1 3-1 3-1 3-1 2-1 3-1 3-1 2-1 3-1 3 0 2-1 3 0 3-1 3 0 2 0 3 0 3 0 2 0 3 0 3 0 2 0 3 0 3 0 2 1 3 0 3 1 3 1 2 0 3 1 3 1 2 1 3 1 3 1 2 1 3 1 3 1 3 2 2 1 3 1 3 2 2 1 3 2 3 1 2 2 3 2 3 1 3 2 2 2 3 2 3 1 2 2 3 2M800 1068l3-2 2-2 3-3 3-2 2-2 3-2 3-3 3-2 2-2 3-2 3-2 2-2 3-2 3-2 2-3 3-2 3-1 3-2 2-2 3-2 3-2 2-2 3-2 3-2 2-1 3-2 3-2 3-1 2-2 3-1 3-2 2-1 3-2 3-1 2-1 3-2 3-1 2-1 3-1 3-1 3-1 2-1 3-1 3-1 2-1 3 0 3-1 2 0 3-1 3 0 3 0 2-1 3 0 3 0 2 0 3 0 3 0 2 0 3 1 3 0 2 0 3 1 3 0 3 1 2 1 3 0 3 1 2 1 3 1 3 1 2 1 3 1 3 1 3 2 2 1 3 1 3 2 2 1 3 1 3 2 2 1 3 2 3 2 3 1 2 2 3 2 3 2 2 1 3 2M800 1071l3-2 2-2 3-2 3-3 2-2 3-2 3-2 3-2 2-2 3-2 3-3 2-2 3-2 3-2 2-2 3-2 3-2 3-1 2-2 3-2 3-2 2-2 3-2 3-1 2-2 3-2 3-1 3-2 2-1 3-2 3-1 2-2 3-1 3-1 2-2 3-1 3-1 2-1 3-1 3-1 3-1 2-1 3-1 3 0 2-1 3-1 3 0 2-1 3 0 3-1 3 0 2 0 3 0 3 0 2 0 3 0 3 0 2 0 3 0 3 0 2 1 3 0 3 1 3 0 2 1 3 1 3 0 2 1 3 1 3 1 2 1 3 1 3 1 3 2 2 1 3 1 3 1 2 2 3 1 3 2 2 1 3 2 3 1 3 2 2 1 3 2 3 2 2 2 3 1M800 1075l3-2 2-3 3-2 3-2 2-2 3-2 3-2 3-3 2-2 3-2 3-2 2-2 3-2 3-2 2-2 3-2 3-1 3-2 2-2 3-2 3-2 2-1 3-2 3-2 2-1 3-2 3-2 3-1 2-2 3-1 3-1 2-2 3-1 3-1 2-2 3-1 3-1 2-1 3-1 3-1 3-1 2-1 3 0 3-1 2-1 3 0 3-1 2 0 3-1 3 0 3-1 2 0 3 0 3 0 2 0 3 0 3 0 2 0 3 1 3 0 2 0 3 1 3 0 3 1 2 0 3 1 3 1 2 1 3 0 3 1 2 1 3 1 3 1 3 2 2 1 3 1 3 1 2 2 3 1 3 1 2 2 3 1 3 2 3 1 2 2 3 2 3 1 2 2 3 2M800 1078l3-2 2-2 3-2 3-2 2-3 3-2 3-2 3-2 2-2 3-2 3-2 2-2 3-2 3-2 2-2 3-1 3-2 3-2 2-2 3-2 3-1 2-2 3-2 3-1 2-2 3-1 3-2 3-1 2-2 3-1 3-2 2-1 3-1 3-1 2-2 3-1 3-1 2-1 3-1 3-1 3-1 2 0 3-1 3-1 2 0 3-1 3-1 2 0 3 0 3-1 3 0 2 0 3 0 3 0 2 0 3 0 3 0 2 0 3 0 3 0 2 1 3 0 3 1 3 0 2 1 3 0 3 1 2 1 3 1 3 1 2 0 3 1 3 1 3 2 2 1 3 1 3 1 2 1 3 2 3 1 2 1 3 2 3 1 3 2 2 1 3 2 3 2 2 1 3 2M800 1082l3-2 2-3 3-2 3-2 2-2 3-2 3-2 3-2 2-2 3-2 3-2 2-2 3-2 3-2 2-1 3-2 3-2 3-2 2-2 3-1 3-2 2-2 3-1 3-2 2-1 3-2 3-1 3-2 2-1 3-1 3-2 2-1 3-1 3-1 2-2 3-1 3-1 2-1 3-1 3 0 3-1 2-1 3-1 3 0 2-1 3-1 3 0 2-1 3 0 3 0 3-1 2 0 3 0 3 0 2 0 3 0 3 0 2 0 3 1 3 0 2 0 3 1 3 0 3 0 2 1 3 1 3 0 2 1 3 1 3 1 2 1 3 1 3 1 3 1 2 1 3 1 3 1 2 1 3 2 3 1 2 1 3 2 3 1 3 2 2 1 3 2 3 1 2 2 3 1M800 1085l3-2 2-2 3-2 3-2 2-2 3-2 3-2 3-2 2-2 3-2 3-2 2-2 3-2 3-1 2-2 3-2 3-2 3-1 2-2 3-2 3-1 2-2 3-2 3-1 2-2 3-1 3-2 3-1 2-1 3-2 3-1 2-1 3-1 3-1 2-1 3-2 3-1 2 0 3-1 3-1 3-1 2-1 3 0 3-1 2-1 3 0 3-1 2 0 3 0 3-1 3 0 2 0 3 0 3 0 2 0 3 0 3 0 2 0 3 0 3 0 2 1 3 0 3 0 3 1 2 0 3 1 3 1 2 0 3 1 3 1 2 1 3 1 3 1 3 1 2 1 3 1 3 1 2 1 3 1 3 2 2 1 3 1 3 2 3 1 2 2 3 1 3 2 2 1 3 2M800 1089l3-2 2-2 3-2 3-2 2-2 3-2 3-2 3-2 2-2 3-2 3-2 2-2 3-1 3-2 2-2 3-2 3-1 3-2 2-2 3-1 3-2 2-1 3-2 3-1 2-2 3-1 3-2 3-1 2-1 3-2 3-1 2-1 3-1 3-1 2-1 3-1 3-1 2-1 3-1 3-1 3-1 2 0 3-1 3-1 2 0 3-1 3 0 2-1 3 0 3 0 3-1 2 0 3 0 3 0 2 0 3 0 3 0 2 0 3 0 3 1 2 0 3 0 3 1 3 0 2 1 3 0 3 1 2 1 3 0 3 1 2 1 3 1 3 1 3 1 2 1 3 1 3 1 2 1 3 1 3 2 2 1 3 1 3 2 3 1 2 1 3 2 3 1 2 2 3 1M800 1093l3-2 2-2 3-2 3-2 2-2 3-2 3-2 3-2 2-2 3-2 3-1 2-2 3-2 3-2 2-2 3-1 3-2 3-2 2-1 3-2 3-1 2-2 3-1 3-2 2-1 3-2 3-1 3-1 2-1 3-2 3-1 2-1 3-1 3-1 2-1 3-1 3-1 2-1 3-1 3-1 3 0 2-1 3-1 3 0 2-1 3 0 3-1 2 0 3-1 3 0 3 0 2 0 3 0 3 0 2 0 3 0 3 0 2 0 3 0 3 0 2 1 3 0 3 0 3 1 2 0 3 1 3 0 2 1 3 1 3 1 2 0 3 1 3 1 3 1 2 1 3 1 3 1 2 1 3 1 3 2 2 1 3 1 3 1 3 2 2 1 3 2 3 1 2 2 3 1M800 1097l3-2 2-2 3-2 3-2 2-2 3-2 3-2 3-2 2-2 3-1 3-2 2-2 3-2 3-1 2-2 3-2 3-1 3-2 2-2 3-1 3-2 2-1 3-2 3-1 2-1 3-2 3-1 3-1 2-1 3-2 3-1 2-1 3-1 3-1 2-1 3-1 3-1 2-1 3-1 3 0 3-1 2-1 3 0 3-1 2 0 3-1 3 0 2-1 3 0 3 0 3-1 2 0 3 0 3 0 2 0 3 0 3 0 2 0 3 0 3 1 2 0 3 0 3 1 3 0 2 1 3 0 3 1 2 0 3 1 3 1 2 1 3 0 3 1 3 1 2 1 3 1 3 1 2 1 3 1 3 2 2 1 3 1 3 1 3 2 2 1 3 1 3 2 2 1 3 2M800 1101l3-2 2-2 3-2 3-2 2-2 3-2 3-2 3-2 2-1 3-2 3-2 2-2 3-1 3-2 2-2 3-1 3-2 3-1 2-2 3-1 3-2 2-1 3-2 3-1 2-2 3-1 3-1 3-1 2-2 3-1 3-1 2-1 3-1 3-1 2-1 3-1 3-1 2-1 3 0 3-1 3-1 2 0 3-1 3-1 2 0 3-1 3 0 2 0 3-1 3 0 3 0 2 0 3 0 3 0 2 0 3 0 3 0 2 0 3 0 3 0 2 0 3 1 3 0 3 1 2 0 3 1 3 0 2 1 3 0 3 1 2 1 3 1 3 1 3 0 2 1 3 1 3 1 2 1 3 1 3 2 2 1 3 1 3 1 3 1 2 2 3 1 3 2 2 1 3 1M800 1105l3-2 2-2 3-2 3-2 2-2 3-2 3-2 3-1 2-2 3-2 3-2 2-1 3-2 3-2 2-1 3-2 3-1 3-2 2-1 3-2 3-1 2-2 3-1 3-1 2-2 3-1 3-1 3-1 2-1 3-2 3-1 2-1 3-1 3-1 2-1 3-1 3 0 2-1 3-1 3-1 3 0 2-1 3-1 3 0 2-1 3 0 3-1 2 0 3 0 3 0 3-1 2 0 3 0 3 0 2 0 3 0 3 0 2 0 3 0 3 1 2 0 3 0 3 1 3 0 2 0 3 1 3 1 2 0 3 1 3 0 2 1 3 1 3 1 3 1 2 1 3 0 3 1 2 1 3 2 3 1 2 1 3 1 3 1 3 1 2 2 3 1 3 1 2 2 3 1M800 1109l3-2 2-2 3-2 3-2 2-2 3-2 3-1 3-2 2-2 3-1 3-2 2-2 3-1 3-2 2-2 3-1 3-2 3-1 2-2 3-1 3-1 2-2 3-1 3-1 2-2 3-1 3-1 3-1 2-1 3-2 3-1 2-1 3-1 3-1 2 0 3-1 3-1 2-1 3-1 3 0 3-1 2-1 3 0 3-1 2 0 3-1 3 0 2 0 3-1 3 0 3 0 2 0 3 0 3 0 2 0 3 0 3 0 2 0 3 0 3 0 2 0 3 1 3 0 3 0 2 1 3 0 3 1 2 0 3 1 3 1 2 0 3 1 3 1 3 1 2 1 3 1 3 1 2 1 3 1 3 1 2 1 3 1 3 1 3 1 2 2 3 1 3 1 2 2 3 1M800 1113l3-2 2-2 3-2 3-2 2-1 3-2 3-2 3-2 2-1 3-2 3-2 2-1 3-2 3-1 2-2 3-1 3-2 3-1 2-2 3-1 3-2 2-1 3-1 3-2 2-1 3-1 3-1 3-1 2-1 3-1 3-1 2-1 3-1 3-1 2-1 3-1 3-1 2-1 3 0 3-1 3-1 2 0 3-1 3 0 2-1 3 0 3-1 2 0 3 0 3 0 3-1 2 0 3 0 3 0 2 0 3 0 3 0 2 0 3 0 3 1 2 0 3 0 3 0 3 1 2 0 3 1 3 0 2 1 3 0 3 1 2 1 3 1 3 0 3 1 2 1 3 1 3 1 2 1 3 1 3 1 2 1 3 1 3 1 3 1 2 2 3 1 3 1 2 1 3 2M800 1117l3-2 2-2 3-2 3-1 2-2 3-2 3-2 3-1 2-2 3-2 3-1 2-2 3-1 3-2 2-1 3-2 3-1 3-2 2-1 3-1 3-2 2-1 3-1 3-2 2-1 3-1 3-1 3-1 2-1 3-1 3-1 2-1 3-1 3-1 2-1 3-1 3-1 2 0 3-1 3-1 3 0 2-1 3 0 3-1 2 0 3-1 3 0 2 0 3-1 3 0 3 0 2 0 3 0 3 0 2 0 3 0 3 0 2 0 3 0 3 0 2 0 3 1 3 0 3 0 2 1 3 0 3 1 2 0 3 1 3 0 2 1 3 1 3 1 3 0 2 1 3 1 3 1 2 1 3 1 3 1 2 1 3 1 3 1 3 1 2 1 3 2 3 1 2 1 3 2M800 1121l3-2 2-2 3-1 3-2 2-2 3-1 3-2 3-2 2-1 3-2 3-2 2-1 3-2 3-1 2-2 3-1 3-1 3-2 2-1 3-2 3-1 2-1 3-1 3-2 2-1 3-1 3-1 3-1 2-1 3-1 3-1 2-1 3-1 3-1 2-1 3-1 3 0 2-1 3-1 3 0 3-1 2 0 3-1 3 0 2-1 3 0 3-1 2 0 3 0 3 0 3-1 2 0 3 0 3 0 2 0 3 0 3 0 2 0 3 0 3 1 2 0 3 0 3 0 3 1 2 0 3 1 3 0 2 1 3 0 3 1 2 0 3 1 3 1 3 1 2 0 3 1 3 1 2 1 3 1 3 1 2 1 3 1 3 1 3 1 2 1 3 2 3 1 2 1 3 1M800 1125l3-1 2-2 3-2 3-2 2-1 3-2 3-2 3-1 2-2 3-1 3-2 2-1 3-2 3-1 2-2 3-1 3-2 3-1 2-1 3-2 3-1 2-1 3-1 3-2 2-1 3-1 3-1 3-1 2-1 3-1 3-1 2-1 3-1 3-1 2 0 3-1 3-1 2-1 3 0 3-1 3-1 2 0 3-1 3 0 2 0 3-1 3 0 2-1 3 0 3 0 3 0 2 0 3 0 3 0 2 0 3 0 3 0 2 0 3 0 3 0 2 0 3 1 3 0 3 0 2 1 3 0 3 1 2 0 3 1 3 0 2 1 3 0 3 1 3 1 2 1 3 1 3 0 2 1 3 1 3 1 2 1 3 1 3 1 3 1 2 1 3 2 3 1 2 1 3 1M800 1130l3-2 2-2 3-2 3-1 2-2 3-2 3-1 3-2 2-1 3-2 3-1 2-2 3-1 3-2 2-1 3-2 3-1 3-1 2-2 3-1 3-1 2-1 3-1 3-2 2-1 3-1 3-1 3-1 2-1 3-1 3-1 2-1 3-1 3 0 2-1 3-1 3-1 2 0 3-1 3-1 3 0 2-1 3 0 3-1 2 0 3 0 3-1 2 0 3 0 3-1 3 0 2 0 3 0 3 0 2 0 3 0 3 0 2 0 3 0 3 1 2 0 3 0 3 0 3 1 2 0 3 0 3 1 2 0 3 1 3 1 2 0 3 1 3 1 3 0 2 1 3 1 3 1 2 1 3 0 3 1 2 1 3 1 3 1 3 1 2 2 3 1 3 1 2 1 3 1" clip-path="url(#h13)" fill="none" stroke="#7a8a8a" stroke-width="1.2" opacity="0.55" />
<clipPath id="h14"><path d="M1228.2 972.2l-3.3-1.7-4.5-2.4-5.4-2.8-5.8-3.1-5.7-3.3-5.4-3.2-5-3.2-5-3.2-5-3.4-5-3.5-5-3.8-5-4-5-4.3-5-4.7-5-4.8-5-5-5-5-5.1-4.8-5.5-5.1-6.1-5.5-6-5.4-5.7-5.1-4.8-4.3-3.4-3.1-1.8 2.1-2.5 2.8-3 3.4-3.3 3.8-3.4 4-3.5 4.1-3.6 4.2-3.8 4.5-4 4.7-4 4.9-4.1 5-4 5-4 5.3-4.2 5.5-4.2 5.7-4 5.6-3.8 5.2-3.4 4.7-3.1 4.3-3 4-2.7 3.7-2.4 3.3-2 2.7-1.5 2 0.9 0.6 1.2 0.8 1.4 1 1.6 1.1 1.7 1.3 1.7 1.4 1.8 1.7 1.8 1.9 2 2.1 2 2.1 2.2 2.1 2.2 1.9 2.3 1.8 2.5 1.8 2.5 1.7 2.6 1.6 2.6 1.6 2.5 1.5 2.5 1.4 2.5 1.3 2.5 1.3 2.6 1.1 2.5 1.1 2.5 1.1 2.5 1 2.5 0.9 2.5 0.9 2.5 0.8 2.5 0.8 2.5 0.6 2.5 0.6 2.5 0.4 2.6 0.4 2.5 0.4 2.5 0.2 2.5 0.2 2.5 0.1 2.5 0 2.5 0 2.5-0.2 2.5-0.2 2.5-0.2 2.5-0.3 2.5-0.3 2.5-0.4 2.6-0.4 2.5-0.6 2.5-0.6 2.5-0.7 2.5-0.8 2.6-0.9 2.5-1 2.5-1 2.5-1 2.5-1 2.5-1.1 2.5-1.1 2.5-1.1 2.5-1.2 2.5-1.2 2.5-1.2 2.5-1.3 2.5-1.2 2.5-1.4 2.5-1.3 2.5-1.4 2.5-1.5 2.5-1.5 2.5-1.6 2.5-1.5 2.5-1.6 2.5-1.5 2.5-1.4 2.5-1.5 2.5-1.3 2.6-1.4 2.5-1.4 2.5-1.3 2.7-1.4 2.9-1.5 2.8-1.5 2.7-1.4 2.3-1.2 1.6-0.8z"/></clipPath>
<path d="M1014 975l3-3 2-3 3-3 3-3 3-2 2-3 3-3 3-3 2-3 3-3 3-2 2-3 3-3 3-3 3-3 2-3 3-2 3-3 2-3 3-3 3-3 3-2 2-3 3-3 3-3 2-3 3-2 3-3 3-3 2-2 3-3 3-2 2-2 3 0 3 0 2 1 3 3 3 2 3 3 2 2 3 3 3 3 2 2 3 3 3 3 3 3 2 2 3 3 3 3 2 3 3 3 3 3 3 2 2 3 3 3 3 3 2 3 3 3 3 2 2 3 3 3 3 3 3 3 2 3 3 2 3 3 2 3 3 3 3 3 3 3 2 2 3 3 3 3 2 3 3 3 3 3 3 2 2 3 3 3 3 3 2 3 3 3 3 2 2 3 3 3 3 3 3 3 2 3 3 3M1014 975l3-3 2-2 3-3 3-3 3-3 2-3 3-2 3-3 2-3 3-3 3-3 2-2 3-3 3-3 3-3 2-3 3-2 3-3 2-3 3-3 3-2 3-3 2-3 3-2 3-3 2-3 3-2 3-3 3-2 2-2 3-2 3-1 2-2 3 0 3 0 2 1 3 2 3 1 3 2 2 3 3 2 3 3 2 2 3 3 3 2 3 3 2 3 3 2 3 3 2 3 3 3 3 3 3 2 2 3 3 3 3 3 2 2 3 3 3 3 2 3 3 3 3 2 3 3 2 3 3 3 3 3 2 3 3 2 3 3 3 3 2 3 3 3 3 3 2 2 3 3 3 3 3 3 2 3 3 3 3 2 2 3 3 3 3 3 2 3 3 3 3 2 3 3 2 3 3 3M1014 976l3-3 2-2 3-3 3-3 3-3 2-3 3-2 3-3 2-3 3-3 3-2 2-3 3-3 3-3 3-2 2-3 3-3 3-3 2-2 3-3 3-2 3-3 2-3 3-2 3-2 2-3 3-2 3-2 3-2 2-2 3-1 3-1 2-1 3 0 3 0 2 0 3 1 3 2 3 1 2 2 3 2 3 3 2 2 3 2 3 3 3 2 2 3 3 2 3 3 2 3 3 2 3 3 3 3 2 2 3 3 3 3 2 3 3 2 3 3 2 3 3 3 3 2 3 3 2 3 3 3 3 3 2 2 3 3 3 3 3 3 2 3 3 2 3 3 2 3 3 3 3 3 3 2 2 3 3 3 3 3 2 3 3 3 3 2 2 3 3 3 3 3 3 3 2 3 3 2M1014 977l3-3 2-2 3-3 3-3 3-3 2-2 3-3 3-3 2-3 3-2 3-3 2-3 3-2 3-3 3-3 2-2 3-3 3-2 2-3 3-2 3-3 3-2 2-3 3-2 3-2 2-2 3-2 3-2 3-2 2-1 3-1 3-1 2-1 3 0 3 0 2 1 3 0 3 2 3 1 2 1 3 2 3 2 2 2 3 2 3 3 3 2 2 2 3 3 3 2 2 3 3 2 3 3 3 3 2 2 3 3 3 3 2 2 3 3 3 3 2 2 3 3 3 3 3 3 2 2 3 3 3 3 2 3 3 2 3 3 3 3 2 3 3 2 3 3 2 3 3 3 3 3 3 2 2 3 3 3 3 3 2 3 3 2 3 3 2 3 3 3 3 3 3 2 2 3 3 3M1014 979l3-3 2-3 3-3 3-2 3-3 2-3 3-2 3-3 2-3 3-2 3-3 2-3 3-2 3-3 3-2 2-3 3-2 3-3 2-2 3-2 3-3 3-2 2-2 3-2 3-2 2-2 3-2 3-1 3-2 2-1 3-1 3-1 2 0 3 0 3 0 2 0 3 1 3 1 3 1 2 1 3 2 3 1 2 2 3 2 3 2 3 2 2 3 3 2 3 2 2 3 3 2 3 2 3 3 2 2 3 3 3 3 2 2 3 3 3 2 2 3 3 3 3 2 3 3 2 3 3 3 3 2 2 3 3 3 3 2 3 3 2 3 3 3 3 2 2 3 3 3 3 3 3 2 2 3 3 3 3 3 2 3 3 2 3 3 2 3 3 3 3 3 3 2 2 3 3 3M1014 980l3-2 2-3 3-3 3-2 3-3 2-3 3-2 3-3 2-3 3-2 3-3 2-2 3-3 3-2 3-3 2-2 3-2 3-3 2-2 3-2 3-2 3-2 2-2 3-2 3-2 2-2 3-1 3-2 3-1 2-1 3-1 3 0 2-1 3 0 3 0 2 0 3 1 3 1 3 1 2 1 3 1 3 2 2 1 3 2 3 2 3 2 2 2 3 2 3 2 2 3 3 2 3 2 3 3 2 2 3 3 3 2 2 3 3 2 3 3 2 2 3 3 3 2 3 3 2 3 3 2 3 3 2 3 3 2 3 3 3 3 2 2 3 3 3 3 2 3 3 2 3 3 3 3 2 3 3 2 3 3 2 3 3 3 3 2 2 3 3 3 3 3 3 2 2 3 3 3M1014 982l3-2 2-3 3-3 3-2 3-3 2-2 3-3 3-3 2-2 3-3 3-2 2-2 3-3 3-2 3-3 2-2 3-2 3-2 2-2 3-2 3-2 3-2 2-2 3-2 3-2 2-1 3-2 3-1 3-1 2-1 3 0 3-1 2 0 3 0 3 0 2 0 3 0 3 1 3 1 2 1 3 1 3 1 2 2 3 1 3 2 3 2 2 2 3 2 3 2 2 2 3 2 3 2 3 3 2 2 3 2 3 3 2 2 3 3 3 2 2 3 3 2 3 3 3 2 2 3 3 2 3 3 2 3 3 2 3 3 3 3 2 2 3 3 3 3 2 2 3 3 3 3 3 2 2 3 3 3 3 3 2 2 3 3 3 3 2 2 3 3 3 3 3 3 2 2 3 3M1014 984l3-2 2-3 3-2 3-3 3-2 2-3 3-2 3-3 2-2 3-3 3-2 2-2 3-3 3-2 3-2 2-2 3-2 3-3 2-2 3-1 3-2 3-2 2-2 3-1 3-2 2-1 3-2 3-1 3-1 2 0 3-1 3-1 2 0 3 0 3 0 2 0 3 1 3 0 3 1 2 1 3 1 3 1 2 2 3 1 3 2 3 1 2 2 3 2 3 2 2 2 3 2 3 2 3 2 2 2 3 3 3 2 2 2 3 3 3 2 2 2 3 3 3 2 3 3 2 2 3 3 3 2 2 3 3 3 3 2 3 3 2 2 3 3 3 3 2 2 3 3 3 3 3 2 2 3 3 3 3 2 2 3 3 3 3 2 2 3 3 3 3 2 3 3 2 3 3 3M1014 987l3-3 2-2 3-3 3-2 3-3 2-2 3-3 3-2 2-2 3-3 3-2 2-2 3-2 3-2 3-3 2-2 3-2 3-2 2-1 3-2 3-2 3-2 2-1 3-2 3-1 2-1 3-2 3-1 3 0 2-1 3-1 3 0 2 0 3 0 3 0 2 0 3 0 3 1 3 0 2 1 3 1 3 1 2 1 3 2 3 1 3 2 2 1 3 2 3 2 2 2 3 2 3 2 3 2 2 2 3 2 3 2 2 2 3 3 3 2 2 2 3 3 3 2 3 3 2 2 3 2 3 3 2 2 3 3 3 2 3 3 2 3 3 2 3 3 2 2 3 3 3 3 3 2 2 3 3 2 3 3 2 3 3 2 3 3 2 3 3 2 3 3 3 3 2 3 3 2M1014 989l3-2 2-3 3-2 3-2 3-3 2-2 3-2 3-3 2-2 3-2 3-2 2-3 3-2 3-2 3-2 2-2 3-2 3-1 2-2 3-2 3-2 3-1 2-2 3-1 3-1 2-1 3-1 3-1 3-1 2-1 3 0 3-1 2 0 3 0 3 0 2 0 3 1 3 0 3 1 2 0 3 1 3 1 2 1 3 2 3 1 3 1 2 2 3 2 3 1 2 2 3 2 3 2 3 2 2 2 3 2 3 2 2 2 3 2 3 2 2 3 3 2 3 2 3 3 2 2 3 2 3 3 2 2 3 3 3 2 3 3 2 2 3 3 3 2 2 3 3 2 3 3 3 2 2 3 3 3 3 2 2 3 3 2 3 3 2 3 3 2 3 3 3 3 2 2 3 3M1014 992l3-2 2-3 3-2 3-2 3-3 2-2 3-2 3-2 2-2 3-3 3-2 2-2 3-2 3-2 3-2 2-2 3-1 3-2 2-2 3-1 3-2 3-1 2-2 3-1 3-1 2-1 3-1 3-1 3-1 2 0 3-1 3 0 2 0 3 0 3 0 2 0 3 0 3 0 3 1 2 1 3 1 3 0 2 1 3 2 3 1 3 1 2 2 3 1 3 2 2 1 3 2 3 2 3 2 2 2 3 2 3 2 2 2 3 2 3 2 2 2 3 2 3 2 3 3 2 2 3 2 3 3 2 2 3 2 3 3 3 2 2 3 3 2 3 3 2 2 3 3 3 2 3 3 2 2 3 3 3 2 2 3 3 3 3 2 2 3 3 2 3 3 3 3 2 2 3 3M1014 995l3-2 2-2 3-3 3-2 3-2 2-2 3-3 3-2 2-2 3-2 3-2 2-2 3-2 3-2 3-2 2-1 3-2 3-2 2-1 3-2 3-1 3-2 2-1 3-1 3-1 2-1 3-1 3-1 3 0 2-1 3 0 3-1 2 0 3 0 3 0 2 0 3 0 3 1 3 0 2 1 3 1 3 1 2 1 3 1 3 1 3 1 2 1 3 2 3 1 2 2 3 1 3 2 3 2 2 2 3 2 3 1 2 2 3 2 3 3 2 2 3 2 3 2 3 2 2 2 3 3 3 2 2 2 3 2 3 3 3 2 2 3 3 2 3 2 2 3 3 2 3 3 3 2 2 3 3 2 3 3 2 2 3 3 3 2 2 3 3 3 3 2 3 3 2 2 3 3M1014 998l3-2 2-2 3-2 3-3 3-2 2-2 3-2 3-2 2-2 3-2 3-2 2-2 3-2 3-1 3-2 2-2 3-2 3-1 2-2 3-1 3-1 3-2 2-1 3-1 3-1 2-1 3-1 3 0 3-1 2-1 3 0 3 0 2 0 3 0 3 0 2 0 3 0 3 0 3 1 2 0 3 1 3 1 2 1 3 1 3 1 3 1 2 1 3 2 3 1 2 1 3 2 3 2 3 1 2 2 3 2 3 2 2 1 3 2 3 2 2 2 3 2 3 3 3 2 2 2 3 2 3 2 2 2 3 3 3 2 3 2 2 3 3 2 3 2 2 3 3 2 3 3 3 2 2 2 3 3 3 2 2 3 3 2 3 3 2 2 3 3 3 3 3 2 2 3 3 2M1014 1002l3-2 2-3 3-2 3-2 3-2 2-2 3-2 3-2 2-2 3-2 3-2 2-2 3-1 3-2 3-2 2-1 3-2 3-1 2-2 3-1 3-1 3-2 2-1 3-1 3-1 2-1 3 0 3-1 3-1 2 0 3 0 3-1 2 0 3 0 3 0 2 0 3 0 3 1 3 0 2 1 3 0 3 1 2 1 3 1 3 1 3 1 2 1 3 1 3 2 2 1 3 2 3 1 3 2 2 1 3 2 3 2 2 2 3 1 3 2 2 2 3 2 3 2 3 2 2 2 3 3 3 2 2 2 3 2 3 2 3 3 2 2 3 2 3 2 2 3 3 2 3 2 3 3 2 2 3 3 3 2 2 3 3 2 3 3 2 2 3 3 3 2 3 3 2 2 3 3M1014 1005l3-2 2-2 3-2 3-2 3-2 2-2 3-2 3-2 2-2 3-2 3-2 2-1 3-2 3-2 3-1 2-2 3-1 3-2 2-1 3-1 3-1 3-2 2-1 3-1 3-1 2 0 3-1 3-1 3 0 2-1 3 0 3 0 2 0 3 0 3 0 2 0 3 0 3 0 3 1 2 0 3 1 3 0 2 1 3 1 3 1 3 1 2 1 3 1 3 2 2 1 3 1 3 2 3 1 2 2 3 1 3 2 2 2 3 2 3 1 2 2 3 2 3 2 3 2 2 2 3 2 3 2 2 2 3 3 3 2 3 2 2 2 3 2 3 3 2 2 3 2 3 3 3 2 2 2 3 3 3 2 2 2 3 3 3 2 2 3 3 2 3 3 3 2 2 3 3 2M1014 1009l3-2 2-2 3-2 3-2 3-2 2-2 3-2 3-2 2-2 3-1 3-2 2-2 3-1 3-2 3-2 2-1 3-1 3-2 2-1 3-1 3-1 3-1 2-1 3-1 3-1 2-1 3-1 3 0 3-1 2 0 3-1 3 0 2 0 3 0 3 0 2 0 3 0 3 1 3 0 2 1 3 0 3 1 2 1 3 0 3 1 3 1 2 1 3 1 3 2 2 1 3 1 3 2 3 1 2 1 3 2 3 2 2 1 3 2 3 2 2 2 3 1 3 2 3 2 2 2 3 2 3 2 2 2 3 2 3 2 3 2 2 3 3 2 3 2 2 2 3 2 3 3 3 2 2 2 3 3 3 2 2 2 3 3 3 2 2 3 3 2 3 2 3 3 2 2 3 3M1014 1013l3-2 2-2 3-2 3-2 3-2 2-2 3-2 3-2 2-1 3-2 3-2 2-1 3-2 3-1 3-2 2-1 3-2 3-1 2-1 3-1 3-1 3-1 2-1 3-1 3-1 2-1 3 0 3-1 3 0 2-1 3 0 3 0 2 0 3 0 3 0 2 0 3 0 3 0 3 1 2 0 3 0 3 1 2 1 3 1 3 0 3 1 2 1 3 1 3 2 2 1 3 1 3 1 3 2 2 1 3 2 3 1 2 2 3 1 3 2 2 2 3 2 3 1 3 2 2 2 3 2 3 2 2 2 3 2 3 2 3 2 2 2 3 2 3 3 2 2 3 2 3 2 3 2 2 3 3 2 3 2 2 3 3 2 3 2 2 3 3 2 3 2 3 3 2 2 3 3M1014 1017l3-2 2-2 3-2 3-2 3-2 2-2 3-2 3-1 2-2 3-2 3-1 2-2 3-1 3-2 3-1 2-1 3-2 3-1 2-1 3-1 3-1 3-1 2-1 3-1 3-1 2 0 3-1 3 0 3-1 2 0 3-1 3 0 2 0 3 0 3 0 2 0 3 0 3 1 3 0 2 0 3 1 3 0 2 1 3 1 3 1 3 1 2 0 3 1 3 2 2 1 3 1 3 1 3 2 2 1 3 1 3 2 2 1 3 2 3 2 2 1 3 2 3 2 3 1 2 2 3 2 3 2 2 2 3 2 3 2 3 2 2 2 3 2 3 2 2 2 3 2 3 3 3 2 2 2 3 2 3 2 2 3 3 2 3 2 2 3 3 2 3 2 3 3 2 2 3 2M1014 1021l3-2 2-2 3-2 3-2 3-2 2-1 3-2 3-2 2-1 3-2 3-2 2-1 3-1 3-2 3-1 2-1 3-2 3-1 2-1 3-1 3-1 3-1 2-1 3-1 3 0 2-1 3-1 3 0 3 0 2-1 3 0 3 0 2 0 3 0 3 0 2 0 3 0 3 0 3 0 2 1 3 0 3 1 2 0 3 1 3 1 3 1 2 1 3 1 3 1 2 1 3 1 3 1 3 1 2 2 3 1 3 1 2 2 3 1 3 2 2 2 3 1 3 2 3 2 2 1 3 2 3 2 2 2 3 2 3 2 3 2 2 2 3 2 3 2 2 2 3 2 3 2 3 2 2 2 3 3 3 2 2 2 3 2 3 3 2 2 3 2 3 2 3 3 2 2 3 2M1014 1025l3-2 2-2 3-2 3-2 3-1 2-2 3-2 3-1 2-2 3-1 3-2 2-1 3-2 3-1 3-1 2-2 3-1 3-1 2-1 3-1 3-1 3-1 2-1 3 0 3-1 2-1 3 0 3-1 3 0 2 0 3-1 3 0 2 0 3 0 3 0 2 0 3 0 3 1 3 0 2 0 3 1 3 0 2 1 3 0 3 1 3 1 2 1 3 1 3 1 2 1 3 1 3 1 3 1 2 2 3 1 3 1 2 2 3 1 3 2 2 1 3 2 3 1 3 2 2 2 3 2 3 1 2 2 3 2 3 2 3 2 2 2 3 2 3 2 2 2 3 2 3 2 3 2 2 2 3 2 3 2 2 3 3 2 3 2 2 2 3 2 3 3 3 2 2 2 3 3M1014 1029l3-2 2-2 3-2 3-1 3-2 2-2 3-1 3-2 2-1 3-2 3-1 2-1 3-2 3-1 3-1 2-2 3-1 3-1 2-1 3-1 3-1 3 0 2-1 3-1 3-1 2 0 3-1 3 0 3-1 2 0 3 0 3 0 2 0 3 0 3 0 2 0 3 0 3 0 3 0 2 1 3 0 3 1 2 0 3 1 3 1 3 0 2 1 3 1 3 1 2 1 3 1 3 1 3 1 2 1 3 2 3 1 2 1 3 2 3 1 2 2 3 1 3 2 3 2 2 1 3 2 3 2 2 1 3 2 3 2 3 2 2 2 3 2 3 2 2 2 3 2 3 2 3 2 2 2 3 2 3 2 2 2 3 2 3 2 2 3 3 2 3 2 3 2 2 3 3 2M1014 1033l3-2 2-1 3-2 3-2 3-1 2-2 3-2 3-1 2-2 3-1 3-1 2-2 3-1 3-1 3-1 2-1 3-2 3-1 2-1 3-1 3 0 3-1 2-1 3-1 3 0 2-1 3 0 3-1 3 0 2 0 3-1 3 0 2 0 3 0 3 0 2 0 3 0 3 0 3 1 2 0 3 1 3 0 2 1 3 0 3 1 3 1 2 0 3 1 3 1 2 1 3 1 3 1 3 1 2 1 3 2 3 1 2 1 3 2 3 1 2 1 3 2 3 2 3 1 2 2 3 1 3 2 2 2 3 1 3 2 3 2 2 2 3 2 3 2 2 2 3 2 3 2 3 2 2 2 3 2 3 2 2 2 3 2 3 2 2 2 3 2 3 3 3 2 2 2 3 2M1014 1037l3-1 2-2 3-2 3-1 3-2 2-1 3-2 3-1 2-2 3-1 3-1 2-2 3-1 3-1 3-1 2-1 3-1 3-1 2-1 3-1 3-1 3-1 2-1 3 0 3-1 2 0 3-1 3 0 3-1 2 0 3 0 3 0 2 0 3 0 3 0 2 0 3 0 3 0 3 0 2 1 3 0 3 0 2 1 3 1 3 0 3 1 2 1 3 0 3 1 2 1 3 1 3 1 3 1 2 1 3 2 3 1 2 1 3 1 3 2 2 1 3 2 3 1 3 2 2 1 3 2 3 1 2 2 3 2 3 2 3 1 2 2 3 2 3 2 2 2 3 2 3 2 3 1 2 2 3 2 3 2 2 3 3 2 3 2 2 2 3 2 3 2 3 2 2 2 3 3M1014 1042l3-2 2-2 3-1 3-2 3-1 2-2 3-1 3-2 2-1 3-1 3-2 2-1 3-1 3-1 3-1 2-1 3-1 3-1 2-1 3-1 3-1 3-1 2 0 3-1 3 0 2-1 3 0 3-1 3 0 2 0 3-1 3 0 2 0 3 0 3 0 2 0 3 0 3 0 3 1 2 0 3 0 3 1 2 0 3 1 3 1 3 0 2 1 3 1 3 1 2 0 3 1 3 1 3 1 2 2 3 1 3 1 2 1 3 1 3 2 2 1 3 1 3 2 3 1 2 2 3 1 3 2 2 2 3 1 3 2 3 2 2 1 3 2 3 2 2 2 3 2 3 2 3 1 2 2 3 2 3 2 2 2 3 2 3 2 2 3 3 2 3 2 3 2 2 2 3 2M1014 1046l3-1 2-2 3-2 3-1 3-2 2-1 3-1 3-2 2-1 3-1 3-2 2-1 3-1 3-1 3-1 2-1 3-1 3-1 2-1 3-1 3-1 3 0 2-1 3-1 3 0 2-1 3 0 3 0 3-1 2 0 3 0 3 0 2 0 3 0 3 0 2 0 3 0 3 0 3 0 2 0 3 1 3 0 2 1 3 0 3 1 3 1 2 0 3 1 3 1 2 1 3 1 3 1 3 1 2 1 3 1 3 1 2 1 3 1 3 2 2 1 3 1 3 2 3 1 2 1 3 2 3 2 2 1 3 2 3 1 3 2 2 2 3 1 3 2 2 2 3 2 3 2 3 2 2 1 3 2 3 2 2 2 3 2 3 2 2 2 3 2 3 2 3 2 2 3 3 2M1014 1051l3-2 2-1 3-2 3-1 3-2 2-1 3-2 3-1 2-1 3-1 3-2 2-1 3-1 3-1 3-1 2-1 3-1 3-1 2-1 3 0 3-1 3-1 2-1 3 0 3-1 2 0 3-1 3 0 3 0 2-1 3 0 3 0 2 0 3 0 3 0 2 0 3 0 3 0 3 1 2 0 3 0 3 1 2 0 3 1 3 0 3 1 2 1 3 0 3 1 2 1 3 1 3 1 3 1 2 1 3 1 3 1 2 1 3 1 3 1 2 2 3 1 3 1 3 2 2 1 3 2 3 1 2 2 3 1 3 2 3 2 2 1 3 2 3 2 2 1 3 2 3 2 3 2 2 2 3 1 3 2 2 2 3 2 3 2 2 2 3 2 3 2 3 2 2 2 3 2M1014 1055l3-1 2-2 3-1 3-2 3-1 2-1 3-2 3-1 2-1 3-1 3-2 2-1 3-1 3-1 3-1 2-1 3-1 3-1 2 0 3-1 3-1 3-1 2 0 3-1 3 0 2-1 3 0 3 0 3-1 2 0 3 0 3 0 2 0 3 0 3 0 2 0 3 0 3 0 3 0 2 0 3 1 3 0 2 1 3 0 3 1 3 0 2 1 3 1 3 0 2 1 3 1 3 1 3 1 2 1 3 1 3 1 2 1 3 1 3 1 2 2 3 1 3 1 3 2 2 1 3 1 3 2 2 1 3 2 3 1 3 2 2 2 3 1 3 2 2 2 3 1 3 2 3 2 2 2 3 2 3 1 2 2 3 2 3 2 2 2 3 2 3 2 3 2 2 2 3 2M1014 1060l3-2 2-1 3-1 3-2 3-1 2-1 3-2 3-1 2-1 3-1 3-2 2-1 3-1 3-1 3-1 2-1 3 0 3-1 2-1 3-1 3-1 3 0 2-1 3 0 3-1 2 0 3-1 3 0 3 0 2-1 3 0 3 0 2 0 3 0 3 0 2 0 3 0 3 0 3 1 2 0 3 0 3 1 2 0 3 1 3 0 3 1 2 0 3 1 3 1 2 0 3 1 3 1 3 1 2 1 3 1 3 1 2 1 3 1 3 1 2 2 3 1 3 1 3 1 2 2 3 1 3 2 2 1 3 2 3 1 3 2 2 1 3 2 3 1 2 2 3 2 3 1 3 2 2 2 3 2 3 2 2 1 3 2 3 2 2 2 3 2 3 2 3 2 2 2 3 2M1014 1065l3-2 2-1 3-2 3-1 3-1 2-2 3-1 3-1 2-1 3-1 3-1 2-2 3-1 3-1 3 0 2-1 3-1 3-1 2-1 3-1 3 0 3-1 2 0 3-1 3 0 2-1 3 0 3-1 3 0 2 0 3 0 3 0 2 0 3 0 3 0 2 0 3 0 3 0 3 0 2 0 3 1 3 0 2 0 3 1 3 0 3 1 2 1 3 0 3 1 2 1 3 1 3 0 3 1 2 1 3 1 3 1 2 1 3 1 3 1 2 2 3 1 3 1 3 1 2 2 3 1 3 1 2 2 3 1 3 2 3 1 2 2 3 1 3 2 2 2 3 1 3 2 3 2 2 1 3 2 3 2 2 2 3 2 3 1 2 2 3 2 3 2 3 2 2 2 3 2M1014 1069l3-1 2-1 3-2 3-1 3-1 2-2 3-1 3-1 2-1 3-1 3-1 2-1 3-1 3-1 3-1 2-1 3-1 3-1 2 0 3-1 3-1 3 0 2-1 3 0 3-1 2 0 3-1 3 0 3 0 2-1 3 0 3 0 2 0 3 0 3 0 2 0 3 0 3 0 3 1 2 0 3 0 3 0 2 1 3 0 3 1 3 0 2 1 3 1 3 0 2 1 3 1 3 1 3 0 2 1 3 1 3 1 2 1 3 1 3 1 2 2 3 1 3 1 3 1 2 1 3 2 3 1 2 2 3 1 3 1 3 2 2 1 3 2 3 1 2 2 3 2 3 1 3 2 2 2 3 1 3 2 2 2 3 2 3 2 2 1 3 2 3 2 3 2 2 2 3 2M1014 1074l3-1 2-2 3-1 3-1 3-1 2-2 3-1 3-1 2-1 3-1 3-1 2-1 3-1 3-1 3-1 2-1 3-1 3 0 2-1 3-1 3 0 3-1 2-1 3 0 3-1 2 0 3 0 3-1 3 0 2 0 3 0 3 0 2 0 3 0 3 0 2 0 3 0 3 0 3 0 2 0 3 1 3 0 2 0 3 1 3 0 3 1 2 0 3 1 3 1 2 0 3 1 3 1 3 1 2 1 3 0 3 1 2 1 3 1 3 2 2 1 3 1 3 1 3 1 2 1 3 2 3 1 2 1 3 2 3 1 3 2 2 1 3 2 3 1 2 2 3 1 3 2 3 1 2 2 3 2 3 2 2 1 3 2 3 2 2 2 3 1 3 2 3 2 2 2 3 2M1014 1079l3-1 2-2 3-1 3-1 3-1 2-2 3-1 3-1 2-1 3-1 3-1 2-1 3-1 3-1 3-1 2-1 3 0 3-1 2-1 3 0 3-1 3-1 2 0 3-1 3 0 2 0 3-1 3 0 3 0 2-1 3 0 3 0 2 0 3 0 3 0 2 0 3 0 3 0 3 1 2 0 3 0 3 0 2 1 3 0 3 1 3 0 2 1 3 0 3 1 2 1 3 0 3 1 3 1 2 1 3 1 3 1 2 1 3 1 3 1 2 1 3 1 3 1 3 1 2 1 3 2 3 1 2 1 3 2 3 1 3 1 2 2 3 1 3 2 2 1 3 2 3 1 3 2 2 2 3 1 3 2 2 2 3 1 3 2 2 2 3 2 3 1 3 2 2 2 3 2M1014 1084l3-2 2-1 3-1 3-1 3-2 2-1 3-1 3-1 2-1 3-1 3-1 2-1 3-1 3-1 3-1 2 0 3-1 3-1 2 0 3-1 3-1 3 0 2-1 3 0 3-1 2 0 3 0 3-1 3 0 2 0 3 0 3 0 2 0 3 0 3 0 2 0 3 0 3 0 3 0 2 0 3 1 3 0 2 0 3 1 3 0 3 1 2 0 3 1 3 0 2 1 3 1 3 0 3 1 2 1 3 1 3 1 2 1 3 1 3 1 2 1 3 1 3 1 3 1 2 1 3 2 3 1 2 1 3 1 3 2 3 1 2 1 3 2 3 1 2 2 3 1 3 2 3 1 2 2 3 2 3 1 2 2 3 2 3 1 2 2 3 2 3 2 3 1 2 2 3 2M1014 1089l3-2 2-1 3-1 3-1 3-1 2-2 3-1 3-1 2-1 3-1 3-1 2-1 3-1 3 0 3-1 2-1 3-1 3 0 2-1 3-1 3 0 3-1 2 0 3-1 3 0 2-1 3 0 3 0 3 0 2-1 3 0 3 0 2 0 3 0 3 0 2 0 3 0 3 0 3 1 2 0 3 0 3 0 2 1 3 0 3 1 3 0 2 1 3 0 3 1 2 0 3 1 3 1 3 1 2 0 3 1 3 1 2 1 3 1 3 1 2 1 3 1 3 1 3 1 2 1 3 1 3 2 2 1 3 1 3 2 3 1 2 1 3 2 3 1 2 2 3 1 3 2 3 1 2 2 3 1 3 2 2 1 3 2 3 2 2 2 3 1 3 2 3 2 2 2 3 1M1014 1094l3-2 2-1 3-1 3-1 3-1 2-2 3-1 3-1 2-1 3-1 3-1 2 0 3-1 3-1 3-1 2-1 3 0 3-1 2-1 3 0 3-1 3 0 2-1 3 0 3-1 2 0 3 0 3-1 3 0 2 0 3 0 3 0 2 0 3 0 3 0 2 0 3 0 3 0 3 0 2 0 3 0 3 1 2 0 3 1 3 0 3 0 2 1 3 0 3 1 2 1 3 0 3 1 3 1 2 1 3 0 3 1 2 1 3 1 3 1 2 1 3 1 3 1 3 1 2 1 3 1 3 2 2 1 3 1 3 1 3 2 2 1 3 1 3 2 2 1 3 2 3 1 3 2 2 1 3 2 3 1 2 2 3 2 3 1 2 2 3 2 3 1 3 2 2 2 3 2M1014 1098l3-1 2-1 3-1 3-1 3-1 2-1 3-2 3-1 2-1 3 0 3-1 2-1 3-1 3-1 3-1 2 0 3-1 3-1 2 0 3-1 3-1 3 0 2 0 3-1 3 0 2-1 3 0 3 0 3 0 2-1 3 0 3 0 2 0 3 0 3 0 2 0 3 0 3 0 3 0 2 1 3 0 3 0 2 1 3 0 3 0 3 1 2 0 3 1 3 0 2 1 3 1 3 0 3 1 2 1 3 1 3 0 2 1 3 1 3 1 2 1 3 1 3 1 3 1 2 1 3 2 3 1 2 1 3 1 3 1 3 2 2 1 3 1 3 2 2 1 3 1 3 2 3 1 2 2 3 1 3 2 2 2 3 1 3 2 2 1 3 2 3 2 3 1 2 2 3 2" clip-path="url(#h14)" fill="none" stroke="#7a8a8a" stroke-width="1.2" opacity="0.55" />
<path d="M930 1052l1.4-1.2 1.9-1.7 2.3-2 2.4-2.1 2.6-2.1 2.4-1.9 2.3-1.7 2.4-1.7 2.5-1.6 2.5-1.6 2.6-1.5 2.7-1.4 2.8-1.3 2.8-1.2 2.8-1.1 3-1.1 3.2-0.9 3.4-0.9 3.6-0.8 3.8-0.7 4-0.6 4.1-0.5 4.2-0.5 4.3-0.4 4.7-0.3 5.2-0.3 5.2-0.1 5-0.1 4.1-0.1 3-0.1 3.1 0.1 4.1 0.1 5 0.1 5.2 0.1 5.2 0.3 4.7 0.3 4.3 0.4 4.2 0.5 4.1 0.5 4 0.6 3.8 0.7 3.6 0.8 3.4 0.9 3.2 0.9 3 1.1 2.8 1.1 2.8 1.2 2.8 1.3 2.7 1.4 2.6 1.5 2.5 1.6 2.5 1.6 2.4 1.7 2.3 1.7 2.4 1.9 2.6 2.1 2.4 2.1 2.3 2 1.9 1.7 1.4 1.2z" fill="#d2d6d6" />
<clipPath id="h15"><path d="M930 1052l1.4-1.2 1.9-1.7 2.3-2 2.4-2.1 2.6-2.1 2.4-1.9 2.3-1.7 2.4-1.7 2.5-1.6 2.5-1.6 2.6-1.5 2.7-1.4 2.8-1.3 2.8-1.2 2.8-1.1 3-1.1 3.2-0.9 3.4-0.9 3.6-0.8 3.8-0.7 4-0.6 4.1-0.5 4.2-0.5 4.3-0.4 4.7-0.3 5.2-0.3 5.2-0.1 5-0.1 4.1-0.1 3-0.1 3.1 0.1 4.1 0.1 5 0.1 5.2 0.1 5.2 0.3 4.7 0.3 4.3 0.4 4.2 0.5 4.1 0.5 4 0.6 3.8 0.7 3.6 0.8 3.4 0.9 3.2 0.9 3 1.1 2.8 1.1 2.8 1.2 2.8 1.3 2.7 1.4 2.6 1.5 2.5 1.6 2.5 1.6 2.4 1.7 2.3 1.7 2.4 1.9 2.6 2.1 2.4 2.1 2.3 2 1.9 1.7 1.4 1.2z"/></clipPath>
<path d="M1012 1062l1-2 2-2 4-1 6-1 5 0 5 1 4 1 3 2 1 2M998 1062l0-3 3-2 4-3 5-1 7-2 7 0 7 0 7 0 6 2 5 1 4 3 3 2 1 3M984 1062l0-3 2-2 2-3 4-2 4-2 6-2 5-1 7-1 6-1 7 0 7 0 7 1 6 1 6 1 5 2 5 2 3 2 3 3 1 2 1 3M970 1062l0-3 1-2 2-3 3-2 3-2 4-2 5-2 5-2 5-1 6-1 7-1 6-1 7 0 7 0 6 0 7 1 6 1 6 1 6 1 5 2 4 2 4 2 4 2 2 2 2 3 2 2 0 3M955 1062l1-3 1-2 1-3 2-2 3-2 3-3 4-2 4-2 5-1 5-2 5-1 6-2 6-1 7-1 6 0 7 0 6-1 7 1 6 0 7 0 6 1 6 1 6 2 5 1 6 2 4 1 5 2 3 2 3 3 3 2 2 2 2 3 1 2 0 3M941 1062l1-3 0-2 2-3 1-2 3-2 2-3 3-2 4-2 4-2 4-2 5-2 5-1 6-2 5-1 6-1 6-1 7-1 6 0 6-1 7 0 7 0 6 0 7 1 6 0 6 1 6 1 6 1 6 1 5 2 5 1 5 2 4 2 4 2 4 2 3 2 3 3 2 2 2 2 1 3 1 2 0 3M927 1062l1-3 0-2 1-2 2-3 2-2 2-3 3-2 3-2 3-2 4-2 4-2 5-2 4-2 5-1 6-2 5-1 6-1 6-1 6-1 6-1 7-1 6 0 7 0 6 0 7 0 6 0 7 0 6 1 6 1 6 1 6 1 6 1 6 1 5 2 5 1 5 2 4 2 4 2 4 2 4 2 3 2 2 2 3 3 2 2 1 3 1 2 1 2 0 3M925 1043l2-2 3-2 3-1 3-2 3-2 3-1 3-1 4-2 4-1 4-1 4-2 4-1 4-1 5-1 4-1 5 0 5-1 5-1 5 0 5-1 5 0 5 0 5-1 5 0 5 0 5 0 5 0 5 1 5 0 5 0 5 1 5 0 5 1 4 1 5 1 5 1 4 0 4 2 5 1 4 1 3 1 4 1 4 2 3 1 4 2 3 1 2 2 3 2 3 1 2 2M925 1032l3-1 3-1 3-2 4-1 3-1 4-2 3-1 4-1 4-1 4-1 4-1 4-1 4 0 5-1 4-1 5-1 4 0 5-1 4 0 5 0 5-1 4 0 5 0 5 0 5 0 4 0 5 0 5 0 5 0 4 1 5 0 5 0 4 1 5 1 4 0 5 1 4 1 4 1 4 0 4 1 4 1 4 1 4 2 4 1 3 1 4 1 3 1 3 2 3 1 3 2M925 1024l3-1 4-1 3-1 4-2 3-1 4-1 4-1 4-1 3-1 5 0 4-1 4-1 4-1 4 0 5-1 4 0 4-1 5 0 4-1 5 0 4 0 5 0 4 0 5-1 5 0 4 0 5 1 4 0 5 0 4 0 5 0 4 1 5 0 4 1 5 0 4 1 4 0 4 1 5 1 4 1 4 1 4 0 3 1 4 1 4 1 4 2 3 1 3 1 4 1 3 1M925 1017l3-1 4-1 4-2 3-1 4 0 4-1 4-1 3-1 4-1 4-1 5 0 4-1 4-1 4 0 4-1 5 0 4 0 4-1 5 0 4 0 5-1 4 0 5 0 4 0 5 0 4 0 5 0 4 0 4 0 5 1 4 0 5 0 4 1 4 0 5 0 4 1 4 1 4 0 5 1 4 1 4 0 4 1 4 1 3 1 4 1 4 1 4 1 3 1 4 1 3 1M925 1010l4-1 3-1 4-1 4-1 3-1 4-1 4 0 4-1 4-1 4-1 4 0 4-1 5 0 4-1 4 0 4-1 5 0 4 0 4-1 5 0 4 0 4 0 5 0 4 0 5 0 4 0 4 0 5 0 4 0 5 0 4 0 4 1 5 0 4 0 4 1 4 0 5 1 4 0 4 1 4 1 4 0 4 1 4 1 4 0 4 1 3 1 4 1 4 1 3 1 4 1M925 1003l4-1 3-1 4-1 4 0 4-1 4-1 4-1 4 0 4-1 4 0 4-1 4-1 4 0 4 0 4-1 5 0 4-1 4 0 5 0 4 0 4 0 5-1 4 0 4 0 5 0 4 0 4 0 5 0 4 1 4 0 5 0 4 0 4 0 4 1 5 0 4 1 4 0 4 1 4 0 4 1 4 0 4 1 4 1 4 0 4 1 4 1 4 1 4 0 3 1 4 1M925 997l4-1 3-1 4-1 4 0 4-1 4-1 4 0 4-1 4-1 4 0 4-1 4 0 4-1 5 0 4 0 4-1 4 0 4 0 5-1 4 0 4 0 5 0 4 0 4 0 5 0 4 0 4 0 4 0 5 0 4 0 4 0 5 1 4 0 4 0 4 1 4 0 5 0 4 1 4 0 4 1 4 0 4 1 4 1 4 0 4 1 4 1 4 0 4 1 3 1 4 1" clip-path="url(#h15)" fill="none" stroke="#7a8a8a" stroke-width="1.2" opacity="0.6" />
<path d="M736 1005l3.3-0.9 4.5-1.3 5.3-1.5 5.8-1.6 5.7-1.7 5.4-1.7 5-1.6 5.1-1.7 5-1.6 5-1.8 5.1-1.8 5-2 5-2.1 5-2.1 5.1-2.2 5-2.3 5-2.4 5-2.5 5-2.5 5-2.6 5.1-2.7 5-2.8 5-2.9 5-3 5-3.2 5-3.2 5-3.4 5-3.5 5-3.8 5-4 5-4.3 5-4.7 5-4.8 5-5 5-5 5.1-4.8 5.5-5.1 6.1-5.5 6-5.4 5.7-5.1 4.8-4.3 3.4-3.1" fill="none" stroke="#3a1a1a" stroke-width="4" stroke-linejoin="round" stroke-linecap="round" opacity="0.85"/>
<path d="M1318.5 1005l-3.3-0.9-4.5-1.3-5.3-1.5-5.8-1.6-5.7-1.7-5.4-1.7-5-1.6-5.1-1.7-5-1.6-5-1.8-5.1-1.8-5-2-5-2.1-5-2.1-5.1-2.2-5-2.3-5-2.4-5-2.5-5-2.5-5-2.6-5.1-2.7-5-2.8-5-2.9-5-3-5-3.2-5-3.2-5-3.4-5-3.5-5-3.8-5-4-5-4.3-5-4.7-5-4.8-5-5-5-5-5.1-4.8-5.5-5.1-6.1-5.5-6-5.4-5.7-5.1-4.8-4.3-3.4-3.1" fill="none" stroke="#3a1a1a" stroke-width="4" stroke-linejoin="round" stroke-linecap="round" opacity="0.85"/>
<path d="M1027.2 978l-0.8 0.6-1.2 0.8-1.4 1-1.6 1.1-1.7 1.3-1.7 1.4-1.8 1.7-1.8 1.9-2 2.1-2 2.1-2.2 2.1-2.2 1.9-2.3 1.8-2.5 1.8-2.5 1.7-2.6 1.6-2.6 1.6-2.5 1.5-2.5 1.4-2.5 1.3-2.6 1.3-2.5 1.1-2.5 1.1-2.5 1.1-2.5 1-2.5 0.9-2.5 0.9-2.5 0.8-2.5 0.8-2.5 0.6-2.5 0.6-2.5 0.4-2.5 0.4-2.6 0.4-2.5 0.2-2.5 0.2-2.5 0.1-2.5 0-2.5 0-2.5-0.2-2.5-0.2-2.5-0.2-2.5-0.3-2.5-0.3-2.5-0.4-2.6-0.4-2.5-0.6-2.5-0.6-2.5-0.7-2.5-0.8-2.6-0.9-2.5-1-2.5-1-2.5-1-2.5-1-2.5-1.1-2.5-1.1-2.5-1.1-2.5-1.2-2.5-1.2-2.5-1.2-2.5-1.3-2.5-1.2-2.5-1.4-2.5-1.3-2.5-1.4-2.5-1.5-2.5-1.5-2.5-1.6-2.5-1.5-2.5-1.6-2.5-1.5-2.5-1.4-2.5-1.5-2.6-1.3-2.5-1.4-2.5-1.4-2.5-1.3-2.7-1.4-2.9-1.5-2.8-1.5-2.7-1.4-2.3-1.2-1.6-0.8" fill="none" stroke="#4a1010" stroke-width="3" stroke-linejoin="round" stroke-linecap="round" opacity="0.7"/>
<path d="M1027.2 978l0.9 0.6 1.2 0.8 1.4 1 1.6 1.1 1.7 1.3 1.7 1.4 1.8 1.7 1.8 1.9 2 2.1 2 2.1 2.2 2.1 2.2 1.9 2.3 1.8 2.5 1.8 2.5 1.7 2.6 1.6 2.6 1.6 2.5 1.5 2.5 1.4 2.5 1.3 2.5 1.3 2.6 1.1 2.5 1.1 2.5 1.1 2.5 1 2.5 0.9 2.5 0.9 2.5 0.8 2.5 0.8 2.5 0.6 2.5 0.6 2.5 0.4 2.6 0.4 2.5 0.4 2.5 0.2 2.5 0.2 2.5 0.1 2.5 0 2.5 0 2.5-0.2 2.5-0.2 2.5-0.2 2.5-0.3 2.5-0.3 2.5-0.4 2.6-0.4 2.5-0.6 2.5-0.6 2.5-0.7 2.5-0.8 2.6-0.9 2.5-1 2.5-1 2.5-1 2.5-1 2.5-1.1 2.5-1.1 2.5-1.1 2.5-1.2 2.5-1.2 2.5-1.2 2.5-1.3 2.5-1.2 2.5-1.4 2.5-1.3 2.5-1.4 2.5-1.5 2.5-1.5 2.5-1.6 2.5-1.5 2.5-1.6 2.5-1.5 2.5-1.4 2.5-1.5 2.5-1.3 2.6-1.4 2.5-1.4 2.5-1.3 2.7-1.4 2.9-1.5 2.8-1.5 2.7-1.4 2.3-1.2 1.6-0.8" fill="none" stroke="#4a1010" stroke-width="3" stroke-linejoin="round" stroke-linecap="round" opacity="0.7"/>
<path d="M736 811.8l4.4 0.3 6 0.3 7.2 0.5 7.8 0.6 8 0.8 7.7 1 7.5 1.3 7.8 1.5 7.9 1.8 8 1.9 8 2 7.9 2.1 7.8 2.2 7.9 2.4 7.9 2.5 7.8 2.7 7.9 2.7 7.8 2.8 8.1 3 8.3 3.1 8.3 3.3 8.1 3.3 7.5 3.1 6.8 3 6.1 2.9 5.7 3.1 5.2 2.9 4.6 2.6 3.8 2.3 2.8 1.6" fill="none" stroke="#ee8080" stroke-width="2.6" stroke-linejoin="round" stroke-linecap="round" />
<path d="M1318.5 811.8l-4.4 0.3-6 0.3-7.2 0.5-7.8 0.6-8 0.8-7.7 1-7.5 1.3-7.8 1.5-7.9 1.8-8 1.9-8 2-7.9 2.1-7.9 2.2-7.8 2.4-7.8 2.5-7.9 2.7-7.9 2.7-7.8 2.8-8.1 3-8.3 3.1-8.3 3.3-8.1 3.3-7.5 3.1-6.8 3-6.1 2.9-5.7 3.1-5.2 2.9-4.6 2.6-3.8 2.3-2.8 1.6" fill="none" stroke="#ee8080" stroke-width="2.6" stroke-linejoin="round" stroke-linecap="round" />
<path d="M1010 812.5l0.9-0.3 1.1-0.4 1.4-0.5 1.5-0.5 1.6-0.4 1.5-0.4 1.5-0.3 1.5-0.2 1.6-0.2 1.6-0.2 1.5-0.1 1.5 0 1.5 0 1.5 0.1 1.5 0.2 1.4 0.2 1.5 0.2 1.4 0.3 1.5 0.4 1.6 0.4 1.6 0.5 1.5 0.5 1.2 0.4 0.9 0.3" fill="none" stroke="#ee8080" stroke-width="2.4" stroke-linejoin="round" stroke-linecap="round" />
<path d="M1010 959.6l0.9 0.3 1.1 0.5 1.4 0.6 1.5 0.6 1.6 0.5 1.5 0.4 1.5 0.3 1.5 0.2 1.6 0.2 1.6 0.2 1.5 0.1 1.5 0 1.5 0 1.5-0.1 1.5-0.2 1.4-0.2 1.5-0.2 1.4-0.3 1.5-0.4 1.6-0.5 1.6-0.6 1.5-0.6 1.2-0.5 0.9-0.3" fill="none" stroke="#ee8080" stroke-width="2.4" stroke-linejoin="round" stroke-linecap="round" />
</g>
<clipPath id="clf"><rect x="1382" y="564" width="580" height="482"/></clipPath>
<g clip-path="url(#clf)">
<clipPath id="cfup"><path d="M1375 558l0 43 2 0 2 0.1 2 0 1.9 0.1 2 0.1 2 0 2 0.1 2 0.1 2 0.1 2 0.1 2 0.1 1.9 0.1 2 0.1 2 0.2 2 0.1 2 0.2 2 0.2 2 0.2 1.9 0.2 2 0.2 2 0.3 2 0.2 2 0.3 2 0.3 2 0.2 2 0.3 1.9 0.3 2 0.3 2 0.4 2 0.3 2 0.4 2 0.4 2 0.5 1.9 0.5 2 0.5 2 0.5 2 0.6 2 0.6 2 0.9 2 1 2 1.2 1.9 1.4 2 1.4 2 1.4 2 1.5 2 1.4 2 1.3 2 1.2 1.9 1.3 2 1.3 2 1.2 2 1.3 2 1.4 2 1.4 2 1.4 2 1.6 1.9 1.6 2 1.8 2 2 2 2.1 2 2.3 2 2.3 2 2.5 1.9 2.5 2 2.6 2 2.7 2 2.6 2 2.6 2 2.6 2 2.6 2 2.6 1.9 2.7 2 2.8 2 2.7 2 2.8 2 2.9 2 2.9 2 2.9 1.9 2.9 2 3 2 3.1 2 3.2 2 3.3 2 3.3 2 3.3 1.9 3.3 2 3.3 2 3.2 2 3.1 2 2.9 2 2.9 2 2.7 2 2.7 1.9 2.6 2 2.5 2 2.5 2 2.5 2 2.5 2 2.5 2 2.5 1.9 2.6 2 2.6 2 2.5 2 2.6 2 2.6 2 2.6 2 2.6 2 2.6 1.9 2.5 2 2.6 2 2.6 2 2.6 2 2.7 2 2.6 2 2.6 1.9 2.7 2 2.6 2 2.7 2 2.6 2 2.7 2 2.6 2 2.7 2 2.6 1.9 2.7 2 2.6 2 2.7 2 2.7 2 2.7 2 2.6 2 2.7 1.9 2.5 2 2.6 2 2.4 2 2.5 2 2.4 2 2.3 2 2.3 2 2.3 1.9 2.3 2 2.3 2 2.2 2 2.1 2 2.2 2 2.1 2 1.9 1.9-1.8 2-2 2-1.9 2-1.9 2-2 2-1.9 2-2 2-2 1.9-2 2-2.1 2-2 2-2.1 2-2 2-2.1 2-2.1 1.9-2.1 2-2.1 2-2.1 2-2.2 2-2.1 2-2.2 2-2.2 2-2.2 1.9-2.3 2-2.3 2-2.3 2-2.4 2-2.4 2-2.5 2-2.6 1.9-2.6 2-2.6 2-2.7 2-2.6 2-2.7 2-2.8 2-2.8 2-2.8 1.9-2.9 2-2.8 2-2.8 2-2.8 2-2.8 2-2.7 2-2.7 1.9-2.6 2-2.7 2-2.6 2-2.5 2-2.6 2-2.6 2-2.5 2-2.6 1.9-2.5 2-2.6 2-2.6 2-2.6 2-2.6 2-2.5 2-2.6 1.9-2.6 2-2.6 2-2.6 2-2.5 2-2.6 2-2.6 2-2.6 2-2.6 1.9-2.6 2-2.6 2-2.6 2-2.7 2-2.6 2-2.6 2-2.5 1.9-2.6 2-2.5 2-2.5 2-2.4 2-2.5 2-2.5 2-2.4 1.9-2.4 2-2.4 2-2.4 2-2.3 2-2.2 2-2.2 2-2.2 2-2.2 1.9-2.2 2-2.1 2-2.2 2-2 2-2.1 2-1.9 2-1.8 1.9-1.8 2-1.5 2-1.5 2-1.4 2-1.4 2-1.3 2-1.2 2-1.2 1.9-1.2 2-1.1 2-1 2-1 2-1 2-1 2-0.9 1.9-1 2-0.9 2-0.9 2-0.8 2-0.8 2-0.8 2-0.6 2-0.6 1.9-0.5 2-0.4 2-0.5 2-0.3 2-0.4 2-0.3 2-0.3 1.9-0.3 2-0.3 2-0.2 2-0.2 2-0.2 2-0.1 2-0.2 2-0.2 1.9-0.1 2-0.2 2-0.1 2-0.2 2-0.1 2-0.2 2-0.1 1.9-0.1 2-0.2 2-0.1 2-0.1 2-0.1 2-0.1 2 0 2-0.1 1.9-0.1 2 0 2-0.1 2 0 0-44z"/></clipPath>
<clipPath id="cflo"><path d="M1375 1007.5l2 0 2-0.1 2-0.1 1.9 0 2-0.1 2-0.1 2-0.1 2-0.1 2-0.2 2-0.1 2-0.2 1.9-0.1 2-0.2 2-0.2 2-0.1 2-0.2 2-0.2 2-0.2 1.9-0.2 2-0.2 2-0.3 2-0.2 2-0.2 2-0.2 2-0.2 2-0.3 1.9-0.3 2-0.3 2-0.3 2-0.4 2-0.4 2-0.4 2-0.4 1.9-0.5 2-0.4 2-0.5 2-0.5 2-0.5 2-0.6 2-0.5 2-0.5 1.9-0.5 2-0.6 2-0.5 2-0.6 2-0.5 2-0.5 2-0.6 1.9-0.5 2-0.6 2-0.5 2-0.6 2-0.6 2-0.6 2-0.7 2-0.6 1.9-0.6 2-0.7 2-0.7 2-0.6 2-0.7 2-0.7 2-0.7 1.9-0.7 2-0.7 2-0.7 2-0.7 2-0.7 2-0.8 2-0.7 2-0.8 1.9-0.7 2-0.8 2-0.7 2-0.8 2-0.8 2-0.8 2-0.8 1.9-0.8 2-0.9 2-0.8 2-0.9 2-0.9 2-0.8 2-1 1.9-0.9 2-0.9 2-1 2-1 2-1 2-1 2-1.1 2-1.1 1.9-1.1 2-1.2 2-1.1 2-1.3 2-1.2 2-1.2 2-1.3 1.9-1.3 2-1.4 2-1.3 2-1.4 2-1.3 2-1.4 2-1.4 2-1.4 1.9-1.4 2-1.5 2-1.4 2-1.4 2-1.5 2-1.5 2-1.5 1.9-1.6 2-1.5 2-1.6 2-1.7 2-1.6 2-1.7 2-1.6 2-1.7 1.9-1.7 2-1.8 2-1.8 2-1.8 2-1.8 2-1.9 2-1.8 1.9-1.8 2-1.8 2-1.8 2-1.7 2-1.6 2-1.7 2-1.6 2-1.6 1.9-1.5 2-1.6 2-1.5 2-1.6 2-1.5 2-1.4 2-1.5 1.9-1.4 2 0.1 2 1.7 2 1.6 2 1.7 2 1.8 2 1.7 2 1.8 1.9 1.8 2 1.8 2 1.8 2 1.9 2 1.8 2 1.9 2 1.8 1.9 1.9 2 1.9 2 2 2 2 2 2 2 2 2 2.1 2 2.1 1.9 2 2 2 2 2 2 1.9 2 1.8 2 1.7 2 1.8 1.9 1.7 2 1.8 2 1.6 2 1.7 2 1.6 2 1.5 2 1.4 2 1.4 1.9 1.2 2 1.2 2 1.1 2 1.1 2 1 2 0.9 2 1 1.9 0.9 2 0.9 2 0.9 2 1 2 0.9 2 1.1 2 1 2 1 1.9 1 2 1.1 2 1 2 1 2 1 2 0.9 2 1 1.9 0.9 2 0.8 2 0.8 2 0.9 2 0.8 2 0.7 2 0.8 2 0.8 1.9 0.7 2 0.8 2 0.8 2 0.8 2 0.8 2 0.7 2 0.8 1.9 0.8 2 0.8 2 0.8 2 0.8 2 0.8 2 0.8 2 0.8 1.9 0.8 2 0.8 2 0.8 2 0.8 2 0.9 2 0.8 2 0.8 2 0.8 1.9 0.8 2 0.7 2 0.8 2 0.7 2 0.7 2 0.6 2 0.7 1.9 0.6 2 0.6 2 0.7 2 0.5 2 0.6 2 0.5 2 0.6 2 0.4 1.9 0.5 2 0.4 2 0.5 2 0.4 2 0.4 2 0.4 2 0.3 1.9 0.4 2 0.3 2 0.4 2 0.3 2 0.3 2 0.4 2 0.3 2 0.3 1.9 0.4 2 0.3 2 0.3 2 0.3 2 0.3 2 0.3 2 0.2 1.9 0.3 2 0.2 2 0.1 2 0.2 2 0.1 2 0.1 2 0.1 2 0 1.9 0.1 2 0.1 2 0 2 0.1 2 0.1 2 0 2 0.1 1.9 0.1 2 0 2 0 2 0.1 2 0 2 0.1 2 0 2 0 1.9 0.1 2 0 2 0 2 0 0 43.8-594 0z"/></clipPath>
<linearGradient id="gfu" x1="1382" x2="1962" y1="0" y2="0" gradientUnits="userSpaceOnUse"><stop offset="0.0000" stop-color="#b04c4c"/><stop offset="0.1172" stop-color="#c27474"/><stop offset="0.3310" stop-color="#cc9292"/><stop offset="0.4724" stop-color="#c8a2a2"/><stop offset="0.4724" stop-color="#a8bcbc"/><stop offset="0.6569" stop-color="#80bcbc"/><stop offset="0.8690" stop-color="#5eb0b0"/><stop offset="1.0000" stop-color="#3e9c9c"/></linearGradient>
<linearGradient id="gfuc" x1="1382" x2="1962" y1="0" y2="0" gradientUnits="userSpaceOnUse"><stop offset="0.0000" stop-color="#c46a6a"/><stop offset="0.1172" stop-color="#ecc8c8"/><stop offset="0.4724" stop-color="#f2d8d8"/><stop offset="0.4724" stop-color="#d8f0f0"/><stop offset="0.8414" stop-color="#cfeaea"/><stop offset="0.9207" stop-color="#7cc2c2"/><stop offset="1.0000" stop-color="#4aa6a6"/></linearGradient>
<linearGradient id="gfua" x1="1382" x2="1962" y1="0" y2="0" gradientUnits="userSpaceOnUse"><stop offset="0.0000" stop-color="#d49c9c"/><stop offset="0.4724" stop-color="#d49c9c"/><stop offset="0.4724" stop-color="#8ccaca"/><stop offset="1.0000" stop-color="#8ccaca"/></linearGradient>
<linearGradient id="gfub" x1="1382" x2="1962" y1="0" y2="0" gradientUnits="userSpaceOnUse"><stop offset="0.0000" stop-color="#a83a3a"/><stop offset="0.4724" stop-color="#a83a3a"/><stop offset="0.4724" stop-color="#289494"/><stop offset="1.0000" stop-color="#289494"/></linearGradient>
<linearGradient id="gfl" x1="1382" x2="1962" y1="0" y2="0" gradientUnits="userSpaceOnUse"><stop offset="0.0000" stop-color="#2e9494"/><stop offset="0.2414" stop-color="#40a0a0"/><stop offset="0.3862" stop-color="#789c9c"/><stop offset="0.4828" stop-color="#9aa0a0"/><stop offset="0.4828" stop-color="#a89090"/><stop offset="0.6379" stop-color="#b07070"/><stop offset="0.7931" stop-color="#b05858"/><stop offset="1.0000" stop-color="#a04848"/></linearGradient>
<linearGradient id="gflc" x1="1382" x2="1962" y1="0" y2="0" gradientUnits="userSpaceOnUse"><stop offset="0.0000" stop-color="#d4eeee"/><stop offset="0.4828" stop-color="#d4eeee"/><stop offset="0.4828" stop-color="#f4dcdc"/><stop offset="1.0000" stop-color="#f4dcdc"/></linearGradient>
<linearGradient id="gfla" x1="1382" x2="1962" y1="0" y2="0" gradientUnits="userSpaceOnUse"><stop offset="0.0000" stop-color="#7cc4c4"/><stop offset="0.4828" stop-color="#7cc4c4"/><stop offset="0.4828" stop-color="#d49c9c"/><stop offset="1.0000" stop-color="#d49c9c"/></linearGradient>
<linearGradient id="gflb" x1="1382" x2="1962" y1="0" y2="0" gradientUnits="userSpaceOnUse"><stop offset="0.0000" stop-color="#1e8a8a"/><stop offset="0.4828" stop-color="#1e8a8a"/><stop offset="0.4828" stop-color="#a03c3c"/><stop offset="1.0000" stop-color="#a03c3c"/></linearGradient>
<path d="M1375 558l0 43 2 0 2 0.1 2 0 1.9 0.1 2 0.1 2 0 2 0.1 2 0.1 2 0.1 2 0.1 2 0.1 1.9 0.1 2 0.1 2 0.2 2 0.1 2 0.2 2 0.2 2 0.2 1.9 0.2 2 0.2 2 0.3 2 0.2 2 0.3 2 0.3 2 0.2 2 0.3 1.9 0.3 2 0.3 2 0.4 2 0.3 2 0.4 2 0.4 2 0.5 1.9 0.5 2 0.5 2 0.5 2 0.6 2 0.6 2 0.9 2 1 2 1.2 1.9 1.4 2 1.4 2 1.4 2 1.5 2 1.4 2 1.3 2 1.2 1.9 1.3 2 1.3 2 1.2 2 1.3 2 1.4 2 1.4 2 1.4 2 1.6 1.9 1.6 2 1.8 2 2 2 2.1 2 2.3 2 2.3 2 2.5 1.9 2.5 2 2.6 2 2.7 2 2.6 2 2.6 2 2.6 2 2.6 2 2.6 1.9 2.7 2 2.8 2 2.7 2 2.8 2 2.9 2 2.9 2 2.9 1.9 2.9 2 3 2 3.1 2 3.2 2 3.3 2 3.3 2 3.3 1.9 3.3 2 3.3 2 3.2 2 3.1 2 2.9 2 2.9 2 2.7 2 2.7 1.9 2.6 2 2.5 2 2.5 2 2.5 2 2.5 2 2.5 2 2.5 1.9 2.6 2 2.6 2 2.5 2 2.6 2 2.6 2 2.6 2 2.6 2 2.6 1.9 2.5 2 2.6 2 2.6 2 2.6 2 2.7 2 2.6 2 2.6 1.9 2.7 2 2.6 2 2.7 2 2.6 2 2.7 2 2.6 2 2.7 2 2.6 1.9 2.7 2 2.6 2 2.7 2 2.7 2 2.7 2 2.6 2 2.7 1.9 2.5 2 2.6 2 2.4 2 2.5 2 2.4 2 2.3 2 2.3 2 2.3 1.9 2.3 2 2.3 2 2.2 2 2.1 2 2.2 2 2.1 2 1.9 1.9-1.8 2-2 2-1.9 2-1.9 2-2 2-1.9 2-2 2-2 1.9-2 2-2.1 2-2 2-2.1 2-2 2-2.1 2-2.1 1.9-2.1 2-2.1 2-2.1 2-2.2 2-2.1 2-2.2 2-2.2 2-2.2 1.9-2.3 2-2.3 2-2.3 2-2.4 2-2.4 2-2.5 2-2.6 1.9-2.6 2-2.6 2-2.7 2-2.6 2-2.7 2-2.8 2-2.8 2-2.8 1.9-2.9 2-2.8 2-2.8 2-2.8 2-2.8 2-2.7 2-2.7 1.9-2.6 2-2.7 2-2.6 2-2.5 2-2.6 2-2.6 2-2.5 2-2.6 1.9-2.5 2-2.6 2-2.6 2-2.6 2-2.6 2-2.5 2-2.6 1.9-2.6 2-2.6 2-2.6 2-2.5 2-2.6 2-2.6 2-2.6 2-2.6 1.9-2.6 2-2.6 2-2.6 2-2.7 2-2.6 2-2.6 2-2.5 1.9-2.6 2-2.5 2-2.5 2-2.4 2-2.5 2-2.5 2-2.4 1.9-2.4 2-2.4 2-2.4 2-2.3 2-2.2 2-2.2 2-2.2 2-2.2 1.9-2.2 2-2.1 2-2.2 2-2 2-2.1 2-1.9 2-1.8 1.9-1.8 2-1.5 2-1.5 2-1.4 2-1.4 2-1.3 2-1.2 2-1.2 1.9-1.2 2-1.1 2-1 2-1 2-1 2-1 2-0.9 1.9-1 2-0.9 2-0.9 2-0.8 2-0.8 2-0.8 2-0.6 2-0.6 1.9-0.5 2-0.4 2-0.5 2-0.3 2-0.4 2-0.3 2-0.3 1.9-0.3 2-0.3 2-0.2 2-0.2 2-0.2 2-0.1 2-0.2 2-0.2 1.9-0.1 2-0.2 2-0.1 2-0.2 2-0.1 2-0.2 2-0.1 1.9-0.1 2-0.2 2-0.1 2-0.1 2-0.1 2-0.1 2 0 2-0.1 1.9-0.1 2 0 2-0.1 2 0 0-44z" fill="url(#gfu)" />
<path d="M1375 558l0 35.5 2 0 2 0.1 2 0 1.9 0.1 2 0 2 0 2 0 2 0 2 0 2 0 2 0 1.9 0 2 0 2 0.1 2 0 2 0.1 2 0.1 2 0.1 1.9 0.2 2 0.1 2 0.2 2 0.1 2 0.2 2 0.2 2 0.2 2 0.2 1.9 0.2 2 0.2 2 0.2 2 0.3 2 0.3 2 0.3 2 0.4 1.9 0.4 2 0.4 2 0.5 2 0.4 2 0.6 2 0.8 2 0.9 2 1.1 1.9 1.3 2 1.3 2 1.4 2 1.3 2 1.3 2 1.2 2 1.2 1.9 1.2 2 1.1 2 1.2 2 1.2 2 1.3 2 1.3 2 1.4 2 1.6 1.9 1.6 2 1.8 2 1.4 2 0.9 2 0.9 2 0.9 2 1 1.9 0.9 2 0.9 2 0.9 2 0.9 2 0.9 2 0.9 2 0.9 2 0.9 1.9 0.9 2 0.9 2 0.9 2 0.9 2 0.8 2 0.9 2 0.9 1.9 0.8 2 0.9 2 0.8 2 0.8 2 0.8 2 0.9 2 0.8 1.9 0.8 2 0.8 2 0.8 2 0.8 2 0.7 2 0.8 2 0.8 2 0.8 1.9 0.8 2 0.8 2 0.7 2 0.8 2 0.8 2 0.8 2 0.8 1.9 0.8 2 0.8 2 0.8 2 0.8 2 0.9 2 0.9 2 0.9 2 0.9 1.9 0.8 2 0.9 2 0.9 2 0.9 2 0.8 2 0.9 2 0.8 1.9 0.8 2 0.8 2 0.7 2 0.8 2 0.6 2 0.7 2 0.5 2 0.6 1.9 0.5 2 0.5 2 0.5 2 0.5 2 0.5 2 0.4 2 0.5 1.9 0.4 2 0.4 2 0.4 2 0.4 2 0.3 2 0.4 2 0.2 2 0.3 1.9 0.2 2 0.2 2 0.1 2 0.1 2 0.2 2 0.1 2 0.1 1.9 0.1 2 0 2 0.1 2 0 2 0 2-0.1 2-0.1 2-0.1 1.9-0.2 2-0.3 2-0.2 2-0.3 2-0.3 2-0.3 2-0.4 1.9-0.3 2-0.3 2-0.4 2-0.3 2-0.4 2-0.5 2-0.4 2-0.5 1.9-0.5 2-0.6 2-0.5 2-0.6 2-0.6 2-0.6 2-0.6 1.9-0.7 2-0.6 2-0.6 2-0.7 2-0.7 2-0.8 2-0.7 2-0.9 1.9-0.8 2-0.8 2-0.9 2-0.8 2-0.9 2-0.8 2-0.8 1.9-0.8 2-0.8 2-0.7 2-0.8 2-0.7 2-0.8 2-0.8 2-0.8 1.9-0.8 2-0.9 2-0.9 2-0.9 2-1 2-1 2-1 1.9-1 2-1 2-1 2-1.1 2-1 2-1 2-1 2-1 1.9-1 2-1 2-1 2-0.9 2-1 2-1 2-1 1.9-1 2-1 2-1 2-1 2-1.1 2-1 2-1 1.9-1 2-1 2-1 2-1 2-1 2-0.9 2-0.9 2-0.8 1.9-0.9 2-0.9 2-0.9 2-0.8 2-0.8 2-0.8 2-0.7 1.9-0.7 2-0.6 2-0.5 2-0.5 2-0.9 2-1.2 2-1.1 2-1.1 1.9-1.1 2-1 2-1 2-0.9 2-0.9 2-0.8 2-0.9 1.9-0.8 2-0.9 2-0.8 2-0.7 2-0.8 2-0.6 2-0.6 2-0.5 1.9-0.4 2-0.3 2-0.4 2-0.2 2-0.3 2-0.2 2-0.3 1.9-0.2 2-0.1 2-0.2 2-0.1 2-0.1 2 0 2-0.1 2-0.1 1.9-0.1 2 0 2-0.1 2-0.1 2 0 2-0.1 2-0.1 1.9-0.1 2-0.2 2-0.1 2-0.1 2-0.1 2-0.1 2 0 2-0.1 1.9-0.1 2 0 2-0.1 2 0 0-36.5z" fill="url(#gfuc)" />
<clipPath id="h16"><path d="M1375 558l0 35.5 2 0 2 0.1 2 0 1.9 0.1 2 0 2 0 2 0 2 0 2 0 2 0 2 0 1.9 0 2 0 2 0.1 2 0 2 0.1 2 0.1 2 0.1 1.9 0.2 2 0.1 2 0.2 2 0.1 2 0.2 2 0.2 2 0.2 2 0.2 1.9 0.2 2 0.2 2 0.2 2 0.3 2 0.3 2 0.3 2 0.4 1.9 0.4 2 0.4 2 0.5 2 0.4 2 0.6 2 0.8 2 0.9 2 1.1 1.9 1.3 2 1.3 2 1.4 2 1.3 2 1.3 2 1.2 2 1.2 1.9 1.2 2 1.1 2 1.2 2 1.2 2 1.3 2 1.3 2 1.4 2 1.6 1.9 1.6 2 1.8 2 1.4 2 0.9 2 0.9 2 0.9 2 1 1.9 0.9 2 0.9 2 0.9 2 0.9 2 0.9 2 0.9 2 0.9 2 0.9 1.9 0.9 2 0.9 2 0.9 2 0.9 2 0.8 2 0.9 2 0.9 1.9 0.8 2 0.9 2 0.8 2 0.8 2 0.8 2 0.9 2 0.8 1.9 0.8 2 0.8 2 0.8 2 0.8 2 0.7 2 0.8 2 0.8 2 0.8 1.9 0.8 2 0.8 2 0.7 2 0.8 2 0.8 2 0.8 2 0.8 1.9 0.8 2 0.8 2 0.8 2 0.8 2 0.9 2 0.9 2 0.9 2 0.9 1.9 0.8 2 0.9 2 0.9 2 0.9 2 0.8 2 0.9 2 0.8 1.9 0.8 2 0.8 2 0.7 2 0.8 2 0.6 2 0.7 2 0.5 2 0.6 1.9 0.5 2 0.5 2 0.5 2 0.5 2 0.5 2 0.4 2 0.5 1.9 0.4 2 0.4 2 0.4 2 0.4 2 0.3 2 0.4 2 0.2 2 0.3 1.9 0.2 2 0.2 2 0.1 2 0.1 2 0.2 2 0.1 2 0.1 1.9 0.1 2 0 2 0.1 2 0 2 0 2-0.1 2-0.1 2-0.1 1.9-0.2 2-0.3 2-0.2 2-0.3 2-0.3 2-0.3 2-0.4 1.9-0.3 2-0.3 2-0.4 2-0.3 2-0.4 2-0.5 2-0.4 2-0.5 1.9-0.5 2-0.6 2-0.5 2-0.6 2-0.6 2-0.6 2-0.6 1.9-0.7 2-0.6 2-0.6 2-0.7 2-0.7 2-0.8 2-0.7 2-0.9 1.9-0.8 2-0.8 2-0.9 2-0.8 2-0.9 2-0.8 2-0.8 1.9-0.8 2-0.8 2-0.7 2-0.8 2-0.7 2-0.8 2-0.8 2-0.8 1.9-0.8 2-0.9 2-0.9 2-0.9 2-1 2-1 2-1 1.9-1 2-1 2-1 2-1.1 2-1 2-1 2-1 2-1 1.9-1 2-1 2-1 2-0.9 2-1 2-1 2-1 1.9-1 2-1 2-1 2-1 2-1.1 2-1 2-1 1.9-1 2-1 2-1 2-1 2-1 2-0.9 2-0.9 2-0.8 1.9-0.9 2-0.9 2-0.9 2-0.8 2-0.8 2-0.8 2-0.7 1.9-0.7 2-0.6 2-0.5 2-0.5 2-0.9 2-1.2 2-1.1 2-1.1 1.9-1.1 2-1 2-1 2-0.9 2-0.9 2-0.8 2-0.9 1.9-0.8 2-0.9 2-0.8 2-0.7 2-0.8 2-0.6 2-0.6 2-0.5 1.9-0.4 2-0.3 2-0.4 2-0.2 2-0.3 2-0.2 2-0.3 1.9-0.2 2-0.1 2-0.2 2-0.1 2-0.1 2 0 2-0.1 2-0.1 1.9-0.1 2 0 2-0.1 2-0.1 2 0 2-0.1 2-0.1 1.9-0.1 2-0.2 2-0.1 2-0.1 2-0.1 2-0.1 2 0 2-0.1 1.9-0.1 2 0 2-0.1 2 0 0-36.5z"/></clipPath>
<path d="M1657 548l0 2 2 2 2 1 3 1 2 0 3-1 2-1 2-2 0-2M1649 548l1 4 3 3 4 3 5 1 6 0 5-1 4-3 3-3 1-4M1641 548l2 5 3 5 5 4 7 2 7 1 7-1 7-2 5-4 3-5 2-5M1634 548l1 5 2 5 4 4 5 3 6 3 6 2 7 0 7 0 6-2 6-3 5-3 4-4 2-5 1-5M1626 548l1 5 2 4 3 5 3 4 5 3 6 3 6 2 6 1 7 1 7-1 6-1 6-2 6-3 5-3 3-4 3-5 2-4 1-5M1619 548l0 5 2 4 2 5 3 4 4 4 5 3 5 3 6 2 6 2 6 1 7 0 7 0 6-1 6-2 6-2 5-3 5-3 4-4 3-4 2-5 2-4 0-5M1611 548l1 5 1 5 2 4 3 4 4 5 4 3 5 4 5 2 6 3 6 2 7 1 7 0 6 0 7 0 7-1 6-2 6-3 5-2 5-4 4-3 4-5 3-4 2-4 1-5 1-5M1604 548l0 5 1 4 2 5 2 4 3 5 4 4 4 3 5 3 6 3 5 3 6 2 7 1 6 1 7 1 6 0 7-1 6-1 7-1 6-2 5-3 6-3 5-3 4-3 4-4 3-5 2-4 2-5 1-4 0-5M1596 548l0 5 1 4 2 5 2 4 3 5 3 4 4 3 4 4 5 3 5 3 6 3 5 2 6 1 7 2 6 1 7 0 6 0 7 0 6-1 7-2 6-1 5-2 6-3 5-3 5-3 4-4 4-3 3-4 3-5 2-4 2-5 1-4 0-5M1589 548l0 5 1 4 1 5 2 4 2 4 3 5 4 4 4 3 4 4 4 3 6 3 5 2 6 3 5 2 7 1 6 1 6 1 7 1 6 0 7-1 6-1 6-1 7-1 5-2 6-3 5-2 6-3 4-3 4-4 4-3 4-4 3-5 2-4 2-4 1-5 1-4 0-5M1581 548l0 5 1 4 1 5 2 4 2 4 3 5 3 4 3 4 4 3 4 4 5 3 5 3 5 2 6 3 6 2 6 1 6 2 6 1 6 1 7 0 6 0 7 0 6-1 6-1 6-2 6-1 6-2 6-3 5-2 5-3 5-3 4-4 4-3 3-4 3-4 3-5 2-4 2-4 1-5 1-4 0-5M1573 548l1 5 0 4 2 5 1 4 2 5 3 4 3 4 3 4 4 4 4 4 4 3 5 3 5 3 5 3 6 2 6 2 6 2 6 2 7 1 6 1 6 0 7 0 7 0 6 0 6-1 7-1 6-2 6-2 6-2 6-2 5-3 5-3 5-3 4-3 4-4 4-4 3-4 3-4 3-4 2-5 1-4 2-5 0-4 1-5M1566 548l0 5 1 4 1 5 1 4 2 5 2 4 3 4 3 4 4 4 3 4 4 4 5 3 5 3 5 3 5 3 5 2 6 2 6 2 6 2 6 1 7 1 6 1 7 1 6 0 6 0 7-1 6-1 7-1 6-1 6-2 6-2 6-2 5-2 5-3 5-3 5-3 5-3 4-4 3-4 4-4 3-4 3-4 2-4 2-5 1-4 1-5 1-4 0-5M1558 548l1 5 0 4 1 5 1 4 2 5 2 4 3 4 3 4 3 4 3 4 4 4 4 4 5 3 4 3 5 3 5 3 6 2 5 2 6 2 6 2 6 2 6 1 7 1 6 1 7 0 6 0 6 0 7 0 6-1 7-1 6-1 6-2 6-2 6-2 5-2 6-2 5-3 5-3 4-3 5-3 4-4 4-4 3-4 3-4 3-4 3-4 2-4 2-5 1-4 1-5 0-4 1-5M1551 548l0 5 0 4 1 5 2 4 1 5 2 4 2 4 3 4 3 4 3 4 4 4 4 4 4 3 4 4 5 3 5 3 5 3 5 2 6 2 5 3 6 1 6 2 6 1 7 2 6 0 6 1 7 0 6 1 6-1 7 0 6-1 6 0 7-2 6-1 6-2 6-1 5-3 6-2 5-2 5-3 5-3 5-3 4-4 4-3 4-4 4-4 3-4 3-4 3-4 2-4 2-4 1-5 2-4 1-5 0-4 0-5M1543 548l0 5 1 4 1 5 1 4 1 5 2 4 3 5 2 4 3 4 3 4 4 4 3 4 4 4 5 3 4 3 5 3 5 3 5 3 5 3 6 2 6 2 6 2 6 2 6 1 6 2 6 0 7 1 6 1 7 0 6 0 7 0 6-1 7-1 6 0 6-2 6-1 6-2 6-2 6-2 6-2 5-3 5-3 5-3 5-3 4-3 5-3 4-4 3-4 4-4 3-4 3-4 2-4 3-5 2-4 1-5 1-4 1-5 1-4 0-5M1536 548l0 5 0 4 1 5 1 4 2 5 1 4 2 5 3 4 2 4 3 4 4 4 3 4 4 4 4 3 4 4 5 3 4 3 5 3 5 3 6 3 5 2 6 2 6 2 6 2 6 2 6 1 6 1 7 1 6 1 6 0 7 0 6 0 7 0 6 0 6-1 7-1 6-1 6-1 6-2 6-2 6-2 6-2 5-2 6-3 5-3 5-3 4-3 5-3 4-4 4-3 4-4 3-4 4-4 3-4 2-4 3-4 2-5 1-4 2-5 1-4 1-5 0-4 0-5M1528 548l0 5 1 4 0 5 1 4 2 5 1 4 2 5 3 4 2 4 3 4 3 4 3 4 4 4 4 4 4 3 4 4 4 3 5 3 5 3 5 3 5 2 6 3 5 2 6 2 6 2 6 2 6 1 6 2 6 1 7 0 6 1 6 1 7 0 6 0 7 0 6-1 6-1 7 0 6-1 6-2 6-1 6-2 6-2 6-2 5-2 6-3 5-2 5-3 5-3 5-3 4-3 4-4 4-3 4-4 4-4 3-4 3-4 3-4 2-4 3-4 2-5 1-4 2-5 1-4 0-5 1-4 0-5M1521 548l0 5 0 4 1 5 1 4 1 5 2 4 1 4 2 5 3 4 2 4 3 4 3 4 4 4 3 4 4 4 4 3 5 4 4 3 5 3 4 3 6 3 5 2 5 3 6 2 5 2 6 2 6 2 6 2 6 1 6 1 6 1 7 1 6 1 6 0 7 0 6 0 7 0 6 0 6-1 7-1 6-1 6-1 6-1 6-2 6-2 6-2 5-2 6-2 5-3 5-2 6-3 4-3 5-3 4-3 5-4 4-3 4-4 3-4 4-4 3-4 3-4 2-4 3-4 2-5 1-4 2-4 1-5 1-4 1-5 0-4 0-5M1513 548l0 5 0 4 1 5 1 4 1 5 2 4 1 4 2 5 3 4 2 4 3 4 3 4 3 4 3 4 4 4 4 3 4 4 4 3 5 4 4 3 5 3 5 3 5 2 6 3 5 2 6 2 5 2 6 2 6 2 6 1 6 2 6 1 7 1 6 0 6 1 6 0 7 1 6 0 7-1 6 0 6-1 6 0 7-1 6-1 6-2 6-1 6-2 6-2 5-2 6-2 5-2 6-3 5-2 5-3 5-3 4-3 5-4 4-3 4-4 4-3 4-4 3-4 3-4 3-4 3-4 2-4 3-4 2-5 1-4 2-4 1-5 1-4 1-5 0-4 0-5M1505 548l1 5 0 4 1 5 0 4 2 5 1 4 2 5 2 4 2 4 2 5 3 4 3 4 3 4 3 4 4 4 3 3 4 4 5 4 4 3 4 3 5 3 5 3 5 3 5 3 6 2 5 3 6 2 6 2 5 2 6 2 6 1 7 1 6 2 6 1 6 1 7 0 6 1 7 0 6 0 6 0 7 0 6-1 7 0 6-1 6-1 6-2 7-1 6-1 6-2 5-2 6-2 6-2 5-3 6-2 5-3 5-3 5-3 5-3 4-3 4-3 5-4 4-4 3-3 4-4 3-4 3-4 3-4 3-4 2-5 2-4 2-4 2-5 1-4 2-5 0-4 1-5 0-4 1-5M1498 548l0 5 0 4 1 5 1 5 1 5 2 4 1 5 2 4 2 5 3 4 3 5 3 4 3 4 3 4 4 4 4 4 4 4 4 3 4 4 5 3 5 4 5 3 5 3 5 2 6 3 6 3 5 2 6 2 6 2 6 2 7 2 6 1 6 1 7 2 6 0 7 1 6 1 7 0 7 0 6 0 7 0 7 0 6-1 7-1 6 0 7-2 6-1 6-1 7-2 6-2 6-2 6-2 5-2 6-3 6-3 5-2 5-3 5-3 5-4 5-3 4-4 4-3 4-4 4-4 4-4 3-4 3-4 3-4 3-5 3-4 2-5 2-4 1-5 2-4 1-5 1-5 1-5 0-4 0-5M1490 548l0 5 1 5 1 5 0 5 2 5 1 4 2 5 2 5 2 5 3 4 3 5 3 4 3 5 4 4 3 4 4 4 5 4 4 4 5 4 5 3 5 4 5 3 5 3 6 3 6 3 6 2 6 3 6 2 6 2 7 2 6 2 7 1 6 2 7 1 7 1 7 1 7 0 7 1 7 0 6 0 7 0 7-1 7 0 7-1 7-1 7-1 6-2 7-1 6-2 7-2 6-2 6-2 6-3 6-2 6-3 6-3 5-3 5-3 5-4 5-3 5-4 4-4 5-4 4-4 3-4 4-4 3-5 3-4 3-5 3-4 2-5 2-5 2-5 1-4 2-5 0-5 1-5 1-5 0-5M1483 548l0 5 0 5 1 5 1 6 1 5 2 5 2 5 2 5 2 5 3 4 3 5 3 5 4 4 3 5 4 4 4 4 5 4 4 4 5 4 5 4 6 4 5 3 6 3 6 3 6 3 6 3 6 2 7 3 6 2 7 2 7 2 6 1 7 2 7 1 8 1 7 1 7 1 7 0 7 0 8 0 7 0 7 0 7-1 7-1 8-1 7-1 7-2 6-1 7-2 7-2 6-2 7-3 6-2 6-3 6-3 6-3 6-3 5-3 6-4 5-4 5-4 4-4 5-4 4-4 4-4 3-5 4-4 3-5 3-5 3-4 2-5 2-5 2-5 2-5 1-5 1-6 1-5 0-5 0-5M1475 548l0 5 1 6 1 5 1 5 1 6 2 5 1 5 3 5 2 6 3 5 3 4 3 5 4 5 4 5 4 4 4 5 5 4 5 4 5 4 5 4 6 4 5 3 6 3 6 4 7 3 6 3 6 2 7 3 7 2 7 2 7 2 7 2 7 1 8 1 7 1 8 1 7 1 8 0 7 1 8 0 7-1 8 0 7-1 8-1 7-1 8-1 7-1 7-2 7-2 7-2 7-2 7-3 6-2 6-3 7-3 6-4 6-3 5-3 6-4 5-4 5-4 5-4 5-4 4-5 4-4 4-5 4-5 3-5 3-4 3-5 2-6 3-5 1-5 2-5 1-6 1-5 1-5 1-6 0-5M1468 548l0 6 0 5 1 6 1 5 1 6 2 5 2 6 3 5 2 5 3 6 3 5 4 5 3 5 4 5 5 4 4 5 5 4 5 5 5 4 6 4 6 4 5 3 7 4 6 3 6 3 7 3 7 3 7 3 7 2 7 2 8 2 7 2 8 1 7 2 8 1 8 1 7 0 8 1 8 0 8 0 8 0 8-1 7 0 8-1 8-1 7-2 8-1 7-2 8-2 7-2 7-2 7-3 7-3 7-3 6-3 6-3 7-4 5-3 6-4 6-4 5-4 5-5 5-4 4-5 5-4 4-5 3-5 4-5 3-5 3-6 2-5 3-5 2-6 2-5 1-6 1-5 1-6 0-5 0-6M1460 548l0 6 1 6 0 5 2 6 1 6 2 6 2 5 2 6 3 5 3 6 3 5 4 5 4 5 4 5 4 5 5 5 5 5 5 4 6 4 6 5 5 4 7 3 6 4 7 3 6 4 7 3 7 3 8 2 7 3 7 2 8 2 8 2 8 2 8 1 8 1 8 1 8 1 8 0 8 0 8 0 8 0 8 0 8-1 8-1 8-1 8-1 8-2 8-2 8-2 7-2 7-3 8-2 7-3 7-3 6-4 7-3 6-4 7-3 5-4 6-5 6-4 5-4 5-5 5-5 4-5 4-5 4-5 4-5 3-5 3-6 3-5 2-6 2-5 2-6 1-6 2-6 0-5 1-6 0-6M1452 548l1 6 0 6 1 6 1 6 2 6 2 6 2 6 2 5 3 6 3 6 3 5 4 6 4 5 5 5 4 5 5 5 5 5 6 5 5 4 6 4 6 5 7 4 6 3 7 4 7 3 7 3 8 3 7 3 8 3 8 2 8 2 8 2 8 2 8 1 8 1 9 1 8 1 8 1 9 0 8 0 9 0 8-1 8-1 9-1 8-1 8-1 8-2 8-2 8-2 8-2 8-3 7-3 8-3 7-3 7-3 7-4 6-3 7-4 6-5 6-4 5-4 6-5 5-5 5-5 4-5 5-5 4-5 4-6 3-5 3-6 3-6 2-5 2-6 2-6 2-6 1-6 1-6 0-6 1-6M1445 548l0 6 1 6 0 7 2 6 1 6 2 6 2 6 3 6 3 6 3 6 4 6 4 5 4 6 4 5 5 5 5 5 5 5 6 5 6 5 6 4 6 5 7 4 7 4 7 3 7 4 7 3 8 3 8 3 8 3 8 2 8 2 8 2 9 2 8 1 9 2 8 1 9 0 9 1 9 0 8 0 9 0 9-1 9 0 8-1 9-2 8-1 9-2 8-2 8-2 8-2 8-3 8-3 8-3 7-3 7-4 7-3 7-4 7-4 6-5 6-4 6-5 6-5 5-5 5-5 5-5 4-5 4-6 4-5 4-6 3-6 3-6 3-6 2-6 2-6 1-6 2-6 0-7 1-6 0-6M1437 548l1 6 0 7 1 6 1 7 2 6 2 6 2 7 3 6 3 6 3 6 4 6 4 6 4 5 5 6 5 5 5 6 5 5 6 5 6 4 7 5 6 5 7 4 7 4 7 4 8 3 8 4 7 3 8 3 9 3 8 2 9 2 8 2 9 2 9 2 8 1 9 1 9 1 9 0 9 1 10 0 9-1 9 0 9-1 9-1 8-1 9-2 9-2 8-2 9-2 8-2 9-3 8-3 7-3 8-4 8-3 7-4 7-4 7-4 6-5 7-5 6-4 6-5 5-5 5-6 5-5 5-6 4-5 4-6 4-6 3-6 3-6 3-6 2-7 2-6 2-6 1-7 1-6 0-7 1-6M1430 548l0 7 1 6 0 7 2 7 1 6 2 7 3 6 3 7 3 6 3 6 4 6 4 6 5 6 4 6 5 5 6 6 6 5 6 5 6 5 6 5 7 5 7 4 8 4 7 4 8 4 8 3 8 4 8 3 9 3 8 2 9 2 9 3 9 1 9 2 9 1 9 1 10 1 9 1 9 0 10 0 9 0 9-1 10-1 9-1 9-1 9-2 9-1 9-3 9-2 8-2 9-3 8-3 8-4 8-3 8-4 7-4 8-4 7-4 7-5 6-5 6-5 6-5 6-5 6-6 5-5 4-6 5-6 4-6 4-6 3-6 3-6 3-7 3-6 2-7 1-6 2-7 0-7 1-6 0-7M1422 548l0 7 1 7 1 7 1 6 2 7 2 7 3 7 2 6 4 7 3 6 4 6 4 7 5 6 5 6 5 5 6 6 6 5 6 6 6 5 7 5 7 5 7 4 8 4 8 4 8 4 8 4 8 3 9 4 9 3 8 2 9 3 10 2 9 2 9 1 10 2 9 1 10 1 10 0 9 0 10 0 9 0 10 0 10-1 9-1 10-2 9-1 9-2 10-2 9-3 8-2 9-3 9-4 8-3 8-4 8-4 8-4 8-4 7-4 7-5 7-5 6-5 6-6 6-5 6-6 5-5 5-6 5-6 4-7 4-6 3-6 4-7 2-6 3-7 2-7 2-7 1-6 1-7 1-7 0-7M1415 548l0 7 0 7 1 7 2 7 2 7 2 7 2 7 3 7 4 7 3 6 4 7 5 6 4 6 5 6 6 6 6 6 6 6 6 5 7 6 7 5 7 5 8 4 7 5 8 4 9 4 8 4 9 3 8 3 9 3 10 3 9 3 9 2 10 2 10 2 9 1 10 1 10 1 10 0 10 1 10 0 10-1 10 0 10-1 10-1 9-1 10-2 10-2 9-2 9-3 10-3 9-3 8-3 9-3 8-4 9-4 8-4 7-5 8-4 7-5 7-5 7-6 6-5 6-6 6-6 6-6 5-6 4-6 5-6 4-7 3-6 4-7 3-7 2-7 2-7 2-7 2-7 1-7 0-7 0-7M1407 548l0 7 1 8 1 7 1 7 2 7 2 8 3 7 3 7 3 7 4 6 4 7 5 7 5 6 5 6 6 6 6 6 6 6 6 6 7 5 7 6 8 5 8 4 8 5 8 4 8 4 9 4 9 4 9 3 9 3 10 3 9 3 10 2 10 2 10 2 10 1 10 1 10 1 11 1 10 0 10 0 10 0 11-1 10-1 10-1 10-1 10-2 10-2 10-2 9-3 10-3 9-3 9-3 9-4 9-4 8-4 8-4 8-5 8-4 8-5 7-6 7-5 6-6 6-6 6-6 6-6 5-6 5-6 5-7 4-7 4-6 3-7 3-7 3-7 2-8 2-7 1-7 1-7 1-8 0-7M1400 548l0 8 0 7 1 8 2 7 2 7 2 8 3 7 3 7 3 7 4 7 5 7 4 7 5 7 6 6 5 7 7 6 6 6 7 5 7 6 7 5 8 6 8 5 8 4 9 5 8 4 9 4 9 4 10 3 9 3 10 3 10 3 10 2 10 2 10 2 11 2 10 1 11 1 10 0 11 1 10 0 11-1 10 0 11-1 10-1 11-2 10-2 10-2 10-2 10-3 10-3 9-3 10-3 9-4 9-4 8-4 9-5 8-4 8-5 8-6 7-5 7-6 7-5 6-6 7-6 5-7 6-6 5-7 4-7 5-7 4-7 3-7 3-7 3-7 2-8 2-7 2-7 1-8 0-7 0-8M1392 548l0 8 1 7 1 8 1 8 2 8 3 7 3 8 3 7 3 7 4 8 5 7 4 7 6 6 5 7 6 7 6 6 7 6 7 6 7 6 8 5 8 6 8 5 8 5 9 4 9 4 9 5 10 3 9 4 10 3 10 3 10 3 11 2 10 3 11 1 10 2 11 1 11 1 11 1 11 0 10 0 11 0 11-1 11-1 11-1 10-2 11-1 10-3 11-2 10-3 10-3 10-3 9-4 10-3 9-5 9-4 9-4 8-5 8-5 8-6 8-5 7-6 7-6 7-6 6-6 6-7 5-7 6-6 4-7 5-7 4-8 3-7 3-7 3-8 3-7 2-8 1-8 1-8 1-7 0-8M1384 548l1 8 0 8 1 8 2 8 2 8 2 7 3 8 4 8 3 7 4 8 5 7 5 7 5 7 6 7 6 7 6 6 7 6 7 7 8 5 8 6 8 6 8 5 9 5 9 5 9 4 10 4 9 4 10 4 10 3 11 3 10 3 11 3 10 2 11 2 11 1 11 1 11 1 11 1 11 0 12 0 11 0 11-1 11-1 11-1 11-1 11-2 10-2 11-3 10-3 11-3 10-3 10-4 9-4 10-4 9-4 9-5 9-5 8-5 8-6 8-6 8-5 7-7 7-6 6-6 6-7 6-7 5-7 5-7 5-7 4-8 3-7 4-8 3-8 2-7 2-8 2-8 1-8 0-8 1-8M1382 587l2 7 3 8 3 7 3 7 4 8 4 7 5 7 4 6 6 7 5 7 6 6 6 6 7 7 7 5 7 6 8 6 7 5 8 5 9 5 8 5 9 4 9 4 9 4 10 4 9 4 10 3 10 3 10 2 10 3 11 2 10 2 11 1 10 2 11 1 11 0 11 1 10 0 11 0 11-1 11-1 10-1 11-1 10-1 11-2 10-2 10-3 10-2 10-3 10-4 10-3 9-4 9-4 9-4 9-4 9-5 8-5 8-5 8-6 7-5 7-6 7-6 7-6 6-6 6-7 6-6 5-7 5-7 4-7 4-7 4-7 3-7 3-8 3-7 2-8 2-7 1-8 1-8 1-7 0-8M1382 609l3 7 4 8 4 7 4 7 5 6 5 7 5 7 6 6 6 6 6 7 7 6 7 5 7 6 8 5 7 6 8 5 9 4 8 5 9 4 9 4 9 4 9 4 10 3 10 4 10 2 9 3 11 3 10 2 10 2 11 1 10 2 11 1 10 0 11 1 10 0 11 0 11 0 10-1 11-1 11-1 10-1 10-2 11-2 10-2 10-2 10-3 10-3 10-3 9-4 9-3 9-4 9-4 9-5 9-4 8-5 8-5 7-6 8-5 7-6 7-5 7-6 6-7 6-6 6-6 5-7 5-7 4-6 5-7 4-8 3-7 3-7 3-7 3-8 2-7 2-8 1-7 1-8 0-7 1-8M1382 626l4 6 4 7 4 6 5 6 4 7 6 6 5 5 6 6 6 6 6 5 6 6 7 5 7 5 7 5 7 5 8 4 7 4 8 5 9 4 8 3 8 4 9 3 9 4 9 3 9 2 9 3 9 2 10 2 9 2 10 2 9 2 10 1 10 1 10 1 10 0 9 0 10 1 10-1 10 0 10 0 10-1 9-1 10-2 10-1 9-2 10-2 9-2 9-2 10-3 9-3 9-3 8-3 9-3 9-4 8-4 8-4 8-4 8-4 7-5 8-4 7-5 7-5 6-6 7-5 6-5 6-6 5-6 6-6 5-6 5-6 4-6 5-7 3-6 4-6 4-7 3-7 2-7 3-6 2-7M1382 640l4 6 4 6 5 6 5 6 5 5 5 6 6 6 6 5 6 5 6 5 6 5 7 5 7 5 7 4 7 5 8 4 7 4 8 4 8 4 8 3 8 4 9 3 8 3 9 3 9 2 9 3 9 2 9 2 9 2 9 1 9 2 10 1 9 1 10 1 9 0 9 1 10 0 9 0 10 0 9-1 10 0 9-1 10-1 9-1 9-2 10-2 9-1 9-3 9-2 9-2 8-3 9-3 9-3 8-3 8-3 8-4 8-4 8-4 8-4 7-4 7-4 7-5 7-5 7-4 6-5 6-6 6-5 6-5 6-6 5-5 5-6 5-6 4-6 5-6 4-6 3-6 4-7 3-6 3-7M1382 652l4 6 5 6 5 5 5 6 5 5 6 6 5 5 6 5 6 5 7 5 6 4 7 5 7 4 7 5 7 4 8 4 7 4 8 3 8 4 8 3 8 3 8 3 8 3 9 3 8 2 9 2 9 3 9 1 9 2 9 2 9 1 9 1 9 1 9 1 9 1 10 0 9 0 9 0 9 0 10 0 9-1 9 0 9-1 9-1 9-2 10-1 8-2 9-2 9-2 9-2 8-3 9-2 8-3 9-3 8-3 8-3 8-4 8-3 7-4 8-4 7-4 7-4 7-5 7-4 6-5 7-5 6-5 6-5 6-5 5-5 6-5 5-6 5-6 4-5 5-6 4-6 4-6 4-6 3-6M1382 663l5 6 4 6 5 5 6 5 5 5 6 5 6 5 6 5 6 5 6 5 7 4 7 4 7 5 7 4 7 4 7 3 8 4 7 3 8 4 8 3 8 3 8 3 9 2 8 3 8 2 9 2 9 2 8 2 9 2 9 1 9 2 9 1 9 1 9 0 9 1 9 1 9 0 9 0 9 0 9-1 9 0 9-1 9-1 9-1 9-1 9-1 9-2 8-2 9-1 9-2 8-3 8-2 9-3 8-2 8-3 8-3 8-4 8-3 7-4 8-3 7-4 7-4 7-4 7-4 7-5 6-4 7-5 6-5 6-5 5-5 6-5 5-5 6-5 5-6 4-5 5-6 4-5 4-6 4-6M1382 674l5 5 5 6 5 5 5 5 6 5 6 5 6 4 6 5 6 5 7 4 6 4 7 4 7 4 7 4 7 4 8 4 7 3 8 3 8 3 7 3 8 3 8 3 9 3 8 2 8 2 9 2 8 2 9 2 8 1 9 2 9 1 9 1 8 1 9 1 9 0 9 1 9 0 9 0 9 0 9 0 9-1 8 0 9-1 9-1 9-1 9-1 8-2 9-1 8-2 9-2 8-2 9-3 8-2 8-3 8-2 8-3 8-3 8-3 7-4 8-3 7-4 7-4 7-3 7-4 7-5 7-4 6-4 6-5 6-4 6-5 6-5 6-5 5-5 5-5 5-6 5-5 4-5 5-6 4-6M1382 684l5 5 5 5 6 5 5 5 6 5 6 4 6 5 6 4 6 5 7 4 7 4 6 4 7 4 7 4 8 3 7 4 7 3 8 3 8 3 8 3 7 3 8 2 9 3 8 2 8 2 8 2 9 2 8 2 9 1 8 1 9 2 9 1 8 1 9 0 9 1 9 0 8 1 9 0 9 0 9-1 8 0 9-1 9 0 9-1 8-1 9-2 9-1 8-1 9-2 8-2 8-2 9-2 8-2 8-3 8-2 8-3 8-3 7-3 8-3 7-4 8-3 7-4 7-3 7-4 7-4 6-4 7-4 6-5 6-4 7-5 5-4 6-5 6-5 5-5 5-5 5-5 5-5 5-6 4-5M1382 693l5 5 5 5 6 5 6 5 5 4 6 5 7 4 6 5 6 4 7 4 7 4 6 3 7 4 8 4 7 3 7 3 8 4 7 3 8 3 8 2 7 3 8 2 8 3 9 2 8 2 8 2 8 2 9 1 8 2 9 1 8 1 9 1 8 1 9 1 9 0 8 1 9 0 9 0 8 0 9 0 9-1 8 0 9-1 9-1 8-1 9-1 8-1 9-2 8-1 8-2 9-2 8-2 8-2 8-2 8-3 8-2 7-3 8-3 8-3 7-3 8-4 7-3 7-4 7-3 7-4 7-4 6-4 7-4 6-4 6-5 6-4 6-5 6-5 5-4 5-5 6-5 5-5 4-5 5-6M1382 702l5 5 6 5 5 5 6 4 6 5 6 4 6 4 7 4 6 4 7 4 7 4 6 4 7 3 8 4 7 3 7 3 8 3 7 3 8 3 8 3 7 2 8 2 8 3 8 2 8 2 9 2 8 1 8 2 9 1 8 2 8 1 9 1 8 0 9 1 8 1 9 0 9 0 8 0 9 0 8 0 9 0 8-1 9 0 9-1 8-1 8-1 9-1 8-2 9-1 8-2 8-2 8-2 8-2 8-2 8-2 8-3 8-3 7-2 8-3 7-3 8-3 7-4 7-3 7-4 7-3 7-4 7-4 6-4 6-4 7-4 6-5 6-4 6-4 5-5 6-5 5-5 5-5 5-5 5-5M1382 711l5 5 6 4 6 5 6 4 6 5 6 4 6 4 6 4 7 4 7 4 6 3 7 4 7 3 7 4 8 3 7 3 8 3 7 3 8 2 7 3 8 2 8 3 8 2 8 2 8 2 8 1 8 2 9 2 8 1 8 1 9 1 8 1 8 1 9 1 8 0 9 0 8 1 9 0 8 0 9 0 8-1 9 0 8-1 9-1 8-1 9-1 8-1 8-1 8-2 9-1 8-2 8-2 8-2 8-2 8-2 8-3 7-2 8-3 7-3 8-2 7-3 8-4 7-3 7-3 7-4 7-3 6-4 7-4 6-4 7-4 6-4 6-4 6-5 5-4 6-5 6-5 5-4 5-5 5-5" clip-path="url(#h16)" fill="none" stroke="url(#gfua)" stroke-width="1.3" opacity="0.7" />
<path d="M1375 602l2 0 2 0.1 2 0 1.9 0.1 2 0.1 2 0 2 0.1 2 0.1 2 0.1 2 0.1 2 0.1 1.9 0.1 2 0.1 2 0.2 2 0.1 2 0.2 2 0.2 2 0.2 1.9 0.2 2 0.2 2 0.3 2 0.2 2 0.3 2 0.3 2 0.2 2 0.3 1.9 0.3 2 0.3 2 0.4 2 0.3 2 0.4 2 0.4 2 0.5 1.9 0.5 2 0.5 2 0.5 2 0.6 2 0.6 2 0.9 2 1 2 1.2 1.9 1.4 2 1.4 2 1.4 2 1.5 2 1.4 2 1.3 2 1.2 1.9 1.3 2 1.3 2 1.2 2 1.3 2 1.4 2 1.4 2 1.4 2 1.6 1.9 1.6 2 1.8 2 2 2 2.1 2 2.3 2 2.3 2 2.5 1.9 2.5 2 2.6 2 2.7 2 2.6 2 2.6 2 2.6 2 2.6 2 2.6 1.9 2.7 2 2.8 2 2.7 2 2.8 2 2.9 2 2.9 2 2.9 1.9 2.9 2 3 2 3.1 2 3.2 2 3.3 2 3.3 2 3.3 1.9 3.3 2 3.3 2 3.2 2 3.1 2 2.9 2 2.9 2 2.7 2 2.7 1.9 2.6 2 2.5 2 2.5 2 2.5 2 2.5 2 2.5 2 2.5 1.9 2.6 2 2.6 2 2.5 2 2.6 2 2.6 2 2.6 2 2.6 2 2.6 1.9 2.5 2 2.6 2 2.6 2 2.6 2 2.7 2 2.6 2 2.6 1.9 2.7 2 2.6 2 2.7 2 2.6 2 2.7 2 2.6 2 2.7 2 2.6 1.9 2.7 2 2.6 2 2.7 2 2.7 2 2.7 2 2.6 2 2.7 1.9 2.5 2 2.6 2 2.4 2 2.5 2 2.4 2 2.3 2 2.3 2 2.3 1.9 2.3 2 2.3 2 2.2 2 2.1 2 2.2 2 2.1 2 1.9 1.9-1.8 2-2 2-1.9 2-1.9 2-2 2-1.9 2-2 2-2 1.9-2 2-2.1 2-2 2-2.1 2-2 2-2.1 2-2.1 1.9-2.1 2-2.1 2-2.1 2-2.2 2-2.1 2-2.2 2-2.2 2-2.2 1.9-2.3 2-2.3 2-2.3 2-2.4 2-2.4 2-2.5 2-2.6 1.9-2.6 2-2.6 2-2.7 2-2.6 2-2.7 2-2.8 2-2.8 2-2.8 1.9-2.9 2-2.8 2-2.8 2-2.8 2-2.8 2-2.7 2-2.7 1.9-2.6 2-2.7 2-2.6 2-2.5 2-2.6 2-2.6 2-2.5 2-2.6 1.9-2.5 2-2.6 2-2.6 2-2.6 2-2.6 2-2.5 2-2.6 1.9-2.6 2-2.6 2-2.6 2-2.5 2-2.6 2-2.6 2-2.6 2-2.6 1.9-2.6 2-2.6 2-2.6 2-2.7 2-2.6 2-2.6 2-2.5 1.9-2.6 2-2.5 2-2.5 2-2.4 2-2.5 2-2.5 2-2.4 1.9-2.4 2-2.4 2-2.4 2-2.3 2-2.2 2-2.2 2-2.2 2-2.2 1.9-2.2 2-2.1 2-2.2 2-2 2-2.1 2-1.9 2-1.8 1.9-1.8 2-1.5 2-1.5 2-1.4 2-1.4 2-1.3 2-1.2 2-1.2 1.9-1.2 2-1.1 2-1 2-1 2-1 2-1 2-0.9 1.9-1 2-0.9 2-0.9 2-0.8 2-0.8 2-0.8 2-0.6 2-0.6 1.9-0.5 2-0.4 2-0.5 2-0.3 2-0.4 2-0.3 2-0.3 1.9-0.3 2-0.3 2-0.2 2-0.2 2-0.2 2-0.1 2-0.2 2-0.2 1.9-0.1 2-0.2 2-0.1 2-0.2 2-0.1 2-0.2 2-0.1 1.9-0.1 2-0.2 2-0.1 2-0.1 2-0.1 2-0.1 2 0 2-0.1 1.9-0.1 2 0 2-0.1 2 0 0-8.5-2 0-2 0.1-2 0-1.9 0.1-2 0.1-2 0-2 0.1-2 0.1-2 0.1-2 0.1-2 0.2-1.9 0.1-2 0.1-2 0.1-2 0-2 0.1-2 0.1-2 0-1.9 0.1-2 0.1-2 0.1-2 0-2 0.1-2 0.1-2 0.2-2 0.1-1.9 0.2-2 0.3-2 0.2-2 0.3-2 0.2-2 0.4-2 0.3-1.9 0.4-2 0.5-2 0.6-2 0.6-2 0.8-2 0.7-2 0.8-2 0.9-1.9 0.8-2 0.9-2 0.8-2 0.9-2 0.9-2 1-2 1-1.9 1.1-2 1.1-2 1.1-2 1.2-2 1.3-2 1.3-2 1.4-2 1.5-1.9 1.6-2 1.8-2 1.8-2 2-2 2-2 2-2 2.1-1.9 2.1-2 2.2-2 2.2-2 2.2-2 2.2-2 2.3-2 2.4-2 2.4-1.9 2.4-2 2.4-2 2.5-2 2.5-2 2.4-2 2.5-2 2.5-1.9 2.6-2 2.5-2 2.6-2 2.6-2 2.7-2 2.6-2 2.6-1.9 2.6-2 2.6-2 2.6-2 2.6-2 2.6-2 2.5-2 2.6-2 2.6-1.9 2.6-2 2.8-2 2.7-2 2.7-2 2.7-2 2.8-2 2.7-1.9 2.7-2 2.7-2 2.7-2 2.7-2 2.8-2 2.7-2 2.7-2 2.8-1.9 2.8-2 2.8-2 2.9-2 2.9-2 3-2 2.9-2 3-1.9 3-2 3-2 2.9-2 2.9-2 2.9-2 2.8-2 2.8-2 2.8-1.9 2.8-2 2.7-2 2.6-2 2.6-2 2.5-2 2.5-2 2.4-1.9 2.4-2 2.4-2 2.4-2 2.3-2 2.3-2 2.3-2 2.3-2 2.2-1.9 2.3-2 2.2-2 2.2-2 2.2-2 2.2-2 2.2-2 2.2-1.9 2.2-2 2.1-2 2.2-2 2.1-2 2.1-2 2.1-2 2-2 2.1-1.9 2-2-2.1-2-2.2-2-2.3-2-2.3-2-2.4-2-2.4-1.9-2.4-2-2.4-2-2.5-2-2.5-2-2.6-2-2.5-2-2.7-2-2.6-1.9-2.8-2-2.8-2-2.8-2-2.8-2-2.8-2-2.8-2-2.9-1.9-2.8-2-2.8-2-2.7-2-2.8-2-2.8-2-2.8-2-2.8-2-2.8-1.9-2.8-2-2.8-2-2.8-2-2.8-2-2.7-2-2.8-2-2.7-1.9-2.8-2-2.7-2-2.7-2-2.8-2-2.7-2-2.7-2-2.7-2-2.8-1.9-2.7-2-2.6-2-2.7-2-2.6-2-2.7-2-2.6-2-2.7-1.9-2.8-2-2.8-2-2.9-2-3-2-3.1-2-3.2-2-3.4-2-3.4-1.9-3.4-2-3.4-2-3.3-2-3.3-2-3.2-2-3.1-2-3-1.9-2.9-2-2.9-2-2.9-2-2.9-2-2.8-2-2.7-2-2.8-1.9-2.7-2-2.6-2-2.6-2-2.6-2-2.6-2-2.6-2-2.7-2-2.6-1.9-2.5-2-2.5-2-2.3-2-2.3-2-2.1-2-2-2-1.8-1.9-1.6-2-1.6-2-1.4-2-1.3-2-1.3-2-1.2-2-1.2-2-1.1-1.9-1.2-2-1.2-2-1.2-2-1.3-2-1.3-2-1.4-2-1.3-1.9-1.3-2-1.1-2-0.9-2-0.8-2-0.6-2-0.4-2-0.5-2-0.4-1.9-0.4-2-0.4-2-0.3-2-0.3-2-0.3-2-0.2-2-0.2-1.9-0.2-2-0.2-2-0.2-2-0.2-2-0.2-2-0.1-2-0.2-2-0.1-1.9-0.2-2-0.1-2-0.1-2-0.1-2 0-2-0.1-2 0-1.9 0-2 0-2 0-2 0-2 0-2 0-2 0-2 0-1.9-0.1-2 0-2-0.1-2 0z" fill="url(#gfub)" opacity="0.85" clip-path="url(#cfup)"/>
<path d="M1375 1007.5l2 0 2-0.1 2-0.1 1.9 0 2-0.1 2-0.1 2-0.1 2-0.1 2-0.2 2-0.1 2-0.2 1.9-0.1 2-0.2 2-0.2 2-0.1 2-0.2 2-0.2 2-0.2 1.9-0.2 2-0.2 2-0.3 2-0.2 2-0.2 2-0.2 2-0.2 2-0.3 1.9-0.3 2-0.3 2-0.3 2-0.4 2-0.4 2-0.4 2-0.4 1.9-0.5 2-0.4 2-0.5 2-0.5 2-0.5 2-0.6 2-0.5 2-0.5 1.9-0.5 2-0.6 2-0.5 2-0.6 2-0.5 2-0.5 2-0.6 1.9-0.5 2-0.6 2-0.5 2-0.6 2-0.6 2-0.6 2-0.7 2-0.6 1.9-0.6 2-0.7 2-0.7 2-0.6 2-0.7 2-0.7 2-0.7 1.9-0.7 2-0.7 2-0.7 2-0.7 2-0.7 2-0.8 2-0.7 2-0.8 1.9-0.7 2-0.8 2-0.7 2-0.8 2-0.8 2-0.8 2-0.8 1.9-0.8 2-0.9 2-0.8 2-0.9 2-0.9 2-0.8 2-1 1.9-0.9 2-0.9 2-1 2-1 2-1 2-1 2-1.1 2-1.1 1.9-1.1 2-1.2 2-1.1 2-1.3 2-1.2 2-1.2 2-1.3 1.9-1.3 2-1.4 2-1.3 2-1.4 2-1.3 2-1.4 2-1.4 2-1.4 1.9-1.4 2-1.5 2-1.4 2-1.4 2-1.5 2-1.5 2-1.5 1.9-1.6 2-1.5 2-1.6 2-1.7 2-1.6 2-1.7 2-1.6 2-1.7 1.9-1.7 2-1.8 2-1.8 2-1.8 2-1.8 2-1.9 2-1.8 1.9-1.8 2-1.8 2-1.8 2-1.7 2-1.6 2-1.7 2-1.6 2-1.6 1.9-1.5 2-1.6 2-1.5 2-1.6 2-1.5 2-1.4 2-1.5 1.9-1.4 2 0.1 2 1.7 2 1.6 2 1.7 2 1.8 2 1.7 2 1.8 1.9 1.8 2 1.8 2 1.8 2 1.9 2 1.8 2 1.9 2 1.8 1.9 1.9 2 1.9 2 2 2 2 2 2 2 2 2 2.1 2 2.1 1.9 2 2 2 2 2 2 1.9 2 1.8 2 1.7 2 1.8 1.9 1.7 2 1.8 2 1.6 2 1.7 2 1.6 2 1.5 2 1.4 2 1.4 1.9 1.2 2 1.2 2 1.1 2 1.1 2 1 2 0.9 2 1 1.9 0.9 2 0.9 2 0.9 2 1 2 0.9 2 1.1 2 1 2 1 1.9 1 2 1.1 2 1 2 1 2 1 2 0.9 2 1 1.9 0.9 2 0.8 2 0.8 2 0.9 2 0.8 2 0.7 2 0.8 2 0.8 1.9 0.7 2 0.8 2 0.8 2 0.8 2 0.8 2 0.7 2 0.8 1.9 0.8 2 0.8 2 0.8 2 0.8 2 0.8 2 0.8 2 0.8 1.9 0.8 2 0.8 2 0.8 2 0.8 2 0.9 2 0.8 2 0.8 2 0.8 1.9 0.8 2 0.7 2 0.8 2 0.7 2 0.7 2 0.6 2 0.7 1.9 0.6 2 0.6 2 0.7 2 0.5 2 0.6 2 0.5 2 0.6 2 0.4 1.9 0.5 2 0.4 2 0.5 2 0.4 2 0.4 2 0.4 2 0.3 1.9 0.4 2 0.3 2 0.4 2 0.3 2 0.3 2 0.4 2 0.3 2 0.3 1.9 0.4 2 0.3 2 0.3 2 0.3 2 0.3 2 0.3 2 0.2 1.9 0.3 2 0.2 2 0.1 2 0.2 2 0.1 2 0.1 2 0.1 2 0 1.9 0.1 2 0.1 2 0 2 0.1 2 0.1 2 0 2 0.1 1.9 0.1 2 0 2 0 2 0.1 2 0 2 0.1 2 0 2 0 1.9 0.1 2 0 2 0 2 0 0 43.8-594 0z" fill="url(#gfl)" />
<path d="M1375 1030.9l2-0.1 2 0 2-0.1 1.9-0.1 2-0.1 2-0.1 2-0.1 2-0.1 2-0.1 2-0.2 2-0.1 1.9-0.1 2-0.1 2-0.2 2-0.1 2-0.2 2-0.1 2-0.2 1.9-0.1 2-0.2 2-0.1 2-0.2 2-0.2 2-0.1 2-0.2 2-0.2 1.9-0.1 2-0.2 2-0.2 2-0.2 2-0.2 2-0.3 2-0.2 1.9-0.2 2-0.2 2-0.3 2-0.2 2-0.3 2-0.3 2-0.2 2-0.3 1.9-0.3 2-0.3 2-0.3 2-0.3 2-0.4 2-0.3 2-0.4 1.9-0.3 2-0.4 2-0.4 2-0.5 2-0.4 2-0.5 2-0.5 2-0.5 1.9-0.5 2-0.5 2-0.5 2-0.6 2-0.5 2-0.6 2-0.5 1.9-0.6 2-0.6 2-0.5 2-0.6 2-0.6 2-0.6 2-0.6 2-0.6 1.9-0.7 2-0.6 2-0.7 2-0.7 2-0.7 2-0.8 2-0.7 1.9-0.7 2-0.8 2-0.7 2-0.8 2-0.7 2-0.7 2-0.8 1.9-0.7 2-0.7 2-0.7 2-0.6 2-0.7 2-0.6 2-0.7 2-0.6 1.9-0.7 2-0.6 2-0.7 2-0.6 2-0.7 2-0.6 2-0.6 1.9-0.7 2-0.6 2-0.6 2-0.6 2-0.6 2-0.6 2-0.5 2-0.6 1.9-0.5 2-0.5 2-0.5 2-0.5 2-0.4 2-0.5 2-0.4 1.9-0.5 2-0.4 2-0.4 2-0.4 2-0.4 2-0.3 2-0.3 2-0.3 1.9-0.3 2-0.3 2-0.3 2-0.2 2-0.3 2-0.3 2-0.2 1.9-0.3 2-0.2 2-0.3 2-0.2 2-0.2 2-0.2 2-0.2 2-0.2 1.9-0.2 2-0.1 2-0.2 2-0.1 2-0.1 2 0 2-0.1 1.9 0 2-0.1 2 0 2 0 2 0 2 0 2 0 2 0 1.9 0 2 0 2 0 2 0 2 0 2 0.1 2 0 1.9 0 2 0 2 0 2 0.1 2 0.2 2 0.2 2 0.2 2 0.2 1.9 0.3 2 0.3 2 0.3 2 0.4 2 0.3 2 0.4 2 0.3 1.9 0.4 2 0.3 2 0.4 2 0.3 2 0.3 2 0.4 2 0.3 2 0.4 1.9 0.4 2 0.3 2 0.4 2 0.4 2 0.4 2 0.4 2 0.5 1.9 0.4 2 0.4 2 0.5 2 0.4 2 0.5 2 0.4 2 0.5 2 0.5 1.9 0.5 2 0.5 2 0.5 2 0.5 2 0.5 2 0.6 2 0.5 1.9 0.6 2 0.5 2 0.6 2 0.6 2 0.5 2 0.6 2 0.6 2 0.6 1.9 0.6 2 0.7 2 0.6 2 0.7 2 0.7 2 0.6 2 0.7 1.9 0.7 2 0.7 2 0.7 2 0.7 2 0.6 2 0.7 2 0.7 1.9 0.7 2 0.6 2 0.7 2 0.7 2 0.7 2 0.7 2 0.8 2 0.7 1.9 0.7 2 0.7 2 0.7 2 0.6 2 0.7 2 0.6 2 0.6 1.9 0.6 2 0.5 2 0.5 2 0.5 2 0.4 2 0.5 2 0.4 2 0.5 1.9 0.4 2 0.4 2 0.4 2 0.4 2 0.3 2 0.4 2 0.4 1.9 0.3 2 0.4 2 0.3 2 0.3 2 0.3 2 0.3 2 0.4 2 0.3 1.9 0.3 2 0.3 2 0.4 2 0.3 2 0.2 2 0.3 2 0.2 1.9 0.3 2 0.2 2 0.1 2 0.2 2 0.1 2 0.1 2 0 2 0.1 1.9 0.1 2 0.1 2 0 2 0.1 2 0.1 2 0 2 0.1 1.9 0.1 2 0 2 0 2 0.1 2 0 2 0.1 2 0 2 0 1.9 0.1 2 0 2 0 2 0 0 24.2-594 0z" fill="url(#gflc)" />
<clipPath id="h17"><path d="M1375 1030.9l2-0.1 2 0 2-0.1 1.9-0.1 2-0.1 2-0.1 2-0.1 2-0.1 2-0.1 2-0.2 2-0.1 1.9-0.1 2-0.1 2-0.2 2-0.1 2-0.2 2-0.1 2-0.2 1.9-0.1 2-0.2 2-0.1 2-0.2 2-0.2 2-0.1 2-0.2 2-0.2 1.9-0.1 2-0.2 2-0.2 2-0.2 2-0.2 2-0.3 2-0.2 1.9-0.2 2-0.2 2-0.3 2-0.2 2-0.3 2-0.3 2-0.2 2-0.3 1.9-0.3 2-0.3 2-0.3 2-0.3 2-0.4 2-0.3 2-0.4 1.9-0.3 2-0.4 2-0.4 2-0.5 2-0.4 2-0.5 2-0.5 2-0.5 1.9-0.5 2-0.5 2-0.5 2-0.6 2-0.5 2-0.6 2-0.5 1.9-0.6 2-0.6 2-0.5 2-0.6 2-0.6 2-0.6 2-0.6 2-0.6 1.9-0.7 2-0.6 2-0.7 2-0.7 2-0.7 2-0.8 2-0.7 1.9-0.7 2-0.8 2-0.7 2-0.8 2-0.7 2-0.7 2-0.8 1.9-0.7 2-0.7 2-0.7 2-0.6 2-0.7 2-0.6 2-0.7 2-0.6 1.9-0.7 2-0.6 2-0.7 2-0.6 2-0.7 2-0.6 2-0.6 1.9-0.7 2-0.6 2-0.6 2-0.6 2-0.6 2-0.6 2-0.5 2-0.6 1.9-0.5 2-0.5 2-0.5 2-0.5 2-0.4 2-0.5 2-0.4 1.9-0.5 2-0.4 2-0.4 2-0.4 2-0.4 2-0.3 2-0.3 2-0.3 1.9-0.3 2-0.3 2-0.3 2-0.2 2-0.3 2-0.3 2-0.2 1.9-0.3 2-0.2 2-0.3 2-0.2 2-0.2 2-0.2 2-0.2 2-0.2 1.9-0.2 2-0.1 2-0.2 2-0.1 2-0.1 2 0 2-0.1 1.9 0 2-0.1 2 0 2 0 2 0 2 0 2 0 2 0 1.9 0 2 0 2 0 2 0 2 0 2 0.1 2 0 1.9 0 2 0 2 0 2 0.1 2 0.2 2 0.2 2 0.2 2 0.2 1.9 0.3 2 0.3 2 0.3 2 0.4 2 0.3 2 0.4 2 0.3 1.9 0.4 2 0.3 2 0.4 2 0.3 2 0.3 2 0.4 2 0.3 2 0.4 1.9 0.4 2 0.3 2 0.4 2 0.4 2 0.4 2 0.4 2 0.5 1.9 0.4 2 0.4 2 0.5 2 0.4 2 0.5 2 0.4 2 0.5 2 0.5 1.9 0.5 2 0.5 2 0.5 2 0.5 2 0.5 2 0.6 2 0.5 1.9 0.6 2 0.5 2 0.6 2 0.6 2 0.5 2 0.6 2 0.6 2 0.6 1.9 0.6 2 0.7 2 0.6 2 0.7 2 0.7 2 0.6 2 0.7 1.9 0.7 2 0.7 2 0.7 2 0.7 2 0.6 2 0.7 2 0.7 1.9 0.7 2 0.6 2 0.7 2 0.7 2 0.7 2 0.7 2 0.8 2 0.7 1.9 0.7 2 0.7 2 0.7 2 0.6 2 0.7 2 0.6 2 0.6 1.9 0.6 2 0.5 2 0.5 2 0.5 2 0.4 2 0.5 2 0.4 2 0.5 1.9 0.4 2 0.4 2 0.4 2 0.4 2 0.3 2 0.4 2 0.4 1.9 0.3 2 0.4 2 0.3 2 0.3 2 0.3 2 0.3 2 0.4 2 0.3 1.9 0.3 2 0.3 2 0.4 2 0.3 2 0.2 2 0.3 2 0.2 1.9 0.3 2 0.2 2 0.1 2 0.2 2 0.1 2 0.1 2 0 2 0.1 1.9 0.1 2 0.1 2 0 2 0.1 2 0.1 2 0 2 0.1 1.9 0.1 2 0 2 0 2 0.1 2 0 2 0.1 2 0 2 0 1.9 0.1 2 0 2 0 2 0 0 24.2-594 0z"/></clipPath>
<path d="M1375 1037l2 0 2 0 2 0 2 0 2 0 2 0 2 0 2-1 2 0 2 0 2 0 2 0 2 0 2 0 2-1 2 0 2 0 2 0 2 0 2 0 2-1 2 0 2 0 2 0 2 0 2 0 2-1 2 0 2 0 2 0 2 0 2-1 2 0 2 0 2 0 2-1 2 0 1 0 2 0 2-1 2 0 2 0 2-1 2 0 2 0 2-1 2 0 2 0 2-1 2 0 2-1 2 0 2 0 2-1 2 0 2-1 2 0 2-1 2 0 2-1 2-1 2 0 2-1 2 0 2-1 2 0 2-1 2-1 2 0 2-1 2 0 2-1 2-1 2-1 2 0 2-1 2-1 2 0 2-1 2-1 2-1 2 0 2-1 2-1 2-1 2 0 2-1 2-1 2 0 2-1 2-1 2 0 2-1 2-1 2 0 2-1 2-1 2 0 2-1 2-1 2 0 2-1 2 0 2-1 2-1 2 0 2-1 2 0 2-1 2 0 2-1 2 0 1-1 2 0 2-1 2 0 2-1 2 0 2 0 2-1 2 0 2 0 2-1 2 0 2 0 2-1 2 0 2 0 2 0 2-1 2 0 2 0 2 0 2-1 2 0 2 0 2 0 2 0 2-1 2 0 2 0 2 0 2 0 2 0 2 0 2 0 2 0 2 0 2 0 2 0 2 0 2 0 2 0 2 0 2 0 2 0 2 0 2 0 2 0 2 0 2 0 2 0 2 0 2 0 2 0 2 0 2 1 2 0 2 0 2 0 2 1 2 0 2 0 2 1 2 0 2 0 2 1 2 0 2 0 2 1 2 0 2 0 2 1 2 0 2 1 2 0 1 0 2 1 2 0 2 1 2 0 2 1 2 0 2 0 2 1 2 0 2 1 2 0 2 1 2 0 2 1 2 0 2 1 2 0 2 1 2 1 2 0 2 1 2 0 2 1 2 0 2 1 2 1 2 0 2 1 2 1 2 0 2 1 2 1 2 0 2 1 2 1 2 0 2 1 2 1 2 0 2 1 2 1 2 0 2 1 2 1 2 1 2 0 2 1 2 1 2 0 2 1 2 1 2 0 2 1 2 1 2 0 2 1 2 0 2 1 2 0 2 1 2 0 2 1 2 0 2 1 2 0 2 1 2 0 2 0 2 1 2 0 2 0 2 1 2 0 2 0 1 1 2 0 2 0 2 1 2 0 2 0 2 1 2 0 2 0 2 1 2 0 2 0 2 0 2 1 2 0 2 0 2 0 2 0 2 0 2 0 2 0 2 0 2 0 2 1 2 0 2 0 2 0 2 0 2 0 2 0 2 0 2 0 2 0 2 0 2 0 2 0 2 0 2 0M1375 1044l2-1 2 0 2 0 2 0 2 0 2 0 2 0 2 0 2-1 2 0 2 0 2 0 2 0 2 0 2 0 2-1 2 0 2 0 2 0 2 0 2-1 2 0 2 0 2 0 2 0 2 0 2-1 2 0 2 0 2 0 2-1 2 0 2 0 2 0 2 0 2-1 2 0 1 0 2-1 2 0 2 0 2-1 2 0 2 0 2 0 2-1 2 0 2-1 2 0 2 0 2-1 2 0 2-1 2 0 2-1 2 0 2-1 2 0 2-1 2 0 2-1 2 0 2-1 2-1 2 0 2-1 2 0 2-1 2-1 2 0 2-1 2-1 2 0 2-1 2-1 2 0 2-1 2-1 2-1 2 0 2-1 2-1 2-1 2 0 2-1 2-1 2 0 2-1 2-1 2-1 2 0 2-1 2-1 2 0 2-1 2 0 2-1 2-1 2 0 2-1 2-1 2 0 2-1 2-1 2 0 2-1 2 0 2-1 2 0 2-1 2 0 2-1 1 0 2-1 2 0 2-1 2 0 2-1 2 0 2 0 2-1 2 0 2 0 2-1 2 0 2 0 2 0 2-1 2 0 2 0 2 0 2-1 2 0 2 0 2 0 2-1 2 0 2 0 2 0 2 0 2 0 2-1 2 0 2 0 2 0 2 0 2 0 2 0 2 0 2 0 2 0 2 0 2 0 2 0 2 0 2 0 2 0 2 0 2 0 2 0 2 0 2 0 2 0 2 0 2 1 2 0 2 0 2 0 2 0 2 1 2 0 2 0 2 1 2 0 2 1 2 0 2 0 2 1 2 0 2 0 2 1 2 0 2 0 2 1 2 0 2 0 1 1 2 0 2 1 2 0 2 1 2 0 2 0 2 1 2 0 2 1 2 0 2 1 2 0 2 1 2 0 2 1 2 0 2 1 2 1 2 0 2 1 2 0 2 1 2 0 2 1 2 1 2 0 2 1 2 0 2 1 2 1 2 0 2 1 2 1 2 1 2 0 2 1 2 1 2 0 2 1 2 1 2 0 2 1 2 1 2 1 2 0 2 1 2 1 2 0 2 1 2 1 2 1 2 0 2 1 2 1 2 0 2 1 2 0 2 1 2 0 2 1 2 0 2 1 2 0 2 1 2 0 2 0 2 1 2 0 2 1 2 0 2 0 2 1 2 0 2 0 1 1 2 0 2 0 2 1 2 0 2 0 2 1 2 0 2 0 2 1 2 0 2 0 2 0 2 1 2 0 2 0 2 0 2 0 2 0 2 0 2 0 2 1 2 0 2 0 2 0 2 0 2 0 2 0 2 0 2 0 2 0 2 0 2 0 2 0 2 0 2 1 2 0 2 0M1375 1050l2 0 2 0 2-1 2 0 2 0 2 0 2 0 2 0 2 0 2 0 2-1 2 0 2 0 2 0 2 0 2-1 2 0 2 0 2 0 2 0 2 0 2-1 2 0 2 0 2 0 2 0 2-1 2 0 2 0 2 0 2-1 2 0 2 0 2 0 2-1 2 0 2 0 1 0 2-1 2 0 2 0 2-1 2 0 2 0 2-1 2 0 2 0 2-1 2 0 2-1 2 0 2 0 2-1 2 0 2-1 2 0 2-1 2 0 2-1 2-1 2 0 2-1 2 0 2-1 2-1 2 0 2-1 2 0 2-1 2-1 2 0 2-1 2-1 2 0 2-1 2-1 2 0 2-1 2-1 2-1 2 0 2-1 2-1 2-1 2 0 2-1 2-1 2-1 2 0 2-1 2-1 2 0 2-1 2-1 2 0 2-1 2-1 2 0 2-1 2-1 2 0 2-1 2 0 2-1 2-1 2 0 2-1 2 0 2-1 2 0 2-1 2 0 1-1 2 0 2-1 2 0 2-1 2 0 2-1 2 0 2 0 2-1 2 0 2 0 2 0 2-1 2 0 2 0 2-1 2 0 2 0 2 0 2-1 2 0 2 0 2 0 2 0 2-1 2 0 2 0 2 0 2 0 2 0 2 0 2 0 2 0 2 0 2 0 2 0 2 0 2 0 2 0 2 0 2 0 2 0 2 0 2 0 2 0 2 0 2 0 2 0 2 0 2 0 2 0 2 0 2 0 2 0 2 1 2 0 2 0 2 1 2 0 2 0 2 1 2 0 2 0 2 1 2 0 2 0 2 1 2 0 2 0 2 1 2 0 2 1 2 0 1 0 2 1 2 0 2 1 2 0 2 1 2 0 2 0 2 1 2 0 2 1 2 0 2 1 2 0 2 1 2 0 2 1 2 0 2 1 2 1 2 0 2 1 2 0 2 1 2 1 2 0 2 1 2 0 2 1 2 1 2 0 2 1 2 1 2 1 2 0 2 1 2 1 2 0 2 1 2 1 2 0 2 1 2 1 2 1 2 0 2 1 2 1 2 0 2 1 2 1 2 1 2 0 2 1 2 1 2 0 2 1 2 1 2 0 2 1 2 0 2 1 2 0 2 1 2 0 2 0 2 1 2 0 2 1 2 0 2 1 2 0 2 0 2 1 2 0 2 0 1 1 2 0 2 0 2 1 2 0 2 1 2 0 2 0 2 1 2 0 2 0 2 0 2 1 2 0 2 0 2 0 2 0 2 0 2 0 2 1 2 0 2 0 2 0 2 0 2 0 2 0 2 0 2 0 2 0 2 0 2 1 2 0 2 0 2 0 2 0 2 0 2 0 2 0M1375 1056l2 0 2 0 2 0 2 0 2-1 2 0 2 0 2 0 2 0 2 0 2 0 2-1 2 0 2 0 2 0 2 0 2-1 2 0 2 0 2 0 2 0 2-1 2 0 2 0 2 0 2 0 2-1 2 0 2 0 2 0 2-1 2 0 2 0 2 0 2-1 2 0 2 0 1-1 2 0 2 0 2 0 2-1 2 0 2 0 2-1 2 0 2-1 2 0 2 0 2-1 2 0 2-1 2 0 2-1 2 0 2-1 2 0 2-1 2 0 2-1 2 0 2-1 2-1 2 0 2-1 2 0 2-1 2-1 2 0 2-1 2-1 2 0 2-1 2-1 2 0 2-1 2-1 2-1 2 0 2-1 2-1 2-1 2 0 2-1 2-1 2-1 2 0 2-1 2-1 2 0 2-1 2-1 2 0 2-1 2-1 2 0 2-1 2-1 2 0 2-1 2-1 2 0 2-1 2-1 2 0 2-1 2 0 2-1 2 0 2-1 2 0 2-1 1 0 2-1 2 0 2-1 2 0 2-1 2 0 2 0 2-1 2 0 2 0 2-1 2 0 2 0 2-1 2 0 2 0 2 0 2-1 2 0 2 0 2 0 2-1 2 0 2 0 2 0 2 0 2-1 2 0 2 0 2 0 2 0 2 0 2 0 2 0 2 0 2 0 2 0 2 0 2 0 2 0 2 0 2 0 2 0 2 0 2 0 2 0 2 0 2 0 2 0 2 0 2 0 2 0 2 1 2 0 2 0 2 0 2 1 2 0 2 0 2 1 2 0 2 0 2 1 2 0 2 0 2 1 2 0 2 0 2 1 2 0 2 1 2 0 2 0 1 1 2 0 2 1 2 0 2 1 2 0 2 0 2 1 2 0 2 1 2 0 2 1 2 0 2 1 2 0 2 1 2 0 2 1 2 1 2 0 2 1 2 0 2 1 2 1 2 0 2 1 2 0 2 1 2 1 2 0 2 1 2 1 2 0 2 1 2 1 2 1 2 0 2 1 2 1 2 0 2 1 2 1 2 1 2 0 2 1 2 1 2 0 2 1 2 1 2 1 2 0 2 1 2 1 2 0 2 1 2 1 2 0 2 1 2 0 2 1 2 0 2 1 2 0 2 1 2 0 2 1 2 0 2 1 2 0 2 0 2 1 2 0 2 1 2 0 2 0 1 1 2 0 2 0 2 1 2 0 2 1 2 0 2 0 2 1 2 0 2 0 2 0 2 1 2 0 2 0 2 0 2 0 2 0 2 1 2 0 2 0 2 0 2 0 2 0 2 0 2 0 2 0 2 1 2 0 2 0 2 0 2 0 2 0 2 0 2 0 2 0 2 0 2 0M1375 1062l2 0 2 0 2 0 2 0 2 0 2 0 2-1 2 0 2 0 2 0 2 0 2 0 2-1 2 0 2 0 2 0 2 0 2-1 2 0 2 0 2 0 2-1 2 0 2 0 2 0 2 0 2-1 2 0 2 0 2 0 2-1 2 0 2 0 2 0 2-1 2 0 2 0 1-1 2 0 2 0 2-1 2 0 2 0 2-1 2 0 2 0 2-1 2 0 2-1 2 0 2 0 2-1 2 0 2-1 2 0 2-1 2 0 2-1 2-1 2 0 2-1 2 0 2-1 2-1 2 0 2-1 2 0 2-1 2-1 2 0 2-1 2-1 2 0 2-1 2-1 2 0 2-1 2-1 2-1 2-1 2 0 2-1 2-1 2-1 2 0 2-1 2-1 2-1 2 0 2-1 2-1 2 0 2-1 2-1 2 0 2-1 2-1 2 0 2-1 2-1 2 0 2-1 2-1 2 0 2-1 2 0 2-1 2 0 2-1 2-1 2 0 2-1 1 0 2 0 2-1 2 0 2-1 2 0 2-1 2 0 2 0 2-1 2 0 2 0 2-1 2 0 2 0 2 0 2-1 2 0 2 0 2-1 2 0 2 0 2 0 2 0 2-1 2 0 2 0 2 0 2 0 2 0 2 0 2-1 2 0 2 0 2 0 2 0 2 0 2 0 2 0 2 0 2 0 2 0 2 0 2 0 2 0 2 0 2 0 2 0 2 0 2 0 2 1 2 0 2 0 2 0 2 0 2 0 2 1 2 0 2 0 2 1 2 0 2 0 2 1 2 0 2 1 2 0 2 0 2 1 2 0 2 0 2 1 2 0 2 0 2 1 1 0 2 1 2 0 2 1 2 0 2 0 2 1 2 0 2 1 2 0 2 1 2 0 2 1 2 0 2 1 2 0 2 1 2 1 2 0 2 1 2 0 2 1 2 1 2 0 2 1 2 0 2 1 2 1 2 0 2 1 2 1 2 0 2 1 2 1 2 0 2 1 2 1 2 1 2 0 2 1 2 1 2 0 2 1 2 1 2 1 2 0 2 1 2 1 2 1 2 0 2 1 2 1 2 1 2 0 2 1 2 1 2 0 2 1 2 0 2 1 2 0 2 1 2 0 2 1 2 0 2 1 2 0 2 1 2 0 2 0 2 1 2 0 2 1 2 0 2 0 1 1 2 0 2 0 2 1 2 0 2 1 2 0 2 0 2 1 2 0 2 0 2 1 2 0 2 0 2 0 2 0 2 0 2 1 2 0 2 0 2 0 2 0 2 0 2 0 2 1 2 0 2 0 2 0 2 0 2 0 2 0 2 0 2 0 2 0 2 1 2 0 2 0 2 0M1375 1069l2 0 2-1 2 0 2 0 2 0 2 0 2 0 2-1 2 0 2 0 2 0 2 0 2-1 2 0 2 0 2 0 2 0 2-1 2 0 2 0 2 0 2 0 2-1 2 0 2 0 2 0 2-1 2 0 2 0 2 0 2-1 2 0 2 0 2-1 2 0 2 0 2 0 1-1 2 0 2 0 2-1 2 0 2 0 2-1 2 0 2-1 2 0 2 0 2-1 2 0 2-1 2 0 2-1 2 0 2-1 2 0 2-1 2 0 2-1 2 0 2-1 2-1 2 0 2-1 2 0 2-1 2-1 2 0 2-1 2-1 2 0 2-1 2-1 2 0 2-1 2-1 2-1 2 0 2-1 2-1 2-1 2-1 2 0 2-1 2-1 2-1 2 0 2-1 2-1 2 0 2-1 2-1 2 0 2-1 2-1 2 0 2-1 2-1 2 0 2-1 2-1 2 0 2-1 2-1 2 0 2-1 2 0 2-1 2-1 2 0 2-1 2 0 1-1 2 0 2-1 2 0 2 0 2-1 2 0 2-1 2 0 2 0 2-1 2 0 2 0 2 0 2-1 2 0 2 0 2-1 2 0 2 0 2 0 2-1 2 0 2 0 2 0 2 0 2-1 2 0 2 0 2 0 2 0 2 0 2 0 2 0 2 0 2 0 2 0 2 0 2 0 2 0 2 0 2 0 2 0 2 0 2 0 2 0 2 0 2 0 2 0 2 0 2 0 2 0 2 0 2 0 2 1 2 0 2 0 2 0 2 1 2 0 2 1 2 0 2 0 2 1 2 0 2 0 2 1 2 0 2 0 2 1 2 0 2 1 2 0 2 0 1 1 2 0 2 1 2 0 2 1 2 0 2 0 2 1 2 0 2 1 2 0 2 1 2 0 2 1 2 0 2 1 2 1 2 0 2 1 2 0 2 1 2 0 2 1 2 1 2 0 2 1 2 1 2 0 2 1 2 1 2 0 2 1 2 1 2 0 2 1 2 1 2 1 2 0 2 1 2 1 2 0 2 1 2 1 2 1 2 0 2 1 2 1 2 1 2 0 2 1 2 1 2 1 2 0 2 1 2 1 2 0 2 1 2 1 2 0 2 1 2 0 2 1 2 0 2 1 2 0 2 1 2 0 2 0 2 1 2 0 2 1 2 0 2 1 2 0 2 0 1 1 2 0 2 0 2 1 2 0 2 1 2 0 2 0 2 1 2 0 2 0 2 1 2 0 2 0 2 0 2 0 2 1 2 0 2 0 2 0 2 0 2 0 2 0 2 1 2 0 2 0 2 0 2 0 2 0 2 0 2 0 2 1 2 0 2 0 2 0 2 0 2 0 2 0M1375 1075l2 0 2 0 2 0 2-1 2 0 2 0 2 0 2 0 2-1 2 0 2 0 2 0 2 0 2-1 2 0 2 0 2 0 2 0 2-1 2 0 2 0 2 0 2-1 2 0 2 0 2 0 2-1 2 0 2 0 2 0 2-1 2 0 2 0 2-1 2 0 2 0 2-1 1 0 2 0 2 0 2-1 2 0 2-1 2 0 2 0 2-1 2 0 2 0 2-1 2 0 2-1 2 0 2-1 2 0 2-1 2 0 2-1 2-1 2 0 2-1 2 0 2-1 2-1 2 0 2-1 2 0 2-1 2-1 2 0 2-1 2-1 2 0 2-1 2-1 2-1 2 0 2-1 2-1 2-1 2 0 2-1 2-1 2-1 2 0 2-1 2-1 2-1 2 0 2-1 2-1 2-1 2 0 2-1 2-1 2 0 2-1 2-1 2 0 2-1 2-1 2 0 2-1 2-1 2 0 2-1 2 0 2-1 2-1 2 0 2-1 2 0 2-1 1 0 2-1 2 0 2-1 2 0 2 0 2-1 2 0 2-1 2 0 2 0 2 0 2-1 2 0 2 0 2-1 2 0 2 0 2 0 2-1 2 0 2 0 2 0 2-1 2 0 2 0 2 0 2 0 2 0 2-1 2 0 2 0 2 0 2 0 2 0 2 0 2 0 2 0 2 0 2 0 2 0 2 0 2 0 2 0 2 0 2 0 2 0 2 0 2 0 2 0 2 0 2 0 2 1 2 0 2 0 2 0 2 1 2 0 2 0 2 1 2 0 2 0 2 1 2 0 2 0 2 1 2 0 2 0 2 1 2 0 2 1 2 0 2 0 2 1 1 0 2 1 2 0 2 1 2 0 2 0 2 1 2 0 2 1 2 0 2 1 2 0 2 1 2 0 2 1 2 1 2 0 2 1 2 0 2 1 2 0 2 1 2 1 2 0 2 1 2 1 2 0 2 1 2 0 2 1 2 1 2 1 2 0 2 1 2 1 2 1 2 0 2 1 2 1 2 0 2 1 2 1 2 1 2 0 2 1 2 1 2 1 2 0 2 1 2 1 2 1 2 0 2 1 2 1 2 0 2 1 2 1 2 0 2 1 2 0 2 1 2 0 2 1 2 0 2 1 2 0 2 1 2 0 2 1 2 0 2 1 2 0 2 0 2 1 2 0 1 1 2 0 2 0 2 1 2 0 2 1 2 0 2 0 2 1 2 0 2 0 2 1 2 0 2 0 2 0 2 1 2 0 2 0 2 0 2 0 2 0 2 1 2 0 2 0 2 0 2 0 2 0 2 0 2 1 2 0 2 0 2 0 2 0 2 0 2 0 2 0 2 0 2 1M1375 1081l2 0 2 0 2 0 2 0 2-1 2 0 2 0 2 0 2 0 2-1 2 0 2 0 2 0 2 0 2-1 2 0 2 0 2 0 2-1 2 0 2 0 2 0 2-1 2 0 2 0 2 0 2-1 2 0 2 0 2 0 2-1 2 0 2 0 2-1 2 0 2 0 2-1 1 0 2 0 2-1 2 0 2 0 2-1 2 0 2 0 2-1 2 0 2-1 2 0 2-1 2 0 2-1 2 0 2-1 2 0 2-1 2 0 2-1 2 0 2-1 2-1 2 0 2-1 2 0 2-1 2-1 2 0 2-1 2-1 2 0 2-1 2-1 2 0 2-1 2-1 2-1 2 0 2-1 2-1 2-1 2-1 2 0 2-1 2-1 2-1 2 0 2-1 2-1 2-1 2 0 2-1 2-1 2 0 2-1 2-1 2 0 2-1 2-1 2 0 2-1 2-1 2 0 2-1 2-1 2 0 2-1 2-1 2 0 2-1 2 0 2-1 2 0 1-1 2 0 2-1 2 0 2-1 2 0 2 0 2-1 2 0 2 0 2-1 2 0 2 0 2-1 2 0 2 0 2 0 2-1 2 0 2 0 2-1 2 0 2 0 2 0 2 0 2-1 2 0 2 0 2 0 2 0 2 0 2 0 2 0 2 0 2 0 2 0 2 0 2 0 2 0 2 0 2 0 2 0 2 0 2 0 2 0 2 0 2 0 2 0 2 0 2 0 2 0 2 0 2 0 2 0 2 0 2 1 2 0 2 0 2 1 2 0 2 0 2 1 2 0 2 1 2 0 2 0 2 1 2 0 2 0 2 1 2 0 2 0 2 1 2 0 1 1 2 0 2 1 2 0 2 0 2 1 2 0 2 1 2 0 2 1 2 0 2 1 2 0 2 1 2 1 2 0 2 1 2 0 2 1 2 0 2 1 2 1 2 0 2 1 2 0 2 1 2 1 2 0 2 1 2 1 2 1 2 0 2 1 2 1 2 0 2 1 2 1 2 1 2 0 2 1 2 1 2 1 2 0 2 1 2 1 2 1 2 0 2 1 2 1 2 1 2 0 2 1 2 1 2 1 2 0 2 1 2 1 2 0 2 1 2 0 2 1 2 0 2 1 2 0 2 1 2 0 2 1 2 0 2 1 2 0 2 1 2 0 2 0 2 1 2 0 1 1 2 0 2 0 2 1 2 0 2 1 2 0 2 0 2 1 2 0 2 0 2 1 2 0 2 0 2 1 2 0 2 0 2 0 2 0 2 0 2 1 2 0 2 0 2 0 2 0 2 0 2 1 2 0 2 0 2 0 2 0 2 0 2 0 2 1 2 0 2 0 2 0 2 0M1375 1088l2-1 2 0 2 0 2 0 2 0 2 0 2-1 2 0 2 0 2 0 2-1 2 0 2 0 2 0 2-1 2 0 2 0 2 0 2-1 2 0 2 0 2 0 2-1 2 0 2 0 2 0 2-1 2 0 2 0 2 0 2-1 2 0 2 0 2-1 2 0 2 0 2-1 1 0 2 0 2-1 2 0 2 0 2-1 2 0 2-1 2 0 2 0 2-1 2 0 2-1 2 0 2-1 2 0 2-1 2 0 2-1 2-1 2 0 2-1 2 0 2-1 2-1 2 0 2-1 2 0 2-1 2-1 2 0 2-1 2-1 2 0 2-1 2-1 2-1 2 0 2-1 2-1 2-1 2 0 2-1 2-1 2-1 2-1 2 0 2-1 2-1 2-1 2 0 2-1 2-1 2 0 2-1 2-1 2-1 2 0 2-1 2-1 2 0 2-1 2-1 2 0 2-1 2-1 2 0 2-1 2 0 2-1 2-1 2 0 2-1 2 0 2-1 1 0 2-1 2 0 2-1 2 0 2-1 2 0 2 0 2-1 2 0 2 0 2-1 2 0 2 0 2-1 2 0 2 0 2 0 2-1 2 0 2 0 2 0 2-1 2 0 2 0 2 0 2 0 2-1 2 0 2 0 2 0 2 0 2 0 2 0 2 0 2 0 2 0 2 0 2 0 2 0 2 0 2 0 2 0 2 0 2 0 2 0 2 0 2 0 2 0 2 0 2 0 2 0 2 0 2 1 2 0 2 0 2 0 2 1 2 0 2 0 2 1 2 0 2 1 2 0 2 0 2 1 2 0 2 0 2 1 2 0 2 1 2 0 2 0 2 1 1 0 2 1 2 0 2 1 2 0 2 0 2 1 2 0 2 1 2 0 2 1 2 0 2 1 2 0 2 1 2 1 2 0 2 1 2 0 2 1 2 1 2 0 2 1 2 0 2 1 2 1 2 0 2 1 2 1 2 0 2 1 2 1 2 1 2 0 2 1 2 1 2 1 2 0 2 1 2 1 2 1 2 0 2 1 2 1 2 0 2 1 2 1 2 1 2 1 2 0 2 1 2 1 2 1 2 0 2 1 2 1 2 0 2 1 2 1 2 0 2 1 2 0 2 1 2 0 2 1 2 0 2 1 2 0 2 1 2 0 2 0 2 1 2 0 2 1 2 0 1 1 2 0 2 0 2 1 2 0 2 1 2 0 2 0 2 1 2 0 2 1 2 0 2 0 2 0 2 1 2 0 2 0 2 0 2 0 2 1 2 0 2 0 2 0 2 0 2 0 2 1 2 0 2 0 2 0 2 0 2 0 2 1 2 0 2 0 2 0 2 0 2 0 2 0M1375 1094l2 0 2 0 2-1 2 0 2 0 2 0 2 0 2-1 2 0 2 0 2 0 2-1 2 0 2 0 2 0 2-1 2 0 2 0 2 0 2-1 2 0 2 0 2-1 2 0 2 0 2 0 2-1 2 0 2 0 2 0 2-1 2 0 2 0 2-1 2 0 2 0 2-1 1 0 2 0 2-1 2 0 2-1 2 0 2 0 2-1 2 0 2-1 2 0 2-1 2 0 2 0 2-1 2-1 2 0 2-1 2 0 2-1 2 0 2-1 2-1 2 0 2-1 2 0 2-1 2-1 2 0 2-1 2-1 2 0 2-1 2-1 2 0 2-1 2-1 2-1 2 0 2-1 2-1 2-1 2-1 2 0 2-1 2-1 2-1 2-1 2 0 2-1 2-1 2-1 2 0 2-1 2-1 2 0 2-1 2-1 2 0 2-1 2-1 2 0 2-1 2-1 2 0 2-1 2-1 2 0 2-1 2-1 2 0 2-1 2 0 2-1 2 0 1-1 2 0 2-1 2 0 2-1 2 0 2 0 2-1 2 0 2-1 2 0 2 0 2-1 2 0 2 0 2 0 2-1 2 0 2 0 2 0 2-1 2 0 2 0 2 0 2-1 2 0 2 0 2 0 2 0 2 0 2 0 2-1 2 0 2 0 2 0 2 0 2 0 2 0 2 0 2 0 2 0 2 0 2 0 2 0 2 0 2 0 2 0 2 0 2 0 2 1 2 0 2 0 2 0 2 0 2 0 2 1 2 0 2 0 2 1 2 0 2 0 2 1 2 0 2 0 2 1 2 0 2 0 2 1 2 0 2 1 2 0 2 0 2 1 2 0 1 1 2 0 2 1 2 0 2 0 2 1 2 0 2 1 2 0 2 1 2 0 2 1 2 0 2 1 2 1 2 0 2 1 2 0 2 1 2 0 2 1 2 1 2 0 2 1 2 1 2 0 2 1 2 1 2 0 2 1 2 1 2 0 2 1 2 1 2 1 2 0 2 1 2 1 2 1 2 0 2 1 2 1 2 1 2 0 2 1 2 1 2 1 2 1 2 0 2 1 2 1 2 1 2 0 2 1 2 1 2 1 2 0 2 1 2 0 2 1 2 0 2 1 2 1 2 0 2 1 2 0 2 1 2 0 2 1 2 0 2 0 2 1 2 0 2 1 2 0 1 1 2 0 2 0 2 1 2 0 2 1 2 0 2 1 2 0 2 0 2 1 2 0 2 0 2 1 2 0 2 0 2 0 2 0 2 1 2 0 2 0 2 0 2 0 2 1 2 0 2 0 2 0 2 0 2 0 2 1 2 0 2 0 2 0 2 0 2 0 2 0 2 1 2 0M1375 1100l2 0 2 0 2 0 2-1 2 0 2 0 2 0 2 0 2-1 2 0 2 0 2 0 2-1 2 0 2 0 2-1 2 0 2 0 2 0 2-1 2 0 2 0 2 0 2-1 2 0 2 0 2-1 2 0 2 0 2-1 2 0 2 0 2 0 2-1 2 0 2-1 2 0 1 0 2-1 2 0 2 0 2-1 2 0 2-1 2 0 2 0 2-1 2 0 2-1 2 0 2-1 2 0 2-1 2 0 2-1 2 0 2-1 2-1 2 0 2-1 2-1 2 0 2-1 2 0 2-1 2-1 2 0 2-1 2-1 2 0 2-1 2-1 2-1 2 0 2-1 2-1 2-1 2 0 2-1 2-1 2-1 2-1 2 0 2-1 2-1 2-1 2-1 2 0 2-1 2-1 2 0 2-1 2-1 2-1 2 0 2-1 2-1 2 0 2-1 2-1 2 0 2-1 2-1 2 0 2-1 2-1 2 0 2-1 2 0 2-1 2 0 2-1 1 0 2-1 2 0 2-1 2 0 2-1 2 0 2 0 2-1 2 0 2 0 2-1 2 0 2 0 2-1 2 0 2 0 2-1 2 0 2 0 2 0 2-1 2 0 2 0 2 0 2 0 2-1 2 0 2 0 2 0 2 0 2 0 2 0 2 0 2 0 2 0 2 0 2 0 2 0 2 0 2 0 2 0 2 0 2 0 2 0 2 0 2 0 2 0 2 0 2 0 2 0 2 0 2 0 2 0 2 1 2 0 2 0 2 1 2 0 2 0 2 1 2 0 2 0 2 1 2 0 2 1 2 0 2 0 2 1 2 0 2 0 2 1 2 0 2 1 1 0 2 1 2 0 2 0 2 1 2 0 2 1 2 0 2 1 2 0 2 1 2 0 2 1 2 1 2 0 2 1 2 0 2 1 2 0 2 1 2 1 2 0 2 1 2 1 2 0 2 1 2 1 2 0 2 1 2 1 2 0 2 1 2 1 2 1 2 0 2 1 2 1 2 1 2 0 2 1 2 1 2 1 2 0 2 1 2 1 2 1 2 0 2 1 2 1 2 1 2 1 2 0 2 1 2 1 2 1 2 0 2 1 2 1 2 0 2 1 2 0 2 1 2 0 2 1 2 0 2 1 2 0 2 1 2 0 2 1 2 0 2 1 2 0 2 1 2 0 1 1 2 0 2 0 2 1 2 0 2 1 2 0 2 1 2 0 2 0 2 1 2 0 2 0 2 1 2 0 2 0 2 0 2 1 2 0 2 0 2 0 2 0 2 1 2 0 2 0 2 0 2 0 2 0 2 1 2 0 2 0 2 0 2 0 2 1 2 0 2 0 2 0 2 0M1375 1107l2-1 2 0 2 0 2 0 2-1 2 0 2 0 2 0 2-1 2 0 2 0 2 0 2-1 2 0 2 0 2 0 2-1 2 0 2 0 2-1 2 0 2 0 2 0 2-1 2 0 2 0 2-1 2 0 2 0 2-1 2 0 2 0 2-1 2 0 2 0 2-1 2 0 1 0 2-1 2 0 2 0 2-1 2 0 2-1 2 0 2-1 2 0 2 0 2-1 2 0 2-1 2 0 2-1 2-1 2 0 2-1 2 0 2-1 2-1 2 0 2-1 2 0 2-1 2-1 2 0 2-1 2-1 2 0 2-1 2-1 2 0 2-1 2-1 2-1 2 0 2-1 2-1 2-1 2-1 2 0 2-1 2-1 2-1 2-1 2 0 2-1 2-1 2-1 2 0 2-1 2-1 2-1 2 0 2-1 2-1 2 0 2-1 2-1 2 0 2-1 2-1 2-1 2 0 2-1 2 0 2-1 2-1 2 0 2-1 2 0 2-1 2 0 1-1 2 0 2-1 2 0 2-1 2 0 2-1 2 0 2 0 2-1 2 0 2 0 2-1 2 0 2 0 2-1 2 0 2 0 2 0 2-1 2 0 2 0 2 0 2-1 2 0 2 0 2 0 2 0 2 0 2-1 2 0 2 0 2 0 2 0 2 0 2 0 2 0 2 0 2 0 2 0 2 0 2 0 2 0 2 0 2 0 2 0 2 0 2 0 2 0 2 0 2 0 2 1 2 0 2 0 2 0 2 0 2 1 2 0 2 0 2 1 2 0 2 0 2 1 2 0 2 1 2 0 2 0 2 1 2 0 2 0 2 1 2 0 2 1 2 0 1 1 2 0 2 0 2 1 2 0 2 1 2 0 2 1 2 0 2 1 2 0 2 1 2 1 2 0 2 1 2 0 2 1 2 0 2 1 2 1 2 0 2 1 2 0 2 1 2 1 2 0 2 1 2 1 2 1 2 0 2 1 2 1 2 0 2 1 2 1 2 1 2 1 2 0 2 1 2 1 2 1 2 0 2 1 2 1 2 1 2 0 2 1 2 1 2 1 2 1 2 0 2 1 2 1 2 1 2 0 2 1 2 1 2 0 2 1 2 1 2 0 2 1 2 0 2 1 2 0 2 1 2 0 2 1 2 0 2 1 2 0 2 1 2 0 2 1 2 0 1 1 2 0 2 0 2 1 2 0 2 1 2 0 2 1 2 0 2 0 2 1 2 0 2 0 2 1 2 0 2 0 2 0 2 1 2 0 2 0 2 0 2 1 2 0 2 0 2 0 2 0 2 1 2 0 2 0 2 0 2 0 2 1 2 0 2 0 2 0 2 0 2 0 2 1M1375 1113l2 0 2-1 2 0 2 0 2 0 2-1 2 0 2 0 2 0 2-1 2 0 2 0 2 0 2-1 2 0 2 0 2-1 2 0 2 0 2 0 2-1 2 0 2 0 2-1 2 0 2 0 2-1 2 0 2 0 2-1 2 0 2 0 2-1 2 0 2 0 2-1 2 0 1 0 2-1 2 0 2-1 2 0 2 0 2-1 2 0 2-1 2 0 2-1 2 0 2-1 2 0 2-1 2 0 2-1 2 0 2-1 2-1 2 0 2-1 2 0 2-1 2-1 2 0 2-1 2-1 2 0 2-1 2-1 2 0 2-1 2-1 2-1 2 0 2-1 2-1 2-1 2 0 2-1 2-1 2-1 2-1 2 0 2-1 2-1 2-1 2-1 2 0 2-1 2-1 2-1 2 0 2-1 2-1 2 0 2-1 2-1 2-1 2 0 2-1 2-1 2 0 2-1 2-1 2 0 2-1 2-1 2 0 2-1 2 0 2-1 2 0 2-1 1 0 2-1 2 0 2-1 2 0 2-1 2 0 2-1 2 0 2 0 2-1 2 0 2 0 2-1 2 0 2 0 2 0 2-1 2 0 2 0 2 0 2-1 2 0 2 0 2 0 2-1 2 0 2 0 2 0 2 0 2 0 2 0 2 0 2 0 2 0 2 0 2 0 2 0 2 0 2 0 2 0 2 0 2 0 2 0 2 0 2 0 2 0 2 0 2 0 2 0 2 0 2 0 2 0 2 0 2 1 2 0 2 0 2 0 2 1 2 0 2 1 2 0 2 0 2 1 2 0 2 0 2 1 2 0 2 1 2 0 2 0 2 1 2 0 2 1 1 0 2 1 2 0 2 0 2 1 2 0 2 1 2 0 2 1 2 0 2 1 2 0 2 1 2 1 2 0 2 1 2 0 2 1 2 1 2 0 2 1 2 0 2 1 2 1 2 0 2 1 2 1 2 0 2 1 2 1 2 1 2 0 2 1 2 1 2 1 2 0 2 1 2 1 2 1 2 0 2 1 2 1 2 1 2 1 2 0 2 1 2 1 2 1 2 1 2 0 2 1 2 1 2 1 2 0 2 1 2 1 2 1 2 0 2 1 2 0 2 1 2 1 2 0 2 1 2 0 2 1 2 0 2 1 2 0 2 1 2 0 2 1 2 0 2 1 2 0 1 0 2 1 2 0 2 1 2 0 2 1 2 0 2 1 2 0 2 0 2 1 2 0 2 1 2 0 2 0 2 0 2 1 2 0 2 0 2 0 2 1 2 0 2 0 2 0 2 0 2 1 2 0 2 0 2 0 2 0 2 1 2 0 2 0 2 0 2 0 2 1 2 0 2 0" clip-path="url(#h17)" fill="none" stroke="url(#gfla)" stroke-width="1.3" opacity="0.7" />
<path d="M1375 1006.5l2 0 2-0.1 2-0.1 1.9 0 2-0.1 2-0.1 2-0.1 2-0.1 2-0.2 2-0.1 2-0.2 1.9-0.1 2-0.2 2-0.2 2-0.1 2-0.2 2-0.2 2-0.2 1.9-0.2 2-0.2 2-0.3 2-0.2 2-0.2 2-0.2 2-0.2 2-0.3 1.9-0.3 2-0.3 2-0.3 2-0.4 2-0.4 2-0.4 2-0.4 1.9-0.5 2-0.4 2-0.5 2-0.5 2-0.5 2-0.6 2-0.5 2-0.5 1.9-0.5 2-0.6 2-0.5 2-0.6 2-0.5 2-0.5 2-0.6 1.9-0.5 2-0.6 2-0.5 2-0.6 2-0.6 2-0.6 2-0.7 2-0.6 1.9-0.6 2-0.7 2-0.7 2-0.6 2-0.7 2-0.7 2-0.7 1.9-0.7 2-0.7 2-0.7 2-0.7 2-0.7 2-0.8 2-0.7 2-0.8 1.9-0.7 2-0.8 2-0.7 2-0.8 2-0.8 2-0.8 2-0.8 1.9-0.8 2-0.9 2-0.8 2-0.9 2-0.9 2-0.8 2-1 1.9-0.9 2-0.9 2-1 2-1 2-1 2-1 2-1.1 2-1.1 1.9-1.1 2-1.2 2-1.1 2-1.3 2-1.2 2-1.2 2-1.3 1.9-1.3 2-1.4 2-1.3 2-1.4 2-1.3 2-1.4 2-1.4 2-1.4 1.9-1.4 2-1.5 2-1.4 2-1.4 2-1.5 2-1.5 2-1.5 1.9-1.6 2-1.5 2-1.6 2-1.7 2-1.6 2-1.7 2-1.6 2-1.7 1.9-1.7 2-1.8 2-1.8 2-1.8 2-1.8 2-1.9 2-1.8 1.9-1.8 2-1.8 2-1.8 2-1.7 2-1.6 2-1.7 2-1.6 2-1.6 1.9-1.5 2-1.6 2-1.5 2-1.6 2-1.5 2-1.4 2-1.5 1.9-1.4 2 0.1 2 1.7 2 1.6 2 1.7 2 1.8 2 1.7 2 1.8 1.9 1.8 2 1.8 2 1.8 2 1.9 2 1.8 2 1.9 2 1.8 1.9 1.9 2 1.9 2 2 2 2 2 2 2 2 2 2.1 2 2.1 1.9 2 2 2 2 2 2 1.9 2 1.8 2 1.7 2 1.8 1.9 1.7 2 1.8 2 1.6 2 1.7 2 1.6 2 1.5 2 1.4 2 1.4 1.9 1.2 2 1.2 2 1.1 2 1.1 2 1 2 0.9 2 1 1.9 0.9 2 0.9 2 0.9 2 1 2 0.9 2 1.1 2 1 2 1 1.9 1 2 1.1 2 1 2 1 2 1 2 0.9 2 1 1.9 0.9 2 0.8 2 0.8 2 0.9 2 0.8 2 0.7 2 0.8 2 0.8 1.9 0.7 2 0.8 2 0.8 2 0.8 2 0.8 2 0.7 2 0.8 1.9 0.8 2 0.8 2 0.8 2 0.8 2 0.8 2 0.8 2 0.8 1.9 0.8 2 0.8 2 0.8 2 0.8 2 0.9 2 0.8 2 0.8 2 0.8 1.9 0.8 2 0.7 2 0.8 2 0.7 2 0.7 2 0.6 2 0.7 1.9 0.6 2 0.6 2 0.7 2 0.5 2 0.6 2 0.5 2 0.6 2 0.4 1.9 0.5 2 0.4 2 0.5 2 0.4 2 0.4 2 0.4 2 0.3 1.9 0.4 2 0.3 2 0.4 2 0.3 2 0.3 2 0.4 2 0.3 2 0.3 1.9 0.4 2 0.3 2 0.3 2 0.3 2 0.3 2 0.3 2 0.2 1.9 0.3 2 0.2 2 0.1 2 0.2 2 0.1 2 0.1 2 0.1 2 0 1.9 0.1 2 0.1 2 0 2 0.1 2 0.1 2 0 2 0.1 1.9 0.1 2 0 2 0 2 0.1 2 0 2 0.1 2 0 2 0 1.9 0.1 2 0 2 0 2 0 0 16-2 0-2 0-2 0-1.9-0.1-2 0-2 0-2-0.1-2 0-2-0.1-2 0-2 0-1.9-0.1-2-0.1-2 0-2-0.1-2-0.1-2 0-2-0.1-1.9-0.1-2 0-2-0.1-2-0.1-2-0.1-2-0.2-2-0.1-2-0.2-1.9-0.3-2-0.2-2-0.3-2-0.3-2-0.3-2-0.3-2-0.3-1.9-0.4-2-0.3-2-0.3-2-0.4-2-0.3-2-0.3-2-0.4-2-0.3-1.9-0.4-2-0.3-2-0.4-2-0.4-2-0.4-2-0.5-2-0.4-1.9-0.5-2-0.4-2-0.6-2-0.5-2-0.6-2-0.5-2-0.7-2-0.6-1.9-0.6-2-0.7-2-0.6-2-0.7-2-0.7-2-0.8-2-0.7-1.9-0.8-2-0.8-2-0.8-2-0.8-2-0.9-2-0.8-2-0.8-2-0.8-1.9-0.8-2-0.8-2-0.8-2-0.8-2-0.8-2-0.8-2-0.9-1.9-1-2-0.9-2-1-2-0.9-2-1-2-0.9-2-0.9-1.9-1-2-0.9-2-0.9-2-1-2-0.9-2-1-2-1-2-1-1.9-1-2-1.1-2-1.2-2-1.1-2-1.2-2-1.1-2-1.2-1.9-1.2-2-1.2-2-1.2-2-1.1-2-1.2-2-1.1-2-1.1-2-1-1.9-1.1-2-1.1-2-1.1-2-1.2-2-1.2-2-1.3-2-1.3-1.9-1.4-2-1.5-2-1.6-2-1.7-2-1.7-2-1.8-2-1.9-2-1.9-1.9-1.9-2-1.9-2-1.9-2-2-2-2-2-2.1-2-2.2-1.9-2.2-2-2.2-2-2.3-2-2.2-2-2.2-2-2.1-2-2.1-2-2.1-1.9-2-2-2-2-2.1-2-2-2-2-2-1.9-2-2-1.9-2-2-1.9-2-1.9-2-1.9-2-1.9-2-1.8-2-1.8-2-0.1-1.9 1.5-2 1.7-2 1.6-2 1.6-2 1.7-2 1.7-2 1.7-1.9 1.8-2 1.7-2 1.8-2 1.8-2 1.8-2 1.9-2 1.9-2 1.9-1.9 2-2 2-2 2-2 2-2 2-2 1.9-2 1.9-1.9 1.9-2 1.8-2 1.9-2 1.8-2 1.8-2 1.8-2 1.7-2 1.8-1.9 1.7-2 1.7-2 1.6-2 1.6-2 1.6-2 1.6-2 1.6-1.9 1.6-2 1.6-2 1.5-2 1.6-2 1.5-2 1.5-2 1.5-2 1.5-1.9 1.5-2 1.4-2 1.4-2 1.4-2 1.4-2 1.3-2 1.3-1.9 1.3-2 1.3-2 1.2-2 1.2-2 1.2-2 1.1-2 1.1-2 1.1-1.9 1.1-2 1.1-2 1-2 1.1-2 1-2 1-2 1-1.9 1-2 0.9-2 1-2 1-2 0.9-2 0.9-2 0.9-1.9 0.9-2 0.8-2 0.7-2 0.8-2 0.7-2 0.7-2 0.7-2 0.7-1.9 0.7-2 0.7-2 0.7-2 0.7-2 0.6-2 0.7-2 0.7-1.9 0.6-2 0.6-2 0.7-2 0.6-2 0.6-2 0.6-2 0.5-2 0.6-1.9 0.5-2 0.6-2 0.5-2 0.5-2 0.6-2 0.5-2 0.6-1.9 0.5-2 0.5-2 0.5-2 0.6-2 0.5-2 0.5-2 0.5-2 0.4-1.9 0.5-2 0.4-2 0.4-2 0.4-2 0.4-2 0.3-2 0.3-1.9 0.3-2 0.3-2 0.2-2 0.2-2 0.2-2 0.2-2 0.3-2 0.2-1.9 0.2-2 0.2-2 0.2-2 0.2-2 0.1-2 0.2-2 0.2-1.9 0.1-2 0.2-2 0.1-2 0.2-2 0.1-2 0.1-2 0.1-2 0.1-1.9 0-2 0.1-2 0.1-2 0z" fill="url(#gflb)" opacity="0.8" clip-path="url(#cflo)"/>
<rect x="1382" y="1006" width="13" height="14" fill="#c05858"/>
<path d="M1379 807.6l4.9 0.5 6.7 0.7 8 0.8 8.6 1 8.5 1.1 7.9 1.3 7.3 1.5 7.3 1.7 7.3 1.8 7.2 2 7.2 2 7.3 2 7.3 2.1 7.2 2.2 7.3 2.2 7.3 2.2 7.2 2.2 7.3 2.1 7.3 2 7.2 1.9 7.3 1.8 7.3 1.8 7.2 1.8 7.3 1.7 7.3 1.7 7.2 1.8 7.3 1.7 7.3 1.6 7.2 1.6 7.3 1.4 7.5 1.3 7.9 1.3 7.8 1.2 7.5 1 6.9 0.9 6 0.8 5.1 0.6 4.5 0.4 3.8 0.3 3.3 0.1 2.6 0.2 2.1 0.1" fill="none" stroke="#80e4e4" stroke-width="2.4" stroke-linejoin="round" stroke-linecap="round" />
<path d="M1379 807.6l4.9 0.9 6.7 1.2 8 1.5 8.6 1.6 8.5 1.8 7.9 1.8 7.3 1.9 7.3 2 7.3 2.2 7.2 2.2 7.2 2.4 7.3 2.3 7.3 2.4 7.2 2.6 7.3 2.6 7.3 2.6 7.2 2.6 7.3 2.5 7.3 2.5 7.2 2.4 7.3 2.5 7.3 2.4 7.2 2.2 7.3 2.2 7.3 2 7.2 2 7.3 1.9 7.3 1.7 7.2 1.7 7.3 1.6 7.5 1.5 7.7 1.5 7.8 1.4 7.5 1.3 6.9 1 6.2 0.9 5.5 0.6 5 0.3 4.4 0.1 3.9 0.1 3.2 0 2.4 0" fill="none" stroke="#ee8c8c" stroke-width="2.4" stroke-linejoin="round" stroke-linecap="round" />
<path d="M1663 866l0.5 0.2 0.3 0.2 0.6 0.2 1.1 0.3 2 0.2 3 0.1 4.4 0.1 5.5 0.2 6.4 0.2 6.9-0.1 7-0.3 6.9-0.8 6.9-1.3 7.2-1.8 7.3-2.1 7.4-2.3 7.5-2.3 7.3-2.2 7.3-2.1 7.2-2.1 7.3-2.1 7.3-2.2 7.2-2.3 7.3-2.3 7.3-2.5 7.2-2.6 7.3-2.6 7.3-2.7 7.2-2.5 7.3-2.3 7.3-2.1 7.2-2 7.3-1.9 7.3-1.7 7.2-1.7 7.3-1.5 7.3-1.4 7.4-1.3 7.4-1.2 7.3-1.1 7.2-0.9 7-0.7 7.3-0.5 7.6-0.3 7.5-0.2 6.9 0 5.9 0 4.2-0.1" fill="none" stroke="#ee8c8c" stroke-width="2.4" stroke-linejoin="round" stroke-linecap="round" />
<path d="M1666 878.5l1.4 0.5 1.7 0.7 2.2 0.8 2.5 0.9 2.9 0.7 3.3 0.4 3.6 0.3 4 0.2 4.4 0.2 4.7-0.2 5.2-0.4 5.7-0.8 6.3-1.3 7-1.7 7.5-2 7.7-2.2 7.6-2.4 7.5-2.4 7.3-2.6 7.2-2.7 7.3-3 7.3-3 7.2-3.1 7.3-3.1 7.3-3.2 7.2-3.3 7.3-3.4 7.3-3.4 7.2-3.3 7.3-3 7.3-2.9 7.2-2.8 7.3-2.7 7.3-2.5 7.2-2.3 7.3-2.1 7.3-1.8 7.4-1.5 7.4-1.3 7.3-1.2 7.2-0.9 7-0.9 7.3-0.7 7.6-0.5 7.5-0.4 6.9-0.2 5.9-0.2 4.2-0.2" fill="none" stroke="#80e4e4" stroke-width="2.4" stroke-linejoin="round" stroke-linecap="round" />
</g>
<clipPath id="ca"><rect x="86.5" y="16" width="576.5" height="483"/></clipPath>
<g clip-path="url(#ca)">
<path d="M97.5,311.1H653.5" stroke="#000" stroke-width="2" stroke-dasharray="9,8" fill="none"/>
<path d="M97.5,337.2 L98.9,337.1 L100.3,336.9 L101.7,336.7 L103.1,336.3 L104.5,335.9 L105.9,335.3 L107.3,334.7 L108.6,334 L110,333.2 L111.4,332.3 L112.8,331.4 L114.2,330.4 L115.6,329.3 L117,328.3 L118.4,327.1 L119.8,326 L121.2,324.8 L122.6,323.5 L124,322.3 L125.4,321 L126.8,319.7 L128.2,318.4 L129.6,317 L130.9,315.7 L132.3,314.3 L133.7,312.8 L135.1,311.4 L136.5,309.9 L137.9,308.4 L139.3,306.8 L140.7,305.2 L142.1,303.6 L143.5,301.9 L144.9,300.1 L146.3,298.3 L147.7,296.5 L149.1,294.6 L150.5,292.6 L151.8,290.5 L153.2,288.4 L154.6,286.2 L156,284 L157.4,281.7 L158.8,279.3 L160.2,276.8 L161.6,274.3 L163,271.8 L164.4,269.1 L165.8,266.5 L167.2,263.7 L168.6,260.9 L170,258.1 L171.4,255.2 L172.7,252.2 L174.1,249.3 L175.5,246.2 L176.9,243.2 L178.3,240 L179.7,236.9 L181.1,233.7 L182.5,230.5 L183.9,227.3 L185.3,224 L186.7,220.8 L188.1,217.5 L189.5,214.2 L190.9,210.9 L192.3,207.6 L193.7,204.3 L195,201 L196.4,197.7 L197.8,194.4 L199.2,191.1 L200.6,187.9 L202,184.6 L203.4,181.4 L204.8,178.2 L206.2,175.1 L207.6,171.9 L209,168.8 L210.4,165.8 L211.8,162.7 L213.2,159.7 L214.6,156.7 L215.9,153.7 L217.3,150.7 L218.7,147.8 L220.1,144.8 L221.5,141.9 L222.9,139 L224.3,136.1 L225.7,133.2 L227.1,130.3 L228.5,127.5 L229.9,124.6 L231.3,121.7 L232.7,118.8 L234.1,115.9 L235.5,113.1 L236.8,110.2 L238.2,107.4 L239.6,104.6 L241,101.8 L242.4,99 L243.8,96.2 L245.2,93.5 L246.6,90.9 L248,88.2 L249.4,85.7 L250.8,83.2 L252.2,80.7 L253.6,78.3 L255,76 L256.4,73.7 L257.8,71.6 L259.1,69.4 L260.5,67.4 L261.9,65.4 L263.3,63.5 L264.7,61.7 L266.1,59.9 L267.5,58.2 L268.9,56.5 L270.3,54.9 L271.7,53.3 L273.1,51.8 L274.5,50.3 L275.9,48.8 L277.3,47.4 L278.7,46 L280,44.7 L281.4,43.4 L282.8,42.1 L284.2,40.8 L285.6,39.6 L287,38.4 L288.4,37.2 L289.8,36.1 L291.2,35 L292.6,34 L294,33 L295.4,32 L296.8,31.1 L298.2,30.3 L299.6,29.5 L300.9,28.8 L302.3,28.2 L303.7,27.7 L305.1,27.2 L306.5,26.7 L307.9,26.4 L309.3,26.1 L310.7,25.9 L312.1,25.7 L313.5,25.7 L314.9,25.6 L316.3,25.6 L317.7,25.7 L319.1,25.8 L320.5,26 L321.9,26.2 L323.2,26.4 L324.6,26.7 L326,26.9 L327.4,27.2 L328.8,27.5 L330.2,27.9 L331.6,28.2 L333,28.6 L334.4,28.9 L335.8,29.3 L337.2,29.7 L338.6,30.1 L340,30.5 L341.4,31 L342.8,31.4 L344.1,31.9 L345.5,32.4 L346.9,32.9 L348.3,33.4 L349.7,33.9 L351.1,34.5 L352.5,35 L353.9,35.6 L355.3,36.1 L356.7,36.7 L358.1,37.3 L359.5,37.8 L360.9,38.3 L362.3,38.8 L363.7,39.3 L365,39.7 L366.4,40.1 L367.8,40.5 L369.2,40.8 L370.6,41 L372,41.2 L373.4,41.3 L374.8,41.4 L376.2,41.4 L377.6,41.3 L379,41.2 L380.4,41 L381.8,40.8 L383.2,40.5 L384.6,40.1 L386,39.7 L387.3,39.3 L388.7,38.8 L390.1,38.3 L391.5,37.8 L392.9,37.3 L394.3,36.7 L395.7,36.1 L397.1,35.6 L398.5,35 L399.9,34.5 L401.3,33.9 L402.7,33.4 L404.1,32.9 L405.5,32.4 L406.9,31.9 L408.2,31.4 L409.6,31 L411,30.5 L412.4,30.1 L413.8,29.7 L415.2,29.3 L416.6,28.9 L418,28.6 L419.4,28.2 L420.8,27.9 L422.2,27.5 L423.6,27.2 L425,26.9 L426.4,26.7 L427.8,26.4 L429.1,26.2 L430.5,26 L431.9,25.8 L433.3,25.7 L434.7,25.6 L436.1,25.6 L437.5,25.7 L438.9,25.7 L440.3,25.9 L441.7,26.1 L443.1,26.4 L444.5,26.7 L445.9,27.2 L447.3,27.7 L448.7,28.2 L450.1,28.8 L451.4,29.5 L452.8,30.3 L454.2,31.1 L455.6,32 L457,33 L458.4,34 L459.8,35 L461.2,36.1 L462.6,37.2 L464,38.4 L465.4,39.6 L466.8,40.8 L468.2,42.1 L469.6,43.4 L471,44.7 L472.3,46 L473.7,47.4 L475.1,48.8 L476.5,50.3 L477.9,51.8 L479.3,53.3 L480.7,54.9 L482.1,56.5 L483.5,58.2 L484.9,59.9 L486.3,61.7 L487.7,63.5 L489.1,65.4 L490.5,67.4 L491.9,69.4 L493.2,71.6 L494.6,73.7 L496,76 L497.4,78.3 L498.8,80.7 L500.2,83.2 L501.6,85.7 L503,88.2 L504.4,90.9 L505.8,93.5 L507.2,96.2 L508.6,99 L510,101.8 L511.4,104.6 L512.8,107.4 L514.2,110.2 L515.5,113.1 L516.9,115.9 L518.3,118.8 L519.7,121.7 L521.1,124.6 L522.5,127.5 L523.9,130.3 L525.3,133.2 L526.7,136.1 L528.1,139 L529.5,141.9 L530.9,144.8 L532.3,147.8 L533.7,150.7 L535.1,153.7 L536.4,156.7 L537.8,159.7 L539.2,162.7 L540.6,165.8 L542,168.8 L543.4,171.9 L544.8,175.1 L546.2,178.2 L547.6,181.4 L549,184.6 L550.4,187.9 L551.8,191.1 L553.2,194.4 L554.6,197.7 L556,201 L557.3,204.3 L558.7,207.6 L560.1,210.9 L561.5,214.2 L562.9,217.5 L564.3,220.8 L565.7,224 L567.1,227.3 L568.5,230.5 L569.9,233.7 L571.3,236.9 L572.7,240 L574.1,243.2 L575.5,246.2 L576.9,249.3 L578.3,252.2 L579.6,255.2 L581,258.1 L582.4,260.9 L583.8,263.7 L585.2,266.5 L586.6,269.1 L588,271.8 L589.4,274.3 L590.8,276.8 L592.2,279.3 L593.6,281.7 L595,284 L596.4,286.2 L597.8,288.4 L599.2,290.5 L600.5,292.6 L601.9,294.6 L603.3,296.5 L604.7,298.3 L606.1,300.1 L607.5,301.9 L608.9,303.6 L610.3,305.2 L611.7,306.8 L613.1,308.4 L614.5,309.9 L615.9,311.4 L617.3,312.8 L618.7,314.3 L620.1,315.7 L621.4,317 L622.8,318.4 L624.2,319.7 L625.6,321 L627,322.3 L628.4,323.5 L629.8,324.8 L631.2,326 L632.6,327.1 L634,328.3 L635.4,329.3 L636.8,330.4 L638.2,331.4 L639.6,332.3 L641,333.2 L642.4,334 L643.7,334.7 L645.1,335.3 L646.5,335.9 L647.9,336.3 L649.3,336.7 L650.7,336.9 L652.1,337.1 L653.5,337.2" stroke="#000" stroke-width="3" fill="none" stroke-linejoin="round"/>
<path d="M97.5,489.8 L98.9,489.8 L100.3,489.8 L101.7,489.7 L103.1,489.7 L104.5,489.6 L105.9,489.5 L107.3,489.3 L108.6,489.2 L110,489 L111.4,488.8 L112.8,488.6 L114.2,488.4 L115.6,488.1 L117,487.8 L118.4,487.5 L119.8,487.2 L121.2,486.8 L122.6,486.5 L124,486.1 L125.4,485.7 L126.8,485.2 L128.2,484.8 L129.6,484.3 L130.9,483.8 L132.3,483.3 L133.7,482.7 L135.1,482.2 L136.5,481.6 L137.9,481 L139.3,480.3 L140.7,479.7 L142.1,479 L143.5,478.4 L144.9,477.7 L146.3,477 L147.7,476.3 L149.1,475.6 L150.5,474.8 L151.8,474.1 L153.2,473.4 L154.6,472.7 L156,471.9 L157.4,471.2 L158.8,470.5 L160.2,469.8 L161.6,469.1 L163,468.5 L164.4,467.8 L165.8,467.2 L167.2,466.6 L168.6,466.1 L170,465.5 L171.4,465 L172.7,464.6 L174.1,464.1 L175.5,463.8 L176.9,463.4 L178.3,463.1 L179.7,462.8 L181.1,462.6 L182.5,462.4 L183.9,462.2 L185.3,462.1 L186.7,462.1 L188.1,462 L189.5,462 L190.9,462.1 L192.3,462.1 L193.7,462.2 L195,462.4 L196.4,462.5 L197.8,462.7 L199.2,462.9 L200.6,463.1 L202,463.4 L203.4,463.6 L204.8,463.9 L206.2,464.2 L207.6,464.4 L209,464.7 L210.4,465 L211.8,465.3 L213.2,465.6 L214.6,465.9 L215.9,466.1 L217.3,466.4 L218.7,466.6 L220.1,466.9 L221.5,467.1 L222.9,467.3 L224.3,467.5 L225.7,467.7 L227.1,467.8 L228.5,467.9 L229.9,468 L231.3,468.1 L232.7,468.1 L234.1,468.2 L235.5,468.1 L236.8,468.1 L238.2,467.9 L239.6,467.8 L241,467.6 L242.4,467.3 L243.8,467 L245.2,466.7 L246.6,466.3 L248,465.8 L249.4,465.2 L250.8,464.6 L252.2,463.9 L253.6,463.1 L255,462.3 L256.4,461.3 L257.8,460.3 L259.1,459.2 L260.5,458 L261.9,456.8 L263.3,455.4 L264.7,453.9 L266.1,452.4 L267.5,450.8 L268.9,449.1 L270.3,447.3 L271.7,445.4 L273.1,443.4 L274.5,441.4 L275.9,439.2 L277.3,437 L278.7,434.8 L280,432.4 L281.4,430 L282.8,427.6 L284.2,425.1 L285.6,422.5 L287,419.9 L288.4,417.2 L289.8,414.5 L291.2,411.7 L292.6,408.9 L294,406.1 L295.4,403.3 L296.8,400.4 L298.2,397.5 L299.6,394.5 L300.9,391.6 L302.3,388.6 L303.7,385.6 L305.1,382.6 L306.5,379.6 L307.9,376.5 L309.3,373.5 L310.7,370.4 L312.1,367.3 L313.5,364.2 L314.9,361.1 L316.3,358 L317.7,354.8 L319.1,351.7 L320.5,348.5 L321.9,345.4 L323.2,342.2 L324.6,339.1 L326,335.9 L327.4,332.8 L328.8,329.6 L330.2,326.5 L331.6,323.4 L333,320.3 L334.4,317.2 L335.8,314.2 L337.2,311.2 L338.6,308.2 L340,305.3 L341.4,302.5 L342.8,299.6 L344.1,296.9 L345.5,294.2 L346.9,291.6 L348.3,289.1 L349.7,286.7 L351.1,284.3 L352.5,282.1 L353.9,279.9 L355.3,277.9 L356.7,275.9 L358.1,274.1 L359.5,272.4 L360.9,270.9 L362.3,269.4 L363.7,268.1 L365,267 L366.4,266 L367.8,265.1 L369.2,264.3 L370.6,263.7 L372,263.3 L373.4,263 L374.8,262.8 L376.2,262.8 L377.6,263 L379,263.3 L380.4,263.7 L381.8,264.3 L383.2,265.1 L384.6,266 L386,267 L387.3,268.1 L388.7,269.4 L390.1,270.9 L391.5,272.4 L392.9,274.1 L394.3,275.9 L395.7,277.9 L397.1,279.9 L398.5,282.1 L399.9,284.3 L401.3,286.7 L402.7,289.1 L404.1,291.6 L405.5,294.2 L406.9,296.9 L408.2,299.6 L409.6,302.5 L411,305.3 L412.4,308.2 L413.8,311.2 L415.2,314.2 L416.6,317.2 L418,320.3 L419.4,323.4 L420.8,326.5 L422.2,329.6 L423.6,332.8 L425,335.9 L426.4,339.1 L427.8,342.2 L429.1,345.4 L430.5,348.5 L431.9,351.7 L433.3,354.8 L434.7,358 L436.1,361.1 L437.5,364.2 L438.9,367.3 L440.3,370.4 L441.7,373.5 L443.1,376.5 L444.5,379.6 L445.9,382.6 L447.3,385.6 L448.7,388.6 L450.1,391.6 L451.4,394.5 L452.8,397.5 L454.2,400.4 L455.6,403.3 L457,406.1 L458.4,408.9 L459.8,411.7 L461.2,414.5 L462.6,417.2 L464,419.9 L465.4,422.5 L466.8,425.1 L468.2,427.6 L469.6,430 L471,432.4 L472.3,434.8 L473.7,437 L475.1,439.2 L476.5,441.4 L477.9,443.4 L479.3,445.4 L480.7,447.3 L482.1,449.1 L483.5,450.8 L484.9,452.4 L486.3,453.9 L487.7,455.4 L489.1,456.8 L490.5,458 L491.9,459.2 L493.2,460.3 L494.6,461.3 L496,462.3 L497.4,463.1 L498.8,463.9 L500.2,464.6 L501.6,465.2 L503,465.8 L504.4,466.3 L505.8,466.7 L507.2,467 L508.6,467.3 L510,467.6 L511.4,467.8 L512.8,467.9 L514.2,468.1 L515.5,468.1 L516.9,468.2 L518.3,468.1 L519.7,468.1 L521.1,468 L522.5,467.9 L523.9,467.8 L525.3,467.7 L526.7,467.5 L528.1,467.3 L529.5,467.1 L530.9,466.9 L532.3,466.6 L533.7,466.4 L535.1,466.1 L536.4,465.9 L537.8,465.6 L539.2,465.3 L540.6,465 L542,464.7 L543.4,464.4 L544.8,464.2 L546.2,463.9 L547.6,463.6 L549,463.4 L550.4,463.1 L551.8,462.9 L553.2,462.7 L554.6,462.5 L556,462.4 L557.3,462.2 L558.7,462.1 L560.1,462.1 L561.5,462 L562.9,462 L564.3,462.1 L565.7,462.1 L567.1,462.2 L568.5,462.4 L569.9,462.6 L571.3,462.8 L572.7,463.1 L574.1,463.4 L575.5,463.8 L576.9,464.1 L578.3,464.6 L579.6,465 L581,465.5 L582.4,466.1 L583.8,466.6 L585.2,467.2 L586.6,467.8 L588,468.5 L589.4,469.1 L590.8,469.8 L592.2,470.5 L593.6,471.2 L595,471.9 L596.4,472.7 L597.8,473.4 L599.2,474.1 L600.5,474.8 L601.9,475.6 L603.3,476.3 L604.7,477 L606.1,477.7 L607.5,478.4 L608.9,479 L610.3,479.7 L611.7,480.3 L613.1,481 L614.5,481.6 L615.9,482.2 L617.3,482.7 L618.7,483.3 L620.1,483.8 L621.4,484.3 L622.8,484.8 L624.2,485.2 L625.6,485.7 L627,486.1 L628.4,486.5 L629.8,486.8 L631.2,487.2 L632.6,487.5 L634,487.8 L635.4,488.1 L636.8,488.4 L638.2,488.6 L639.6,488.8 L641,489 L642.4,489.2 L643.7,489.3 L645.1,489.5 L646.5,489.6 L647.9,489.7 L649.3,489.7 L650.7,489.8 L652.1,489.8 L653.5,489.8" stroke="#000" stroke-width="3" fill="none" stroke-linejoin="round"/>
<path d="M97.5,41.4 L98.9,41.4 L100.3,41.3 L101.7,41.1 L103.1,40.9 L104.5,40.6 L105.9,40.3 L107.3,39.9 L108.6,39.5 L110,39.1 L111.4,38.6 L112.8,38.1 L114.2,37.5 L115.6,37 L117,36.4 L118.4,35.9 L119.8,35.3 L121.2,34.8 L122.6,34.2 L124,33.7 L125.4,33.1 L126.8,32.6 L128.2,32.1 L129.6,31.7 L130.9,31.2 L132.3,30.8 L133.7,30.3 L135.1,29.9 L136.5,29.5 L137.9,29.1 L139.3,28.7 L140.7,28.4 L142.1,28 L143.5,27.7 L144.9,27.4 L146.3,27.1 L147.7,26.8 L149.1,26.5 L150.5,26.3 L151.8,26.1 L153.2,25.9 L154.6,25.8 L156,25.7 L157.4,25.6 L158.8,25.6 L160.2,25.7 L161.6,25.8 L163,26 L164.4,26.2 L165.8,26.6 L167.2,26.9 L168.6,27.4 L170,27.9 L171.4,28.5 L172.7,29.2 L174.1,29.9 L175.5,30.7 L176.9,31.6 L178.3,32.5 L179.7,33.4 L181.1,34.5 L182.5,35.5 L183.9,36.6 L185.3,37.8 L186.7,39 L188.1,40.2 L189.5,41.4 L190.9,42.7 L192.3,44 L193.7,45.4 L195,46.7 L196.4,48.1 L197.8,49.6 L199.2,51 L200.6,52.5 L202,54.1 L203.4,55.7 L204.8,57.3 L206.2,59 L207.6,60.8 L209,62.6 L210.4,64.5 L211.8,66.4 L213.2,68.4 L214.6,70.5 L215.9,72.6 L217.3,74.9 L218.7,77.2 L220.1,79.5 L221.5,81.9 L222.9,84.4 L224.3,87 L225.7,89.6 L227.1,92.2 L228.5,94.9 L229.9,97.6 L231.3,100.4 L232.7,103.2 L234.1,106 L235.5,108.8 L236.8,111.7 L238.2,114.5 L239.6,117.4 L241,120.3 L242.4,123.1 L243.8,126 L245.2,128.9 L246.6,131.8 L248,134.7 L249.4,137.6 L250.8,140.5 L252.2,143.4 L253.6,146.3 L255,149.2 L256.4,152.2 L257.8,155.2 L259.1,158.2 L260.5,161.2 L261.9,164.2 L263.3,167.3 L264.7,170.4 L266.1,173.5 L267.5,176.6 L268.9,179.8 L270.3,183 L271.7,186.2 L273.1,189.5 L274.5,192.8 L275.9,196 L277.3,199.3 L278.7,202.6 L280,205.9 L281.4,209.2 L282.8,212.5 L284.2,215.8 L285.6,219.1 L287,222.4 L288.4,225.7 L289.8,228.9 L291.2,232.1 L292.6,235.3 L294,238.5 L295.4,241.6 L296.8,244.7 L298.2,247.7 L299.6,250.8 L300.9,253.7 L302.3,256.6 L303.7,259.5 L305.1,262.3 L306.5,265.1 L307.9,267.8 L309.3,270.5 L310.7,273.1 L312.1,275.6 L313.5,278.1 L314.9,280.5 L316.3,282.8 L317.7,285.1 L319.1,287.3 L320.5,289.5 L321.9,291.5 L323.2,293.6 L324.6,295.5 L326,297.4 L327.4,299.2 L328.8,301 L330.2,302.7 L331.6,304.4 L333,306 L334.4,307.6 L335.8,309.2 L337.2,310.7 L338.6,312.1 L340,313.6 L341.4,315 L342.8,316.3 L344.1,317.7 L345.5,319 L346.9,320.3 L348.3,321.6 L349.7,322.9 L351.1,324.1 L352.5,325.4 L353.9,326.5 L355.3,327.7 L356.7,328.8 L358.1,329.9 L359.5,330.9 L360.9,331.9 L362.3,332.8 L363.7,333.6 L365,334.3 L366.4,335 L367.8,335.6 L369.2,336.1 L370.6,336.5 L372,336.8 L373.4,337 L374.8,337.1 L376.2,337.1 L377.6,337 L379,336.8 L380.4,336.5 L381.8,336.1 L383.2,335.6 L384.6,335 L386,334.3 L387.3,333.6 L388.7,332.8 L390.1,331.9 L391.5,330.9 L392.9,329.9 L394.3,328.8 L395.7,327.7 L397.1,326.5 L398.5,325.4 L399.9,324.1 L401.3,322.9 L402.7,321.6 L404.1,320.3 L405.5,319 L406.9,317.7 L408.2,316.3 L409.6,315 L411,313.6 L412.4,312.1 L413.8,310.7 L415.2,309.2 L416.6,307.6 L418,306 L419.4,304.4 L420.8,302.7 L422.2,301 L423.6,299.2 L425,297.4 L426.4,295.5 L427.8,293.6 L429.1,291.5 L430.5,289.5 L431.9,287.3 L433.3,285.1 L434.7,282.8 L436.1,280.5 L437.5,278.1 L438.9,275.6 L440.3,273.1 L441.7,270.5 L443.1,267.8 L444.5,265.1 L445.9,262.3 L447.3,259.5 L448.7,256.6 L450.1,253.7 L451.4,250.8 L452.8,247.7 L454.2,244.7 L455.6,241.6 L457,238.5 L458.4,235.3 L459.8,232.1 L461.2,228.9 L462.6,225.7 L464,222.4 L465.4,219.1 L466.8,215.8 L468.2,212.5 L469.6,209.2 L471,205.9 L472.3,202.6 L473.7,199.3 L475.1,196 L476.5,192.8 L477.9,189.5 L479.3,186.2 L480.7,183 L482.1,179.8 L483.5,176.6 L484.9,173.5 L486.3,170.4 L487.7,167.3 L489.1,164.2 L490.5,161.2 L491.9,158.2 L493.2,155.2 L494.6,152.2 L496,149.2 L497.4,146.3 L498.8,143.4 L500.2,140.5 L501.6,137.6 L503,134.7 L504.4,131.8 L505.8,128.9 L507.2,126 L508.6,123.1 L510,120.3 L511.4,117.4 L512.8,114.5 L514.2,111.7 L515.5,108.8 L516.9,106 L518.3,103.2 L519.7,100.4 L521.1,97.6 L522.5,94.9 L523.9,92.2 L525.3,89.6 L526.7,87 L528.1,84.4 L529.5,81.9 L530.9,79.5 L532.3,77.2 L533.7,74.9 L535.1,72.6 L536.4,70.5 L537.8,68.4 L539.2,66.4 L540.6,64.5 L542,62.6 L543.4,60.8 L544.8,59 L546.2,57.3 L547.6,55.7 L549,54.1 L550.4,52.5 L551.8,51 L553.2,49.6 L554.6,48.1 L556,46.7 L557.3,45.4 L558.7,44 L560.1,42.7 L561.5,41.4 L562.9,40.2 L564.3,39 L565.7,37.8 L567.1,36.6 L568.5,35.5 L569.9,34.5 L571.3,33.4 L572.7,32.5 L574.1,31.6 L575.5,30.7 L576.9,29.9 L578.3,29.2 L579.6,28.5 L581,27.9 L582.4,27.4 L583.8,26.9 L585.2,26.6 L586.6,26.2 L588,26 L589.4,25.8 L590.8,25.7 L592.2,25.6 L593.6,25.6 L595,25.7 L596.4,25.8 L597.8,25.9 L599.2,26.1 L600.5,26.3 L601.9,26.5 L603.3,26.8 L604.7,27.1 L606.1,27.4 L607.5,27.7 L608.9,28 L610.3,28.4 L611.7,28.7 L613.1,29.1 L614.5,29.5 L615.9,29.9 L617.3,30.3 L618.7,30.8 L620.1,31.2 L621.4,31.7 L622.8,32.1 L624.2,32.6 L625.6,33.1 L627,33.7 L628.4,34.2 L629.8,34.8 L631.2,35.3 L632.6,35.9 L634,36.4 L635.4,37 L636.8,37.5 L638.2,38.1 L639.6,38.6 L641,39.1 L642.4,39.5 L643.7,39.9 L645.1,40.3 L646.5,40.6 L647.9,40.9 L649.3,41.1 L650.7,41.3 L652.1,41.4 L653.5,41.4" stroke="#f00" stroke-width="3" fill="none" stroke-linejoin="round"/>
<path d="M97.5,262.8 L98.9,262.9 L100.3,263.1 L101.7,263.5 L103.1,264 L104.5,264.7 L105.9,265.5 L107.3,266.5 L108.6,267.5 L110,268.8 L111.4,270.1 L112.8,271.6 L114.2,273.3 L115.6,275 L117,276.9 L118.4,278.9 L119.8,281 L121.2,283.2 L122.6,285.5 L124,287.9 L125.4,290.3 L126.8,292.9 L128.2,295.6 L129.6,298.3 L130.9,301 L132.3,303.9 L133.7,306.8 L135.1,309.7 L136.5,312.7 L137.9,315.7 L139.3,318.8 L140.7,321.8 L142.1,324.9 L143.5,328.1 L144.9,331.2 L146.3,334.3 L147.7,337.5 L149.1,340.6 L150.5,343.8 L151.8,347 L153.2,350.1 L154.6,353.3 L156,356.4 L157.4,359.5 L158.8,362.6 L160.2,365.7 L161.6,368.8 L163,371.9 L164.4,375 L165.8,378 L167.2,381.1 L168.6,384.1 L170,387.1 L171.4,390.1 L172.7,393.1 L174.1,396 L175.5,398.9 L176.9,401.8 L178.3,404.7 L179.7,407.5 L181.1,410.3 L182.5,413.1 L183.9,415.8 L185.3,418.5 L186.7,421.2 L188.1,423.8 L189.5,426.3 L190.9,428.8 L192.3,431.2 L193.7,433.6 L195,435.9 L196.4,438.2 L197.8,440.3 L199.2,442.4 L200.6,444.4 L202,446.3 L203.4,448.2 L204.8,449.9 L206.2,451.6 L207.6,453.2 L209,454.7 L210.4,456.1 L211.8,457.4 L213.2,458.6 L214.6,459.8 L215.9,460.8 L217.3,461.8 L218.7,462.7 L220.1,463.5 L221.5,464.2 L222.9,464.9 L224.3,465.5 L225.7,466 L227.1,466.5 L228.5,466.9 L229.9,467.2 L231.3,467.5 L232.7,467.7 L234.1,467.9 L235.5,468 L236.8,468.1 L238.2,468.1 L239.6,468.2 L241,468.1 L242.4,468.1 L243.8,468 L245.2,467.9 L246.6,467.7 L248,467.6 L249.4,467.4 L250.8,467.2 L252.2,467 L253.6,466.8 L255,466.5 L256.4,466.3 L257.8,466 L259.1,465.7 L260.5,465.4 L261.9,465.2 L263.3,464.9 L264.7,464.6 L266.1,464.3 L267.5,464 L268.9,463.8 L270.3,463.5 L271.7,463.3 L273.1,463 L274.5,462.8 L275.9,462.6 L277.3,462.4 L278.7,462.3 L280,462.2 L281.4,462.1 L282.8,462 L284.2,462 L285.6,462 L287,462.1 L288.4,462.2 L289.8,462.3 L291.2,462.5 L292.6,462.7 L294,462.9 L295.4,463.2 L296.8,463.6 L298.2,463.9 L299.6,464.4 L300.9,464.8 L302.3,465.3 L303.7,465.8 L305.1,466.3 L306.5,466.9 L307.9,467.5 L309.3,468.2 L310.7,468.8 L312.1,469.5 L313.5,470.2 L314.9,470.9 L316.3,471.6 L317.7,472.3 L319.1,473 L320.5,473.7 L321.9,474.5 L323.2,475.2 L324.6,475.9 L326,476.6 L327.4,477.3 L328.8,478 L330.2,478.7 L331.6,479.4 L333,480 L334.4,480.7 L335.8,481.3 L337.2,481.9 L338.6,482.4 L340,483 L341.4,483.5 L342.8,484 L344.1,484.5 L345.5,485 L346.9,485.5 L348.3,485.9 L349.7,486.3 L351.1,486.7 L352.5,487 L353.9,487.4 L355.3,487.7 L356.7,488 L358.1,488.2 L359.5,488.5 L360.9,488.7 L362.3,488.9 L363.7,489.1 L365,489.3 L366.4,489.4 L367.8,489.5 L369.2,489.6 L370.6,489.7 L372,489.8 L373.4,489.8 L374.8,489.8 L376.2,489.8 L377.6,489.8 L379,489.8 L380.4,489.7 L381.8,489.6 L383.2,489.5 L384.6,489.4 L386,489.3 L387.3,489.1 L388.7,488.9 L390.1,488.7 L391.5,488.5 L392.9,488.2 L394.3,488 L395.7,487.7 L397.1,487.4 L398.5,487 L399.9,486.7 L401.3,486.3 L402.7,485.9 L404.1,485.5 L405.5,485 L406.9,484.5 L408.2,484 L409.6,483.5 L411,483 L412.4,482.4 L413.8,481.9 L415.2,481.3 L416.6,480.7 L418,480 L419.4,479.4 L420.8,478.7 L422.2,478 L423.6,477.3 L425,476.6 L426.4,475.9 L427.8,475.2 L429.1,474.5 L430.5,473.7 L431.9,473 L433.3,472.3 L434.7,471.6 L436.1,470.9 L437.5,470.2 L438.9,469.5 L440.3,468.8 L441.7,468.2 L443.1,467.5 L444.5,466.9 L445.9,466.3 L447.3,465.8 L448.7,465.3 L450.1,464.8 L451.4,464.4 L452.8,463.9 L454.2,463.6 L455.6,463.2 L457,462.9 L458.4,462.7 L459.8,462.5 L461.2,462.3 L462.6,462.2 L464,462.1 L465.4,462 L466.8,462 L468.2,462 L469.6,462.1 L471,462.2 L472.3,462.3 L473.7,462.4 L475.1,462.6 L476.5,462.8 L477.9,463 L479.3,463.3 L480.7,463.5 L482.1,463.8 L483.5,464 L484.9,464.3 L486.3,464.6 L487.7,464.9 L489.1,465.2 L490.5,465.4 L491.9,465.7 L493.2,466 L494.6,466.3 L496,466.5 L497.4,466.8 L498.8,467 L500.2,467.2 L501.6,467.4 L503,467.6 L504.4,467.7 L505.8,467.9 L507.2,468 L508.6,468.1 L510,468.1 L511.4,468.2 L512.8,468.1 L514.2,468.1 L515.5,468 L516.9,467.9 L518.3,467.7 L519.7,467.5 L521.1,467.2 L522.5,466.9 L523.9,466.5 L525.3,466 L526.7,465.5 L528.1,464.9 L529.5,464.2 L530.9,463.5 L532.3,462.7 L533.7,461.8 L535.1,460.8 L536.4,459.8 L537.8,458.6 L539.2,457.4 L540.6,456.1 L542,454.7 L543.4,453.2 L544.8,451.6 L546.2,449.9 L547.6,448.2 L549,446.3 L550.4,444.4 L551.8,442.4 L553.2,440.3 L554.6,438.2 L556,435.9 L557.3,433.6 L558.7,431.2 L560.1,428.8 L561.5,426.3 L562.9,423.8 L564.3,421.2 L565.7,418.5 L567.1,415.8 L568.5,413.1 L569.9,410.3 L571.3,407.5 L572.7,404.7 L574.1,401.8 L575.5,398.9 L576.9,396 L578.3,393.1 L579.6,390.1 L581,387.1 L582.4,384.1 L583.8,381.1 L585.2,378 L586.6,375 L588,371.9 L589.4,368.8 L590.8,365.7 L592.2,362.6 L593.6,359.5 L595,356.4 L596.4,353.3 L597.8,350.1 L599.2,347 L600.5,343.8 L601.9,340.6 L603.3,337.5 L604.7,334.3 L606.1,331.2 L607.5,328.1 L608.9,324.9 L610.3,321.8 L611.7,318.8 L613.1,315.7 L614.5,312.7 L615.9,309.7 L617.3,306.8 L618.7,303.9 L620.1,301 L621.4,298.3 L622.8,295.6 L624.2,292.9 L625.6,290.3 L627,287.9 L628.4,285.5 L629.8,283.2 L631.2,281 L632.6,278.9 L634,276.9 L635.4,275 L636.8,273.3 L638.2,271.6 L639.6,270.1 L641,268.8 L642.4,267.5 L643.7,266.5 L645.1,265.5 L646.5,264.7 L647.9,264 L649.3,263.5 L650.7,263.1 L652.1,262.9 L653.5,262.8" stroke="#f00" stroke-width="3" fill="none" stroke-linejoin="round"/>
</g>
<clipPath id="cb"><rect x="86.5" y="564" width="576.5" height="482"/></clipPath>
<g clip-path="url(#cb)">
<path d="M97.5,822.4H653.5" stroke="#000" stroke-width="2" stroke-dasharray="9,8" fill="none"/>
<path d="M97.5,587 L98.9,586.9 L100.3,586.9 L101.7,586.7 L103.1,586.5 L104.5,586.3 L105.9,586 L107.3,585.7 L108.6,585.3 L110,584.9 L111.4,584.5 L112.8,584 L114.2,583.6 L115.6,583.1 L117,582.6 L118.4,582.1 L119.8,581.6 L121.2,581.2 L122.6,580.7 L124,580.2 L125.4,579.8 L126.8,579.3 L128.2,578.9 L129.6,578.5 L130.9,578.1 L132.3,577.7 L133.7,577.3 L135.1,576.9 L136.5,576.6 L137.9,576.2 L139.3,575.9 L140.7,575.6 L142.1,575.3 L143.5,575 L144.9,574.7 L146.3,574.5 L147.7,574.2 L149.1,574 L150.5,573.8 L151.8,573.6 L153.2,573.4 L154.6,573.3 L156,573.2 L157.4,573.2 L158.8,573.2 L160.2,573.3 L161.6,573.4 L163,573.5 L164.4,573.7 L165.8,574 L167.2,574.3 L168.6,574.7 L170,575.2 L171.4,575.7 L172.7,576.3 L174.1,576.9 L175.5,577.6 L176.9,578.4 L178.3,579.2 L179.7,580 L181.1,580.9 L182.5,581.8 L183.9,582.8 L185.3,583.8 L186.7,584.8 L188.1,585.9 L189.5,587 L190.9,588.1 L192.3,589.3 L193.7,590.4 L195,591.6 L196.4,592.8 L197.8,594.1 L199.2,595.4 L200.6,596.7 L202,598 L203.4,599.4 L204.8,600.9 L206.2,602.3 L207.6,603.9 L209,605.5 L210.4,607.1 L211.8,608.8 L213.2,610.5 L214.6,612.4 L215.9,614.2 L217.3,616.2 L218.7,618.2 L220.1,620.2 L221.5,622.4 L222.9,624.5 L224.3,626.7 L225.7,629 L227.1,631.3 L228.5,633.7 L229.9,636 L231.3,638.5 L232.7,640.9 L234.1,643.3 L235.5,645.8 L236.8,648.3 L238.2,650.8 L239.6,653.3 L241,655.8 L242.4,658.3 L243.8,660.8 L245.2,663.4 L246.6,665.9 L248,668.4 L249.4,670.9 L250.8,673.5 L252.2,676 L253.6,678.6 L255,681.1 L256.4,683.7 L257.8,686.3 L259.1,688.9 L260.5,691.5 L261.9,694.2 L263.3,696.9 L264.7,699.6 L266.1,702.3 L267.5,705 L268.9,707.8 L270.3,710.6 L271.7,713.4 L273.1,716.3 L274.5,719.1 L275.9,722 L277.3,724.8 L278.7,727.7 L280,730.6 L281.4,733.5 L282.8,736.4 L284.2,739.3 L285.6,742.1 L287,745 L288.4,747.9 L289.8,750.7 L291.2,753.5 L292.6,756.3 L294,759 L295.4,761.8 L296.8,764.5 L298.2,767.1 L299.6,769.7 L300.9,772.3 L302.3,774.9 L303.7,777.4 L305.1,779.9 L306.5,782.3 L307.9,784.6 L309.3,787 L310.7,789.2 L312.1,791.4 L313.5,793.6 L314.9,795.7 L316.3,797.7 L317.7,799.7 L319.1,801.7 L320.5,803.5 L321.9,805.4 L323.2,807.1 L324.6,808.8 L326,810.5 L327.4,812.1 L328.8,813.6 L330.2,815.1 L331.6,816.6 L333,818 L334.4,819.4 L335.8,820.7 L337.2,822 L338.6,823.3 L340,824.6 L341.4,825.8 L342.8,827 L344.1,828.2 L345.5,829.4 L346.9,830.5 L348.3,831.6 L349.7,832.7 L351.1,833.8 L352.5,834.9 L353.9,835.9 L355.3,836.9 L356.7,837.9 L358.1,838.8 L359.5,839.7 L360.9,840.6 L362.3,841.3 L363.7,842.1 L365,842.7 L366.4,843.3 L367.8,843.8 L369.2,844.3 L370.6,844.6 L372,844.9 L373.4,845.1 L374.8,845.2 L376.2,845.2 L377.6,845.1 L379,844.9 L380.4,844.6 L381.8,844.3 L383.2,843.8 L384.6,843.3 L386,842.7 L387.3,842.1 L388.7,841.3 L390.1,840.6 L391.5,839.7 L392.9,838.8 L394.3,837.9 L395.7,836.9 L397.1,835.9 L398.5,834.9 L399.9,833.8 L401.3,832.7 L402.7,831.6 L404.1,830.5 L405.5,829.4 L406.9,828.2 L408.2,827 L409.6,825.8 L411,824.6 L412.4,823.3 L413.8,822 L415.2,820.7 L416.6,819.4 L418,818 L419.4,816.6 L420.8,815.1 L422.2,813.6 L423.6,812.1 L425,810.5 L426.4,808.8 L427.8,807.1 L429.1,805.4 L430.5,803.5 L431.9,801.7 L433.3,799.7 L434.7,797.7 L436.1,795.7 L437.5,793.6 L438.9,791.4 L440.3,789.2 L441.7,787 L443.1,784.6 L444.5,782.3 L445.9,779.9 L447.3,777.4 L448.7,774.9 L450.1,772.3 L451.4,769.7 L452.8,767.1 L454.2,764.5 L455.6,761.8 L457,759 L458.4,756.3 L459.8,753.5 L461.2,750.7 L462.6,747.9 L464,745 L465.4,742.1 L466.8,739.3 L468.2,736.4 L469.6,733.5 L471,730.6 L472.3,727.7 L473.7,724.8 L475.1,722 L476.5,719.1 L477.9,716.3 L479.3,713.4 L480.7,710.6 L482.1,707.8 L483.5,705 L484.9,702.3 L486.3,699.6 L487.7,696.9 L489.1,694.2 L490.5,691.5 L491.9,688.9 L493.2,686.3 L494.6,683.7 L496,681.1 L497.4,678.6 L498.8,676 L500.2,673.5 L501.6,670.9 L503,668.4 L504.4,665.9 L505.8,663.4 L507.2,660.8 L508.6,658.3 L510,655.8 L511.4,653.3 L512.8,650.8 L514.2,648.3 L515.5,645.8 L516.9,643.3 L518.3,640.9 L519.7,638.5 L521.1,636 L522.5,633.7 L523.9,631.3 L525.3,629 L526.7,626.7 L528.1,624.5 L529.5,622.4 L530.9,620.2 L532.3,618.2 L533.7,616.2 L535.1,614.2 L536.4,612.4 L537.8,610.5 L539.2,608.8 L540.6,607.1 L542,605.5 L543.4,603.9 L544.8,602.3 L546.2,600.9 L547.6,599.4 L549,598 L550.4,596.7 L551.8,595.4 L553.2,594.1 L554.6,592.8 L556,591.6 L557.3,590.4 L558.7,589.3 L560.1,588.1 L561.5,587 L562.9,585.9 L564.3,584.8 L565.7,583.8 L567.1,582.8 L568.5,581.8 L569.9,580.9 L571.3,580 L572.7,579.2 L574.1,578.4 L575.5,577.6 L576.9,576.9 L578.3,576.3 L579.6,575.7 L581,575.2 L582.4,574.7 L583.8,574.3 L585.2,574 L586.6,573.7 L588,573.5 L589.4,573.4 L590.8,573.3 L592.2,573.2 L593.6,573.2 L595,573.2 L596.4,573.3 L597.8,573.4 L599.2,573.6 L600.5,573.8 L601.9,574 L603.3,574.2 L604.7,574.5 L606.1,574.7 L607.5,575 L608.9,575.3 L610.3,575.6 L611.7,575.9 L613.1,576.2 L614.5,576.6 L615.9,576.9 L617.3,577.3 L618.7,577.7 L620.1,578.1 L621.4,578.5 L622.8,578.9 L624.2,579.3 L625.6,579.8 L627,580.2 L628.4,580.7 L629.8,581.2 L631.2,581.6 L632.6,582.1 L634,582.6 L635.4,583.1 L636.8,583.6 L638.2,584 L639.6,584.5 L641,584.9 L642.4,585.3 L643.7,585.7 L645.1,586 L646.5,586.3 L647.9,586.5 L649.3,586.7 L650.7,586.9 L652.1,586.9 L653.5,587" stroke="#000" stroke-width="3" fill="none" stroke-linejoin="round"/>
<path d="M97.5,780.3 L98.9,780.4 L100.3,780.5 L101.7,780.9 L103.1,781.3 L104.5,781.9 L105.9,782.6 L107.3,783.5 L108.6,784.4 L110,785.5 L111.4,786.7 L112.8,788 L114.2,789.4 L115.6,790.9 L117,792.6 L118.4,794.3 L119.8,796.1 L121.2,798.1 L122.6,800.1 L124,802.2 L125.4,804.3 L126.8,806.6 L128.2,808.9 L129.6,811.2 L130.9,813.7 L132.3,816.1 L133.7,818.7 L135.1,821.2 L136.5,823.8 L137.9,826.5 L139.3,829.1 L140.7,831.8 L142.1,834.5 L143.5,837.2 L144.9,840 L146.3,842.7 L147.7,845.5 L149.1,848.2 L150.5,851 L151.8,853.7 L153.2,856.5 L154.6,859.2 L156,862 L157.4,864.7 L158.8,867.4 L160.2,870.1 L161.6,872.9 L163,875.5 L164.4,878.2 L165.8,880.9 L167.2,883.5 L168.6,886.2 L170,888.8 L171.4,891.4 L172.7,894 L174.1,896.6 L175.5,899.1 L176.9,901.6 L178.3,904.1 L179.7,906.6 L181.1,909.1 L182.5,911.5 L183.9,913.9 L185.3,916.2 L186.7,918.5 L188.1,920.8 L189.5,923 L190.9,925.2 L192.3,927.3 L193.7,929.4 L195,931.4 L196.4,933.4 L197.8,935.3 L199.2,937.1 L200.6,938.8 L202,940.5 L203.4,942.1 L204.8,943.7 L206.2,945.1 L207.6,946.5 L209,947.8 L210.4,949 L211.8,950.2 L213.2,951.3 L214.6,952.2 L215.9,953.2 L217.3,954 L218.7,954.8 L220.1,955.5 L221.5,956.2 L222.9,956.7 L224.3,957.2 L225.7,957.7 L227.1,958.1 L228.5,958.4 L229.9,958.7 L231.3,959 L232.7,959.2 L234.1,959.3 L235.5,959.4 L236.8,959.5 L238.2,959.6 L239.6,959.6 L241,959.5 L242.4,959.5 L243.8,959.4 L245.2,959.3 L246.6,959.2 L248,959.1 L249.4,958.9 L250.8,958.7 L252.2,958.5 L253.6,958.3 L255,958.1 L256.4,957.9 L257.8,957.7 L259.1,957.4 L260.5,957.2 L261.9,956.9 L263.3,956.7 L264.7,956.4 L266.1,956.2 L267.5,956 L268.9,955.7 L270.3,955.5 L271.7,955.3 L273.1,955.1 L274.5,954.9 L275.9,954.7 L277.3,954.6 L278.7,954.5 L280,954.4 L281.4,954.3 L282.8,954.2 L284.2,954.2 L285.6,954.2 L287,954.3 L288.4,954.3 L289.8,954.5 L291.2,954.6 L292.6,954.8 L294,955 L295.4,955.3 L296.8,955.6 L298.2,955.9 L299.6,956.2 L300.9,956.6 L302.3,957.1 L303.7,957.5 L305.1,958 L306.5,958.5 L307.9,959 L309.3,959.6 L310.7,960.1 L312.1,960.7 L313.5,961.3 L314.9,961.9 L316.3,962.5 L317.7,963.2 L319.1,963.8 L320.5,964.4 L321.9,965.1 L323.2,965.7 L324.6,966.3 L326,967 L327.4,967.6 L328.8,968.2 L330.2,968.8 L331.6,969.4 L333,969.9 L334.4,970.5 L335.8,971 L337.2,971.5 L338.6,972 L340,972.5 L341.4,973 L342.8,973.4 L344.1,973.9 L345.5,974.3 L346.9,974.7 L348.3,975 L349.7,975.4 L351.1,975.7 L352.5,976 L353.9,976.3 L355.3,976.6 L356.7,976.8 L358.1,977.1 L359.5,977.3 L360.9,977.5 L362.3,977.7 L363.7,977.8 L365,978 L366.4,978.1 L367.8,978.2 L369.2,978.3 L370.6,978.4 L372,978.4 L373.4,978.5 L374.8,978.5 L376.2,978.5 L377.6,978.5 L379,978.4 L380.4,978.4 L381.8,978.3 L383.2,978.2 L384.6,978.1 L386,978 L387.3,977.8 L388.7,977.7 L390.1,977.5 L391.5,977.3 L392.9,977.1 L394.3,976.8 L395.7,976.6 L397.1,976.3 L398.5,976 L399.9,975.7 L401.3,975.4 L402.7,975 L404.1,974.7 L405.5,974.3 L406.9,973.9 L408.2,973.4 L409.6,973 L411,972.5 L412.4,972 L413.8,971.5 L415.2,971 L416.6,970.5 L418,969.9 L419.4,969.4 L420.8,968.8 L422.2,968.2 L423.6,967.6 L425,967 L426.4,966.3 L427.8,965.7 L429.1,965.1 L430.5,964.4 L431.9,963.8 L433.3,963.2 L434.7,962.5 L436.1,961.9 L437.5,961.3 L438.9,960.7 L440.3,960.1 L441.7,959.6 L443.1,959 L444.5,958.5 L445.9,958 L447.3,957.5 L448.7,957.1 L450.1,956.6 L451.4,956.2 L452.8,955.9 L454.2,955.6 L455.6,955.3 L457,955 L458.4,954.8 L459.8,954.6 L461.2,954.5 L462.6,954.3 L464,954.3 L465.4,954.2 L466.8,954.2 L468.2,954.2 L469.6,954.3 L471,954.4 L472.3,954.5 L473.7,954.6 L475.1,954.7 L476.5,954.9 L477.9,955.1 L479.3,955.3 L480.7,955.5 L482.1,955.7 L483.5,956 L484.9,956.2 L486.3,956.4 L487.7,956.7 L489.1,956.9 L490.5,957.2 L491.9,957.4 L493.2,957.7 L494.6,957.9 L496,958.1 L497.4,958.3 L498.8,958.5 L500.2,958.7 L501.6,958.9 L503,959.1 L504.4,959.2 L505.8,959.3 L507.2,959.4 L508.6,959.5 L510,959.5 L511.4,959.6 L512.8,959.6 L514.2,959.5 L515.5,959.4 L516.9,959.3 L518.3,959.2 L519.7,959 L521.1,958.7 L522.5,958.4 L523.9,958.1 L525.3,957.7 L526.7,957.2 L528.1,956.7 L529.5,956.2 L530.9,955.5 L532.3,954.8 L533.7,954 L535.1,953.2 L536.4,952.2 L537.8,951.3 L539.2,950.2 L540.6,949 L542,947.8 L543.4,946.5 L544.8,945.1 L546.2,943.7 L547.6,942.1 L549,940.5 L550.4,938.8 L551.8,937.1 L553.2,935.3 L554.6,933.4 L556,931.4 L557.3,929.4 L558.7,927.3 L560.1,925.2 L561.5,923 L562.9,920.8 L564.3,918.5 L565.7,916.2 L567.1,913.9 L568.5,911.5 L569.9,909.1 L571.3,906.6 L572.7,904.1 L574.1,901.6 L575.5,899.1 L576.9,896.6 L578.3,894 L579.6,891.4 L581,888.8 L582.4,886.2 L583.8,883.5 L585.2,880.9 L586.6,878.2 L588,875.5 L589.4,872.9 L590.8,870.1 L592.2,867.4 L593.6,864.7 L595,862 L596.4,859.2 L597.8,856.5 L599.2,853.7 L600.5,851 L601.9,848.2 L603.3,845.5 L604.7,842.7 L606.1,840 L607.5,837.2 L608.9,834.5 L610.3,831.8 L611.7,829.1 L613.1,826.5 L614.5,823.8 L615.9,821.2 L617.3,818.7 L618.7,816.1 L620.1,813.7 L621.4,811.2 L622.8,808.9 L624.2,806.6 L625.6,804.3 L627,802.2 L628.4,800.1 L629.8,798.1 L631.2,796.1 L632.6,794.3 L634,792.6 L635.4,790.9 L636.8,789.4 L638.2,788 L639.6,786.7 L641,785.5 L642.4,784.4 L643.7,783.5 L645.1,782.6 L646.5,781.9 L647.9,781.3 L649.3,780.9 L650.7,780.5 L652.1,780.4 L653.5,780.3" stroke="#000" stroke-width="3" fill="none" stroke-linejoin="round"/>
<path d="M97.5,762.6 L98.9,762.6 L100.3,762.6 L101.7,762.7 L103.1,762.7 L104.5,762.7 L105.9,762.7 L107.3,762.7 L108.6,762.7 L110,762.6 L111.4,762.6 L112.8,762.6 L114.2,762.5 L115.6,762.4 L117,762.3 L118.4,762.1 L119.8,761.9 L121.2,761.7 L122.6,761.4 L124,761.1 L125.4,760.8 L126.8,760.4 L128.2,759.9 L129.6,759.4 L130.9,758.8 L132.3,758.1 L133.7,757.4 L135.1,756.6 L136.5,755.8 L137.9,754.9 L139.3,753.9 L140.7,752.9 L142.1,751.8 L143.5,750.6 L144.9,749.3 L146.3,748.1 L147.7,746.7 L149.1,745.3 L150.5,743.8 L151.8,742.3 L153.2,740.8 L154.6,739.1 L156,737.5 L157.4,735.8 L158.8,734.1 L160.2,732.4 L161.6,730.6 L163,728.8 L164.4,727 L165.8,725.2 L167.2,723.4 L168.6,721.5 L170,719.7 L171.4,717.9 L172.7,716 L174.1,714.2 L175.5,712.3 L176.9,710.5 L178.3,708.7 L179.7,706.8 L181.1,705 L182.5,703.2 L183.9,701.4 L185.3,699.6 L186.7,697.9 L188.1,696.1 L189.5,694.3 L190.9,692.6 L192.3,690.9 L193.7,689.1 L195,687.4 L196.4,685.7 L197.8,684 L199.2,682.3 L200.6,680.6 L202,678.9 L203.4,677.2 L204.8,675.6 L206.2,673.9 L207.6,672.3 L209,670.6 L210.4,669 L211.8,667.4 L213.2,665.8 L214.6,664.2 L215.9,662.6 L217.3,661.1 L218.7,659.6 L220.1,658 L221.5,656.6 L222.9,655.1 L224.3,653.7 L225.7,652.2 L227.1,650.9 L228.5,649.5 L229.9,648.2 L231.3,646.9 L232.7,645.6 L234.1,644.4 L235.5,643.2 L236.8,642.1 L238.2,640.9 L239.6,639.8 L241,638.8 L242.4,637.7 L243.8,636.7 L245.2,635.7 L246.6,634.8 L248,633.9 L249.4,633 L250.8,632.1 L252.2,631.2 L253.6,630.4 L255,629.6 L256.4,628.8 L257.8,628 L259.1,627.2 L260.5,626.4 L261.9,625.6 L263.3,624.9 L264.7,624.1 L266.1,623.4 L267.5,622.6 L268.9,621.8 L270.3,621.1 L271.7,620.3 L273.1,619.5 L274.5,618.7 L275.9,618 L277.3,617.2 L278.7,616.4 L280,615.6 L281.4,614.8 L282.8,614 L284.2,613.2 L285.6,612.4 L287,611.6 L288.4,610.8 L289.8,610 L291.2,609.2 L292.6,608.4 L294,607.7 L295.4,606.9 L296.8,606.1 L298.2,605.3 L299.6,604.6 L300.9,603.8 L302.3,603.1 L303.7,602.4 L305.1,601.6 L306.5,600.9 L307.9,600.2 L309.3,599.6 L310.7,598.9 L312.1,598.2 L313.5,597.6 L314.9,596.9 L316.3,596.3 L317.7,595.7 L319.1,595.1 L320.5,594.5 L321.9,593.9 L323.2,593.3 L324.6,592.7 L326,592.2 L327.4,591.6 L328.8,591.1 L330.2,590.5 L331.6,590 L333,589.5 L334.4,589 L335.8,588.5 L337.2,587.9 L338.6,587.5 L340,587 L341.4,586.5 L342.8,586 L344.1,585.6 L345.5,585.1 L346.9,584.7 L348.3,584.3 L349.7,583.9 L351.1,583.5 L352.5,583.1 L353.9,582.7 L355.3,582.4 L356.7,582 L358.1,581.7 L359.5,581.4 L360.9,581.2 L362.3,580.9 L363.7,580.7 L365,580.5 L366.4,580.3 L367.8,580.2 L369.2,580 L370.6,579.9 L372,579.9 L373.4,579.8 L374.8,579.8 L376.2,579.8 L377.6,579.8 L379,579.9 L380.4,579.9 L381.8,580 L383.2,580.2 L384.6,580.3 L386,580.5 L387.3,580.7 L388.7,580.9 L390.1,581.2 L391.5,581.4 L392.9,581.7 L394.3,582 L395.7,582.4 L397.1,582.7 L398.5,583.1 L399.9,583.5 L401.3,583.9 L402.7,584.3 L404.1,584.7 L405.5,585.1 L406.9,585.6 L408.2,586 L409.6,586.5 L411,587 L412.4,587.5 L413.8,587.9 L415.2,588.5 L416.6,589 L418,589.5 L419.4,590 L420.8,590.5 L422.2,591.1 L423.6,591.6 L425,592.2 L426.4,592.7 L427.8,593.3 L429.1,593.9 L430.5,594.5 L431.9,595.1 L433.3,595.7 L434.7,596.3 L436.1,596.9 L437.5,597.6 L438.9,598.2 L440.3,598.9 L441.7,599.6 L443.1,600.2 L444.5,600.9 L445.9,601.6 L447.3,602.4 L448.7,603.1 L450.1,603.8 L451.4,604.6 L452.8,605.3 L454.2,606.1 L455.6,606.9 L457,607.7 L458.4,608.4 L459.8,609.2 L461.2,610 L462.6,610.8 L464,611.6 L465.4,612.4 L466.8,613.2 L468.2,614 L469.6,614.8 L471,615.6 L472.3,616.4 L473.7,617.2 L475.1,618 L476.5,618.7 L477.9,619.5 L479.3,620.3 L480.7,621.1 L482.1,621.8 L483.5,622.6 L484.9,623.4 L486.3,624.1 L487.7,624.9 L489.1,625.6 L490.5,626.4 L491.9,627.2 L493.2,628 L494.6,628.8 L496,629.6 L497.4,630.4 L498.8,631.2 L500.2,632.1 L501.6,633 L503,633.9 L504.4,634.8 L505.8,635.7 L507.2,636.7 L508.6,637.7 L510,638.8 L511.4,639.8 L512.8,640.9 L514.2,642.1 L515.5,643.2 L516.9,644.4 L518.3,645.6 L519.7,646.9 L521.1,648.2 L522.5,649.5 L523.9,650.9 L525.3,652.2 L526.7,653.7 L528.1,655.1 L529.5,656.6 L530.9,658 L532.3,659.6 L533.7,661.1 L535.1,662.6 L536.4,664.2 L537.8,665.8 L539.2,667.4 L540.6,669 L542,670.6 L543.4,672.3 L544.8,673.9 L546.2,675.6 L547.6,677.2 L549,678.9 L550.4,680.6 L551.8,682.3 L553.2,684 L554.6,685.7 L556,687.4 L557.3,689.1 L558.7,690.9 L560.1,692.6 L561.5,694.3 L562.9,696.1 L564.3,697.9 L565.7,699.6 L567.1,701.4 L568.5,703.2 L569.9,705 L571.3,706.8 L572.7,708.7 L574.1,710.5 L575.5,712.3 L576.9,714.2 L578.3,716 L579.6,717.9 L581,719.7 L582.4,721.5 L583.8,723.4 L585.2,725.2 L586.6,727 L588,728.8 L589.4,730.6 L590.8,732.4 L592.2,734.1 L593.6,735.8 L595,737.5 L596.4,739.1 L597.8,740.8 L599.2,742.3 L600.5,743.8 L601.9,745.3 L603.3,746.7 L604.7,748.1 L606.1,749.3 L607.5,750.6 L608.9,751.8 L610.3,752.9 L611.7,753.9 L613.1,754.9 L614.5,755.8 L615.9,756.6 L617.3,757.4 L618.7,758.1 L620.1,758.8 L621.4,759.4 L622.8,759.9 L624.2,760.4 L625.6,760.8 L627,761.1 L628.4,761.4 L629.8,761.7 L631.2,761.9 L632.6,762.1 L634,762.3 L635.4,762.4 L636.8,762.5 L638.2,762.6 L639.6,762.6 L641,762.6 L642.4,762.7 L643.7,762.7 L645.1,762.7 L646.5,762.7 L647.9,762.7 L649.3,762.7 L650.7,762.6 L652.1,762.6 L653.5,762.6" stroke="#f00" stroke-width="3" fill="none" stroke-linejoin="round"/>
<path d="M97.5,856 L98.9,856 L100.3,855.9 L101.7,855.8 L103.1,855.6 L104.5,855.4 L105.9,855.1 L107.3,854.8 L108.6,854.5 L110,854.2 L111.4,853.8 L112.8,853.5 L114.2,853.1 L115.6,852.8 L117,852.5 L118.4,852.2 L119.8,851.9 L121.2,851.7 L122.6,851.5 L124,851.3 L125.4,851.2 L126.8,851.2 L128.2,851.2 L129.6,851.3 L130.9,851.4 L132.3,851.6 L133.7,851.9 L135.1,852.2 L136.5,852.5 L137.9,853 L139.3,853.5 L140.7,854 L142.1,854.7 L143.5,855.4 L144.9,856.1 L146.3,857 L147.7,857.9 L149.1,858.9 L150.5,860 L151.8,861.2 L153.2,862.4 L154.6,863.8 L156,865.2 L157.4,866.8 L158.8,868.4 L160.2,870.1 L161.6,872 L163,873.9 L164.4,875.9 L165.8,878 L167.2,880.2 L168.6,882.5 L170,884.9 L171.4,887.3 L172.7,889.7 L174.1,892.3 L175.5,894.8 L176.9,897.3 L178.3,899.9 L179.7,902.5 L181.1,905 L182.5,907.6 L183.9,910.1 L185.3,912.6 L186.7,915 L188.1,917.4 L189.5,919.7 L190.9,921.9 L192.3,924.1 L193.7,926.3 L195,928.4 L196.4,930.4 L197.8,932.4 L199.2,934.3 L200.6,936.2 L202,938.1 L203.4,939.9 L204.8,941.8 L206.2,943.6 L207.6,945.4 L209,947.2 L210.4,949 L211.8,950.9 L213.2,952.7 L214.6,954.6 L215.9,956.5 L217.3,958.3 L218.7,960.3 L220.1,962.2 L221.5,964.1 L222.9,966 L224.3,968 L225.7,969.9 L227.1,971.7 L228.5,973.6 L229.9,975.4 L231.3,977.1 L232.7,978.8 L234.1,980.4 L235.5,982 L236.8,983.5 L238.2,984.9 L239.6,986.2 L241,987.4 L242.4,988.5 L243.8,989.5 L245.2,990.4 L246.6,991.2 L248,992 L249.4,992.7 L250.8,993.3 L252.2,993.8 L253.6,994.2 L255,994.6 L256.4,995 L257.8,995.3 L259.1,995.6 L260.5,995.8 L261.9,996.1 L263.3,996.3 L264.7,996.4 L266.1,996.6 L267.5,996.8 L268.9,997 L270.3,997.2 L271.7,997.3 L273.1,997.5 L274.5,997.7 L275.9,997.9 L277.3,998.1 L278.7,998.3 L280,998.5 L281.4,998.7 L282.8,998.9 L284.2,999.1 L285.6,999.3 L287,999.6 L288.4,999.8 L289.8,1000.1 L291.2,1000.4 L292.6,1000.6 L294,1001 L295.4,1001.3 L296.8,1001.6 L298.2,1002 L299.6,1002.5 L300.9,1002.9 L302.3,1003.4 L303.7,1004 L305.1,1004.6 L306.5,1005.2 L307.9,1005.9 L309.3,1006.6 L310.7,1007.3 L312.1,1008.1 L313.5,1008.9 L314.9,1009.8 L316.3,1010.7 L317.7,1011.6 L319.1,1012.5 L320.5,1013.5 L321.9,1014.4 L323.2,1015.4 L324.6,1016.3 L326,1017.3 L327.4,1018.2 L328.8,1019.1 L330.2,1020.1 L331.6,1020.9 L333,1021.8 L334.4,1022.7 L335.8,1023.5 L337.2,1024.3 L338.6,1025 L340,1025.8 L341.4,1026.5 L342.8,1027.2 L344.1,1027.9 L345.5,1028.6 L346.9,1029.2 L348.3,1029.8 L349.7,1030.4 L351.1,1031 L352.5,1031.6 L353.9,1032.1 L355.3,1032.7 L356.7,1033.2 L358.1,1033.7 L359.5,1034.2 L360.9,1034.6 L362.3,1035 L363.7,1035.4 L365,1035.8 L366.4,1036.1 L367.8,1036.4 L369.2,1036.6 L370.6,1036.8 L372,1036.9 L373.4,1037 L374.8,1037.1 L376.2,1037.1 L377.6,1037 L379,1036.9 L380.4,1036.8 L381.8,1036.6 L383.2,1036.4 L384.6,1036.1 L386,1035.8 L387.3,1035.4 L388.7,1035 L390.1,1034.6 L391.5,1034.2 L392.9,1033.7 L394.3,1033.2 L395.7,1032.7 L397.1,1032.1 L398.5,1031.6 L399.9,1031 L401.3,1030.4 L402.7,1029.8 L404.1,1029.2 L405.5,1028.6 L406.9,1027.9 L408.2,1027.2 L409.6,1026.5 L411,1025.8 L412.4,1025 L413.8,1024.3 L415.2,1023.5 L416.6,1022.7 L418,1021.8 L419.4,1020.9 L420.8,1020.1 L422.2,1019.1 L423.6,1018.2 L425,1017.3 L426.4,1016.3 L427.8,1015.4 L429.1,1014.4 L430.5,1013.5 L431.9,1012.5 L433.3,1011.6 L434.7,1010.7 L436.1,1009.8 L437.5,1008.9 L438.9,1008.1 L440.3,1007.3 L441.7,1006.6 L443.1,1005.9 L444.5,1005.2 L445.9,1004.6 L447.3,1004 L448.7,1003.4 L450.1,1002.9 L451.4,1002.5 L452.8,1002 L454.2,1001.6 L455.6,1001.3 L457,1001 L458.4,1000.6 L459.8,1000.4 L461.2,1000.1 L462.6,999.8 L464,999.6 L465.4,999.3 L466.8,999.1 L468.2,998.9 L469.6,998.7 L471,998.5 L472.3,998.3 L473.7,998.1 L475.1,997.9 L476.5,997.7 L477.9,997.5 L479.3,997.3 L480.7,997.2 L482.1,997 L483.5,996.8 L484.9,996.6 L486.3,996.4 L487.7,996.3 L489.1,996.1 L490.5,995.8 L491.9,995.6 L493.2,995.3 L494.6,995 L496,994.6 L497.4,994.2 L498.8,993.8 L500.2,993.3 L501.6,992.7 L503,992 L504.4,991.2 L505.8,990.4 L507.2,989.5 L508.6,988.5 L510,987.4 L511.4,986.2 L512.8,984.9 L514.2,983.5 L515.5,982 L516.9,980.4 L518.3,978.8 L519.7,977.1 L521.1,975.4 L522.5,973.6 L523.9,971.7 L525.3,969.9 L526.7,968 L528.1,966 L529.5,964.1 L530.9,962.2 L532.3,960.3 L533.7,958.3 L535.1,956.5 L536.4,954.6 L537.8,952.7 L539.2,950.9 L540.6,949 L542,947.2 L543.4,945.4 L544.8,943.6 L546.2,941.8 L547.6,939.9 L549,938.1 L550.4,936.2 L551.8,934.3 L553.2,932.4 L554.6,930.4 L556,928.4 L557.3,926.3 L558.7,924.1 L560.1,921.9 L561.5,919.7 L562.9,917.4 L564.3,915 L565.7,912.6 L567.1,910.1 L568.5,907.6 L569.9,905 L571.3,902.5 L572.7,899.9 L574.1,897.3 L575.5,894.8 L576.9,892.3 L578.3,889.7 L579.6,887.3 L581,884.9 L582.4,882.5 L583.8,880.2 L585.2,878 L586.6,875.9 L588,873.9 L589.4,872 L590.8,870.1 L592.2,868.4 L593.6,866.8 L595,865.2 L596.4,863.8 L597.8,862.4 L599.2,861.2 L600.5,860 L601.9,858.9 L603.3,857.9 L604.7,857 L606.1,856.1 L607.5,855.4 L608.9,854.7 L610.3,854 L611.7,853.5 L613.1,853 L614.5,852.5 L615.9,852.2 L617.3,851.9 L618.7,851.6 L620.1,851.4 L621.4,851.3 L622.8,851.2 L624.2,851.2 L625.6,851.2 L627,851.3 L628.4,851.5 L629.8,851.7 L631.2,851.9 L632.6,852.2 L634,852.5 L635.4,852.8 L636.8,853.1 L638.2,853.5 L639.6,853.8 L641,854.2 L642.4,854.5 L643.7,854.8 L645.1,855.1 L646.5,855.4 L647.9,855.6 L649.3,855.8 L650.7,855.9 L652.1,856 L653.5,856" stroke="#f00" stroke-width="3" fill="none" stroke-linejoin="round"/>
</g>
<path d="M136.4,17V1090" stroke="#3a3aff" stroke-width="2.2" stroke-dasharray="2,2.6" fill="none"/>
<rect x="290.9" y="58" width="172" height="149.6" fill="#fff" stroke="#1a1a1a" stroke-width="3.5"/>
<text x="332.6" y="96.7" font-size="43" font-style="italic" fill="#000" font-family="Liberation Serif, DejaVu Serif, serif">k</text>
<text x="353.2" y="105.4" font-size="21" font-style="italic" fill="#000" font-family="Liberation Serif, DejaVu Serif, serif">1</text>
<text x="365.5" y="96.7" font-size="44.5" fill="#000" font-family="Liberation Serif, DejaVu Serif, serif">=</text>
<text x="399.0" y="96.7" font-size="44" font-style="italic" fill="#000" font-family="Liberation Serif, DejaVu Serif, serif">π</text>
<text x="301.6" y="145.0" font-size="46" font-style="italic" fill="#f00" font-family="Liberation Serif, DejaVu Serif, serif">g</text>
<text x="333.1" y="145.0" font-size="46" fill="#f00" font-family="Liberation Serif, DejaVu Serif, serif">=</text>
<text x="358.2" y="145.0" font-size="46" fill="#f00" font-family="Liberation Serif, DejaVu Serif, serif">+</text>
<text x="384.6" y="145.0" font-size="46" font-style="italic" fill="#f00" font-family="Liberation Serif, DejaVu Serif, serif">1</text>
<path d="M415.2,134.1H449" stroke="#f00" stroke-width="4"/>
<text x="301.6" y="188.0" font-size="46" font-style="italic" fill="#000" font-family="Liberation Serif, DejaVu Serif, serif">g</text>
<text x="333.1" y="188.0" font-size="46" fill="#000" font-family="Liberation Serif, DejaVu Serif, serif">=</text>
<text x="358.7" y="188.0" font-size="46" fill="#000" font-family="Liberation Serif, DejaVu Serif, serif">-</text>
<text x="376.0" y="188.0" font-size="46" font-style="italic" fill="#000" font-family="Liberation Serif, DejaVu Serif, serif">1</text>
<path d="M414.5,177.3H447.6" stroke="#000" stroke-width="4"/>
<rect x="299.8" y="614.9" width="152" height="139" fill="#fff" stroke="#1a1a1a" stroke-width="3.5"/>
<text x="327.7" y="651.7" font-size="46" font-style="italic" fill="#000" font-family="Liberation Serif, DejaVu Serif, serif">g</text>
<text x="357.5" y="651.7" font-size="46" fill="#000" font-family="Liberation Serif, DejaVu Serif, serif">=</text>
<text x="381.9" y="651.7" font-size="46" fill="#000" font-family="Liberation Serif, DejaVu Serif, serif">+</text>
<text x="408.9" y="651.7" font-size="46" font-style="italic" fill="#000" font-family="Liberation Serif, DejaVu Serif, serif">1</text>
<text x="308.8" y="697.0" font-size="43" font-style="italic" fill="#f00" font-family="Liberation Serif, DejaVu Serif, serif">k</text>
<text x="329.7" y="705.4" font-size="21" font-style="italic" fill="#f00" font-family="Liberation Serif, DejaVu Serif, serif">1</text>
<text x="342.7" y="697.0" font-size="44.5" fill="#f00" font-family="Liberation Serif, DejaVu Serif, serif">=</text>
<text x="375.4" y="697.0" font-size="44" font-style="italic" fill="#f00" font-family="Liberation Serif, DejaVu Serif, serif">0</text>
<path d="M407.2,686.6H440.7" stroke="#f00" stroke-width="4"/>
<text x="308.1" y="738.2" font-size="43" font-style="italic" fill="#000" font-family="Liberation Serif, DejaVu Serif, serif">k</text>
<text x="329.5" y="746.6" font-size="21" font-style="italic" fill="#000" font-family="Liberation Serif, DejaVu Serif, serif">1</text>
<text x="342.7" y="738.2" font-size="44.5" fill="#000" font-family="Liberation Serif, DejaVu Serif, serif">=</text>
<text x="375.3" y="738.2" font-size="44" font-style="italic" fill="#000" font-family="Liberation Serif, DejaVu Serif, serif">π</text>
<path d="M406.5,727.8H440.7" stroke="#000" stroke-width="4"/>
<rect x="86.5" y="16" width="576.5" height="483" fill="none" stroke="#111" stroke-width="3"/>
<rect x="738" y="16" width="578.5" height="483" fill="none" stroke="#111" stroke-width="3"/>
<rect x="1382" y="16" width="580" height="483" fill="none" stroke="#111" stroke-width="3"/>
<rect x="86.5" y="564" width="576.5" height="482" fill="none" stroke="#111" stroke-width="3"/>
<rect x="738" y="564" width="578.5" height="482" fill="none" stroke="#111" stroke-width="3"/>
<rect x="1382" y="564" width="580" height="482" fill="none" stroke="#111" stroke-width="3"/>
<path d="M97.5,499v-8M97.5,16v8M167,499v-8M167,16v8M236.5,499v-8M236.5,16v8M306,499v-8M306,16v8M375.5,499v-8M375.5,16v8M445,499v-8M445,16v8M514.5,499v-8M514.5,16v8M584,499v-8M584,16v8M653.5,499v-8M653.5,16v8" stroke="#222" stroke-width="2.2" fill="none"/>
<path d="M97.5,1046v-8M97.5,564v8M167,1046v-8M167,564v8M236.5,1046v-8M236.5,564v8M306,1046v-8M306,564v8M375.5,1046v-8M375.5,564v8M445,1046v-8M445,564v8M514.5,1046v-8M514.5,564v8M584,1046v-8M584,564v8M653.5,1046v-8M653.5,564v8" stroke="#222" stroke-width="2.2" fill="none"/>
<path d="M86.5,495h8M663,495h-8M86.5,416.2h8M663,416.2h-8M86.5,337.4h8M663,337.4h-8M86.5,258.6h8M663,258.6h-8M86.5,179.8h8M663,179.8h-8M86.5,101h8M663,101h-8M86.5,22.2h8M663,22.2h-8" stroke="#222" stroke-width="2.2" fill="none"/>
<path d="M86.5,983h8M663,983h-8M86.5,914.2h8M663,914.2h-8M86.5,845.4h8M663,845.4h-8M86.5,776.6h8M663,776.6h-8M86.5,707.8h8M663,707.8h-8M86.5,639h8M663,639h-8M86.5,570.2h8M663,570.2h-8" stroke="#222" stroke-width="2.2" fill="none"/>
<text x="97.5" y="543" font-size="44.5" text-anchor="middle" font-family="Liberation Serif, DejaVu Serif, serif">0</text>
<text x="97.5" y="1091" font-size="44.5" text-anchor="middle" font-family="Liberation Serif, DejaVu Serif, serif">0</text>
<text x="234.5" y="543" font-size="50" text-anchor="middle" font-family="Liberation Serif, DejaVu Serif, serif">π</text>
<text x="234.5" y="1091" font-size="50" text-anchor="middle" font-family="Liberation Serif, DejaVu Serif, serif">π</text>
<text x="375.5" y="543" font-size="50" text-anchor="middle" font-family="Liberation Serif, DejaVu Serif, serif">2π</text>
<text x="375.5" y="1091" font-size="50" text-anchor="middle" font-family="Liberation Serif, DejaVu Serif, serif">2π</text>
<text x="514.5" y="543" font-size="50" text-anchor="middle" font-family="Liberation Serif, DejaVu Serif, serif">3π</text>
<text x="514.5" y="1091" font-size="50" text-anchor="middle" font-family="Liberation Serif, DejaVu Serif, serif">3π</text>
<text x="653.5" y="543" font-size="50" text-anchor="middle" font-family="Liberation Serif, DejaVu Serif, serif">4π</text>
<text x="653.5" y="1091" font-size="50" text-anchor="middle" font-family="Liberation Serif, DejaVu Serif, serif">4π</text>
<text x="71.5" y="510" font-size="44.5" text-anchor="end" font-family="Liberation Serif, DejaVu Serif, serif">1</text>
<text x="71.5" y="998" font-size="44.5" text-anchor="end" font-family="Liberation Serif, DejaVu Serif, serif">1</text>
<text x="71.5" y="352.4" font-size="44.5" text-anchor="end" font-family="Liberation Serif, DejaVu Serif, serif">2</text>
<text x="71.5" y="860.4" font-size="44.5" text-anchor="end" font-family="Liberation Serif, DejaVu Serif, serif">2</text>
<text x="71.5" y="194.8" font-size="44.5" text-anchor="end" font-family="Liberation Serif, DejaVu Serif, serif">3</text>
<text x="71.5" y="722.8" font-size="44.5" text-anchor="end" font-family="Liberation Serif, DejaVu Serif, serif">3</text>
<text x="71.5" y="37.2" font-size="44.5" text-anchor="end" font-family="Liberation Serif, DejaVu Serif, serif">4</text>
<text x="71.5" y="585.2" font-size="44.5" text-anchor="end" font-family="Liberation Serif, DejaVu Serif, serif">4</text>
<text transform="translate(34,278) rotate(-90)" font-size="44" font-style="italic" font-family="Liberation Serif, DejaVu Serif, serif">E<tspan font-size="30" dy="8">n</tspan></text>
<text transform="translate(34,838) rotate(-90)" font-size="44" font-style="italic" font-family="Liberation Serif, DejaVu Serif, serif">E<tspan font-size="30" dy="8">n</tspan></text>
<text x="119" y="1125" font-size="41" fill="#2020ff" font-family="Liberation Serif, DejaVu Serif, serif">k<tspan font-size="30" dy="9">0</tspan></text>
<text x="738" y="543" font-size="44.5" text-anchor="middle" font-family="Liberation Serif, DejaVu Serif, serif">0</text>
<text x="886.1" y="543" font-size="50" text-anchor="middle" font-family="Liberation Serif, DejaVu Serif, serif">π/2</text>
<text x="1027.2" y="543" font-size="50" text-anchor="middle" font-family="Liberation Serif, DejaVu Serif, serif">π</text>
<text x="1175.4" y="543" font-size="50" text-anchor="middle" font-family="Liberation Serif, DejaVu Serif, serif">3π/2</text>
<text x="1320" y="543" font-size="50" text-anchor="middle" font-family="Liberation Serif, DejaVu Serif, serif">2π</text>
<text x="1382" y="543" font-size="44.5" text-anchor="middle" font-family="Liberation Serif, DejaVu Serif, serif">0</text>
<text x="1530.5" y="543" font-size="50" text-anchor="middle" font-family="Liberation Serif, DejaVu Serif, serif">π/2</text>
<text x="1820.5" y="543" font-size="50" text-anchor="middle" font-family="Liberation Serif, DejaVu Serif, serif">3π/2</text>
<text x="1965.5" y="543" font-size="50" text-anchor="middle" font-family="Liberation Serif, DejaVu Serif, serif">2π</text>
<text x="738" y="1091" font-size="44.5" text-anchor="middle" font-family="Liberation Serif, DejaVu Serif, serif">0</text>
<text x="886.1" y="1091" font-size="50" text-anchor="middle" font-family="Liberation Serif, DejaVu Serif, serif">π/2</text>
<text x="1027.2" y="1091" font-size="50" text-anchor="middle" font-family="Liberation Serif, DejaVu Serif, serif">π</text>
<text x="1175.4" y="1091" font-size="50" text-anchor="middle" font-family="Liberation Serif, DejaVu Serif, serif">3π/2</text>
<text x="1320" y="1091" font-size="50" text-anchor="middle" font-family="Liberation Serif, DejaVu Serif, serif">2π</text>
<text x="1382" y="1091" font-size="44.5" text-anchor="middle" font-family="Liberation Serif, DejaVu Serif, serif">0</text>
<text x="1530.5" y="1091" font-size="50" text-anchor="middle" font-family="Liberation Serif, DejaVu Serif, serif">π/2</text>
<text x="1672" y="1091" font-size="50" text-anchor="middle" font-family="Liberation Serif, DejaVu Serif, serif">π</text>
<text x="1820.5" y="1091" font-size="50" text-anchor="middle" font-family="Liberation Serif, DejaVu Serif, serif">3π/2</text>
<text x="1965.5" y="1091" font-size="50" text-anchor="middle" font-family="Liberation Serif, DejaVu Serif, serif">2π</text>
<text x="1653" y="548" font-size="38" font-family="Liberation Serif, DejaVu Serif, serif">k<tspan font-size="27" dy="7">2</tspan></text>
<text x="356" y="1136" font-size="38" font-family="Liberation Serif, DejaVu Serif, serif">k<tspan font-size="27" dy="6">2</tspan></text>
<text x="1012" y="1136" font-size="38" font-family="Liberation Serif, DejaVu Serif, serif">k<tspan font-size="27" dy="6">1</tspan></text>
<text x="1657" y="1136" font-size="38" font-family="Liberation Serif, DejaVu Serif, serif">k<tspan font-size="27" dy="6">1</tspan></text>
<text x="730" y="127.7" font-size="44.5" text-anchor="end" font-family="Liberation Serif, DejaVu Serif, serif">2.5</text>
<text x="730" y="675.3" font-size="44.5" text-anchor="end" font-family="Liberation Serif, DejaVu Serif, serif">2.5</text>
<text x="730" y="257.2" font-size="44.5" text-anchor="end" font-family="Liberation Serif, DejaVu Serif, serif">2.3</text>
<text x="730" y="804.8" font-size="44.5" text-anchor="end" font-family="Liberation Serif, DejaVu Serif, serif">2.3</text>
<text x="730" y="386.7" font-size="44.5" text-anchor="end" font-family="Liberation Serif, DejaVu Serif, serif">2.1</text>
<text x="730" y="934.3" font-size="44.5" text-anchor="end" font-family="Liberation Serif, DejaVu Serif, serif">2.1</text>
<text x="730" y="516.2" font-size="44.5" text-anchor="end" font-family="Liberation Serif, DejaVu Serif, serif">1.9</text>
<text x="730" y="1063.8" font-size="44.5" text-anchor="end" font-family="Liberation Serif, DejaVu Serif, serif">1.9</text>
<text x="1375" y="120.5" font-size="44.5" text-anchor="end" font-family="Liberation Serif, DejaVu Serif, serif">2.7</text>
<text x="1375" y="241.3" font-size="44.5" text-anchor="end" font-family="Liberation Serif, DejaVu Serif, serif">2.3</text>
<text x="1375" y="362.1" font-size="44.5" text-anchor="end" font-family="Liberation Serif, DejaVu Serif, serif">1.9</text>
<text x="1375" y="482.9" font-size="44.5" text-anchor="end" font-family="Liberation Serif, DejaVu Serif, serif">1.5</text>
<text x="1375" y="675.3" font-size="44.5" text-anchor="end" font-family="Liberation Serif, DejaVu Serif, serif">2.5</text>
<text x="1375" y="804.8" font-size="44.5" text-anchor="end" font-family="Liberation Serif, DejaVu Serif, serif">2.3</text>
<text x="1375" y="934.3" font-size="44.5" text-anchor="end" font-family="Liberation Serif, DejaVu Serif, serif">2.1</text>
<path d="M810.3,499.3v-8M810.3,16v8M882.6,499.3v-8M882.6,16v8M954.9,499.3v-8M954.9,16v8M1027.2,499.3v-8M1027.2,16v8M1099.6,499.3v-8M1099.6,16v8M1171.9,499.3v-8M1171.9,16v8M1244.2,499.3v-8M1244.2,16v8M738,47.9h8M1316.5,47.9h-8M738,112.7h8M1316.5,112.7h-8M738,177.5h8M1316.5,177.5h-8M738,242.2h8M1316.5,242.2h-8M738,306.9h8M1316.5,306.9h-8M738,371.7h8M1316.5,371.7h-8M738,436.4h8M1316.5,436.4h-8" stroke="#222" stroke-width="2.2" fill="none"/>
<path d="M810.3,1046v-8M810.3,564v8M882.6,1046v-8M882.6,564v8M954.9,1046v-8M954.9,564v8M1027.2,1046v-8M1027.2,564v8M1099.6,1046v-8M1099.6,564v8M1171.9,1046v-8M1171.9,564v8M1244.2,1046v-8M1244.2,564v8M738,595.5h8M1316.5,595.5h-8M738,660.3h8M1316.5,660.3h-8M738,725h8M1316.5,725h-8M738,789.8h8M1316.5,789.8h-8M738,854.5h8M1316.5,854.5h-8M738,919.3h8M1316.5,919.3h-8M738,984h8M1316.5,984h-8" stroke="#222" stroke-width="2.2" fill="none"/>
<path d="M1454.5,499v-8M1454.5,15.5v8M1527,499v-8M1527,15.5v8M1599.5,499v-8M1599.5,15.5v8M1672,499v-8M1672,15.5v8M1744.5,499v-8M1744.5,15.5v8M1817,499v-8M1817,15.5v8M1889.5,499v-8M1889.5,15.5v8M1382,45.1h8M1962,45.1h-8M1382,105.5h8M1962,105.5h-8M1382,165.9h8M1962,165.9h-8M1382,226.3h8M1962,226.3h-8M1382,286.7h8M1962,286.7h-8M1382,347.1h8M1962,347.1h-8M1382,407.5h8M1962,407.5h-8M1382,467.9h8M1962,467.9h-8" stroke="#222" stroke-width="2.2" fill="none"/>
<path d="M1454.5,1046v-8M1454.5,564v8M1527,1046v-8M1527,564v8M1599.5,1046v-8M1599.5,564v8M1672,1046v-8M1672,564v8M1744.5,1046v-8M1744.5,564v8M1817,1046v-8M1817,564v8M1889.5,1046v-8M1889.5,564v8M1382,595.5h8M1962,595.5h-8M1382,660.3h8M1962,660.3h-8M1382,725h8M1962,725h-8M1382,789.8h8M1962,789.8h-8M1382,854.5h8M1962,854.5h-8M1382,919.3h8M1962,919.3h-8M1382,984h8M1962,984h-8" stroke="#222" stroke-width="2.2" fill="none"/>
<rect x="756" y="32" width="67" height="58" fill="#fff"/>
<text x="757.8" y="74.1" font-size="54.5" font-family="Liberation Serif, DejaVu Serif, serif">(</text>
<text transform="translate(775.8,78.4) scale(1.06,1)" font-size="62" font-family="Liberation Serif, DejaVu Serif, serif">c</text>
<text x="803.2" y="74.1" font-size="54.5" font-family="Liberation Serif, DejaVu Serif, serif">)</text>
<rect x="1398" y="28" width="74" height="62" fill="#fff"/>
<text x="1400.1" y="74.1" font-size="54.5" font-family="Liberation Serif, DejaVu Serif, serif">(</text>
<text transform="translate(1416.5,78.4) scale(1.13,1)" font-size="62" font-family="Liberation Serif, DejaVu Serif, serif">d</text>
<text x="1453.2" y="74.1" font-size="54.5" font-family="Liberation Serif, DejaVu Serif, serif">)</text>
<rect x="752" y="583" width="67.39999999999998" height="54.39999999999998" fill="#fff"/>
<text x="752.8" y="623.9" font-size="54.5" font-family="Liberation Serif, DejaVu Serif, serif">(</text>
<text transform="translate(768.4,627.6) scale(1.2,1)" font-size="62" font-family="Liberation Serif, DejaVu Serif, serif">e</text>
<text x="800.2" y="623.9" font-size="54.5" font-family="Liberation Serif, DejaVu Serif, serif">)</text>
<rect x="1393" y="580.5" width="55.700000000000045" height="55.5" fill="#fff"/>
<text x="1394.2" y="623.9" font-size="54.5" font-family="Liberation Serif, DejaVu Serif, serif">(</text>
<text transform="translate(1410.2,627.6) scale(1.0,1)" font-size="62" font-family="Liberation Serif, DejaVu Serif, serif">f</text>
<text x="1429.6" y="623.9" font-size="54.5" font-family="Liberation Serif, DejaVu Serif, serif">)</text>
<rect x="106" y="34" width="66" height="50" fill="#fff"/>
<text x="105.1" y="74.1" font-size="54.5" font-family="Liberation Serif, DejaVu Serif, serif">(</text>
<text transform="translate(123.3,78.4) scale(1.15,1)" font-size="62" font-family="Liberation Serif, DejaVu Serif, serif">a</text>
<text x="153.2" y="74.1" font-size="54.5" font-family="Liberation Serif, DejaVu Serif, serif">)</text>
<rect x="106" y="582" width="70" height="55" fill="#fff"/>
<text x="105.2" y="623.9" font-size="54.5" font-family="Liberation Serif, DejaVu Serif, serif">(</text>
<text transform="translate(126.7,627.6) scale(1.0,1)" font-size="62" font-family="Liberation Serif, DejaVu Serif, serif">b</text>
<text x="158.2" y="623.9" font-size="54.5" font-family="Liberation Serif, DejaVu Serif, serif">)</text></svg>
</body></html>
